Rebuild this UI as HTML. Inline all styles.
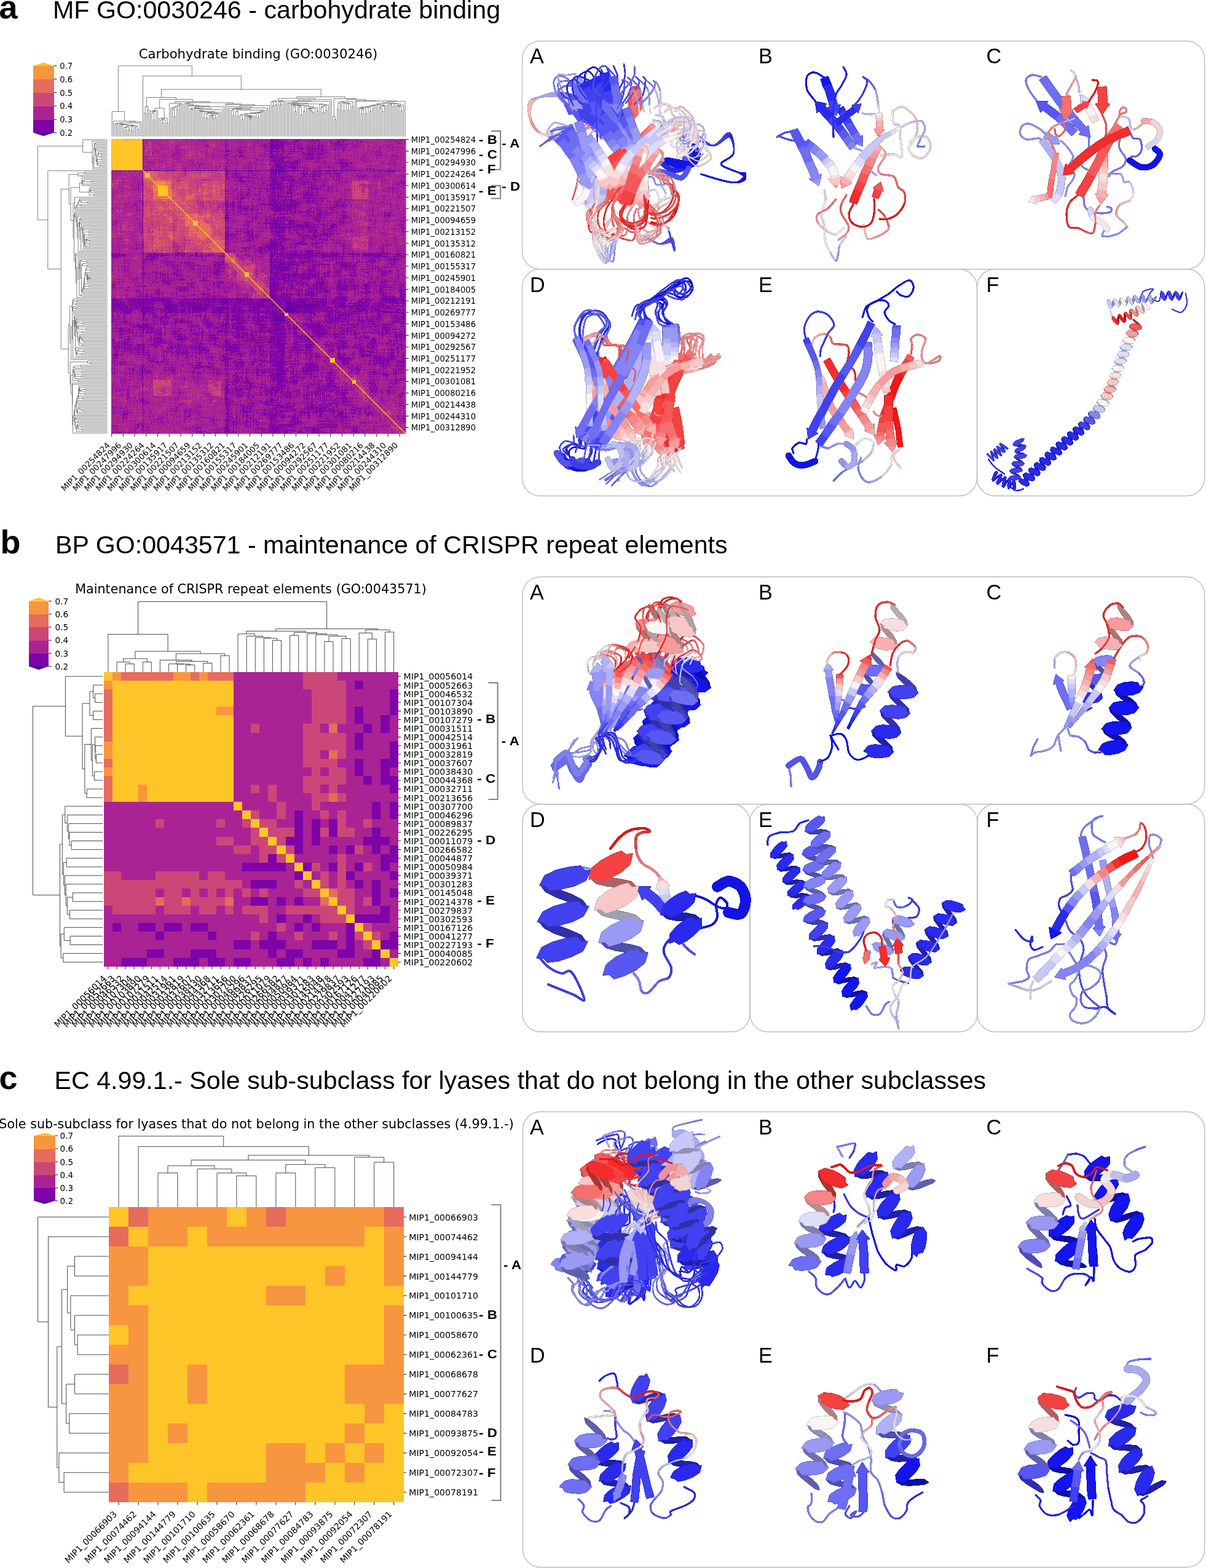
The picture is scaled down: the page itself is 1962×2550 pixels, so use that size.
<!DOCTYPE html>
<html><head><meta charset="utf-8"><title>figure</title>
<style>
html,body{margin:0;padding:0;background:#fff}
svg{display:block}
.dv{font-family:"DejaVu Sans","Liberation Sans",sans-serif;fill:#000}
.ls{font-family:"Liberation Sans","DejaVu Sans",sans-serif;fill:#000}
.tk{stroke:#262626;stroke-width:1.1;fill:none}
.dn{stroke:#2a2a2a;stroke-width:0.85;fill:none}
.da{stroke:#333;stroke-width:0.62;fill:none}
.br{stroke:#858585;stroke-width:2.1;fill:none}
.fr{stroke:#bdbdbd;stroke-width:1.4;fill:none}
.lp{fill:none;stroke-linecap:round;stroke-linejoin:round}
.sp{stroke-width:0.8;stroke-linejoin:round}
.hp{fill:none;stroke-linecap:round}
</style></head><body>
<svg width="1962" height="2550" viewBox="0 0 1962 2550">
<rect width="1962" height="2550" fill="#fff"/>
<text class="ls" x="-1.5" y="29.8" font-size="54" font-weight="bold">a</text>
<text class="ls" x="86" y="29.8" font-size="41.2">MF GO:0030246 - carbohydrate binding</text>
<text class="ls" x="0.5" y="900.4" font-size="54" font-weight="bold">b</text>
<text class="ls" x="90" y="900.4" font-size="41.2">BP GO:0043571 - maintenance of CRISPR repeat elements</text>
<text class="ls" x="-1.5" y="1771" font-size="54" font-weight="bold">c</text>
<text class="ls" x="88.5" y="1771" font-size="41.2">EC 4.99.1.- Sole sub-subclass for lyases that do not belong in the other subclasses</text>
<text class="dv" x="420" y="94.6" font-size="21.2" text-anchor="middle">Carbohydrate binding (GO:0030246)</text>
<g shape-rendering="crispEdges">
<rect x="54.1" y="194.2" width="33.6" height="22.1" fill="#7e03a8"/>
<rect x="54.1" y="172.4" width="33.6" height="22.1" fill="#aa2395"/>
<rect x="54.1" y="150.5" width="33.6" height="22.1" fill="#cc4778"/>
<rect x="54.1" y="128.7" width="33.6" height="22.1" fill="#e66c5c"/>
<rect x="54.1" y="106.9" width="33.6" height="22.1" fill="#f89540"/>
</g>
<path fill="#fdc527" d="M54.1 107.2L70.9 101.6L87.7 107.2z"/>
<path fill="#4c02a1" d="M54.1 215.7L70.9 221.3L87.7 215.7z"/>
<path class="tk" d="M87.7 216h4.6"/>
<text class="dv" x="97.2" y="221" font-size="13.2">0.2</text>
<path class="tk" d="M87.7 194.2h4.6"/>
<text class="dv" x="97.2" y="199.2" font-size="13.2">0.3</text>
<path class="tk" d="M87.7 172.4h4.6"/>
<text class="dv" x="97.2" y="177.4" font-size="13.2">0.4</text>
<path class="tk" d="M87.7 150.5h4.6"/>
<text class="dv" x="97.2" y="155.6" font-size="13.2">0.5</text>
<path class="tk" d="M87.7 128.7h4.6"/>
<text class="dv" x="97.2" y="133.7" font-size="13.2">0.6</text>
<path class="tk" d="M87.7 106.9h4.6"/>
<text class="dv" x="97.2" y="111.9" font-size="13.2">0.7</text>
<defs><filter id="hm" x="0" y="0" width="100%" height="100%" color-interpolation-filters="sRGB">
<feTurbulence type="fractalNoise" baseFrequency="0.6" numOctaves="1" seed="3"/><feColorMatrix type="matrix" values="1 0 0 0 0 1 0 0 0 0 1 0 0 0 0 0 0 0 0 1" result="g1"/>
<feTurbulence type="fractalNoise" baseFrequency="0.03 0.62" numOctaves="1" seed="5"/><feColorMatrix type="matrix" values="1 0 0 0 0 1 0 0 0 0 1 0 0 0 0 0 0 0 0 1" result="g2"/>
<feTurbulence type="fractalNoise" baseFrequency="0.62 0.03" numOctaves="1" seed="8"/><feColorMatrix type="matrix" values="1 0 0 0 0 1 0 0 0 0 1 0 0 0 0 0 0 0 0 1" result="g3"/>
<feTurbulence type="fractalNoise" baseFrequency="0.06" numOctaves="2" seed="11"/><feColorMatrix type="matrix" values="1 0 0 0 0 1 0 0 0 0 1 0 0 0 0 0 0 0 0 1" result="g4"/>
<feComposite in="g1" in2="g2" operator="arithmetic" k2="0.6" k3="0.38" k4="0.02" result="c1"/>
<feComposite in="g3" in2="g4" operator="arithmetic" k2="0.38" k3="0.4" k4="0.22" result="c2"/>
<feComposite in="c1" in2="c2" operator="arithmetic" k2="0.5" k3="0.5" result="c3"/>
<feComposite in="SourceGraphic" in2="c3" operator="arithmetic" k2="1" k3="1" k4="-0.56"/>
<feComponentTransfer><feFuncR type="discrete" tableValues="0.2980 0.4941 0.6667 0.8000 0.9020 0.9725 0.9922"/><feFuncG type="discrete" tableValues="0.0078 0.0118 0.1373 0.2784 0.4235 0.5843 0.7725"/><feFuncB type="discrete" tableValues="0.6314 0.6588 0.5843 0.4706 0.3608 0.2510 0.1529"/></feComponentTransfer>
</filter></defs>
<g transform="translate(181 226.2)"><g filter="url(#hm)"><g transform="scale(1.33855)" shape-rendering="crispEdges">
<rect width="358" height="358" fill="#494949"/>
<path fill="#404040" d="M0 193h38v18h-38zM193 0h18v38h-18z"/>
<path fill="#4b4b4b" d="M0 211h38v43h-38zM211 0h43v38h-43zM254 264h2v2h-2zM254 266h4v2h-4zM254 268h6v2h-6zM254 270h8v2h-8zM254 272h10v2h-10zM254 274h12v2h-12zM254 276h14v2h-14zM254 278h16v2h-16zM254 280h18v2h-18zM254 282h20v2h-20zM254 284h22v2h-22zM254 286h24v2h-24zM254 288h26v2h-26zM254 290h28v2h-28zM254 292h30v2h-30zM254 294h32v20h-32zM264 254h50v2h-50zM266 256h48v2h-48zM268 258h46v2h-46zM270 260h44v2h-44zM272 262h42v2h-42zM274 264h40v2h-40zM276 266h38v2h-38zM278 268h36v2h-36zM280 270h34v2h-34zM282 272h32v2h-32zM284 274h30v2h-30zM286 276h28v2h-28zM288 278h26v2h-26zM290 280h24v2h-24zM292 282h22v2h-22zM294 284h20v2h-20z"/>
<path fill="#4c4c4c" d="M0 138h38v5h-38zM138 0h5v38h-5zM143 286h50v72h-50zM286 143h72v50h-72z"/>
<path fill="#505050" d="M0 254h38v32h-38zM39 143h99v19h-99zM39 162h102v3h-102zM39 165h104v28h-104zM143 39h50v99h-50zM162 138h31v3h-31zM165 141h28v2h-28zM254 0h32v38h-32zM286 314h20v2h-20zM286 316h22v2h-22zM286 318h24v2h-24zM286 320h26v2h-26zM286 322h28v36h-28zM314 286h44v20h-44zM316 306h42v2h-42zM318 308h40v2h-40zM320 310h38v2h-38zM322 312h36v2h-36z"/>
<path fill="#575757" d="M0 143h38v50h-38zM0 286h38v72h-38zM143 0h50v38h-50zM254 254h10v2h-10zM254 256h12v2h-12zM254 258h14v2h-14zM254 260h16v2h-16zM254 262h18v2h-18zM256 264h18v2h-18zM258 266h18v2h-18zM260 268h18v2h-18zM262 270h18v2h-18zM264 272h18v2h-18zM266 274h18v2h-18zM268 276h18v2h-18zM270 278h18v2h-18zM272 280h18v2h-18zM274 282h18v2h-18zM276 284h18v2h-18zM278 286h8v2h-8zM280 288h6v2h-6zM282 290h4v2h-4zM284 292h2v2h-2zM286 296h2v2h-2zM286 298h4v2h-4zM286 300h6v2h-6zM286 302h8v2h-8zM286 304h10v2h-10zM286 306h12v2h-12zM286 308h14v2h-14zM286 310h16v2h-16zM286 312h18v2h-18zM286 0h72v38h-72zM296 286h18v2h-18zM298 288h16v2h-16zM300 290h14v2h-14zM302 292h12v2h-12zM304 294h10v2h-10zM306 296h8v2h-8zM308 298h6v2h-6zM310 300h4v2h-4zM312 302h2v2h-2z"/>
<path fill="#5f5f5f" d="M0 39h38v99h-38zM39 0h99v38h-99zM51 286h22v7h-22zM286 51h7v22h-7z"/>
<path fill="#ffffff" d="M0 0h38v38h-38z"/>
<path fill="#212121" d="M0 38h138v1h-138zM38 0h1v38h-1zM38 39h1v99h-1zM38 143h1v215h-1zM143 38h215v1h-215z"/>
<path fill="#161616" d="M38 138h1v5h-1zM138 38h5v1h-5z"/>
<path fill="#7c7c7c" d="M39 66h1v4h-1zM39 70h5v3h-5zM49 90h2v9h-2zM66 39h7v1h-7zM70 40h3v4h-3zM73 102h2v10h-2zM90 120h2v2h-2zM90 122h6v4h-6zM90 49h9v2h-9zM90 126h10v4h-10zM90 130h14v4h-14zM90 134h18v4h-18zM102 73h10v2h-10zM120 90h18v2h-18zM122 92h16v4h-16zM126 96h12v4h-12zM130 100h8v4h-8zM134 104h4v4h-4zM138 147h1v2h-1zM138 149h3v2h-3zM147 138h4v1h-4zM149 139h2v2h-2z"/>
<path fill="#878787" d="M39 52h1v2h-1zM39 54h3v2h-3zM39 56h5v2h-5zM39 58h7v2h-7zM39 60h9v2h-9zM39 62h11v2h-11zM39 64h12v2h-12zM40 66h11v4h-11zM44 70h7v3h-7zM49 73h11v1h-11zM49 74h13v1h-13zM51 90h13v4h-13zM51 94h17v4h-17zM51 98h21v1h-21zM52 39h14v1h-14zM54 40h16v2h-16zM54 99h18v3h-18zM54 102h19v2h-19zM56 42h14v2h-14zM58 44h15v2h-15zM59 104h14v5h-14zM60 46h13v2h-13zM62 48h11v1h-11zM62 49h13v1h-13zM64 109h9v3h-9zM64 50h11v1h-11zM73 51h2v9h-2zM73 90h2v12h-2zM74 60h1v2h-1zM75 75h13v1h-13zM75 76h15v12h-15zM76 88h14v2h-14zM90 118h2v2h-2zM90 51h9v3h-9zM90 73h12v2h-12zM90 54h14v5h-14zM90 59h19v5h-19zM92 120h16v2h-16zM94 64h18v4h-18zM96 122h14v2h-14zM96 124h16v2h-16zM98 68h14v4h-14zM100 126h14v2h-14zM100 128h16v2h-16zM102 72h10v1h-10zM104 130h14v2h-14zM104 132h16v2h-16zM108 134h14v2h-14zM108 136h16v2h-16zM118 90h2v2h-2zM120 92h2v4h-2zM120 96h6v4h-6zM120 100h10v4h-10zM120 104h14v4h-14zM122 108h16v2h-16zM124 110h14v2h-14zM126 112h12v2h-12zM128 114h10v2h-10zM130 116h8v2h-8zM132 118h6v2h-6zM134 120h4v2h-4zM136 122h2v2h-2zM153 153h10v2h-10zM153 155h12v2h-12zM153 157h14v2h-14zM153 159h16v2h-16zM153 161h18v2h-18zM155 163h18v2h-18zM157 165h16v2h-16zM159 167h14v2h-14zM161 169h12v2h-12zM163 171h10v2h-10z"/>
<path fill="#959595" d="M39 41h2v6h-2zM39 51h12v1h-12zM39 39h13v1h-13zM39 40h15v1h-15zM39 47h21v1h-21zM39 48h23v2h-23zM39 50h25v1h-25zM40 52h11v2h-11zM42 54h9v2h-9zM44 56h7v2h-7zM46 58h5v2h-5zM47 41h7v1h-7zM47 42h9v2h-9zM47 44h11v2h-11zM47 46h13v1h-13zM48 60h3v2h-3zM50 62h1v2h-1zM60 73h15v1h-15zM62 74h13v1h-13zM73 60h1v2h-1zM73 62h2v11h-2zM108 120h26v2h-26zM110 122h26v2h-26zM112 124h26v2h-26zM114 126h24v2h-24zM116 128h22v2h-22zM118 130h20v2h-20zM120 108h2v2h-2zM120 110h4v2h-4zM120 112h6v2h-6zM120 114h8v2h-8zM120 116h10v2h-10zM120 118h12v2h-12zM120 132h18v2h-18zM122 134h16v2h-16zM124 136h14v2h-14z"/>
<path fill="#717171" d="M39 89h5v1h-5zM89 39h1v5h-1z"/>
<path fill="#787878" d="M39 90h5v4h-5zM39 94h10v44h-10zM51 293h22v19h-22zM75 88h1v2h-1zM88 75h2v1h-2zM90 39h48v5h-48zM94 44h44v5h-44zM143 151h18v2h-18zM145 153h8v2h-8zM147 155h6v2h-6zM149 157h4v2h-4zM151 143h2v2h-2zM151 159h2v2h-2zM151 145h4v2h-4zM151 147h6v2h-6zM151 149h8v2h-8zM165 173h18v2h-18zM167 175h18v2h-18zM169 177h18v2h-18zM171 179h18v2h-18zM173 165h2v2h-2zM173 167h4v2h-4zM173 169h6v2h-6zM173 171h8v2h-8zM173 181h18v2h-18zM175 183h18v2h-18zM177 185h16v2h-16zM179 187h14v2h-14zM181 189h12v2h-12zM183 191h10v2h-10zM293 51h19v22h-19z"/>
<path fill="#818181" d="M39 73h5v1h-5zM39 74h9v1h-9zM44 90h5v4h-5zM73 39h2v5h-2zM74 44h1v4h-1zM90 44h4v5h-4z"/>
<path fill="#7a7a7a" d="M39 75h9v3h-9zM39 78h10v11h-10zM44 89h5v1h-5zM75 39h14v5h-14zM75 44h15v4h-15zM78 48h12v1h-12z"/>
<path fill="#4e4e4e" d="M39 264h12v22h-12zM39 254h99v10h-99zM73 264h65v22h-65zM221 224h3v6h-3zM222 230h2v2h-2zM224 221h6v1h-6zM224 222h8v2h-8zM238 247h9v1h-9zM240 248h7v2h-7zM242 250h5v2h-5zM244 252h3v2h-3zM247 238h1v2h-1zM247 240h3v2h-3zM247 242h5v2h-5zM247 244h7v3h-7zM254 51h10v22h-10zM254 39h32v12h-32zM254 73h32v65h-32z"/>
<path fill="#595959" d="M39 286h12v26h-12zM39 312h99v17h-99zM73 293h2v19h-2zM73 286h65v7h-65zM112 293h6v19h-6zM134 293h4v19h-4zM286 75h7v37h-7zM286 118h7v16h-7zM286 39h43v12h-43zM286 73h43v2h-43zM286 112h43v6h-43zM286 134h43v4h-43zM312 51h17v22h-17zM312 75h17v37h-17zM312 118h17v16h-17z"/>
<path fill="#3e3e3e" d="M39 193h99v18h-99zM138 254h5v32h-5zM193 39h18v99h-18zM193 254h18v32h-18zM254 138h32v5h-32zM254 193h32v18h-32z"/>
<path fill="#454545" d="M39 138h99v5h-99zM138 39h5v99h-5zM143 211h50v43h-50zM211 143h43v50h-43z"/>
<path fill="#494949" d="M39 211h99v43h-99zM143 254h50v32h-50zM211 39h43v99h-43zM211 286h43v72h-43zM224 224h10v2h-10zM224 226h12v2h-12zM224 228h14v2h-14zM224 230h16v2h-16zM224 232h18v2h-18zM226 234h18v2h-18zM228 236h18v2h-18zM230 238h17v2h-17zM232 240h15v2h-15zM234 242h13v2h-13zM236 244h11v2h-11zM238 246h9v1h-9zM254 143h32v50h-32zM286 211h72v43h-72z"/>
<path fill="#565656" d="M39 329h99v29h-99zM329 39h29v99h-29z"/>
<path fill="#e2e2e2" d="M41 41h6v6h-6z"/>
<path fill="#8c8c8c" d="M44 73h5v1h-5zM48 74h1v1h-1zM73 44h1v4h-1zM73 48h2v1h-2z"/>
<path fill="#858585" d="M48 75h1v3h-1zM75 48h3v1h-3z"/>
<path fill="#737373" d="M49 99h2v39h-2zM99 49h39v2h-39z"/>
<path fill="#757575" d="M49 82h2v8h-2zM49 78h3v4h-3zM75 102h1v4h-1zM75 106h5v4h-5zM75 110h9v4h-9zM75 114h13v4h-13zM75 118h15v6h-15zM78 51h4v1h-4zM78 49h12v2h-12zM79 124h11v5h-11zM84 129h6v5h-6zM89 134h1v4h-1zM102 75h22v1h-22zM106 76h18v3h-18zM106 79h23v1h-23zM110 80h19v4h-19zM114 84h20v4h-20zM118 88h16v1h-16zM118 89h20v1h-20zM153 163h2v2h-2zM153 165h4v2h-4zM153 167h6v2h-6zM153 169h8v2h-8zM153 171h10v2h-10zM163 153h10v2h-10zM165 155h8v2h-8zM167 157h6v2h-6zM169 159h4v2h-4zM171 161h2v2h-2z"/>
<path fill="#808080" d="M49 75h13v1h-13zM49 76h15v2h-15zM51 82h5v4h-5zM51 86h9v4h-9zM51 131h24v7h-24zM52 78h14v2h-14zM52 80h16v2h-16zM73 86h1v2h-1zM73 119h1v5h-1zM73 88h2v2h-2zM73 124h2v7h-2zM75 49h3v3h-3zM75 90h3v2h-3zM75 92h5v2h-5zM75 56h7v6h-7zM75 94h7v2h-7zM75 96h9v2h-9zM75 98h11v2h-11zM75 100h13v2h-13zM75 52h15v4h-15zM76 62h6v2h-6zM76 102h14v4h-14zM78 64h4v2h-4zM80 66h2v2h-2zM80 106h10v4h-10zM82 51h8v1h-8zM84 110h6v4h-6zM86 56h4v4h-4zM86 73h4v1h-4zM88 74h2v1h-2zM88 114h2v4h-2zM90 75h12v1h-12zM90 76h16v2h-16zM92 78h14v2h-14zM94 80h16v2h-16zM96 82h14v2h-14zM98 84h16v2h-16zM100 86h14v2h-14zM102 88h16v2h-16zM119 73h19v1h-19zM124 74h14v1h-14zM131 51h7v22h-7z"/>
<path fill="#a8a8a8" d="M51 64h1v2h-1zM51 66h3v2h-3zM51 68h5v2h-5zM51 70h7v2h-7zM51 72h9v1h-9zM64 51h9v1h-9zM66 52h7v2h-7zM68 54h5v2h-5zM70 56h3v2h-3zM72 58h1v2h-1z"/>
<path fill="#7e7e7e" d="M51 99h3v5h-3zM51 104h8v5h-8zM51 109h13v3h-13zM99 51h13v3h-13zM104 54h8v5h-8zM109 59h3v5h-3z"/>
<path fill="#8a8a8a" d="M51 112h13v2h-13zM51 114h18v5h-18zM51 119h22v12h-22zM56 82h14v2h-14zM56 84h16v2h-16zM60 86h13v4h-13zM82 56h4v4h-4zM82 60h8v10h-8zM84 70h6v2h-6zM86 72h4v1h-4zM112 51h19v13h-19zM114 64h17v5h-17zM119 69h12v4h-12z"/>
<path fill="#b6b6b6" d="M51 51h13v1h-13zM51 52h15v2h-15zM51 54h17v2h-17zM51 56h19v2h-19zM51 58h21v2h-21zM51 60h22v4h-22zM52 64h21v2h-21zM54 66h19v2h-19zM56 68h17v2h-17zM58 70h15v2h-15zM60 72h13v1h-13z"/>
<path fill="#545454" d="M51 264h22v22h-22zM212 212h10v2h-10zM212 214h12v2h-12zM212 221h12v1h-12zM212 216h14v2h-14zM212 218h16v2h-16zM212 220h18v1h-18zM214 222h10v2h-10zM216 224h5v2h-5zM218 226h3v2h-3zM220 228h1v2h-1zM246 254h8v2h-8zM247 247h9v1h-9zM247 248h11v2h-11zM247 250h13v2h-13zM247 252h15v2h-15zM248 256h6v2h-6zM250 258h4v2h-4zM252 260h2v2h-2zM254 246h2v1h-2zM264 51h22v22h-22zM314 324h2v2h-2zM314 326h4v2h-4zM314 328h6v2h-6zM314 330h8v2h-8zM314 332h10v2h-10zM314 334h12v2h-12zM314 336h14v2h-14zM314 338h16v2h-16zM314 340h18v2h-18zM314 342h20v2h-20zM314 344h22v2h-22zM314 346h24v2h-24zM314 348h26v2h-26zM314 350h28v2h-28zM314 352h30v2h-30zM314 354h32v2h-32zM314 356h34v2h-34zM324 314h34v2h-34zM326 316h32v2h-32zM328 318h30v2h-30zM330 320h28v2h-28zM332 322h26v2h-26zM334 324h24v2h-24zM336 326h22v2h-22zM338 328h20v2h-20zM340 330h18v2h-18zM342 332h16v2h-16zM344 334h14v2h-14zM346 336h12v2h-12zM348 338h10v2h-10zM350 340h8v2h-8zM352 342h6v2h-6zM354 344h4v2h-4zM356 346h2v2h-2z"/>
<path fill="#8e8e8e" d="M62 75h13v1h-13zM64 76h11v2h-11zM66 78h9v2h-9zM68 80h7v2h-7zM73 82h2v4h-2zM74 86h1v2h-1zM75 62h1v2h-1zM75 64h3v2h-3zM75 66h5v2h-5zM75 68h7v5h-7zM75 73h11v1h-11zM75 74h13v1h-13zM78 90h12v2h-12zM80 92h10v2h-10zM82 94h8v2h-8zM84 96h6v2h-6zM86 98h4v2h-4zM88 100h2v2h-2zM90 78h2v2h-2zM90 80h4v2h-4zM90 82h6v2h-6zM90 84h8v2h-8zM90 86h10v2h-10zM90 88h12v2h-12zM138 143h5v4h-5zM139 147h4v2h-4zM141 149h2v2h-2zM143 138h4v1h-4zM143 139h6v2h-6zM143 141h8v2h-8z"/>
<path fill="#929292" d="M64 90h9v4h-9zM68 94h5v4h-5zM72 98h1v4h-1zM90 104h2v2h-2zM90 64h4v4h-4zM90 106h4v2h-4zM90 108h6v2h-6zM90 68h8v4h-8zM90 110h8v2h-8zM90 112h10v2h-10zM90 72h12v1h-12zM90 114h12v2h-12zM90 116h14v2h-14zM92 118h14v2h-14zM104 90h14v2h-14zM106 92h14v2h-14zM108 94h12v2h-12zM110 96h10v2h-10zM112 98h8v2h-8zM114 100h6v2h-6zM116 102h4v2h-4zM118 104h2v2h-2z"/>
<path fill="#949494" d="M64 112h9v2h-9zM69 114h4v5h-4zM112 64h2v5h-2zM112 69h7v4h-7z"/>
<path fill="#999999" d="M70 82h3v2h-3zM72 84h1v2h-1zM82 70h2v2h-2zM82 72h4v1h-4zM143 143h8v8h-8z"/>
<path fill="#898989" d="M73 112h2v7h-2zM74 119h1v5h-1zM112 73h7v1h-7zM112 74h12v1h-12z"/>
<path fill="#6b6b6b" d="M75 124h4v5h-4zM75 129h9v5h-9zM75 134h14v4h-14zM124 75h14v4h-14zM129 79h9v5h-9zM134 84h4v5h-4z"/>
<path fill="#616161" d="M75 293h37v19h-37zM293 75h19v37h-19zM314 314h10v2h-10zM314 316h12v2h-12zM314 318h14v2h-14zM314 320h16v2h-16zM314 322h18v2h-18zM316 324h18v2h-18zM318 326h18v2h-18zM320 328h18v2h-18zM322 330h18v2h-18zM324 332h18v2h-18zM326 334h18v2h-18zM328 336h18v2h-18zM330 338h18v2h-18zM332 340h18v2h-18zM334 342h18v2h-18zM336 344h18v2h-18zM338 346h18v2h-18zM340 348h18v2h-18zM342 350h16v2h-16zM344 352h14v2h-14zM346 354h12v2h-12zM348 356h10v2h-10z"/>
<path fill="#a0a0a0" d="M90 90h14v2h-14zM90 92h16v2h-16zM90 94h18v2h-18zM90 96h20v2h-20zM90 98h22v2h-22zM90 100h24v2h-24zM90 102h26v2h-26zM92 104h26v2h-26zM94 106h26v2h-26zM96 108h24v2h-24zM98 110h22v2h-22zM100 112h20v2h-20zM102 114h18v2h-18zM104 116h16v2h-16zM106 118h14v2h-14z"/>
<path fill="#6f6f6f" d="M118 293h16v19h-16zM293 118h19v16h-19z"/>
<path fill="#313131" d="M138 193h5v18h-5zM193 138h18v5h-18z"/>
<path fill="#3a3a3a" d="M138 211h5v43h-5zM193 211h4v10h-4zM193 197h18v14h-18zM193 221h18v33h-18zM193 193h61v4h-61zM211 138h43v5h-43zM221 197h33v14h-33z"/>
<path fill="#424242" d="M138 286h5v72h-5zM193 286h18v72h-18zM211 212h1v8h-1zM212 211h8v1h-8zM221 230h1v2h-1zM221 232h3v15h-3zM221 247h17v1h-17zM221 248h19v2h-19zM221 250h21v2h-21zM221 252h23v2h-23zM230 221h24v1h-24zM232 222h22v2h-22zM247 224h7v14h-7zM248 238h6v2h-6zM250 240h4v2h-4zM252 242h2v2h-2zM286 138h72v5h-72zM286 193h72v18h-72z"/>
<path fill="#5b5b5b" d="M138 151h5v11h-5zM141 162h2v3h-2zM143 165h1v3h-1zM143 168h4v3h-4zM143 171h7v3h-7zM143 174h10v3h-10zM143 177h13v3h-13zM143 180h16v3h-16zM143 183h19v3h-19zM143 186h22v3h-22zM143 189h25v3h-25zM143 192h28v1h-28zM151 138h11v3h-11zM151 141h14v2h-14zM165 143h28v1h-28zM168 144h25v3h-25zM171 147h22v3h-22zM174 150h19v3h-19zM177 153h16v3h-16zM180 156h13v3h-13zM183 159h10v3h-10zM186 162h7v3h-7zM189 165h4v3h-4zM192 168h1v3h-1z"/>
<path fill="#838383" d="M138 138h5v5h-5z"/>
<path fill="#666666" d="M143 153h2v2h-2zM143 155h4v2h-4zM143 157h6v2h-6zM143 159h8v2h-8zM143 161h10v4h-10zM144 165h9v3h-9zM147 168h6v3h-6zM150 171h3v2h-3zM150 173h15v1h-15zM153 143h12v1h-12zM153 174h12v1h-12zM153 175h14v2h-14zM153 144h15v1h-15zM155 145h13v2h-13zM156 177h13v2h-13zM156 179h15v1h-15zM157 147h14v2h-14zM159 149h12v1h-12zM159 180h12v1h-12zM159 181h14v2h-14zM159 150h15v1h-15zM161 151h13v2h-13zM162 183h13v2h-13zM162 185h15v1h-15zM165 186h12v1h-12zM165 187h14v2h-14zM168 189h13v2h-13zM168 191h15v1h-15zM171 192h12v1h-12zM173 153h4v3h-4zM173 156h7v3h-7zM173 159h10v3h-10zM173 162h13v3h-13zM175 165h14v2h-14zM177 167h12v1h-12zM177 168h15v1h-15zM179 169h13v2h-13zM181 171h12v2h-12zM183 173h10v2h-10zM185 175h8v2h-8zM187 177h6v2h-6zM189 179h4v2h-4zM191 181h2v2h-2z"/>
<path fill="#3c3c3c" d="M143 193h50v18h-50zM193 143h18v50h-18zM224 234h2v2h-2zM224 236h4v2h-4zM224 238h6v2h-6zM224 240h8v2h-8zM224 242h10v2h-10zM224 244h12v2h-12zM224 246h14v1h-14zM234 224h13v2h-13zM236 226h11v2h-11zM238 228h9v2h-9zM240 230h7v2h-7zM242 232h5v2h-5zM244 234h3v2h-3zM246 236h1v2h-1z"/>
<path fill="#282828" d="M197 211h14v10h-14zM211 197h10v14h-10z"/>
<path fill="#2f2f2f" d="M211 211h1v1h-1z"/>
<path fill="#353535" d="M211 220h1v1h-1zM220 211h1v1h-1z"/>
<path fill="#474747" d="M211 221h1v1h-1zM211 222h3v2h-3zM211 224h5v2h-5zM211 226h7v2h-7zM211 228h9v2h-9zM211 230h10v24h-10zM211 254h35v2h-35zM211 256h37v2h-37zM211 258h39v2h-39zM211 260h41v2h-41zM211 262h43v24h-43zM221 211h65v1h-65zM222 212h64v2h-64zM224 214h62v2h-62zM226 216h60v2h-60zM228 218h58v2h-58zM230 220h56v1h-56zM254 221h32v25h-32zM254 314h32v44h-32zM256 246h30v2h-30zM258 248h28v2h-28zM260 250h26v2h-26zM262 252h24v2h-24zM314 254h44v32h-44z"/>
<path fill="#646464" d="M286 286h10v2h-10zM286 288h12v2h-12zM286 290h14v2h-14zM286 292h16v2h-16zM286 294h18v2h-18zM288 296h18v2h-18zM290 298h18v2h-18zM292 300h18v2h-18zM294 302h18v2h-18zM296 304h18v2h-18zM298 306h16v2h-16zM300 308h14v2h-14zM302 310h12v2h-12zM304 312h10v2h-10z"/>
<path fill="#5d5d5d" d="M306 314h8v2h-8zM308 316h6v2h-6zM310 318h4v2h-4zM312 320h2v2h-2zM314 306h2v2h-2zM314 308h4v2h-4zM314 310h6v2h-6zM314 312h8v2h-8z"/>
</g></g>
<g transform="scale(1.33855)" shape-rendering="crispEdges">
<rect x="0" y="0" width="38" height="38" fill="#fdc527"/>
<path fill="#f89540" d="M7 0h1v1h-1zM0 7h1v1h-1zM12 0h1v1h-1zM0 12h1v1h-1zM14 0h1v1h-1zM0 14h1v1h-1zM17 0h1v1h-1zM0 17h1v1h-1zM18 0h1v1h-1zM0 18h1v1h-1zM19 0h1v1h-1zM0 19h1v1h-1zM22 0h1v1h-1zM0 22h1v1h-1zM24 0h1v1h-1zM0 24h1v1h-1zM26 0h1v1h-1zM0 26h1v1h-1zM27 0h1v1h-1zM0 27h1v1h-1zM29 0h1v1h-1zM0 29h1v1h-1zM30 0h1v1h-1zM0 30h1v1h-1zM33 0h1v1h-1zM0 33h1v1h-1zM37 0h1v1h-1zM0 37h1v1h-1z"/>
<path d="M38 38L358 358" stroke="#fdc527" stroke-width="1.05" shape-rendering="auto"/>
<path fill="#fdc527" d="M41 41h6v6h-6zM57 57h12v12h-12zM99 99h6v6h-6zM162 162h5v5h-5zM211 211h4v4h-4zM266 266h6v6h-6zM293 293h4v4h-4z"/>
</g></g>
<path class="da" d="M187 222V202H189.4V222M188.2 202V200.6H191.8V222M203.8 222V211.5H206.2V222M201.4 222V207.4H205V211.5M208.6 222V211.5H210.9V222M203.2 207.4V206.7H209.8V211.5M213.3 222V212.7H215.7V222M214.5 212.7V204.8H218.1V222M206.5 206.7V204.7H216.3V204.8M222.9 222V210.2H225.3V222M220.5 222V205.8H224.1V210.2M211.4 204.7V204.6H222.3V205.8M199 222V202.9H216.9V204.6M196.6 222V202.4H207.9V202.9M194.2 222V202.2H202.2V202.4M190 200.6V200.3H198.2V202.2M194.1 200.3V199.9H227.7V222M210.9 199.9V198H230.1V222M184.6 222V197H220.5V198M182.2 222V181.4H202.6V197M234.9 222V184H237.3V222M239.7 222V179H242.1V222M236.1 184V173.5H240.9V179M249.3 222V195H251.7V222M246.9 222V183.7H250.5V195M248.7 183.7V181.5H254.1V222M244.5 222V180.4H251.4V181.5M247.9 180.4V180H256.5V222M263.7 222V199.8H266.1V222M261.3 222V195.2H264.9V199.8M263.1 195.2V194.6H268.5V222M258.9 222V192.7H265.8V194.6M270.9 222V200.1H273.2V222M262.3 192.7V192H272V200.1M252.2 180V176H267.2V192M282.8 222V189.4H285.2V222M280.4 222V178.4H284V189.4M278 222V176.2H282.2V178.4M287.6 222V178H290V222M280.1 176.2V174.9H288.8V178M284.5 174.9V172.8H292.4V222M288.4 172.8V171H294.8V222M291.6 171V169.1H297.2V222M275.6 222V168H294.4V169.1M311.6 222V178.5H314V222M309.2 222V177.1H312.8V178.5M330.8 222V191H333.1V222M335.5 222V192.2H337.9V222M345.1 222V192.5H347.5V222M342.7 222V189.8H346.3V192.5M349.9 222V192.1H352.3V222M344.5 189.8V187.9H351.1V192.1M340.3 222V187.3H347.8V187.9M344.1 187.3V185.2H354.7V222M349.4 185.2V184.7H357.1V222M336.7 192.2V184.1H353.2V184.7M331.9 191V183.8H345V184.1M338.5 183.8V182.4H359.5V222M328.4 222V181.5H349V182.4M326 222V181.2H338.7V181.5M323.6 222V181.1H332.3V181.2M321.2 222V179.2H327.9V181.1M324.6 179.2V178.4H361.9V222M318.8 222V176.3H343.2V178.4M316.4 222V176.1H331V176.3M311 177.1V175.8H323.7V176.1M317.3 175.8V173.6H364.3V222M306.8 222V172.3H340.8V173.6M304.4 222V171.3H323.8V172.3M302 222V169.3H314.1V171.3M299.6 222V168H308V169.3M378.7 222V187.8H381.1V222M376.3 222V179.1H379.9V187.8M385.9 222V188.5H388.3V222M383.5 222V181H387.1V188.5M393 222V194.2H395.4V222M390.6 222V187H394.2V194.2M405 222V193.2H407.4V222M406.2 193.2V192.9H409.8V222M402.6 222V191H408V192.9M405.3 191V190.6H412.2V222M400.2 222V189.4H408.8V190.6M404.5 189.4V188.8H414.6V222M397.8 222V188H409.6V188.8M392.4 187V186.4H403.7V188M398.1 186.4V184.6H417V222M419.4 222V191.3H421.8V222M407.5 184.6V183.5H420.6V191.3M414.1 183.5V183.4H424.2V222M419.1 183.4V182.5H426.6V222M422.9 182.5V180.9H429V222M425.9 180.9V179.7H431.4V222M385.3 181V179.2H428.7V179.7M378.1 179.1V177.4H407V179.2M373.9 222V176.3H392.5V177.4M433.8 222V178.6H436.2V222M383.2 176.3V175.6H435V178.6M371.5 222V173.6H409.1V175.6M390.3 173.6V171.5H438.6V222M369.1 222V170H414.4V171.5M366.7 222V169H391.8V170M303.8 168V167H379.2V169M285 168V165.5H341.5V167M259.7 176V161.5H313.3V165.5M238.5 173.5V158.5H286.5V161.5M443.4 222V171.5H445.8V222M441 222V165.5H444.6V171.5M448.2 222V170.4H450.6V222M442.8 165.5V164.8H449.4V170.4M455.3 222V169.6H457.7V222M452.9 222V165.6H456.5V169.6M454.7 165.6V164.5H460.1V222M457.4 164.5V164.2H462.5V222M446.1 164.8V164H460V164.2M479.3 222V181.6H481.7V222M476.9 222V173H480.5V181.6M488.9 222V186.6H491.3V222M486.5 222V174.1H490.1V186.6M484.1 222V172.1H488.3V174.1M493.7 222V181.1H496.1V222M508.1 222V183.1H510.4V222M505.7 222V180.9H509.3V183.1M503.3 222V179.6H507.5V180.9M500.9 222V177.7H505.4V179.6M503.1 177.7V176.5H512.8V222M498.5 222V176.1H508V176.5M515.2 222V180.3H517.6V222M503.2 176.1V175H516.4V180.3M494.9 181.1V173.1H509.8V175M486.2 172.1V171.6H502.4V173.1M478.7 173V171.1H494.3V171.6M474.5 222V170.6H486.5V171.1M472.1 222V169.7H480.5V170.6M524.8 222V182.9H527.2V222M522.4 222V174.2H526V182.9M529.6 222V179.4H532V222M524.2 174.2V172.3H530.8V179.4M527.5 172.3V170.9H534.4V222M520 222V169.9H531V170.9M476.3 169.7V169H525.5V169.9M469.7 222V167.9H500.9V169M467.3 222V167.2H485.3V167.9M476.3 167.2V165H536.8V222M464.9 222V164.1H506.6V165M485.7 164.1V162H539.2V222M453 164V160H512.5V162M544 222V194H546.4V222M541.6 222V189H545.2V194M548.8 222V177.8H551.2V222M550 177.8V167.5H553.6V222M558.4 222V180H560.8V222M565.6 222V179.4H568V222M563.2 222V169.2H566.8V179.4M565 169.2V168.2H570.3V222M559.6 180V167.4H567.7V168.2M556 222V167.3H563.6V167.4M551.8 167.5V165.7H559.8V167.3M572.7 222V173.5H575.1V222M555.8 165.7V165H573.9V173.5M587.1 222V185.2H589.5V222M588.3 185.2V178.5H591.9V222M584.7 222V176.4H590.1V178.5M594.3 222V184.5H596.7V222M587.4 176.4V176.1H595.5V184.5M582.3 222V175.2H591.5V176.1M586.9 175.2V174.2H599.1V222M601.5 222V180.6H603.9V222M593 174.2V174H602.7V180.6M597.8 174V172.8H606.3V222M602.1 172.8V171.4H608.7V222M605.4 171.4V171.2H611.1V222M620.7 222V181.2H623.1V222M618.3 222V176.9H621.9V181.2M615.9 222V174.9H620.1V176.9M618 174.9V172.8H625.5V222M621.7 172.8V171.8H627.9V222M613.5 222V170.3H624.8V171.8M608.2 171.2V170.1H619.1V170.3M613.7 170.1V168H630.2V222M635 222V170.2H637.4V222M632.6 222V168.7H636.2V170.2M639.8 222V173.3H642.2V222M651.8 222V179.9H654.2V222M649.4 222V173.5H653V179.9M647 222V172.4H651.2V173.5M644.6 222V172.1H649.1V172.4M646.9 172.1V170.9H656.6V222M641 173.3V168.9H651.7V170.9M634.4 168.7V168.3H646.4V168.9M622 168V167H640.4V168.3M631.2 167V164.8H659V222M579.9 222V164.2H645.1V164.8M577.5 222V164H612.5V164.2M564.9 165V161.5H595V164M543.4 189V160.5H579.9V161.5M482.7 160V157.5H561.7V160.5M262.5 158.5V145.3H522.2V157.5M232.5 222V123.6H392.4V145.3M192.4 181.4V107H312.4V123.6"/>
<path class="da" d="M174.7 232.2H155V234.6H174.7M155 233.4H153.6V237H174.7M174.7 249H164.3V251.4H174.7M174.7 246.6H160.4V250.2H164.3M174.7 253.8H164.3V256.1H174.7M160.4 248.4H159.7V255H164.3M174.7 258.5H165.6V260.9H174.7M165.6 259.7H157.8V263.3H174.7M159.7 251.7H157.7V261.5H157.8M174.7 268.1H163.1V270.5H174.7M174.7 265.7H158.7V269.3H163.1M157.7 256.6H157.6V267.5H158.7M174.7 244.2H155.9V262.1H157.6M174.7 241.8H155.4V253.1H155.9M174.7 239.4H155.2V247.4H155.4M153.6 235.2H153.3V243.4H155.2M153.3 239.3H152.9V272.9H174.7M152.9 256.1H151.1V275.3H174.7M174.7 229.8H150.1V265.7H151.1M174.7 227.4H134.7V247.8H150.1M174.7 280.1H137.3V282.5H174.7M174.7 284.9H132.3V287.3H174.7M137.3 281.3H126.9V286.1H132.3M174.7 294.5H148.1V296.9H174.7M174.7 292.1H136.9V295.7H148.1M136.9 293.9H134.8V299.3H174.7M174.7 289.7H133.7V296.6H134.8M133.7 293.1H133.3V301.7H174.7M174.7 308.9H152.8V311.3H174.7M174.7 306.5H148.3V310.1H152.8M148.3 308.3H147.7V313.7H174.7M174.7 304.1H145.9V311H147.7M174.7 316H153.1V318.4H174.7M145.9 307.5H145.1V317.2H153.1M133.3 297.4H129.4V312.4H145.1M174.7 328H142.6V330.4H174.7M174.7 325.6H131.7V329.2H142.6M174.7 323.2H129.6V327.4H131.7M174.7 332.8H131.4V335.2H174.7M129.6 325.3H128.3V334H131.4M128.3 329.7H126.2V337.6H174.7M126.2 333.6H124.4V340H174.7M124.4 336.8H122.5V342.4H174.7M174.7 320.8H121.5V339.6H122.5M174.7 356.8H131.9V359.2H174.7M174.7 354.4H130.5V358H131.9M174.7 375.9H144.2V378.3H174.7M174.7 380.7H145.4V383.1H174.7M174.7 390.3H145.6V392.7H174.7M174.7 387.9H143V391.5H145.6M174.7 395.1H145.3V397.5H174.7M143 389.7H141.1V396.3H145.3M174.7 385.5H140.5V393H141.1M140.5 389.3H138.5V399.9H174.7M138.5 394.6H137.9V402.3H174.7M145.4 381.9H137.3V398.4H137.9M144.2 377.1H137V390.2H137.3M137 383.7H135.7V404.7H174.7M174.7 373.6H134.8V394.2H135.7M174.7 371.2H134.5V383.9H134.8M174.7 368.8H134.4V377.5H134.5M174.7 366.4H132.5V373.1H134.4M132.5 369.8H131.7V407.1H174.7M174.7 364H129.7V388.4H131.7M174.7 361.6H129.4V376.2H129.7M130.5 356.2H129.2V368.9H129.4M129.2 362.5H127.1V409.5H174.7M174.7 352H125.8V386H127.1M174.7 349.6H124.8V369H125.8M174.7 347.2H122.8V359.3H124.8M174.7 344.8H121.5V353.2H122.8M174.7 423.9H141V426.3H174.7M174.7 421.5H132.4V425.1H141M174.7 431.1H141.7V433.5H174.7M174.7 428.7H134.3V432.3H141.7M174.7 438.2H147.3V440.6H174.7M174.7 435.9H140.2V439.4H147.3M174.7 450.2H146.3V452.6H174.7M146.3 451.4H146V455H174.7M174.7 447.8H144.2V453.2H146M144.2 450.5H143.7V457.4H174.7M174.7 445.4H142.5V454H143.7M142.5 449.7H142V459.8H174.7M174.7 443H141.2V454.8H142M140.2 437.6H139.6V448.9H141.2M139.6 443.3H137.8V462.2H174.7M174.7 464.6H144.5V467H174.7M137.8 452.7H136.8V465.8H144.5M136.8 459.3H136.6V469.4H174.7M136.6 464.3H135.7V471.8H174.7M135.7 468.1H134.2V474.2H174.7M134.2 471.1H133.1V476.6H174.7M134.3 430.5H132.5V473.9H133.1M132.4 423.3H130.7V452.2H132.5M174.7 419.1H129.7V437.7H130.7M174.7 479H131.9V481.4H174.7M129.7 428.4H129V480.2H131.9M174.7 416.7H127V454.3H129M127 435.5H124.9V483.8H174.7M174.7 414.3H123.5V459.6H124.9M174.7 411.9H122.5V437H123.5M121.5 349H120.5V424.4H122.5M121.5 330.2H119V386.7H120.5M129.4 304.9H115.1V358.5H119M126.9 283.7H112.2V331.7H115.1M174.7 488.6H125V491H174.7M174.7 486.2H119V489.8H125M174.7 493.4H123.8V495.8H174.7M119 488H118.3V494.6H123.8M174.7 500.5H123.1V502.9H174.7M174.7 498.1H119.2V501.7H123.1M119.2 499.9H118.1V505.3H174.7M118.1 502.6H117.8V507.7H174.7M118.3 491.3H117.6V505.2H117.8M174.7 524.5H134.9V526.9H174.7M174.7 522.1H126.4V525.7H134.9M174.7 534.1H139.8V536.5H174.7M174.7 531.7H127.5V535.3H139.8M174.7 529.3H125.6V533.5H127.5M174.7 538.9H134.4V541.3H174.7M174.7 553.3H136.4V555.6H174.7M174.7 550.9H134.2V554.5H136.4M174.7 548.5H132.9V552.7H134.2M174.7 546.1H131.1V550.6H132.9M131.1 548.3H129.8V558H174.7M174.7 543.7H129.5V553.2H129.8M174.7 560.4H133.6V562.8H174.7M129.5 548.4H128.4V561.6H133.6M134.4 540.1H126.6V555H128.4M125.6 531.4H125V547.6H126.6M126.4 523.9H124.6V539.5H125M174.7 519.7H124V531.7H124.6M174.7 517.3H123.2V525.7H124M174.7 570H136.2V572.4H174.7M174.7 567.6H127.6V571.2H136.2M174.7 574.8H132.7V577.2H174.7M127.6 569.4H125.7V576H132.7M125.7 572.7H124.4V579.6H174.7M174.7 565.2H123.4V576.2H124.4M123.2 521.5H122.5V570.7H123.4M174.7 514.9H121.4V546.1H122.5M174.7 512.5H120.7V530.5H121.4M120.7 521.5H118.6V582H174.7M174.7 510.1H117.6V551.8H118.6M117.6 530.9H115.6V584.4H174.7M117.6 498.2H113.6V557.7H115.6M174.7 589.2H147.1V591.6H174.7M174.7 586.8H142.2V590.4H147.1M174.7 594H131.2V596.4H174.7M131.2 595.2H121V598.8H174.7M174.7 603.6H133.3V606H174.7M174.7 610.8H132.8V613.2H174.7M174.7 608.4H122.6V612H132.8M122.6 610.2H121.7V615.5H174.7M133.3 604.8H120.9V612.9H121.7M174.7 601.2H120.8V608.8H120.9M121 597H119.2V605H120.8M174.7 617.9H126.9V620.3H174.7M119.2 601H118.6V619.1H126.9M174.7 632.3H138.5V634.7H174.7M138.5 633.5H131.9V637.1H174.7M174.7 629.9H129.7V635.3H131.9M174.7 639.5H137.7V641.9H174.7M129.7 632.6H129.5V640.7H137.7M174.7 627.5H128.6V636.7H129.5M128.6 632.1H127.6V644.3H174.7M174.7 646.7H133.9V649.1H174.7M127.6 638.2H127.5V647.9H133.9M127.5 643H126.2V651.5H174.7M126.2 647.3H124.9V653.9H174.7M124.9 650.6H124.7V656.3H174.7M174.7 665.9H134.5V668.3H174.7M174.7 663.5H130.2V667.1H134.5M174.7 661.1H128.3V665.3H130.2M128.3 663.2H126.2V670.7H174.7M126.2 666.9H125.3V673.1H174.7M174.7 658.7H123.8V670H125.3M124.7 653.4H123.6V664.3H123.8M123.6 658.9H121.5V675.5H174.7M174.7 680.2H123.7V682.6H174.7M174.7 677.8H122.2V681.4H123.7M174.7 685H126.7V687.4H174.7M174.7 697H133.2V699.4H174.7M174.7 694.6H126.9V698.2H133.2M174.7 692.2H125.9V696.4H126.9M174.7 689.8H125.5V694.3H125.9M125.5 692.1H124.4V701.8H174.7M126.7 686.2H122.4V696.9H124.4M122.2 679.6H121.8V691.6H122.4M121.5 667.2H120.5V685.6H121.8M120.5 676.4H118.4V704.2H174.7M174.7 625.1H117.8V690.3H118.4M174.7 622.7H117.6V657.7H117.8M118.6 610.1H115.1V640.2H117.6M142.2 588.6H114.1V625.1H115.1M113.6 527.9H111.2V606.9H114.1M112.2 307.7H99.2V567.4H111.2M174.7 277.7H77.8V437.6H99.2M134.7 237.6H61.4V357.6H77.8"/>
<text class="dv" x="668.8" y="231.9" font-size="13.2">MIP1_00254824</text>
<text class="dv" x="668.8" y="250.6" font-size="13.2">MIP1_00247996</text>
<text class="dv" x="668.8" y="269.4" font-size="13.2">MIP1_00294930</text>
<text class="dv" x="668.8" y="288.1" font-size="13.2">MIP1_00224264</text>
<text class="dv" x="668.8" y="306.8" font-size="13.2">MIP1_00300614</text>
<text class="dv" x="668.8" y="325.6" font-size="13.2">MIP1_00135917</text>
<text class="dv" x="668.8" y="344.3" font-size="13.2">MIP1_00221507</text>
<text class="dv" x="668.8" y="363.1" font-size="13.2">MIP1_00094659</text>
<text class="dv" x="668.8" y="381.8" font-size="13.2">MIP1_00213152</text>
<text class="dv" x="668.8" y="400.5" font-size="13.2">MIP1_00135312</text>
<text class="dv" x="668.8" y="419.3" font-size="13.2">MIP1_00160821</text>
<text class="dv" x="668.8" y="438" font-size="13.2">MIP1_00155317</text>
<text class="dv" x="668.8" y="456.8" font-size="13.2">MIP1_00245901</text>
<text class="dv" x="668.8" y="475.5" font-size="13.2">MIP1_00184005</text>
<text class="dv" x="668.8" y="494.2" font-size="13.2">MIP1_00212191</text>
<text class="dv" x="668.8" y="513" font-size="13.2">MIP1_00269777</text>
<text class="dv" x="668.8" y="531.7" font-size="13.2">MIP1_00153486</text>
<text class="dv" x="668.8" y="550.5" font-size="13.2">MIP1_00094272</text>
<text class="dv" x="668.8" y="569.2" font-size="13.2">MIP1_00292567</text>
<text class="dv" x="668.8" y="587.9" font-size="13.2">MIP1_00251177</text>
<text class="dv" x="668.8" y="606.7" font-size="13.2">MIP1_00221952</text>
<text class="dv" x="668.8" y="625.4" font-size="13.2">MIP1_00301081</text>
<text class="dv" x="668.8" y="644.2" font-size="13.2">MIP1_00080216</text>
<text class="dv" x="668.8" y="662.9" font-size="13.2">MIP1_00214438</text>
<text class="dv" x="668.8" y="681.6" font-size="13.2">MIP1_00244310</text>
<text class="dv" x="668.8" y="700.4" font-size="13.2">MIP1_00312890</text>
<path class="tk" d="M660.2 226.9h4.6M660.2 245.6h4.6M660.2 264.3h4.6M660.2 283.1h4.6M660.2 301.8h4.6M660.2 320.6h4.6M660.2 339.3h4.6M660.2 358h4.6M660.2 376.8h4.6M660.2 395.5h4.6M660.2 414.3h4.6M660.2 433h4.6M660.2 451.7h4.6M660.2 470.5h4.6M660.2 489.2h4.6M660.2 508h4.6M660.2 526.7h4.6M660.2 545.4h4.6M660.2 564.2h4.6M660.2 582.9h4.6M660.2 601.7h4.6M660.2 620.4h4.6M660.2 639.1h4.6M660.2 657.9h4.6M660.2 676.6h4.6M660.2 695.4h4.6"/>
<text class="dv" x="179.6" y="725" font-size="13.2" text-anchor="end" transform="rotate(-45 179.6 725)">MIP1_00254824</text>
<text class="dv" x="198.3" y="725" font-size="13.2" text-anchor="end" transform="rotate(-45 198.3 725)">MIP1_00247996</text>
<text class="dv" x="217" y="725" font-size="13.2" text-anchor="end" transform="rotate(-45 217 725)">MIP1_00294930</text>
<text class="dv" x="235.8" y="725" font-size="13.2" text-anchor="end" transform="rotate(-45 235.8 725)">MIP1_00224264</text>
<text class="dv" x="254.5" y="725" font-size="13.2" text-anchor="end" transform="rotate(-45 254.5 725)">MIP1_00300614</text>
<text class="dv" x="273.3" y="725" font-size="13.2" text-anchor="end" transform="rotate(-45 273.3 725)">MIP1_00135917</text>
<text class="dv" x="292" y="725" font-size="13.2" text-anchor="end" transform="rotate(-45 292 725)">MIP1_00221507</text>
<text class="dv" x="310.7" y="725" font-size="13.2" text-anchor="end" transform="rotate(-45 310.7 725)">MIP1_00094659</text>
<text class="dv" x="329.5" y="725" font-size="13.2" text-anchor="end" transform="rotate(-45 329.5 725)">MIP1_00213152</text>
<text class="dv" x="348.2" y="725" font-size="13.2" text-anchor="end" transform="rotate(-45 348.2 725)">MIP1_00135312</text>
<text class="dv" x="367" y="725" font-size="13.2" text-anchor="end" transform="rotate(-45 367 725)">MIP1_00160821</text>
<text class="dv" x="385.7" y="725" font-size="13.2" text-anchor="end" transform="rotate(-45 385.7 725)">MIP1_00155317</text>
<text class="dv" x="404.4" y="725" font-size="13.2" text-anchor="end" transform="rotate(-45 404.4 725)">MIP1_00245901</text>
<text class="dv" x="423.2" y="725" font-size="13.2" text-anchor="end" transform="rotate(-45 423.2 725)">MIP1_00184005</text>
<text class="dv" x="441.9" y="725" font-size="13.2" text-anchor="end" transform="rotate(-45 441.9 725)">MIP1_00212191</text>
<text class="dv" x="460.7" y="725" font-size="13.2" text-anchor="end" transform="rotate(-45 460.7 725)">MIP1_00269777</text>
<text class="dv" x="479.4" y="725" font-size="13.2" text-anchor="end" transform="rotate(-45 479.4 725)">MIP1_00153486</text>
<text class="dv" x="498.1" y="725" font-size="13.2" text-anchor="end" transform="rotate(-45 498.1 725)">MIP1_00094272</text>
<text class="dv" x="516.9" y="725" font-size="13.2" text-anchor="end" transform="rotate(-45 516.9 725)">MIP1_00292567</text>
<text class="dv" x="535.6" y="725" font-size="13.2" text-anchor="end" transform="rotate(-45 535.6 725)">MIP1_00251177</text>
<text class="dv" x="554.4" y="725" font-size="13.2" text-anchor="end" transform="rotate(-45 554.4 725)">MIP1_00221952</text>
<text class="dv" x="573.1" y="725" font-size="13.2" text-anchor="end" transform="rotate(-45 573.1 725)">MIP1_00301081</text>
<text class="dv" x="591.8" y="725" font-size="13.2" text-anchor="end" transform="rotate(-45 591.8 725)">MIP1_00080216</text>
<text class="dv" x="610.6" y="725" font-size="13.2" text-anchor="end" transform="rotate(-45 610.6 725)">MIP1_00214438</text>
<text class="dv" x="629.3" y="725" font-size="13.2" text-anchor="end" transform="rotate(-45 629.3 725)">MIP1_00244310</text>
<text class="dv" x="648.1" y="725" font-size="13.2" text-anchor="end" transform="rotate(-45 648.1 725)">MIP1_00312890</text>
<path class="tk" d="M181.7 705.4v4.6M200.4 705.4v4.6M219.1 705.4v4.6M237.9 705.4v4.6M256.6 705.4v4.6M275.4 705.4v4.6M294.1 705.4v4.6M312.8 705.4v4.6M331.6 705.4v4.6M350.3 705.4v4.6M369.1 705.4v4.6M387.8 705.4v4.6M406.5 705.4v4.6M425.3 705.4v4.6M444 705.4v4.6M462.8 705.4v4.6M481.5 705.4v4.6M500.2 705.4v4.6M519 705.4v4.6M537.7 705.4v4.6M556.5 705.4v4.6M575.2 705.4v4.6M593.9 705.4v4.6M612.7 705.4v4.6M631.4 705.4v4.6M650.2 705.4v4.6"/>
<path class="br" d="M799 213.1H814.2V275.7H799"/>
<path class="br" d="M799 301.9H814.2V322.8H799"/>
<text class="ls" font-size="19.8" font-weight="bold" transform="translate(779.1 234.3) scale(1.13 1)">- B</text>
<text class="ls" font-size="19.8" font-weight="bold" transform="translate(779.1 258.3) scale(1.13 1)">- C</text>
<text class="ls" font-size="19.8" font-weight="bold" transform="translate(779.1 282.2) scale(1.13 1)">- F</text>
<text class="ls" font-size="19.8" font-weight="bold" transform="translate(779.1 316.5) scale(1.13 1)">- E</text>
<text class="ls" font-size="19.8" font-weight="bold" transform="translate(816.3 240) scale(1.13 1)">- A</text>
<text class="ls" font-size="19.8" font-weight="bold" transform="translate(816.3 309.7) scale(1.13 1)">- D</text>
<text class="dv" x="408" y="965" font-size="20.7" text-anchor="middle">Maintenance of CRISPR repeat elements (GO:0043571)</text>
<g shape-rendering="crispEdges">
<rect x="46.7" y="1062.5" width="32.5" height="21.6" fill="#7e03a8"/>
<rect x="46.7" y="1041.3" width="32.5" height="21.6" fill="#aa2395"/>
<rect x="46.7" y="1020" width="32.5" height="21.6" fill="#cc4778"/>
<rect x="46.7" y="998.8" width="32.5" height="21.6" fill="#e66c5c"/>
<rect x="46.7" y="977.5" width="32.5" height="21.6" fill="#f89540"/>
</g>
<path fill="#fdc527" d="M46.7 977.8L63 972.1L79.2 977.8z"/>
<path fill="#4c02a1" d="M46.7 1083.5L63 1089.2L79.2 1083.5z"/>
<path class="tk" d="M79.2 1083.8h4.6"/>
<text class="dv" x="89.5" y="1089" font-size="13.6">0.2</text>
<path class="tk" d="M79.2 1062.5h4.6"/>
<text class="dv" x="89.5" y="1067.7" font-size="13.6">0.3</text>
<path class="tk" d="M79.2 1041.3h4.6"/>
<text class="dv" x="89.5" y="1046.4" font-size="13.6">0.4</text>
<path class="tk" d="M79.2 1020h4.6"/>
<text class="dv" x="89.5" y="1025.2" font-size="13.6">0.5</text>
<path class="tk" d="M79.2 998.8h4.6"/>
<text class="dv" x="89.5" y="1003.9" font-size="13.6">0.6</text>
<path class="tk" d="M79.2 977.5h4.6"/>
<text class="dv" x="89.5" y="982.7" font-size="13.6">0.7</text>
<g transform="translate(168.9 1093) scale(14.07941)" shape-rendering="crispEdges">
<rect width="34" height="34" fill="#aa2395"/>
<path fill="#7e03a8" d="M1 29h1v1h-1zM2 33h3v1h-3zM4 29h2v1h-2zM5 32h2v1h-2zM6 30h1v1h-1zM7 29h2v1h-2zM8 33h3v1h-3zM10 29h2v1h-2zM10 32h3v1h-3zM12 30h1v1h-1zM12 33h2v1h-2zM15 31h2v1h-2zM15 33h2v1h-2zM16 22h5v1h-5zM17 26h2v1h-2zM17 24h3v1h-3zM18 31h3v1h-3zM19 21h1v1h-1zM19 30h1v1h-1zM19 32h1v1h-1zM20 26h1v1h-1zM20 28h1v1h-1zM20 33h2v1h-2zM21 19h2v1h-2zM21 32h2v1h-2zM22 16h1v3h-1zM22 20h1v1h-1zM22 23h1v1h-1zM22 26h1v1h-1zM22 29h1v1h-1zM23 22h1v1h-1zM23 28h1v1h-1zM23 33h1v1h-1zM24 17h1v3h-1zM24 29h1v1h-1zM24 31h3v1h-3zM25 33h1v1h-1zM26 17h1v2h-1zM26 20h1v1h-1zM26 22h1v1h-1zM27 32h2v1h-2zM28 20h1v1h-1zM28 23h1v1h-1zM28 29h1v3h-1zM29 1h1v1h-1zM29 4h1v2h-1zM29 7h1v2h-1zM29 10h1v2h-1zM29 22h1v1h-1zM29 24h1v1h-1zM29 28h4v1h-4zM30 6h1v1h-1zM30 12h1v1h-1zM30 33h2v1h-2zM30 19h3v1h-3zM31 15h1v2h-1zM31 18h1v1h-1zM31 20h1v1h-1zM31 24h1v3h-1zM31 32h1v1h-1zM32 5h1v2h-1zM32 11h1v1h-1zM32 22h1v1h-1zM32 27h1v1h-1zM32 10h2v1h-2zM32 12h2v1h-2zM32 21h2v1h-2zM32 31h2v1h-2zM33 2h1v3h-1zM33 8h1v2h-1zM33 13h1v1h-1zM33 15h1v2h-1zM33 20h1v1h-1zM33 23h1v1h-1zM33 25h1v1h-1zM33 30h1v1h-1z"/>
<path fill="#cc4778" d="M0 23h2v1h-2zM0 25h6v2h-6zM0 24h16v1h-16zM1 27h5v1h-5zM6 17h1v1h-1zM6 23h5v1h-5zM7 25h2v2h-2zM7 27h3v1h-3zM10 25h1v1h-1zM10 26h4v1h-4zM11 27h2v1h-2zM12 25h1v1h-1zM12 23h2v1h-2zM13 17h1v1h-1zM13 19h2v1h-2zM14 25h1v1h-1zM14 27h1v1h-1zM15 20h2v1h-2zM16 17h1v1h-1zM16 25h1v1h-1zM16 27h3v1h-3zM17 6h1v1h-1zM17 13h1v1h-1zM17 16h1v1h-1zM17 18h1v1h-1zM17 30h1v1h-1zM17 19h2v1h-2zM18 21h1v1h-1zM18 25h1v1h-1zM18 28h1v1h-1zM18 17h2v1h-2zM18 20h2v1h-2zM19 13h1v2h-1zM19 18h3v1h-3zM20 15h1v2h-1zM20 19h1v1h-1zM20 21h1v1h-1zM20 29h1v1h-1zM21 20h1v1h-1zM21 27h6v1h-6zM22 24h1v1h-1zM22 30h1v1h-1zM23 6h2v1h-2zM23 9h2v1h-2zM23 13h2v1h-2zM23 25h2v1h-2zM23 0h4v1h-4zM23 10h4v1h-4zM23 1h5v1h-5zM23 7h5v2h-5zM23 12h5v1h-5zM24 11h1v1h-1zM24 15h1v1h-1zM24 22h1v1h-1zM24 14h2v1h-2zM24 2h4v4h-4zM25 16h1v1h-1zM25 18h1v1h-1zM25 23h1v2h-1zM25 28h3v1h-3zM26 13h1v1h-1zM26 30h1v1h-1zM26 11h2v1h-2zM27 9h1v1h-1zM27 14h1v1h-1zM27 16h1v2h-1zM27 21h1v4h-1zM27 18h2v1h-2zM27 25h2v2h-2zM28 27h1v1h-1zM29 20h1v1h-1zM29 30h1v1h-1zM30 17h1v1h-1zM30 22h1v1h-1zM30 26h1v1h-1zM30 29h1v1h-1zM30 31h1v1h-1zM31 30h1v1h-1z"/>
<path fill="#e66c5c" d="M0 2h1v6h-1zM0 10h1v1h-1zM0 12h1v3h-1zM2 0h6v1h-6zM6 26h1v1h-1zM9 26h1v1h-1zM10 0h1v1h-1zM12 0h3v1h-3zM14 26h1v1h-1zM25 26h1v1h-1zM26 6h1v1h-1zM26 9h1v1h-1zM26 14h1v1h-1zM26 25h1v1h-1z"/>
<path fill="#f89540" d="M0 1h1v1h-1zM0 8h1v2h-1zM0 11h1v1h-1zM1 0h1v1h-1zM4 13h1v2h-1zM8 0h2v1h-2zM11 0h1v1h-1zM13 4h2v1h-2z"/>
<path fill="#fdc527" d="M0 0h1v1h-1zM1 13h3v2h-3zM1 4h12v1h-12zM1 1h14v3h-14zM1 5h14v8h-14zM5 13h10v2h-10zM15 15h1v1h-1zM16 16h1v1h-1zM17 17h1v1h-1zM18 18h1v1h-1zM19 19h1v1h-1zM20 20h1v1h-1zM21 21h1v1h-1zM22 22h1v1h-1zM23 23h1v1h-1zM24 24h1v1h-1zM25 25h1v1h-1zM26 26h1v1h-1zM27 27h1v1h-1zM28 28h1v1h-1zM29 29h1v1h-1zM30 30h1v1h-1zM31 31h1v1h-1zM32 32h1v1h-1zM33 33h1v1h-1z"/>
</g>
<path class="dn" d="M204.1 1092.5V1079.7H218.2V1092.5M190 1092.5V1076.7H211.1V1079.7M232.3 1092.5V1076.7H246.3V1092.5M200.6 1076.7V1071.1H239.3V1076.7M302.7 1092.5V1081.5H316.7V1092.5M288.6 1092.5V1080H309.7V1081.5M274.5 1092.5V1079.7H299.1V1080M330.8 1092.5V1078.5H344.9V1092.5M286.8 1079.7V1075.5H337.9V1078.5M260.4 1092.5V1073.5H312.3V1075.5M359 1092.5V1066.3H373.1V1092.5M286.4 1073.5V1063H366V1066.3M219.9 1071.1V1059.2H326.2V1063M175.9 1092.5V1031.5H273.1V1059.2M443.4 1092.5V1041.3H457.5V1092.5M429.4 1092.5V1038H450.5V1041.3M415.3 1092.5V1036.8H439.9V1038M401.2 1092.5V1034.5H427.6V1036.8M387.1 1092.5V1030.9H414.4V1034.5M471.6 1092.5V1033.3H485.7V1092.5M527.9 1092.5V1043.4H542V1092.5M556.1 1092.5V1038.6H570.2V1092.5M535 1043.4V1034.5H563.1V1038.6M513.8 1092.5V1032.4H549V1034.5M499.8 1092.5V1030.6H531.4V1032.4M478.6 1033.3V1028.5H515.6V1030.6M400.8 1030.9V1026.4H497.1V1028.5M598.3 1092.5V1039.2H612.4V1092.5M584.2 1092.5V1029.4H605.4V1039.2M626.5 1092.5V1027.9H640.6V1092.5M594.8 1029.4V1024.3H633.5V1027.9M448.9 1026.4V1022.6H614.2V1024.3M224.5 1031.5V978.5H531.6V1022.6"/>
<path class="dn" d="M167.4 1128.2H154.6V1142.3H167.4M167.4 1114.1H151.6V1135.2H154.6M167.4 1156.4H151.6V1170.4H167.4M151.6 1124.7H146V1163.4H151.6M167.4 1226.8H156.4V1240.8H167.4M167.4 1212.7H154.9V1233.8H156.4M167.4 1198.6H154.6V1223.2H154.9M167.4 1254.9H153.4V1269H167.4M154.6 1210.9H150.4V1262H153.4M167.4 1184.5H148.4V1236.4H150.4M167.4 1283.1H141.2V1297.2H167.4M148.4 1210.5H137.9V1290.1H141.2M146 1144H134.1V1250.3H137.9M167.4 1100H106.4V1197.2H134.1M167.4 1367.5H116.2V1381.6H167.4M167.4 1353.5H112.9V1374.6H116.2M167.4 1339.4H111.7V1364H112.9M167.4 1325.3H109.4V1351.7H111.7M167.4 1311.2H105.8V1338.5H109.4M167.4 1395.7H108.2V1409.8H167.4M167.4 1452H118.3V1466.1H167.4M167.4 1480.2H113.5V1494.3H167.4M118.3 1459.1H109.4V1487.2H113.5M167.4 1437.9H107.3V1473.1H109.4M167.4 1423.9H105.5V1455.5H107.3M108.2 1402.7H103.4V1439.7H105.5M105.8 1324.9H101.3V1421.2H103.4M167.4 1522.4H114.1V1536.5H167.4M167.4 1508.3H104.3V1529.5H114.1M167.4 1550.6H102.8V1564.7H167.4M104.3 1518.9H99.2V1557.6H102.8M101.3 1373H97.5V1538.3H99.2M106.4 1148.6H53.4V1455.7H97.5"/>
<text class="dv" x="656.6" y="1105.4" font-size="14.1">MIP1_00056014</text>
<text class="dv" x="656.6" y="1119.5" font-size="14.1">MIP1_00052663</text>
<text class="dv" x="656.6" y="1133.6" font-size="14.1">MIP1_00046532</text>
<text class="dv" x="656.6" y="1147.6" font-size="14.1">MIP1_00107304</text>
<text class="dv" x="656.6" y="1161.7" font-size="14.1">MIP1_00103890</text>
<text class="dv" x="656.6" y="1175.8" font-size="14.1">MIP1_00107279</text>
<text class="dv" x="656.6" y="1189.9" font-size="14.1">MIP1_00031511</text>
<text class="dv" x="656.6" y="1204" font-size="14.1">MIP1_00042514</text>
<text class="dv" x="656.6" y="1218" font-size="14.1">MIP1_00031961</text>
<text class="dv" x="656.6" y="1232.1" font-size="14.1">MIP1_00032819</text>
<text class="dv" x="656.6" y="1246.2" font-size="14.1">MIP1_00037607</text>
<text class="dv" x="656.6" y="1260.3" font-size="14.1">MIP1_00038430</text>
<text class="dv" x="656.6" y="1274.4" font-size="14.1">MIP1_00044368</text>
<text class="dv" x="656.6" y="1288.4" font-size="14.1">MIP1_00032711</text>
<text class="dv" x="656.6" y="1302.5" font-size="14.1">MIP1_00213656</text>
<text class="dv" x="656.6" y="1316.6" font-size="14.1">MIP1_00307700</text>
<text class="dv" x="656.6" y="1330.7" font-size="14.1">MIP1_00046296</text>
<text class="dv" x="656.6" y="1344.7" font-size="14.1">MIP1_00089837</text>
<text class="dv" x="656.6" y="1358.8" font-size="14.1">MIP1_00226295</text>
<text class="dv" x="656.6" y="1372.9" font-size="14.1">MIP1_00011079</text>
<text class="dv" x="656.6" y="1387" font-size="14.1">MIP1_00266582</text>
<text class="dv" x="656.6" y="1401.1" font-size="14.1">MIP1_00044877</text>
<text class="dv" x="656.6" y="1415.1" font-size="14.1">MIP1_00050984</text>
<text class="dv" x="656.6" y="1429.2" font-size="14.1">MIP1_00039371</text>
<text class="dv" x="656.6" y="1443.3" font-size="14.1">MIP1_00301283</text>
<text class="dv" x="656.6" y="1457.4" font-size="14.1">MIP1_00145048</text>
<text class="dv" x="656.6" y="1471.5" font-size="14.1">MIP1_00214378</text>
<text class="dv" x="656.6" y="1485.5" font-size="14.1">MIP1_00279837</text>
<text class="dv" x="656.6" y="1499.6" font-size="14.1">MIP1_00302593</text>
<text class="dv" x="656.6" y="1513.7" font-size="14.1">MIP1_00167126</text>
<text class="dv" x="656.6" y="1527.8" font-size="14.1">MIP1_00041277</text>
<text class="dv" x="656.6" y="1541.9" font-size="14.1">MIP1_00227193</text>
<text class="dv" x="656.6" y="1555.9" font-size="14.1">MIP1_00040085</text>
<text class="dv" x="656.6" y="1570" font-size="14.1">MIP1_00220602</text>
<path class="tk" d="M647.6 1100h4.6M647.6 1114.1h4.6M647.6 1128.2h4.6M647.6 1142.3h4.6M647.6 1156.4h4.6M647.6 1170.4h4.6M647.6 1184.5h4.6M647.6 1198.6h4.6M647.6 1212.7h4.6M647.6 1226.8h4.6M647.6 1240.8h4.6M647.6 1254.9h4.6M647.6 1269h4.6M647.6 1283.1h4.6M647.6 1297.2h4.6M647.6 1311.2h4.6M647.6 1325.3h4.6M647.6 1339.4h4.6M647.6 1353.5h4.6M647.6 1367.5h4.6M647.6 1381.6h4.6M647.6 1395.7h4.6M647.6 1409.8h4.6M647.6 1423.9h4.6M647.6 1437.9h4.6M647.6 1452h4.6M647.6 1466.1h4.6M647.6 1480.2h4.6M647.6 1494.3h4.6M647.6 1508.3h4.6M647.6 1522.4h4.6M647.6 1536.5h4.6M647.6 1550.6h4.6M647.6 1564.7h4.6"/>
<text class="dv" x="173.8" y="1592.2" font-size="14.1" text-anchor="end" transform="rotate(-45 173.8 1592.2)">MIP1_00056014</text>
<text class="dv" x="187.9" y="1592.2" font-size="14.1" text-anchor="end" transform="rotate(-45 187.9 1592.2)">MIP1_00052663</text>
<text class="dv" x="202" y="1592.2" font-size="14.1" text-anchor="end" transform="rotate(-45 202 1592.2)">MIP1_00046532</text>
<text class="dv" x="216.1" y="1592.2" font-size="14.1" text-anchor="end" transform="rotate(-45 216.1 1592.2)">MIP1_00107304</text>
<text class="dv" x="230.2" y="1592.2" font-size="14.1" text-anchor="end" transform="rotate(-45 230.2 1592.2)">MIP1_00103890</text>
<text class="dv" x="244.2" y="1592.2" font-size="14.1" text-anchor="end" transform="rotate(-45 244.2 1592.2)">MIP1_00107279</text>
<text class="dv" x="258.3" y="1592.2" font-size="14.1" text-anchor="end" transform="rotate(-45 258.3 1592.2)">MIP1_00031511</text>
<text class="dv" x="272.4" y="1592.2" font-size="14.1" text-anchor="end" transform="rotate(-45 272.4 1592.2)">MIP1_00042514</text>
<text class="dv" x="286.5" y="1592.2" font-size="14.1" text-anchor="end" transform="rotate(-45 286.5 1592.2)">MIP1_00031961</text>
<text class="dv" x="300.6" y="1592.2" font-size="14.1" text-anchor="end" transform="rotate(-45 300.6 1592.2)">MIP1_00032819</text>
<text class="dv" x="314.6" y="1592.2" font-size="14.1" text-anchor="end" transform="rotate(-45 314.6 1592.2)">MIP1_00037607</text>
<text class="dv" x="328.7" y="1592.2" font-size="14.1" text-anchor="end" transform="rotate(-45 328.7 1592.2)">MIP1_00038430</text>
<text class="dv" x="342.8" y="1592.2" font-size="14.1" text-anchor="end" transform="rotate(-45 342.8 1592.2)">MIP1_00044368</text>
<text class="dv" x="356.9" y="1592.2" font-size="14.1" text-anchor="end" transform="rotate(-45 356.9 1592.2)">MIP1_00032711</text>
<text class="dv" x="371" y="1592.2" font-size="14.1" text-anchor="end" transform="rotate(-45 371 1592.2)">MIP1_00213656</text>
<text class="dv" x="385" y="1592.2" font-size="14.1" text-anchor="end" transform="rotate(-45 385 1592.2)">MIP1_00307700</text>
<text class="dv" x="399.1" y="1592.2" font-size="14.1" text-anchor="end" transform="rotate(-45 399.1 1592.2)">MIP1_00046296</text>
<text class="dv" x="413.2" y="1592.2" font-size="14.1" text-anchor="end" transform="rotate(-45 413.2 1592.2)">MIP1_00089837</text>
<text class="dv" x="427.3" y="1592.2" font-size="14.1" text-anchor="end" transform="rotate(-45 427.3 1592.2)">MIP1_00226295</text>
<text class="dv" x="441.3" y="1592.2" font-size="14.1" text-anchor="end" transform="rotate(-45 441.3 1592.2)">MIP1_00011079</text>
<text class="dv" x="455.4" y="1592.2" font-size="14.1" text-anchor="end" transform="rotate(-45 455.4 1592.2)">MIP1_00266582</text>
<text class="dv" x="469.5" y="1592.2" font-size="14.1" text-anchor="end" transform="rotate(-45 469.5 1592.2)">MIP1_00044877</text>
<text class="dv" x="483.6" y="1592.2" font-size="14.1" text-anchor="end" transform="rotate(-45 483.6 1592.2)">MIP1_00050984</text>
<text class="dv" x="497.7" y="1592.2" font-size="14.1" text-anchor="end" transform="rotate(-45 497.7 1592.2)">MIP1_00039371</text>
<text class="dv" x="511.7" y="1592.2" font-size="14.1" text-anchor="end" transform="rotate(-45 511.7 1592.2)">MIP1_00301283</text>
<text class="dv" x="525.8" y="1592.2" font-size="14.1" text-anchor="end" transform="rotate(-45 525.8 1592.2)">MIP1_00145048</text>
<text class="dv" x="539.9" y="1592.2" font-size="14.1" text-anchor="end" transform="rotate(-45 539.9 1592.2)">MIP1_00214378</text>
<text class="dv" x="554" y="1592.2" font-size="14.1" text-anchor="end" transform="rotate(-45 554 1592.2)">MIP1_00279837</text>
<text class="dv" x="568.1" y="1592.2" font-size="14.1" text-anchor="end" transform="rotate(-45 568.1 1592.2)">MIP1_00302593</text>
<text class="dv" x="582.1" y="1592.2" font-size="14.1" text-anchor="end" transform="rotate(-45 582.1 1592.2)">MIP1_00167126</text>
<text class="dv" x="596.2" y="1592.2" font-size="14.1" text-anchor="end" transform="rotate(-45 596.2 1592.2)">MIP1_00041277</text>
<text class="dv" x="610.3" y="1592.2" font-size="14.1" text-anchor="end" transform="rotate(-45 610.3 1592.2)">MIP1_00227193</text>
<text class="dv" x="624.4" y="1592.2" font-size="14.1" text-anchor="end" transform="rotate(-45 624.4 1592.2)">MIP1_00040085</text>
<text class="dv" x="638.5" y="1592.2" font-size="14.1" text-anchor="end" transform="rotate(-45 638.5 1592.2)">MIP1_00220602</text>
<path class="tk" d="M175.9 1571.7v4.6M190 1571.7v4.6M204.1 1571.7v4.6M218.2 1571.7v4.6M232.3 1571.7v4.6M246.3 1571.7v4.6M260.4 1571.7v4.6M274.5 1571.7v4.6M288.6 1571.7v4.6M302.7 1571.7v4.6M316.7 1571.7v4.6M330.8 1571.7v4.6M344.9 1571.7v4.6M359 1571.7v4.6M373.1 1571.7v4.6M387.1 1571.7v4.6M401.2 1571.7v4.6M415.3 1571.7v4.6M429.4 1571.7v4.6M443.4 1571.7v4.6M457.5 1571.7v4.6M471.6 1571.7v4.6M485.7 1571.7v4.6M499.8 1571.7v4.6M513.8 1571.7v4.6M527.9 1571.7v4.6M542 1571.7v4.6M556.1 1571.7v4.6M570.2 1571.7v4.6M584.2 1571.7v4.6M598.3 1571.7v4.6M612.4 1571.7v4.6M626.5 1571.7v4.6M640.6 1571.7v4.6"/>
<path class="br" d="M794.5 1110.4H809.6V1300H794.5"/>
<text class="ls" font-size="19.8" font-weight="bold" transform="translate(776.3 1175.9) scale(1.13 1)">- B</text>
<text class="ls" font-size="19.8" font-weight="bold" transform="translate(776.3 1273.2) scale(1.13 1)">- C</text>
<text class="ls" font-size="19.8" font-weight="bold" transform="translate(815.8 1211.6) scale(1.13 1)">- A</text>
<text class="ls" font-size="19.8" font-weight="bold" transform="translate(776.3 1373) scale(1.13 1)">- D</text>
<text class="ls" font-size="19.8" font-weight="bold" transform="translate(776.3 1470.9) scale(1.13 1)">- E</text>
<text class="ls" font-size="19.8" font-weight="bold" transform="translate(776.3 1541.3) scale(1.13 1)">- F</text>
<text class="dv" x="417" y="1835" font-size="20.7" text-anchor="middle">Sole sub-subclass for lyases that do not belong in the other subclasses (4.99.1.-)</text>
<g shape-rendering="crispEdges">
<rect x="55.3" y="1931.8" width="34.3" height="21.5" fill="#7e03a8"/>
<rect x="55.3" y="1910.6" width="34.3" height="21.5" fill="#aa2395"/>
<rect x="55.3" y="1889.4" width="34.3" height="21.5" fill="#cc4778"/>
<rect x="55.3" y="1868.2" width="34.3" height="21.5" fill="#e66c5c"/>
<rect x="55.3" y="1847" width="34.3" height="21.5" fill="#f89540"/>
</g>
<path fill="#fdc527" d="M55.3 1847.3L72.4 1842L89.6 1847.3z"/>
<path fill="#4c02a1" d="M55.3 1952.7L72.4 1958L89.6 1952.7z"/>
<path class="tk" d="M89.6 1953h4.6"/>
<text class="dv" x="97.5" y="1958.2" font-size="13.6">0.2</text>
<path class="tk" d="M89.6 1931.8h4.6"/>
<text class="dv" x="97.5" y="1937" font-size="13.6">0.3</text>
<path class="tk" d="M89.6 1910.6h4.6"/>
<text class="dv" x="97.5" y="1915.8" font-size="13.6">0.4</text>
<path class="tk" d="M89.6 1889.4h4.6"/>
<text class="dv" x="97.5" y="1894.6" font-size="13.6">0.5</text>
<path class="tk" d="M89.6 1868.2h4.6"/>
<text class="dv" x="97.5" y="1873.4" font-size="13.6">0.6</text>
<path class="tk" d="M89.6 1847h4.6"/>
<text class="dv" x="97.5" y="1852.2" font-size="13.6">0.7</text>
<g transform="translate(177.1 1963.2) scale(31.97333)" shape-rendering="crispEdges">
<rect width="15" height="15" fill="#fdc527"/>
<path fill="#e66c5c" d="M0 1h1v1h-1zM0 8h1v1h-1zM0 14h1v1h-1zM1 0h1v1h-1zM8 0h1v1h-1zM14 0h1v1h-1z"/>
<path fill="#f89540" d="M0 4h1v1h-1zM0 13h1v1h-1zM0 2h2v2h-2zM0 5h2v1h-2zM0 7h2v1h-2zM0 9h2v4h-2zM1 6h1v1h-1zM1 8h1v1h-1zM1 14h3v1h-3zM2 1h2v1h-2zM2 0h4v1h-4zM3 11h1v1h-1zM4 8h1v2h-1zM5 14h5v1h-5zM5 1h8v1h-8zM7 0h1v1h-1zM8 4h2v1h-2zM8 12h2v1h-2zM8 13h3v1h-3zM9 0h5v1h-5zM11 3h1v1h-1zM11 12h1v1h-1zM12 11h1v1h-1zM12 13h1v1h-1zM12 8h3v2h-3zM13 10h1v1h-1zM13 12h1v1h-1zM14 1h1v3h-1zM14 5h1v3h-1z"/>
</g>
<path class="dn" d="M257 1962.9V1907.6H289V1962.9M384.9 1962.9V1912.2H416.9V1962.9M353 1962.9V1907.6H400.9V1912.2M321 1962.9V1901H376.9V1907.6M273 1907.6V1895.8H349V1901M448.9 1962.9V1907.6H480.8V1962.9M512.8 1962.9V1898.9H544.8V1962.9M464.9 1907.6V1893.8H528.8V1898.9M311 1895.8V1886.6H496.8V1893.8M608.7 1962.9V1890.2H640.7V1962.9M576.8 1962.9V1882H624.7V1890.2M403.9 1886.6V1878.9H600.7V1882M225.1 1962.9V1864.6H502.3V1878.9M193.1 1962.9V1847.7H363.7V1864.6"/>
<path class="dn" d="M176.8 2043.1H121.5V2075.1H176.8M176.8 2171H126.1V2203H176.8M176.8 2139.1H121.5V2187H126.1M176.8 2107.1H114.9V2163H121.5M121.5 2059.1H109.7V2135.1H114.9M176.8 2235H121.5V2266.9H176.8M176.8 2298.9H112.8V2330.9H176.8M121.5 2251H107.7V2314.9H112.8M109.7 2097.1H100.5V2282.9H107.7M176.8 2394.8H104.1V2426.8H176.8M176.8 2362.9H95.9V2410.8H104.1M100.5 2190H92.8V2386.8H95.9M176.8 2011.2H78.5V2288.4H92.8M176.8 1979.2H61.6V2149.8H78.5"/>
<text class="dv" x="665.3" y="1984.5" font-size="14.1">MIP1_00066903</text>
<text class="dv" x="665.3" y="2016.5" font-size="14.1">MIP1_00074462</text>
<text class="dv" x="665.3" y="2048.5" font-size="14.1">MIP1_00094144</text>
<text class="dv" x="665.3" y="2080.5" font-size="14.1">MIP1_00144779</text>
<text class="dv" x="665.3" y="2112.4" font-size="14.1">MIP1_00101710</text>
<text class="dv" x="665.3" y="2144.4" font-size="14.1">MIP1_00100635</text>
<text class="dv" x="665.3" y="2176.4" font-size="14.1">MIP1_00058670</text>
<text class="dv" x="665.3" y="2208.4" font-size="14.1">MIP1_00062361</text>
<text class="dv" x="665.3" y="2240.3" font-size="14.1">MIP1_00068678</text>
<text class="dv" x="665.3" y="2272.3" font-size="14.1">MIP1_00077627</text>
<text class="dv" x="665.3" y="2304.3" font-size="14.1">MIP1_00084783</text>
<text class="dv" x="665.3" y="2336.3" font-size="14.1">MIP1_00093875</text>
<text class="dv" x="665.3" y="2368.2" font-size="14.1">MIP1_00092054</text>
<text class="dv" x="665.3" y="2400.2" font-size="14.1">MIP1_00072307</text>
<text class="dv" x="665.3" y="2432.2" font-size="14.1">MIP1_00078191</text>
<path class="tk" d="M656.7 1979.2h4.6M656.7 2011.2h4.6M656.7 2043.1h4.6M656.7 2075.1h4.6M656.7 2107.1h4.6M656.7 2139.1h4.6M656.7 2171h4.6M656.7 2203h4.6M656.7 2235h4.6M656.7 2266.9h4.6M656.7 2298.9h4.6M656.7 2330.9h4.6M656.7 2362.9h4.6M656.7 2394.8h4.6M656.7 2426.8h4.6"/>
<text class="dv" x="191" y="2463.3" font-size="14.1" text-anchor="end" transform="rotate(-45 191 2463.3)">MIP1_00066903</text>
<text class="dv" x="223" y="2463.3" font-size="14.1" text-anchor="end" transform="rotate(-45 223 2463.3)">MIP1_00074462</text>
<text class="dv" x="254.9" y="2463.3" font-size="14.1" text-anchor="end" transform="rotate(-45 254.9 2463.3)">MIP1_00094144</text>
<text class="dv" x="286.9" y="2463.3" font-size="14.1" text-anchor="end" transform="rotate(-45 286.9 2463.3)">MIP1_00144779</text>
<text class="dv" x="318.9" y="2463.3" font-size="14.1" text-anchor="end" transform="rotate(-45 318.9 2463.3)">MIP1_00101710</text>
<text class="dv" x="350.9" y="2463.3" font-size="14.1" text-anchor="end" transform="rotate(-45 350.9 2463.3)">MIP1_00100635</text>
<text class="dv" x="382.8" y="2463.3" font-size="14.1" text-anchor="end" transform="rotate(-45 382.8 2463.3)">MIP1_00058670</text>
<text class="dv" x="414.8" y="2463.3" font-size="14.1" text-anchor="end" transform="rotate(-45 414.8 2463.3)">MIP1_00062361</text>
<text class="dv" x="446.8" y="2463.3" font-size="14.1" text-anchor="end" transform="rotate(-45 446.8 2463.3)">MIP1_00068678</text>
<text class="dv" x="478.7" y="2463.3" font-size="14.1" text-anchor="end" transform="rotate(-45 478.7 2463.3)">MIP1_00077627</text>
<text class="dv" x="510.7" y="2463.3" font-size="14.1" text-anchor="end" transform="rotate(-45 510.7 2463.3)">MIP1_00084783</text>
<text class="dv" x="542.7" y="2463.3" font-size="14.1" text-anchor="end" transform="rotate(-45 542.7 2463.3)">MIP1_00093875</text>
<text class="dv" x="574.7" y="2463.3" font-size="14.1" text-anchor="end" transform="rotate(-45 574.7 2463.3)">MIP1_00092054</text>
<text class="dv" x="606.6" y="2463.3" font-size="14.1" text-anchor="end" transform="rotate(-45 606.6 2463.3)">MIP1_00072307</text>
<text class="dv" x="638.6" y="2463.3" font-size="14.1" text-anchor="end" transform="rotate(-45 638.6 2463.3)">MIP1_00078191</text>
<path class="tk" d="M193.1 2442.8v4.6M225.1 2442.8v4.6M257 2442.8v4.6M289 2442.8v4.6M321 2442.8v4.6M353 2442.8v4.6M384.9 2442.8v4.6M416.9 2442.8v4.6M448.9 2442.8v4.6M480.8 2442.8v4.6M512.8 2442.8v4.6M544.8 2442.8v4.6M576.8 2442.8v4.6M608.7 2442.8v4.6M640.7 2442.8v4.6"/>
<path class="br" d="M799.5 1959.2H814.5V2440H799.5"/>
<text class="ls" font-size="19.8" font-weight="bold" transform="translate(819.1 2064.3) scale(1.13 1)">- A</text>
<text class="ls" font-size="19.8" font-weight="bold" transform="translate(779.1 2144.8) scale(1.13 1)">- B</text>
<text class="ls" font-size="19.8" font-weight="bold" transform="translate(779.1 2208.7) scale(1.13 1)">- C</text>
<text class="ls" font-size="19.8" font-weight="bold" transform="translate(779.1 2336.7) scale(1.13 1)">- D</text>
<text class="ls" font-size="19.8" font-weight="bold" transform="translate(779.1 2367.4) scale(1.13 1)">- E</text>
<text class="ls" font-size="19.8" font-weight="bold" transform="translate(779.1 2402) scale(1.13 1)">- F</text>
<rect class="fr" x="849.5" y="66.7" width="1110.2" height="371" rx="29"/>
<rect class="fr" x="849.5" y="437.7" width="740" height="368.8" rx="29"/>
<rect class="fr" x="1589.5" y="437.7" width="370.2" height="368.8" rx="29"/>
<rect class="fr" x="850" y="938.3" width="1109.7" height="369.4" rx="29"/>
<rect class="fr" x="850" y="1307.7" width="370" height="370.3" rx="29"/>
<rect class="fr" x="1220" y="1307.7" width="370" height="370.3" rx="29"/>
<rect class="fr" x="1590" y="1307.7" width="369.7" height="370.3" rx="29"/>
<rect class="fr" x="850.5" y="1808" width="1109.2" height="740.8" rx="29"/>
<text class="ls" x="862.1" y="103.3" font-size="34.2">A</text>
<text class="ls" x="1234.1" y="103.3" font-size="34.2">B</text>
<text class="ls" x="1604.6" y="103.3" font-size="34.2">C</text>
<text class="ls" x="862.1" y="475" font-size="34.2">D</text>
<text class="ls" x="1234.1" y="475" font-size="34.2">E</text>
<text class="ls" x="1604.6" y="475" font-size="34.2">F</text>
<text class="ls" x="862.1" y="975" font-size="34.2">A</text>
<text class="ls" x="1234.1" y="975" font-size="34.2">B</text>
<text class="ls" x="1604.6" y="975" font-size="34.2">C</text>
<text class="ls" x="862.1" y="1345" font-size="34.2">D</text>
<text class="ls" x="1234.1" y="1345" font-size="34.2">E</text>
<text class="ls" x="1604.6" y="1345" font-size="34.2">F</text>
<text class="ls" x="862.1" y="1845" font-size="34.2">A</text>
<text class="ls" x="1234.1" y="1845" font-size="34.2">B</text>
<text class="ls" x="1604.6" y="1845" font-size="34.2">C</text>
<text class="ls" x="862.1" y="2216" font-size="34.2">D</text>
<text class="ls" x="1234.1" y="2216" font-size="34.2">E</text>
<text class="ls" x="1604.6" y="2216" font-size="34.2">F</text>
<style>.k0{stroke:#1313e4}
.f0{fill:#1414ee;stroke:#1414ee}
.d0{stroke:#0f0fb0}
.e0{fill:#0e0eab;stroke:#0e0eab}
.k1{stroke:#2929e6}
.f1{fill:#2a2aef;stroke:#2a2aef}
.d1{stroke:#1f1fb1}
.e1{fill:#1f1fac;stroke:#1f1fac}
.k2{stroke:#3e3ee7}
.f2{fill:#4141f0;stroke:#4141f0}
.d2{stroke:#3030b2}
.e2{fill:#2f2fad;stroke:#2f2fad}
.k3{stroke:#5454e8}
.f3{fill:#5757f2;stroke:#5757f2}
.d3{stroke:#4141b3}
.e3{fill:#3f3fae;stroke:#3f3fae}
.k4{stroke:#6969e9}
.f4{fill:#6e6ef3;stroke:#6e6ef3}
.d4{stroke:#5151b4}
.e4{fill:#4f4faf;stroke:#4f4faf}
.k5{stroke:#7f7fea}
.f5{fill:#8484f4;stroke:#8484f4}
.d5{stroke:#6262b5}
.e5{fill:#5f5fb0;stroke:#5f5fb0}
.k6{stroke:#9494eb}
.f6{fill:#9a9af5;stroke:#9a9af5}
.d6{stroke:#7272b5}
.e6{fill:#6f6fb1;stroke:#6f6fb1}
.k7{stroke:#aaaaed}
.f7{fill:#b1b1f6;stroke:#b1b1f6}
.d7{stroke:#8383b6}
.e7{fill:#7f7fb1;stroke:#7f7fb1}
.k8{stroke:#bfbfee}
.f8{fill:#c7c7f8;stroke:#c7c7f8}
.d8{stroke:#9393b7}
.e8{fill:#8f8fb2;stroke:#8f8fb2}
.k9{stroke:#d5d5ef}
.f9{fill:#dedef9;stroke:#dedef9}
.d9{stroke:#a4a4b8}
.e9{fill:#a0a0b3;stroke:#a0a0b3}
.k10{stroke:#f0eaea}
.f10{fill:#faf4f4;stroke:#faf4f4}
.d10{stroke:#b9b5b5}
.e10{fill:#b4b0b0;stroke:#b4b0b0}
.k11{stroke:#efd5d5}
.f11{fill:#f9dede;stroke:#f9dede}
.d11{stroke:#b8a4a4}
.e11{fill:#b3a0a0;stroke:#b3a0a0}
.k12{stroke:#eec0c0}
.f12{fill:#f8c8c8;stroke:#f8c8c8}
.d12{stroke:#b89494}
.e12{fill:#b39090;stroke:#b39090}
.k13{stroke:#eeaaaa}
.f13{fill:#f8b1b1;stroke:#f8b1b1}
.d13{stroke:#b78383}
.e13{fill:#b28080;stroke:#b28080}
.k14{stroke:#ed9595}
.f14{fill:#f79b9b;stroke:#f79b9b}
.d14{stroke:#b77373}
.e14{fill:#b27070;stroke:#b27070}
.k15{stroke:#ec8080}
.f15{fill:#f68585;stroke:#f68585}
.d15{stroke:#b66262}
.e15{fill:#b16060;stroke:#b16060}
.k16{stroke:#eb6a6a}
.f16{fill:#f56f6f;stroke:#f56f6f}
.d16{stroke:#b55252}
.e16{fill:#b15050;stroke:#b15050}
.k17{stroke:#eb5555}
.f17{fill:#f45959;stroke:#f45959}
.d17{stroke:#b54242}
.e17{fill:#b04040;stroke:#b04040}
.k18{stroke:#ea4040}
.f18{fill:#f44242;stroke:#f44242}
.d18{stroke:#b43131}
.e18{fill:#af3030;stroke:#af3030}
.k19{stroke:#e92a2a}
.f19{fill:#f32c2c;stroke:#f32c2c}
.d19{stroke:#b42121}
.e19{fill:#af2020;stroke:#af2020}
.k20{stroke:#e81515}
.f20{fill:#f21616;stroke:#f21616}
.d20{stroke:#b31010}
.e20{fill:#ae1010;stroke:#ae1010}
.l{fill:none;stroke-linecap:round;stroke-linejoin:round;stroke-width:2.4}
.s{stroke-width:.7;stroke-linejoin:round}
.h{fill:none;stroke-linecap:round;stroke-width:6.5}
.hb{fill:none;stroke-linecap:round;stroke-width:6}</style>
<defs><filter id="rim" x="-5%" y="-5%" width="110%" height="110%" color-interpolation-filters="sRGB"><feColorMatrix type="matrix" values=".6 0 0 0 0 0 .6 0 0 0 0 0 .63 0 0 0 0 0 1 0"/><feGaussianBlur stdDeviation=".6"/><feComponentTransfer><feFuncA type="linear" slope="4"/></feComponentTransfer><feComposite in="SourceGraphic" operator="over"/></filter></defs>
<g>
<g filter="url(#rim)">
<path class="l k9" d="M1341 309c0 2 3 10 2 17"/>
<path class="l k10" d="M1343 326c-1 6-6 14-7 21"/>
<path class="l k11" d="M1336 347c0 7 4 14 5 22"/>
<path class="l k10" d="M1341 369c1 7 0 18 2 25 2 7 6 12 8 17"/>
<path class="l k8" d="M1351 411c3 5 7 13 9 13"/>
<path class="l k6" d="M1360 424c2 0 3-8 4-13"/>
<path class="l k7" d="M1364 411c1-4 0-8 2-12"/>
<path class="l k9" d="M1366 399c3-5 9-13 11-15"/>
<path class="l k16" d="M1360 324c-2 2-8 10-13 15"/>
<path class="l k15" d="M1347 339c-5 4-15 6-17 10"/>
<path class="l k14" d="M1330 349c-3 5-1 11 2 15"/>
<path class="l k12" d="M1332 364c3 5 10 10 15 13"/>
<path class="l k11" d="M1347 377c5 3 9 5 13 4"/>
<path class="l k10" d="M1360 381c4-1 11-9 13-10"/>
<path class="l k16" d="M1377 317c-1 3-7 10-8 15"/>
<path class="l k17" d="M1369 332c-2 5-2 10 0 15"/>
<path class="l k16" d="M1369 347c1 5 8 12 10 17"/>
<path class="l k15" d="M1379 364c2 5 3 9 0 13"/>
<path class="l k14" d="M1379 377c-2 4-12 11-15 13"/>
<path class="l k18" d="M1429 341c1 1 7 6 10 10"/>
<path class="l k16" d="M1439 351c3 5 6 13 7 18"/>
<path class="l k14" d="M1446 369c0 4-1 5-5 8-3 3-12 7-17 9"/>
<path class="l k13" d="M1424 386c-5 1-9 5-13 2"/>
<path class="l k12" d="M1411 388c-3-3-5-18-6-22"/>
<path class="l k10" d="M1452 180c0 4 0 17 2 21"/>
<path class="l k9" d="M1454 201c2 4 7-2 9 3 2 4 1 15 2 23"/>
<path class="l k10" d="M1465 227c1 9 4 24 2 28-2 4-7-4-13-4"/>
<path class="l k11" d="M1454 251c-5-1-18 1-21 2"/>
<path class="l k11" d="M1454 180c2-1 7-6 11-6 4-1 7 1 11 4 4 3 10 7 13 13"/>
<path class="l k12" d="M1489 191c2 5 4 13 4 19-1 6-4 14-7 19"/>
<path class="l k10" d="M1486 229c-2 5-8 7-8 11 0 4 4 10 8 13"/>
<path class="l k11" d="M1486 253c4 3 11 6 15 4 5-2 12-11 13-17"/>
<path class="l k9" d="M1514 240c1-6-3-14-6-17-4-3-11-2-15 0"/>
<path class="l k10" d="M1493 223c-5 1-11 7-13 8"/>
<path class="l k9" d="M1465 208c3-2 11-7 17-9"/>
<path class="l k8" d="M1482 199c6-2 14-4 17-2"/>
<path class="l k7" d="M1499 197c4 2 6 8 6 13-1 5-6 12-8 17"/>
<path class="l k6" d="M1497 227c-2 5-5 9-4 11"/>
<path class="l k5" d="M1493 238c1 2 9 0 11 0"/>
<path class="l k4" d="M1411 129c3 2 10 10 13 17"/>
<path class="l k7" d="M1424 146c3 7 4 19 5 25"/>
<path class="l k10" d="M1429 171c0 7 0 11 1 13"/>
<path class="l k8" d="M1403 184c2 1 10 2 15 2"/>
<path class="l k9" d="M1418 186c4 0 10-1 12-2"/>
<path class="l k7" d="M1388 240c2 1 11 3 15 6"/>
<path class="l k8" d="M1403 246c4 4 6 10 8 15 3 6 4 14 7 18"/>
<path class="l k7" d="M1418 279c2 3 7 5 8 6"/>
<path class="s f3" d="M1286 215l3 7 5 9 5 11 12-6-5-11-5-9-4-7z"/>
<path class="s f4" d="M1299 242l6 11 5 13 12-5-5-13-6-12z"/>
<path class="s f5" d="M1310 266l7 15 3 9-4 1 6 4 13-5 1-7-4 2-3-9-7-15z"/>
<path class="s f6" d="M1322 295l10 7 3-12z"/>
<path class="s f3" d="M1307 237l4 3 8-10-4-4z"/>
<path class="s f4" d="M1311 240l7 6 8-11-7-5z"/>
<path class="s f5" d="M1318 246l8 6 8-10-8-7z"/>
<path class="s f6" d="M1326 252l6 5 5 6 10-8-6-7-7-6z"/>
<path class="s f8" d="M1337 263l5 6 11-8-6-6z"/>
<path class="s f9" d="M1342 269l5 6 11-7-5-7z"/>
<path class="s f10" d="M1347 275l3 6 2 6 12-2-2-9-4-8z"/>
<path class="s f11" d="M1352 287l0 4 13-1-1-5z"/>
<path class="s f12" d="M1348 291l3 4 5 7 7-1 4-8 2-4z"/>
<path class="s f14" d="M1356 302l4 4 3-5z"/>
<path class="l k3" d="M1264 223c2-1 8-5 12-7 5-1 13-3 15-4"/>
<path class="l k3" d="M1266 221c3 1 9 4 17 6 7 2 23 4 28 4"/>
<path class="s f5" d="M1393 236l-5-7-10 8 5 7z"/>
<path class="s f4" d="M1388 229l-7-10-10 8 7 10z"/>
<path class="s f3" d="M1381 219l-8-11-10 8 8 11z"/>
<path class="s f2" d="M1373 208l-8-11-9-10-10 9 9 10 8 10z"/>
<path class="s f1" d="M1356 187l-10-11-4-4 3-3-9-2-10-2 2 11 1 8 3-3 4 4 10 11z"/>
<path class="s f1" d="M1361 179l4 6 10-6-3-6z"/>
<path class="s f2" d="M1365 185l5 9 5 10 11-6-6-10-5-9z"/>
<path class="s f3" d="M1375 204l6 9 4 8 11-6-5-8-5-9z"/>
<path class="s f4" d="M1385 221l5 7-4 2 2 1 9 4 6-4 0-10 0-1-3 2-4-7z"/>
<path class="s f5" d="M1397 235l6 3 0-7z"/>
<path class="s f0" d="M1335 129l2 5 2 7 13-5-3-7-2-5z"/>
<path class="s f1" d="M1339 141l4 7 2 8 3 9 12-3-2-10-3-8-3-8z"/>
<path class="s f2" d="M1348 165l2 9-4 1 0 1 8 7 9-2 4-10 0-1-4 1-3-9z"/>
<path class="s f3" d="M1354 183l6 6 3-8z"/>
<path class="s f1" d="M1363 205l3-2 5-4 6-4 5-5 6-4 6-5 2 3 0-1-10-12 2 2-6 5-6 4-5 5-6 4-5 4-3 2z"/>
<path class="s f2" d="M1396 183l3-8 2-6-6 1-9 1z"/>
<path class="l k0" d="M1341 126c-3-1-11-8-15-8-5-1-11 2-13 6-2 5-2 15 0 22 2 6 11 15 13 18"/>
<path class="l k1" d="M1372 109c1 2 6 8 5 13 0 5-6 12-8 17-3 6-7 8-9 15-2 7-4 15-4 26-1 11 0 36 0 43"/>
<path class="l k2" d="M1404 125c1 2 8 3 7 8 0 5-5 15-8 21-4 7-11 15-13 17"/>
<path class="s f10" d="M1425 185l0 3 10-1 0-3z"/>
<path class="s f11" d="M1425 188l0 4 10-1 0-4z"/>
<path class="s f12" d="M1425 192l1 5 10-1-1-5z"/>
<path class="s f13" d="M1426 197l0 4 0 6 10 0 0-6 0-5z"/>
<path class="s f14" d="M1426 207l-1 3-3 0 2 3 3 6 5 0 5-5 2-3-4 0 1-4z"/>
<path class="s f15" d="M1427 219l3 4 2-4z"/>
<path class="s f19" d="M1394 332l3-8 5-12-12-5-5 12-3 9z"/>
<path class="s f18" d="M1402 312l6-14-12-5-6 14z"/>
<path class="s f17" d="M1408 298l5-13-12-5-5 13z"/>
<path class="s f16" d="M1413 285l6-12-12-6-6 13z"/>
<path class="s f15" d="M1419 273l6-14-12-5-6 13z"/>
<path class="s f14" d="M1425 259l6-12-12-6-6 13z"/>
<path class="s f13" d="M1431 247l3-9-11-5-4 8z"/>
<path class="s f10" d="M1464 207l-7 2 2 4 7-4z"/>
<path class="s f9" d="M1457 209l-9 5 2 5 9-6z"/>
<path class="s f8" d="M1448 214l-12 5-10 7-10 8-10 9-9 11 10 8 9-10 8-10 7-9 9-8 10-6z"/>
<path class="s f9" d="M1397 254l-8 10 10 8 8-10z"/>
<path class="s f10" d="M1389 264l-8 11 11 7 7-10z"/>
<path class="s f11" d="M1381 275l-7 11 11 7 7-11z"/>
<path class="s f12" d="M1374 286l-2 3 11 7 2-3z"/>
<path class="s f13" d="M1368 287l0 10 10 5 8-4z"/>
<path class="s f14" d="M1368 297l1 9 9-4z"/>
<path class="s f18" d="M1429 323l3-6 2-7-11-3-2 6-2 7z"/>
<path class="s f17" d="M1437 311l-2-7-2-8-7 5-6 5z"/>
<path class="l k13" d="M1431 238c1 2 11 7 10 13"/>
<path class="l k14" d="M1441 251c0 5-11 16-12 21-2 5 0 8 4 11"/>
<path class="l k15" d="M1433 283c4 2 17 1 21 4"/>
<path class="l k16" d="M1454 287c5 4 4 13 7 17"/>
<path class="l k17" d="M1461 304c3 5 9 4 10 9"/>
<path class="l k18" d="M1471 313c2 4 3 13 0 19"/>
<path class="l k20" d="M1471 332c-2 6-8 13-12 17-5 4-11 6-15 7-5 1-11 0-13 0"/>
<path class="l k20" d="M1388 332c-1 3-6 10-7 15 0 5 1 12 5 15 3 4 10 6 15 7 5 0 11-1 15-5 3-3 5-10 6-17 1-7 0-20 0-23"/>
</g>
<g filter="url(#rim)">
<path class="l k6" d="M1722 227c-2-1-10-1-15-4-5-3-9-9-15-13-6-4-14-8-19-9-5 0-9 2-11 5-2 3-3 9-2 13 1 3 6 7 11 8 5 1 14-3 19-2 5 1 9 7 11 9"/>
<path class="l k6" d="M1726 229c2 2 8 7 11 11 3 4 8 10 9 15 0 5-5 8-5 13 1 4 6 11 7 15 1 4-1 5-2 8-2 4-7 9-9 13-2 5-3 13-4 15"/>
<path class="l k5" d="M1771 223c0 3 2 12 0 17-1 5-6 8-8 13-2 4-6 11-4 15 1 4 8 7 10 8"/>
<path class="l k5" d="M1823 223c-1 3-4 11-2 17 1 6 9 12 10 17 1 5 0 9-4 13-3 4-13 6-17 9-4 2-5 7-6 8"/>
<path class="l k6" d="M1804 283c3 0 15-2 19 0"/>
<path class="l k7" d="M1823 283c4 2 4 11 6 13 3 2 6-3 9 0"/>
<path class="l k9" d="M1838 296c2 3 6 12 6 17"/>
<path class="l k10" d="M1844 313c0 5-2 9-6 13"/>
<path class="l k12" d="M1838 326c-4 3-14 4-17 8"/>
<path class="l k14" d="M1821 334c-4 4-6 11-5 15"/>
<path class="l k13" d="M1816 349c1 5 8 8 11 11"/>
<path class="l k12" d="M1827 360c3 3 5 7 7 9"/>
<path class="l k6" d="M1834 369c-3 1-9 8-13 10-5 3-11 4-15 5-5 0-12 2-13 0-1-3 5-11 6-13"/>
<path class="l k5" d="M1763 321c0 3 0 11 2 15 2 4 6 7 11 9 4 2 12 2 17 2 5 0 10-1 13-2 2-1 3-5 2-6-1-2-6-2-7-3"/>
<path class="l k9" style="stroke-width:9" d="M1774 341c0 2 1 9 4 13"/>
<path class="l k10" style="stroke-width:9" d="M1778 354c3 3 11 5 15 8 4 3 7 9 8 11"/>
<path class="l k9" d="M1823 189c2 0 10 1 13 4"/>
<path class="l k8" d="M1836 193c3 3 2 12 4 15"/>
<path class="l k9" d="M1840 208c2 3 3 3 6 2"/>
<path class="l k13" d="M1846 210c4-1 13-9 15-11"/>
<path class="l k4" d="M1838 214c1 2 3 9 6 11 3 2 9-1 11 2 2 3 3 13 2 17-1 5-3 7-6 9-3 2-9 2-11 2"/>
<path class="l k13" style="stroke-width:9" d="M1861 197c3 0 11 0 15 2"/>
<path class="l k11" style="stroke-width:9" d="M1876 199c5 3 10 8 11 13 1 5-3 13-6 17"/>
<path class="l k9" style="stroke-width:9" d="M1881 229c-4 5-11 7-13 9"/>
<path class="l k0" style="stroke-width:9.5" d="M1838 261c3 2 13 10 19 11 7 1 14-1 19-4 5-4 11-13 11-17 0-5-7-7-8-9"/>
<path class="s f7" d="M1690 231l4 4 5 7 5 7 5 7 4 7 9-5-4-8-5-8-6-7-5-7-3-4z"/>
<path class="s f8" d="M1713 263l3 7 3 7 2 7 1 6-1 7-1 6-1 6-2 5 10 5 3-7 1-6 1-8 1-8-1-8-2-8-4-9-4-7z"/>
<path class="s f9" d="M1717 314l-3 4-3 4-2 3 9 6 2-3 3-4 4-5z"/>
<path class="s f6" d="M1698 223l2 1 4 3 3 2 4 2-2 3 5 0 4 0 4 0 2 0-1-3-1-3-2-4-2-4-2 3-3-2-4-3-3-2-2-2z"/>
<path class="s f11" d="M1788 195l-2-4-3-6-11 5 3 6 2 4z"/>
<path class="s f10" d="M1783 185l-3-6-3-6-4-6-10 6 3 6 3 5 3 6z"/>
<path class="s f9" d="M1773 167l-2-4 3-2-4-1-7-4-5 4 0 8 0 4 3-2 2 3z"/>
<path class="s f8" d="M1763 156l-6-2 1 6z"/>
<path class="s f4" d="M1753 212l-5-5-7-8-8-8-9-7-8 10 8 7 7 7 7 8 5 5z"/>
<path class="s f3" d="M1724 184l-9-7-10-7-2-2 2-3-10 0-9 0 3 8 4 10 3-4 2 1 9 7 9 7z"/>
<path class="s f4" d="M1691 130l5 7 7 10 9 12 7 10 7 9 6 8 7 8 6 7 7 8 6 6-3 3 1 1 10 2 8 2-2-7-1-11-1-1-3 3-6-7-6-7-6-7-7-8-6-8-7-9-7-10-8-11-7-10-5-7z"/>
<path class="l k5" d="M1694 125c-2 0-10-4-15-3-4 1-10 4-10 9-1 4 3 11 6 17 3 5 9 12 11 15"/>
<path class="l k8" d="M1748 120c1 3 5 12 6 17 2 5 2 11 2 13"/>
<path class="l k11" d="M1742 114c2 1 8 6 8 10"/>
<path class="l k13" d="M1750 124c0 4-4 8-6 13"/>
<path class="l k14" d="M1744 137c-3 5-8 14-9 17"/>
<path class="l k13" d="M1748 193c-3 1-13 4-19 6"/>
<path class="l k14" d="M1729 199c-7 3-14 5-18 9"/>
<path class="l k15" d="M1711 208c-4 4-6 9-6 15 0 5 6 11 9 17 2 6 4 11 4 17 0 7-3 14-4 22-2 7-4 18-5 25"/>
<path class="l k16" d="M1709 304c-1 7-2 13-2 15"/>
<path class="l k16" d="M1729 197c0 2 5 9 4 13-1 4-6 9-9 11-2 1-5-1-6-2-2-2-2-8-2-9"/>
<path class="s f15" d="M1714 248l-1 5-1 8-1 9-1 8-2 7-1 7 8 1 1-7 2-7 1-8 1-8 1-8 1-6z"/>
<path class="s f16" d="M1707 292l-1 6-1 6 0 5-1 5-1 4 0 3 8 1 0-3 1-4 1-5 0-5 1-6 1-6z"/>
<path class="s f14" d="M1704 315l-4 1 2 8 4 0z"/>
<path class="s f13" d="M1700 316l-5 1-5 1 2 9 5-1 5-2z"/>
<path class="s f12" d="M1690 318l-5 1-3 1 3 8 2 0 5-1z"/>
<path class="s f11" d="M1681 317l-1 2-3 4 2 6 5 2 2 0z"/>
<path class="s f10" d="M1677 323l-2 3 1 2 3 1z"/>
<path class="s f9" d="M1675 326l-2 2 3 0z"/>
<path class="s f16" d="M1727 157l0 3 1 5 0 6 0 4 0 2-5-1 2 4 3 6 2 5 2 4 3-3 4-4 5-6 2-3-4 0 0-3 0-6 0-6-1-5 0-3z"/>
<path class="s f18" d="M1753 184l2-2 3-2 4-3 3-2 1 0 2 2 1-2 2-4 1-4 2-2-3 0-4 0-4 0-3-1 2 3-2 1-3 2-4 2-3 3-3 1z"/>
<path class="l k20" d="M1777 130c1 0 9 0 9 3 1 3-1 9-4 15-2 5-9 14-11 17"/>
<path class="s f18" d="M1786 142l0 4 0 5 1 6 0 6 0 6-5 0 5 7 3 6 3 4 3-4 4-6 5-6 0-1-4 0 0-6 0-6-1-7 0-5 0-4z"/>
<path class="l k17" d="M1793 186c1 3 5 10 6 15 1 6 1 13 0 18-1 4-5 8-6 10"/>
<path class="l k15" d="M1821 189c0-2 0-9 2-11 1-2 5-4 6-3 2 0 5 5 3 7-1 2-6 1-9 4-3 4-6 10-9 15-3 6-7 15-8 18"/>
<path class="s f15" d="M1788 249l1 5 13 0-1-6z"/>
<path class="s f14" d="M1789 254l0 9 13 0 0-9z"/>
<path class="s f13" d="M1789 263l0 9 13 1 0-10z"/>
<path class="s f12" d="M1789 272l-1 11 13 0 1-10z"/>
<path class="s f11" d="M1788 283l0 12 13 1 0-13z"/>
<path class="s f12" d="M1788 295l-2 14 13 1 2-14z"/>
<path class="s f13" d="M1786 309l0 6-4 0 3 7 13 1 5-6-4 0 0-7z"/>
<path class="s f14" d="M1785 322l6 10 7-9z"/>
<path class="s f16" d="M1815 200l-3 4-4 6-5 7 11 8 5-7 4-6 3-4z"/>
<path class="s f17" d="M1803 217l-6 9-5 10-5 10-5 12-6 11-7 12 12 7 7-13 6-11 6-11 5-11 5-9 4-8z"/>
<path class="s f18" d="M1769 281l-7 13-7 11-5 9 12 7 5-8 7-12 7-13z"/>
<path class="s f19" d="M1835 206l-6 3-9 3-10 5-9 4-9 5-8 5-8 6-9 6-11 9-12 11-7 6-3-3-2 7-3 12 12-2 7-1-3-3 7-6 13-11 10-8 9-7 8-5 7-5 8-4 9-5 9-4 9-3 6-3z"/>
<path class="l k19" d="M1754 317c-2 2-9 6-13 11-3 5-6 12-6 19 0 7 1 18 4 22 3 3 11 0 15 2"/>
<path class="l k18" d="M1754 371c5 1 9 5 13 6"/>
<path class="l k17" d="M1767 377c4 2 8 4 11 2 2-2 3-9 4-15"/>
<path class="l k16" d="M1782 364c1-5-1-12 0-17"/>
<path class="l k15" d="M1782 347c1-5 5-11 7-13"/>
</g>
<g filter="url(#rim)">
<path class="l k12" d="M1321 561c1-2 1-9 5-12"/>
<path class="l k13" d="M1326 549c3-3 10-6 15-6"/>
<path class="l k14" d="M1341 543c4 0 8 3 10 6"/>
<path class="l k16" d="M1351 549c3 2 0 8 5 10"/>
<path class="l k17" d="M1356 559c4 2 17 0 21 2"/>
<path class="l k18" d="M1377 561c4 3 4 6 4 11"/>
<path class="l k19" d="M1381 572c1 5-3 12-2 17 2 6 9 10 11 15 2 5 2 13 2 15"/>
<path class="l k15" d="M1396 639c2 0 6 2 9 4 2 1 5 3 6 4"/>
<path class="s f19" d="M1340 588l4 7 6 11 7 12 6 11 7 10 10-7-6-9-7-11-7-12-6-11-4-7z"/>
<path class="s f18" d="M1370 639l6 9 7 10 10-7-7-10-6-9z"/>
<path class="s f17" d="M1383 658l6 10 10-7-6-10z"/>
<path class="s f16" d="M1389 668l8 11 10-7-8-11z"/>
<path class="s f15" d="M1397 679l8 12 10-6-8-13z"/>
<path class="s f14" d="M1405 691l4 7-3 2 6 3 10-7 0-7-3 2-4-6z"/>
<path class="s f13" d="M1412 703l10 4 0-11z"/>
<path class="s f12" d="M1329 615l3 9 11-4-4-9z"/>
<path class="s f13" d="M1332 624l5 13 5 14 10-4-5-14-4-13z"/>
<path class="s f14" d="M1342 651l4 11 5 9 4 6 9-6-4-6-4-7-4-11z"/>
<path class="s f15" d="M1355 677l5 6 4 6 9-6-4-7-5-5z"/>
<path class="s f14" d="M1364 689l5 7 6 8 9-6-6-8-5-7z"/>
<path class="s f13" d="M1375 704l0 1 10-6-1-1z"/>
<path class="s f12" d="M1373 707l8 4 7 3 0-8-1-9z"/>
<path class="s f20" d="M1450 665l2 6 1 8 2 10 2 8 1 8 1 9 1 8 1 5 8-1-1-5-1-8-1-9-1-8-2-9-2-9-2-9-1-6z"/>
<path class="s f17" d="M1477 576l-4 7 10 6 4-7z"/>
<path class="s f18" d="M1473 583l-7 11 11 6 6-11z"/>
<path class="s f19" d="M1466 594l-7 12 11 6 7-12z"/>
<path class="s f20" d="M1459 606l-6 13-5 13-6 14 12 4 5-14 5-12 6-12z"/>
<path class="s f19" d="M1442 646l-4 14-5 13 12 4 4-14 5-13z"/>
<path class="s f18" d="M1433 673l-3 14 12 3 3-13z"/>
<path class="s f17" d="M1430 687l-3 15 12 2 3-14z"/>
<path class="s f16" d="M1427 702l-1 6 11 3 2-7z"/>
<path class="s f15" d="M1422 708l3 6 11 3 5-6z"/>
<path class="s f14" d="M1425 714l4 10 7-7z"/>
<path class="s f19" d="M1439 643l0 7 0 11 13 0 0-10 0-8z"/>
<path class="s f18" d="M1439 661l0 13 0 12 13-1 0-12 0-12z"/>
<path class="s f17" d="M1439 686l2 13 12-1-1-13z"/>
<path class="s f16" d="M1441 699l1 15 13-2-2-14z"/>
<path class="s f15" d="M1442 714l1 6-4 0 6 7 12-2 3-8-4 1-1-6z"/>
<path class="s f14" d="M1445 727l7 8 5-10z"/>
<path class="s f12" d="M1449 637l-2-8-11 2 2 9z"/>
<path class="s f11" d="M1447 629l-2-13-4-14-11 3 3 14 3 12z"/>
<path class="s f10" d="M1441 602l-2-14-3-15-12 2 3 15 3 15z"/>
<path class="s f9" d="M1436 573l-2-17-12 2 2 17z"/>
<path class="s f8" d="M1434 556l-2-11 4 0-3-4-14 2-2 5 3-1 2 11z"/>
<path class="s f7" d="M1433 541l-9-10-5 12z"/>
<path class="s f3" d="M1453 529l-1 5 12 1 1-5z"/>
<path class="s f4" d="M1452 534l0 7-1 8 12 1 1-8 0-7z"/>
<path class="s f5" d="M1451 549l-1 8 12 1 1-8z"/>
<path class="s f6" d="M1450 557l0 8 12 1 0-8z"/>
<path class="s f7" d="M1450 565l-1 8 12 1 1-8z"/>
<path class="s f8" d="M1449 573l0 8 12 1 0-8z"/>
<path class="s f9" d="M1449 581l-1 6 12 1 1-6z"/>
<path class="l k14" d="M1421 669c1 1 3 5 5 6 2 1 6 2 7 2"/>
<path class="s f11" d="M1498 585l-8 2 2 11 9-2z"/>
<path class="s f12" d="M1490 587l-13 3 3 11 12-3z"/>
<path class="s f13" d="M1477 590l-13 4 3 11 13-4z"/>
<path class="s f14" d="M1464 594l-12 5-10 7-8 8-8 8 9 7 7-7 7-7 8-6 10-4z"/>
<path class="s f13" d="M1426 622l-6 9-7 10 10 6 6-10 6-8z"/>
<path class="s f12" d="M1413 641l-5 11 10 5 5-10z"/>
<path class="s f11" d="M1408 652l-5 10 10 4 5-9z"/>
<path class="s f10" d="M1403 662l-3 6 10 5 3-7z"/>
<path class="l k16" d="M1482 576c0-2 2-10 2-15"/>
<path class="l k15" d="M1484 561c0-4-3-7-2-10 2-3 7-7 11-7 4 0 11 3 13 7"/>
<path class="l k14" d="M1506 551c1 3-4 10-5 15-1 4-2 8-2 13 1 4 3 11 7 12 3 1 9-4 13-6"/>
<path class="l k15" d="M1519 585c3-2 9-7 10-6 2 0 1 6-2 8-3 2-12 4-15 4"/>
<path class="s f2" d="M1307 553l3 8 9-3-4-9z"/>
<path class="s f3" d="M1310 561l6 13 6 14 8-3-6-15-5-12z"/>
<path class="s f4" d="M1322 588l4 13 8-2-4-14z"/>
<path class="s f5" d="M1326 601l2 13 9-1-3-14z"/>
<path class="s f6" d="M1328 614l1 13 9 0-1-14z"/>
<path class="s f7" d="M1329 627l0 14 9 0 0-14z"/>
<path class="s f8" d="M1329 641l1 13 1 12 1 13 9-1-1-12-1-13-1-12z"/>
<path class="s f6" d="M1332 679l1 10 1 8 9-1-1-8-1-10z"/>
<path class="s f4" d="M1405 557l0 8 13-1 0-7z"/>
<path class="s f5" d="M1405 565l1 10-1 12-2 11-5 11-7 13-8 13-9 15-12 18 11 7 12-18 9-15 9-14 7-13 5-13 3-14 1-13-1-11z"/>
<path class="s f4" d="M1362 668l-14 19 11 8 14-20z"/>
<path class="s f3" d="M1348 687l-12 19 10 7 13-18z"/>
<path class="s f2" d="M1336 706l-9 12 10 8 9-13z"/>
<path class="s f2" d="M1412 522l-4 10-7 13-8 15 11 6 8-16 6-13 5-9z"/>
<path class="s f3" d="M1393 560l-8 16-9 15-10 15 10 7 10-16 9-15 9-16z"/>
<path class="s f2" d="M1366 606l-10 17-10 17-10 19-11 20-9 18-3-1 2 18 15-9 1 0-4-2 9-18 11-20 10-19 9-17 10-16z"/>
<path class="l k0" d="M1456 527c-1-1-7-3-10-6-3-4-7-9-7-13 0-4 7-8 7-11 0-3-3-7-7-8-4-2-12 0-17 2-5 2-9 6-11 10-1 5 1 12 3 15 1 4 5 6 6 7"/>
<path class="l k0" d="M1403 516c1-2 3-12 6-17 4-4 9-5 15-8 6-4 15-9 22-13 6-5 13-12 19-15 6-4 11-8 15-7 4 1 7 9 6 13 0 5-5 11-8 13-4 2-10-1-13-2-3-1-5-5-6-6"/>
<path class="l k2" d="M1311 551c-1-4-4-13-2-20 1-6 6-15 10-19 5-4 10-6 15-5 5 0 12 4 15 7 4 4 8 11 8 15-1 5-6 7-10 13-3 6-8 18-11 24-2 6-1 10-2 13"/>
<path class="l k5" d="M1332 724c3 1 10 5 15 5"/>
<path class="l k6" d="M1347 729c5-1 10-6 15-7"/>
<path class="l k7" d="M1362 722c5-1 13 0 15 0"/>
<path class="l k10" d="M1390 726c2-2 10-11 15-12 5-2 11 1 13 2"/>
<path class="l k11" d="M1452 737c1 2 2 9 4 13 3 4 8 9 9 11"/>
<path class="l k11" d="M1463 731c-2 2-11 8-13 13"/>
<path class="l k10" d="M1450 744c-2 4 3 7 0 12"/>
<path class="l k9" d="M1450 756c-3 6-11 15-17 20"/>
<path class="l k7" d="M1433 776c-6 4-12 8-17 8"/>
<path class="l k6" d="M1416 784c-5 1-10-2-13-6"/>
<path class="l k5" d="M1403 778c-3-4-6-12-7-17"/>
<path class="l k6" d="M1396 761c0-6 4-15 5-17"/>
<path class="l k9" d="M1422 720c-1 2-1 10-4 15"/>
<path class="l k8" d="M1418 735c-3 5-10 11-15 15"/>
<path class="l k6" d="M1403 750c-6 4-12 5-17 9"/>
<path class="l k5" d="M1386 759c-6 3-12 6-17 10"/>
<path class="l k4" d="M1369 769c-5 4-11 11-13 13"/>
<path class="l k6" style="stroke-width:9" d="M1369 750c1 1 7 9 10 9"/>
<path class="l k7" style="stroke-width:9" d="M1379 759c4 0 10-4 11-9 1-5 0-15-2-19"/>
<path class="l k6" style="stroke-width:9" d="M1388 731c-2-5-9-7-11-9"/>
<path class="l k0" d="M1313 714c-1 1 0 7-2 8-2 1-7-3-11-2-4 1-9 6-11 9-1 2 2 7 2 8"/>
<path class="l k1" d="M1326 750c0-3 3-10 4-15 1-5 2-11 2-13"/>
<path class="l k0" style="stroke-width:10" d="M1283 741c2 3 6 11 11 13 4 3 9 3 15 2 5 0 14-5 17-6"/>
</g>
<g filter="url(#rim)">
<path class="l k2" style="stroke-width:1.4" d="M1856 485c0-1 1-8 4-11 3-2 14-5 16-4 1 1-8 8-7 11 1 3 12 10 16 9 3-1 3-13 4-16"/>
<path class="l k2" style="stroke-width:1.4" d="M1929 477c0 3 3 12 2 17-1 5-5 12-9 14-4 1-13-4-15-5"/>
<path class="l k1" style="stroke-width:1.6" d="M1608 747c2 2 6 9 11 13 4 4 13 9 15 11"/>
<path class="l k1" style="stroke-width:1.6" d="M1641 791c2 1 9 6 13 7 4 0 9-2 11-3"/>
<path class="l k10" style="stroke-width:1.6" d="M1803 497c1 2 5 13 6 17"/>
<path class="l k14" style="stroke-width:1.6" d="M1809 514c2 5 2 8 2 9"/>
<path class="s e8" d="M1809 500l1-1 2-3 0-4 1-4 0-1 0-1-2 2-1 3-1 4 0 3 0 2zM1843 495l1-2 1-3 0-4 1-3 0-2-1 0-1 1-1 4 0 4 0 3 0 1z"/>
<path class="s e9" d="M1820 499l2-2 1-3 0-4 1-3 0-1 0-1-2 1-1 4 0 4-1 3 0 1zM1832 497l1-1 1-4 0-4 1-3 0-1-1-1-1 2-1 3 0 4-1 3 1 2z"/>
<path class="s e6" d="M1854 493l1-2 1-3 1-4 1-3 0-2-2 1-1 3-1 4 0 4-1 1zM1863 492l2-1 2-3 1-3 2-3 0-2-2 1-1 3-2 3-2 3 0 2z"/>
<path class="s e7" d="M1873 494l2-1 2-3 2-3 2-3 0-1 0-1-2 1-2 3-2 3-1 3-1 1z"/>
<path class="s f8" d="M1802 489l-1 1 1 3 2 4 2 3 3 1 0-2 0-1-1-3-1-4-2-3-3-1zM1835 484l-1 2 2 3 2 3 2 3 3 0 0-1 0-2-1-3-2-3-3-3-3 0z"/>
<path class="s f9" d="M1813 487l-1 2 1 3 2 4 2 2 3 1 0-1 1-2-1-3-2-3-2-3-3-1z"/>
<path class="s f10" d="M1824 486l-1 2 2 3 2 3 2 3 3 1-1-2 1-1-1-3-2-4-2-3-3 0z"/>
<path class="s f7" d="M1846 482l-1 1 1 3 2 4 3 2 3 1-1-1 1-2-1-3-2-3-3-3-3-1zM1870 481l-1 1 0 3 1 4 1 4 2 2 0-2 1-1 0-3 0-4-1-4-3-2z"/>
<path class="s f6" d="M1858 480l-1 1 1 3 1 4 1 3 3 2 0-2 1-1-1-3-1-4-1-3-3-2z"/>
<path class="s e2" d="M1895 488l2-1 1-4 1-4 2-3 0-2-2 1-1 4-2 4-1 3 0 2zM1907 488l1-1 2-4 1-4 1-3 1-2-2 1-2 4-1 4-1 3 0 2zM1918 488l2-1 2-4 1-4 1-3 0-2-1 1-2 4-1 4-1 3-1 2z"/>
<path class="s f2" d="M1889 475l-1 1 1 4 1 4 2 3 3 2 0-2 1-1-1-4-1-4-2-3-3-2zM1901 475l-1 1 1 4 1 4 2 3 3 2 0-2 0-1 0-4-2-4-1-3-3-2zM1913 475l-1 1 0 4 2 4 2 3 2 2 0-2 1-1 0-4-2-4-2-3-2-2z"/>
<path class="s e19" d="M1819 527l1-2 0-3 0-5 0-3 0-2-1 2-1 3 0 5 0 3 1 2z"/>
<path class="s e20" d="M1830 524l1-2 0-4 0-4-1-4 0-1 0-1-1 2 0 4 0 4 0 4 1 1z"/>
<path class="s e16" d="M1841 519l0-2 0-4 0-4-1-4-1-1 0-1-1 2 0 4 1 4 1 4 0 1z"/>
<path class="s e13" d="M1851 514l1-3-1-3-1-4 0-4-1-1 0-1-1 2 0 4 1 4 1 4 0 1z"/>
<path class="s e11" d="M1861 508l0-2 0-4-1-4-1-3 0-2-1 0 0 2 0 4 1 4 1 3 0 2z"/>
<path class="s f19" d="M1810 516l-1 2 2 3 2 3 3 3 3 1 0-2 0-1-2-3-2-4-3-3-3 0z"/>
<path class="s f20" d="M1820 513l0 1 2 3 2 4 3 3 3 0-1-1 1-2-2-3-3-3-2-3-3-1z"/>
<path class="s f18" d="M1830 509l0 2 2 3 3 3 3 2 3 0-1-1 0-2-2-3-3-3-2-2-4 0z"/>
<path class="s f15" d="M1840 504l-1 2 3 3 3 3 3 2 3 0-1-1 0-2-2-3-3-3-3-2-3 0z"/>
<path class="s f12" d="M1849 499l0 2 2 3 3 2 4 3 3 0-1-2 0-1-2-3-3-3-3-2-3 0z"/>
<path class="s f10" d="M1859 494l0 1 2 3 3 3 3 2 3 0 0-1 0-2-2-2-4-3-3-3-3 0z"/>
<path class="s e2" d="M1626 722l1 2 2 3 2 4 3 3 1 1 0-2-2-3-3-4-3-3-1-1zM1621 726l1 2 2 4 2 4 2 3 1 1 1 1-1-2-2-4-2-4-2-3-1-1zM1617 730l0 3 1 3 3 4 1 4 1 1 0-2-1-3-2-4-2-4-1-1zM1612 734l0 2 1 4 2 4 1 4 1 1 0-2-1-3-2-5-1-3-1-2z"/>
<path class="s f2" d="M1640 730l-1-2-3-2-4-3-4-2-2 0 1 1 0 2 3 2 4 3 4 1 2 0zM1635 735l-1-2-3-2-4-3-3-2-3 0 1 1 0 1 3 3 4 3 4 2 2-1zM1629 740l0-1-3-3-3-3-4-3-2 0 0 1 1 2 2 2 4 3 3 3 3 0zM1623 745l0-2-3-3-3-3-3-3-3 0 1 1 0 1 3 3 3 4 3 2 3 1zM1617 749l0-2-3-3-3-3-3-3-3 0 1 0 0 2 3 3 3 3 3 3 2 1z"/>
<path class="s e1" d="M1615 783l2-1 4-3 3-3 4-3 0-2 1 0-2 1-4 2-4 4-3 3-1 2zM1623 788l2-1 3-3 3-4 3-3 1-2-2 1-3 3-4 4-2 3-1 2zM1632 793l2-1 2-4 3-5 2-3 1-2 0-1-2 2-3 4-2 4-2 4-1 2zM1641 796l2-2 2-4 2-5 2-4 0-1 0-1-1 2-2 4-2 5-2 4 0 1z"/>
<path class="s f1" d="M1621 767l-2 0-2 4-2 5-1 4 1 3 1-1 1 0 2-4 2-5 2-4-1-3zM1628 772l-1 0-2 4-2 5-2 4 1 3 1-1 2 0 2-4 2-5 1-5-1-3zM1635 776l-2 1-1 4-1 5-1 5 2 2 0-1 2-1 1-4 1-5 1-5-2-3zM1641 778l-1 2 0 4-1 5 1 5 1 2 1-1 1-1 1-5 0-5 0-4-2-3zM1649 780l-1 1 0 5 0 5 0 4 2 3 0-1 2-2 0-4 0-5-1-5-2-2z"/>
<path class="s e2" d="M1649 724l2 1 5 1 6 0 4 0 2-1 1 0-2-1-5-1-6 0-5 0-2 1zM1651 735l2 2 5 1 5 2 5 0 2 0 0 1-2-2-4-2-6-1-4-1-2 0zM1650 743l1 2 4 3 5 3 4 2 2 1-1-2-4-3-4-3-4-2-2-1zM1646 754l1 2 4 3 5 3 5 2 1 0 1 1-1-3-4-3-5-2-4-3-2 0zM1643 766l1 2 5 3 5 2 4 2 2 1 1 0-2-2-4-3-5-2-5-2-1-1z"/>
<path class="s f2" d="M1665 714l-2-1-5 2-5 2-4 3-1 4 2 0 2 1 4-2 5-3 4-3 1-4zM1668 725l-2 0-5 1-5 3-4 2-1 4 1 0 2 0 5-1 5-2 4-3 1-4zM1669 740l-1-1-5 0-6 0-5 1-2 3 1 0 2 2 5 0 5 0 5-1 3-3zM1665 754l-1-2-5-1-5 0-5 0-3 2 1 1 2 2 4 1 6 0 5 0 3-3zM1662 764l-2-1-4-1-6 0-5 1-3 3 2 0 2 2 4 0 6 0 5-1 3-2zM1659 776l-1-2-5 0-6 0-4 1-3 3 2 0 1 2 5 0 5 0 5-1 3-3z"/>
<path class="s e1" d="M1674 789l0-3-2-4-2-5-2-4-2-1-1-1 0 3 2 5 2 4 3 4 1 1zM1683 780l0-3-2-4-2-4-3-4-1-1-1-1 0 3 2 4 2 5 2 4 2 1zM1691 772l1-3-2-4-3-5-2-4-1-1-1-1 0 3 1 5 3 4 2 4 2 1zM1700 763l1-3-2-4-3-4-2-4-1-1-1-1-1 3 2 4 3 5 2 4 1 1zM1709 755l0-3-1-4-3-5-2-4-2-1 0-1-1 3 2 5 3 4 2 4 1 1zM1718 746l0-2-2-5-2-4-2-4-2-1 0-1-1 3 2 4 2 5 3 4 1 1zM1727 738l0-3-2-4-2-5-2-4-2-1 0-1-1 3 2 5 2 4 3 4 1 1zM1736 730l0-3-2-4-2-5-2-4-1-1-1-1-1 3 2 4 2 5 2 4 2 1zM1745 722l0-3-1-4-3-5-2-4-1-1-1-1 0 3 1 4 2 5 2 4 2 1zM1754 714l0-3-1-4-3-5-2-4-1-1-1-1 0 3 1 4 3 5 2 4 1 1zM1763 706l0-3-1-4-3-5-2-4-1-1-1-1 0 3 1 4 3 5 2 4 1 1z"/>
<path class="s e2" d="M1772 697l1-3-2-4-3-5-2-3-2-1 0-1-1 3 2 4 3 5 2 3 2 1z"/>
<path class="s e4" d="M1781 688l0-3-2-4-3-5-2-3-2-1-1-1 0 3 2 4 3 5 3 3 1 1z"/>
<path class="s e7" d="M1789 678l0-3-2-4-3-4-3-3-2-1 0-1 0 3 2 4 3 4 3 4 1 1z"/>
<path class="s e9" d="M1797 668l0-3-3-4-3-4-3-3-2-1-1 0 0 3 3 3 4 4 3 3 1 1zM1828 599l-1-2-3-4-4-3-4-2-2-1-1 0 1 3 4 3 4 3 4 3 1 0zM1833 588l-1-3-4-3-4-3-4-3-1 0-1 0 1 2 3 4 4 3 4 2 2 0zM1837 577l-1-3-3-3-4-4-4-2-2 0-1-1 1 3 3 3 5 3 3 3 2 0z"/>
<path class="s e11" d="M1804 657l-1-3-2-3-4-4-3-3-2-1-1-1 1 3 2 4 4 4 3 3 2 1zM1820 622l-1-3-3-3-5-3-3-2-2 0-1-1 1 3 3 3 5 3 3 2 2 1z"/>
<path class="s e13" d="M1810 646l0-3-4-4-4-3-3-3-2 0-1-1 1 3 3 4 4 3 4 3 1 0zM1816 634l-1-3-4-3-4-3-4-3-1 0-1-1 1 3 3 4 4 3 4 2 2 1z"/>
<path class="s e10" d="M1824 611l-1-3-3-3-5-3-3-3-2 0-1 0 1 2 3 3 5 4 3 2 2 0zM1842 565l-1-3-3-3-5-3-3-3-2 0-1 0 1 2 3 4 4 3 4 3 2 0z"/>
<path class="s e12" d="M1846 555l0-3-3-4-4-3-4-3-2 0-1-1 1 3 3 3 4 4 4 3 1 0z"/>
<path class="s e16" d="M1852 544l-1-3-3-4-4-3-4-3-1 0-1-1 0 3 4 3 4 4 3 3 2 0z"/>
<path class="s e18" d="M1857 533l-1-3-3-4-4-3-3-3-2 0-1-1 1 3 3 3 4 4 3 3 2 0z"/>
<path class="s f1" d="M1658 781l0 3 3 3 5 2 4 2 4-2-1-1 0-3-3-3-5-2-5-2-4 1zM1667 773l-1 2 4 3 4 3 5 1 4-1-2-2 1-3-4-2-4-3-5-2-4 2zM1675 764l0 3 3 3 5 2 5 2 4-2-2-1 1-3-4-3-4-2-5-2-4 1zM1684 756l0 2 3 3 5 3 4 1 5-1-2-2 0-3-3-2-5-3-4-2-4 2zM1693 747l0 3 3 3 5 2 4 2 4-2-1-1 0-3-3-3-5-2-4-2-5 1zM1702 739l0 2 3 3 4 3 5 1 4-1-1-2 0-2-3-3-5-3-5-2-4 2zM1711 730l-1 3 4 3 4 2 5 2 4-1-2-2 1-3-4-3-4-2-5-2-4 1zM1720 722l-1 2 4 3 4 3 5 2 4-2-2-1 1-3-4-3-4-3-5-1-4 1zM1729 713l0 3 3 3 4 3 5 2 4-2-2-1 1-3-3-3-5-3-4-2-5 2zM1738 705l0 3 3 3 4 3 5 2 4-2-1-1 0-3-3-3-5-3-4-2-4 1zM1747 697l0 3 3 3 5 3 4 2 4-2-1-2 0-2-3-3-4-3-5-2-4 2z"/>
<path class="s f2" d="M1756 689l0 3 3 3 5 2 5 2 4-1-2-2 0-3-3-3-4-2-5-2-4 2z"/>
<path class="s f3" d="M1765 681l0 3 3 2 5 3 4 1 5-2-2-1 0-3-3-3-5-2-5-1-4 1z"/>
<path class="s f5" d="M1773 672l0 3 3 2 5 3 5 1 4-2-2-2 0-3-4-2-5-2-4-1-4 2z"/>
<path class="s f8" d="M1780 663l0 3 4 2 5 2 5 0 4-2-2-1-1-3-3-2-5-2-5-1-4 3z"/>
<path class="s f10" d="M1787 654l0 2 4 2 5 2 5 0 4-2-3-2 0-2-4-2-5-2-5 0-4 2zM1811 599l1 3 4 1 5 0 5 0 3-3-2-1-1-3-4-1-6 0-4 0-4 3zM1829 553l0 3 5 1 5 1 5 0 3-3-2-1-1-3-4-1-5-1-5 0-3 3z"/>
<path class="s f12" d="M1793 643l0 3 4 2 5 1 5 0 4-3-2-1-1-3-4-1-5-2-5 0-3 3zM1802 622l1 3 4 1 6 0 4 0 4-4-3-1 0-2-5-1-5-1-5 1-3 3z"/>
<path class="s f13" d="M1798 633l1 3 4 1 5 1 5-1 3-3-2-1-1-2-4-1-5-1-5 0-3 3z"/>
<path class="s f11" d="M1806 611l1 2 4 1 6 1 5-1 3-3-3-1 0-2-5-1-5-1-5 1-3 3z"/>
<path class="s f9" d="M1815 588l1 2 4 1 5 1 5-1 3-3-2-1-1-2-4-1-5-1-5 1-3 3zM1819 576l1 3 4 1 6 0 4 0 4-3-3-1 0-3-5-1-5 0-5 0-3 3zM1824 565l1 2 4 1 5 1 5 0 3-3-2-1-1-3-4-1-5-1-5 1-3 3z"/>
<path class="s f14" d="M1834 542l1 3 4 1 5 1 5 0 3-3-2-1-1-3-4-1-5-1-5 0-3 3z"/>
<path class="s f17" d="M1839 531l1 2 4 2 5 1 5 0 4-3-3-1 0-3-4-1-6-1-4 0-4 3z"/>
</g>
<g filter="url(#rim)">
<path class="s e4" d="M1425 1121l0-6-5-7-6-8-6-6-3-2-2-1 1 6 5 8 6 7 5 6 3 2z"/>
<path class="s e5" d="M1440 1090l0-6-5-8-6-7-6-6-3-2-2-1 0 6 5 7 7 8 6 6 3 2z"/>
<path class="s f3" d="M1391 1124l3 4 7 2 10 0 10-2 6-6-5-2-2-5-8-1-10-1-9 2-6 6z"/>
<path class="s f4" d="M1407 1093l2 4 8 2 10 0 9-2 6-7-5-2-2-4-8-2-10 0-9 2-6 7z"/>
<path class="l k5" d="M1287 1279c0-3 0-13-1-19-1-6-3-13-3-15"/>
<path class="l k3" style="stroke-width:9" d="M1283 1245c3-2 14-11 19-11 5 1 8 10 11 15 3 5 5 15 8 15 4 0 9-10 11-15 2-4 2-9 2-10"/>
<path class="l k0" d="M1334 1239c2-2 10-3 13-7 3-4 6-13 7-19 0-6-2-14-3-17"/>
<path class="l k0" d="M1351 1196c1 2 5 9 7 13 2 3 5 8 6 10"/>
<path class="l k0" d="M1354 1196c2-1 11-4 15-2 3 1 6 5 8 10 2 5 2 15 4 20 3 5 5 8 9 10 4 2 8 2 13 0 4-1 12-7 15-8"/>
<path class="l k5" d="M1356 1131c2 1 9 5 13 7 3 1 8 2 10 2"/>
<path class="l k2" d="M1379 1151c3 0 11 2 15 2 5-1 11-4 13-4"/>
<path class="l k19" d="M1448 1082c1-3 2-13 4-19 3-6 7-12 11-15"/>
<path class="l k18" d="M1463 1048c4-4 8-6 13-6"/>
<path class="l k16" d="M1476 1042c4 1 11 7 13 10"/>
<path class="l k13" d="M1489 1052c1 3 0 7-3 9"/>
<path class="l k11" d="M1486 1061c-2 1-10-2-15 0"/>
<path class="l k9" d="M1471 1061c-4 1-9 5-10 10"/>
<path class="l k8" d="M1461 1071c-2 6-1 17 0 22"/>
<path class="l k6" d="M1461 1093c1 5 5 7 6 8"/>
<path class="s e12" d="M1458 1049l0-7-5-9-8-9-6-7-3-2-3-1 1 7 5 8 8 9 6 7 3 2z"/>
<path class="s e10" d="M1476 1017l-1-7-5-8-8-9-6-7-4-2-2-1 0 7 6 8 8 9 6 7 4 2z"/>
<path class="s f13" d="M1420 1047l1 5 9 3 12 2 10-1 8-7-5-2-2-6-9-3-11-1-11 0-7 7z"/>
<path class="s f11" d="M1437 1016l2 5 9 3 11 2 11-1 7-7-5-3-2-5-8-3-12-1-11 1-7 6z"/>
<path class="l k20" d="M1418 1063c1-4 4-15 6-22 2-6 7-10 7-17"/>
<path class="l k19" d="M1431 1024c0-6-6-14-7-21 0-7 1-16 5-19"/>
<path class="l k18" d="M1429 984c3-4 10-5 15-5"/>
<path class="l k17" d="M1444 979c4 0 10 4 12 5"/>
<path class="s f3" d="M1361 1174l0-7-4 0 2 7z"/>
<path class="s f4" d="M1361 1167l-1-11-1-13-1-12-9 1 3 12 2 13 3 10z"/>
<path class="s f5" d="M1358 1131l-1-14-3-16-10 2 3 15 2 14z"/>
<path class="s f6" d="M1354 1101l-1-11 3-1-2-2-13 2-1 2 3 0 1 12z"/>
<path class="s f7" d="M1354 1087l-8-9-5 11z"/>
<path class="s f3" d="M1361 1174l2-7-4-1 0 8z"/>
<path class="s f4" d="M1363 1167l2-12-6 0 0 11z"/>
<path class="s f6" d="M1365 1155l2-12-8-1 0 13z"/>
<path class="s f7" d="M1367 1143l2-11-10-1 0 11z"/>
<path class="s f9" d="M1369 1132l1-10-10-1-1 10z"/>
<path class="s f12" d="M1370 1122l1-10-10-1-1 10z"/>
<path class="s f14" d="M1371 1112l0-9-10 0 0 8z"/>
<path class="s f17" d="M1371 1103l0-6-10 0 0 6z"/>
<path class="l k12" d="M1345 1076c1-2 5-11 9-13"/>
<path class="l k15" d="M1354 1063c3-3 10-3 15-2"/>
<path class="l k18" d="M1369 1061c4 0 8 3 10 6"/>
<path class="l k19" d="M1379 1067c2 4 2 10 0 15-2 5-10 13-13 15"/>
<path class="s f0" d="M1381 1186l4-8-3-2-4 8z"/>
<path class="s f1" d="M1385 1178l7-11-5-3-5 12z"/>
<path class="s f2" d="M1392 1167l8-12-7-4-6 13z"/>
<path class="s f3" d="M1400 1155l7-10-8-6-6 12z"/>
<path class="s f4" d="M1407 1145l7-8-9-7-6 9z"/>
<path class="s f6" d="M1414 1137l7-8-10-8-6 9z"/>
<path class="s f7" d="M1421 1129l7-8-10-8-7 8z"/>
<path class="s f9" d="M1428 1121l6-7-11-8-5 7z"/>
<path class="s f11" d="M1434 1114l5-8-11-7-5 7z"/>
<path class="s f13" d="M1439 1106l5-7-11-7-5 7z"/>
<path class="s f15" d="M1444 1099l4-7-11-7-4 7z"/>
<path class="s f17" d="M1448 1092l3-4-11-7-3 4z"/>
<path class="s f1" d="M1354 1194l6-9-3-2-4 10z"/>
<path class="s f2" d="M1360 1185l8-13-6-3-5 14z"/>
<path class="s f3" d="M1368 1172l9-14-8-4-7 15z"/>
<path class="s f4" d="M1377 1158l7-13-10-5-5 14z"/>
<path class="s f6" d="M1384 1145l7-12-12-5-5 12z"/>
<path class="s f8" d="M1391 1133l4-11-11-5-5 11z"/>
<path class="s f10" d="M1395 1122l5-10-12-5-4 10z"/>
<path class="s f12" d="M1400 1112l4-10-11-5-5 10z"/>
<path class="s f14" d="M1404 1102l5-10-11-6-5 11z"/>
<path class="s f15" d="M1409 1092l5-10-11-5-5 9z"/>
<path class="s f17" d="M1418 1084l-1-11-8-4-10 6z"/>
<path class="s f19" d="M1417 1073l-1-8-7 4z"/>
<path class="s e1" d="M1452 1221l-1-7-8-8-9-8-9-6-4-1-2-1 1 7 8 8 10 8 8 6 4 1z"/>
<path class="s e2" d="M1465 1190l-2-7-7-9-9-8-8-7-4-1-2-1 1 7 7 8 9 9 8 6 4 2zM1479 1159l-1-7-8-8-9-9-8-6-4-2-3-1 2 8 7 8 9 8 8 6 4 2z"/>
<path class="s e3" d="M1492 1125l-2-7-7-8-10-8-9-6-4-1-2-1 2 7 7 8 10 8 8 6 5 1z"/>
<path class="s f1" d="M1411 1224l2 6 10 2 12 0 12-2 7-8-6-2-2-6-10-2-13-1-11 2-7 9zM1423 1191l2 7 10 2 12 1 12-2 7-8-6-3-2-6-10-2-12-1-11 2-8 8z"/>
<path class="s f2" d="M1437 1159l2 6 10 2 12 2 12-2 8-7-6-3-2-6-10-3-12-1-12 1-8 8zM1450 1128l3 6 10 2 12 0 12-2 7-8-6-3-3-6-9-2-13 0-11 2-8 9z"/>
</g>
<g filter="url(#rim)">
<path class="s e2" d="M1793 1134l-1-6-5-7-7-7-6-5-3-2-2-1 0 6 6 7 7 7 6 5 3 2z"/>
<path class="s e4" d="M1805 1103l-1-6-6-6-8-7-6-5-3-1-2-1 1 6 6 6 7 7 7 5 3 1z"/>
<path class="s f1" d="M1760 1137l2 5 8 1 9 0 9-2 6-7-5-2-2-4-8-1-9 0-9 1-6 7z"/>
<path class="s f3" d="M1772 1108l2 4 8 1 10 0 9-3 5-7-5-1-2-5-8-1-9 1-9 2-6 7z"/>
<path class="s f5" d="M1782 1078l3 5 8 0 9 0 9-3 5-7-5-2-2-4-8-1-10 1-9 3-5 7z"/>
<path class="l k6" d="M1733 1183c-2 2-10 10-13 15-3 5-3 11-6 15-4 4-10 7-15 8-5 2-12 1-15 3-4 1-6 4-7 5"/>
<path class="l k5" d="M1677 1229c1-2 3-10 4-14 2-4 6-11 7-13"/>
<path class="l k6" d="M1722 1198c0 2 2 9 2 13 1 4 2 9 2 10"/>
<path class="l k6" d="M1737 1185c1 2 2 9 4 11 3 2 9 0 13 2"/>
<path class="l k5" d="M1754 1198c4 2 8 5 11 8"/>
<path class="l k4" d="M1765 1206c3 4 4 10 6 13"/>
<path class="l k3" d="M1771 1219c3 3 6 4 11 5"/>
<path class="l k2" d="M1782 1224c5 0 16-2 19-3"/>
<path class="l k2" d="M1759 1155c1 0 7 1 10 0 3-1 6-4 7-4"/>
<path class="l k7" d="M1855 1067c-3 3-17 10-17 15"/>
<path class="l k6" d="M1838 1082c-1 5 11 9 15 13"/>
<path class="l k4" d="M1853 1095c4 4 8 9 8 13"/>
<path class="l k3" d="M1861 1108c1 3-1 7-4 8"/>
<path class="l k2" d="M1857 1116c-2 2-9 2-11 3"/>
<path class="l k19" d="M1812 1071c2-3 7-13 11-19 4-6 8-12 13-15"/>
<path class="l k18" d="M1836 1037c4-3 8-3 13-3"/>
<path class="l k17" d="M1849 1034c4 0 9 2 12 5"/>
<path class="l k15" d="M1861 1039c4 3 6 9 7 13"/>
<path class="l k13" d="M1868 1052c0 4-2 8-4 11"/>
<path class="l k11" d="M1864 1063c-3 2-8 2-9 4"/>
<path class="l k10" d="M1855 1067c-1 2 0 5 0 7"/>
<path class="s e14" d="M1825 1048l0-7-6-8-7-9-6-7-3-3-2-1 0 7 5 9 7 9 7 7 3 2z"/>
<path class="s e13" d="M1843 1018l0-7-5-9-7-9-7-7-3-3-2-1 0 7 5 9 7 9 7 7 3 2z"/>
<path class="s f13" d="M1786 1047l2 5 9 3 11 1 11 0 7-7-5-3-2-5-8-3-12-2-10 1-8 7z"/>
<path class="s f14" d="M1804 1015l2 6 9 3 11 1 11 0 7-7-5-3-1-5-9-3-11-2-11 1-8 6z"/>
<path class="l k19" d="M1782 1063c2-2 7-4 11-9 3-4 9-10 11-17 1-6-1-15-3-21-1-6-6-10-6-15 0-5 5-12 9-15 3-4 11-5 15-5 3 1 7 6 8 7"/>
<path class="s f4" d="M1746 1150l-2-5-3-7-4-8-3-7-3-8-3-7 3-1-1-1-7-5-5-4-2 6-2 9 0 1 4-1 2 7 3 8 4 8 4 8 3 7 2 5z"/>
<path class="s f4" d="M1746 1153l0-5-5 0 1 5z"/>
<path class="s f5" d="M1746 1148l1-6-7 0 1 6z"/>
<path class="s f6" d="M1747 1142l1-8-9 0 1 8z"/>
<path class="s f7" d="M1748 1134l1-7 0-7-11 0 1 7 0 7z"/>
<path class="s f8" d="M1749 1120l0-8-11 0 0 8z"/>
<path class="s f9" d="M1749 1112l0-8-11 0 0 8z"/>
<path class="s f10" d="M1749 1104l0-5-11 0 0 5z"/>
<path class="l k7" d="M1716 1086c0-2-2-10 0-15"/>
<path class="l k9" d="M1716 1071c1-4 5-7 8-9"/>
<path class="l k11" d="M1724 1062c4-2 9-3 13-1"/>
<path class="l k13" d="M1737 1061c4 1 9 5 11 8"/>
<path class="l k12" d="M1748 1069c2 4 3 9 3 13"/>
<path class="l k11" d="M1751 1082c0 4-2 10-3 13"/>
<path class="l k10" d="M1748 1095c-1 3-4 5-4 6"/>
<path class="s f5" d="M1741 1184l6-7-4-3-5 8z"/>
<path class="s f6" d="M1747 1177l9-10 11-11-7-6-9 13-8 11z"/>
<path class="s f7" d="M1767 1156l9-11-9-6-7 11z"/>
<path class="s f8" d="M1776 1145l7-9 8-9-11-7-6 9-7 10z"/>
<path class="s f10" d="M1791 1127l6-9-11-7-6 9z"/>
<path class="s f11" d="M1797 1118l6-9-12-6-5 8z"/>
<path class="s f12" d="M1803 1109l4-10-12-5-4 9z"/>
<path class="s f14" d="M1807 1099l3-10-12-3-3 8z"/>
<path class="s f15" d="M1810 1089l3-8-13-3-2 8z"/>
<path class="s f17" d="M1813 1081l1-6-12-3-2 6z"/>
<path class="s f6" d="M1735 1184l4-7 7-11-7-3-4 11-4 8z"/>
<path class="s f8" d="M1746 1166l7-11 6-10-10-5-4 11-6 12z"/>
<path class="s f10" d="M1759 1145l5-10-11-5-4 10z"/>
<path class="s f11" d="M1764 1135l5-9-12-5-4 9z"/>
<path class="s f12" d="M1769 1126l3-9-12-5-3 9z"/>
<path class="s f13" d="M1772 1117l3-9-12-4-3 8z"/>
<path class="s f14" d="M1775 1108l3-10-12-4-3 10z"/>
<path class="s f15" d="M1778 1098l3-9-13-3-2 8z"/>
<path class="s f16" d="M1785 1090l-1-1-4-11-8-1-7 7-1 1z"/>
<path class="s f17" d="M1780 1078l-2-7-6 6z"/>
<path class="s e0" d="M1833 1210l-3-6-9-7-11-5-9-5-4 0-3-1 3 7 9 6 11 6 9 5 5 0zM1840 1182l-2-7-8-7-10-8-8-6-4-1-3-1 2 7 8 8 10 8 8 5 4 1zM1851 1150l-3-7-8-7-11-6-9-5-4-1-2-1 2 7 9 7 10 7 9 5 4 0z"/>
<path class="s f0" d="M1793 1221l4 6 10 0 12-2 11-5 5-9-6-1-4-6-10 0-12 2-10 4-6 10zM1799 1187l2 6 10 2 12-1 11-2 7-9-6-2-2-6-10-1-13 0-11 3-7 9zM1810 1154l2 6 10 2 13 0 11-3 7-9-6-1-3-6-10-2-12 0-11 2-7 9zM1818 1124l3 6 10 1 12-1 11-4 6-9-6-1-3-6-10-1-12 1-11 4-6 9z"/>
</g>
<g filter="url(#rim)">
<path class="l k6" style="stroke-width:3" d="M927 1414c4-1 14-3 22-3 8 1 16 3 24 7 9 4 22 13 27 15"/>
<path class="l k2" style="stroke-width:3.2" d="M879 1559c2 2 9 11 15 15 6 4 14 8 20 9 5 1 9-6 13-4 4 2 8 9 11 15 3 6 7 14 9 20 2 5 5 12 3 13-2 1-7-4-16-9-10-4-35-14-42-17"/>
<path class="l k5" style="stroke-width:3.2" d="M1031 1583c1 2 6 6 8 11 3 5 2 14 5 18"/>
<path class="l k4" style="stroke-width:3.2" d="M1044 1612c2 3 6 5 11 2 5-3 12-14 17-18"/>
<path class="l k3" style="stroke-width:3.2" d="M1072 1596c6-4 13-3 16-6"/>
<path class="l k2" style="stroke-width:3.2" d="M1088 1590c3-4 5-9 4-16-1-6-9-16-11-22"/>
<path class="l k1" style="stroke-width:3.2" d="M1081 1552c-2-6-2-8 0-13 2-5 8-11 13-15 6-4 13-8 18-9 5-1 11 3 13 4"/>
<path class="l k3" style="stroke-width:3.2" d="M1103 1524c2 2 7 10 11 15 5 5 13 11 16 13"/>
<path class="l k0" style="stroke-width:3.2" d="M1125 1455c4 1 16 4 22 7 7 3 12 8 18 11 5 3 12 5 15 4 3 0 4-5 3-8-2-3-9-10-11-9-3 0-6 6-7 11-1 5 3 14 2 20-1 5-4 10-9 13-5 3-18 5-22 6"/>
<path class="l k0" style="stroke-width:17" d="M1167 1442c3-1 12-9 18-9 6 0 15 4 20 9 4 5 8 15 8 22 0 8-4 19-8 22-5 3-17-2-20-2"/>
<path class="s f5" d="M1095 1485l0-4-15 3 0 4z"/>
<path class="s f6" d="M1095 1481l-1-5-2-6-14 3 1 6 1 5z"/>
<path class="s f7" d="M1092 1470l-1-7-15 3 2 7z"/>
<path class="s f8" d="M1091 1463l-2-10-15 3 2 10z"/>
<path class="s f9" d="M1089 1453l-3-12-15 4 3 11z"/>
<path class="s f10" d="M1086 1441l-15 3 0 1z"/>
<path class="s f11" d="M1091 1440l-10-9-10 2-4 13z"/>
<path class="s f13" d="M1081 1431l-6-6-4 8z"/>
<path class="s f2" d="M1090 1479l-4-5-6-6-6-8-7-6-8-6-3-2 3-4-7 0-10 0-7 0 3 6 4 9 3 7 3-4 2 1 6 5 6 5 6 7 6 7 3 4z"/>
<path class="s e2" d="M880 1440l7 10 18 9 21 8 17 6 8 1 4 0-7-10-17-9-21-8-18-6-7-1zM877 1499l8 10 17 9 21 7 18 5 8 1 4 0-7-10-18-8-21-8-18-5-8 0z"/>
<path class="s f2" d="M952 1416l-7-8-18 2-22 5-19 9-8 16 9 1 7 7 18-2 22-5 19-9 8-16zM948 1473l-7-7-18 2-22 6-18 9-9 16 10 1 7 7 18-2 22-6 18-9 9-16zM946 1531l-7-7-18 2-22 6-18 9-8 17 10 0 7 7 18-2 21-7 19-9 8-16z"/>
<path class="s e15" d="M961 1429l9 8 18 4 20 2 18 2 6-2 4-1-8-8-18-4-21-3-17-1-7 2z"/>
<path class="s e9" d="M970 1479l8 9 18 5 20 4 17 2 7-1 4 0-8-9-17-5-21-4-17-3-7 2z"/>
<path class="s e4" d="M977 1533l8 8 17 5 21 3 17 2 7-1 4-1-8-8-18-5-20-3-17-2-7 1z"/>
<path class="s f18" d="M1019 1390l-8-6-16 6-18 10-15 12-4 18 10-2 9 6 15-6 19-10 14-12 4-18z"/>
<path class="s f12" d="M1029 1443l-8-7-16 5-18 9-15 12-5 18 10-2 8 7 17-5 18-9 15-12 4-18z"/>
<path class="s f6" d="M1037 1498l-8-6-16 4-19 9-15 11-5 17 10-1 7 7 17-5 19-8 15-11 5-18z"/>
<path class="s f3" d="M1044 1550l-8-6-16 4-19 9-15 12-5 17 10-1 8 7 16-5 19-9 15-12 5-17z"/>
<path class="l k20" style="stroke-width:3.6" d="M993 1380c3-3 10-14 16-19 5-5 11-9 17-11 7-3 17-3 22-3 5 1 10 4 9 5"/>
<path class="l k19" style="stroke-width:3.6" d="M1057 1352c-1 1-10 1-13 2"/>
<path class="l k18" style="stroke-width:3.6" d="M1044 1354c-4 2-8 2-9 7-1 4-1 15 0 22"/>
<path class="l k16" style="stroke-width:3.6" d="M1035 1383c1 7 4 14 9 20"/>
<path class="l k15" style="stroke-width:3.6" d="M1044 1403c4 5 13 7 17 11 5 3 10 9 11 11"/>
<path class="s e1" d="M1078 1488l7 6 15 3 16 0 14 0 5-2 4-1-8-6-14-3-17 0-13 0-5 2z"/>
<path class="s f1" d="M1123 1455l-7-6-13 5-14 9-11 10-3 15 9-2 7 6 13-5 14-9 11-10 3-15zM1133 1496l-8-5-12 6-13 10-10 12-1 15 8-3 8 5 12-6 13-10 11-12 0-15z"/>
</g>
<g filter="url(#rim)">
<path class="s e1" d="M1255 1394l5 2 8-1 9-1 8-2 3-2 1 0-4-3-9 1-9 2-8 2-2 1zM1266 1414l4 3 8-1 10-1 7-1 3-2 2-1-5-2-8 0-9 2-8 1-3 2zM1275 1435l4 3 8 0 10-1 8-1 2-1 2-1-4-2-9-1-9 1-8 1-3 1zM1283 1456l4 3 8 1 10-1 8-1 2-1 2-1-4-2-8-1-10 1-8 1-3 1z"/>
<path class="s f1" d="M1276 1370l-4-1-7 4-6 7-5 7 0 8 4-2 4 1 6-5 7-6 5-7-1-8zM1287 1391l-5-1-6 4-7 6-5 7 1 8 3-2 4 2 7-5 7-6 5-7-1-8zM1297 1413l-4-2-6 4-8 6-5 7 0 7 4-1 4 1 6-4 7-6 6-6 0-8zM1306 1435l-4-2-6 4-8 6-6 6 0 8 4-2 4 2 6-3 8-6 6-6 0-8zM1314 1457l-4-1-6 3-8 6-6 6 0 8 4-2 4 2 6-3 8-6 6-6 0-8z"/>
<path class="l k1" d="M1249 1374c0-2-1-10 2-13 3-4 11-5 17-7 7-1 17 0 22-2 6-3 7-10 11-13 5-3 12-4 14-5"/>
<path class="s e4" d="M1307 1390l3 4 8 4 10 2 8 2 4 0 2 0-4-5-8-3-10-3-8-1-3 0zM1308 1416l3 5 8 3 10 3 8 2 4-1 2 0-4-4-8-3-10-3-8-2-3 0zM1307 1467l3 5 8 4 10 3 8 2 3 0 2 0-3-5-8-3-10-4-8-2-3 0z"/>
<path class="s e5" d="M1308 1443l4 4 8 4 9 3 8 2 4 0 2 0-4-4-8-4-9-3-8-3-4 0z"/>
<path class="s e3" d="M1308 1498l5 3 8 2 10 0 9 0 3-1 2-1-5-3-8-2-11 0-8 0-3 1z"/>
<path class="s e2" d="M1319 1527l5 3 9-1 10-2 8-1 3-2 2-1-6-3-8 1-10 2-9 2-3 1z"/>
<path class="s e1" d="M1332 1551l5 3 9-1 10-2 8-2 3-2 1-1-5-3-9 1-10 2-8 2-3 2zM1345 1575l5 2 9-1 10-3 8-2 3-2 1-1-5-2-9 1-9 2-9 3-2 2z"/>
<path class="s e0" d="M1358 1597l6 3 8-2 10-2 8-2 3-2 2-1-5-2-9 1-10 2-8 3-3 1zM1372 1620l5 2 9-1 10-2 8-3 3-2 2-1-6-2-8 1-10 3-8 2-3 2z"/>
<path class="s f3" d="M1338 1376l-4-4-8 2-10 3-8 5-3 8 5 0 4 3 8-1 9-4 8-5 3-8zM1338 1481l-4-3-8 2-9 4-8 6-2 8 4-1 4 3 8-2 9-4 8-5 3-8z"/>
<path class="s f4" d="M1339 1402l-4-3-8 1-10 4-8 4-3 8 5 0 3 4 9-2 9-3 8-5 3-8zM1339 1456l-3-3-8 0-10 3-8 3-4 8 4 0 4 4 8-1 10-2 8-4 4-7z"/>
<path class="s f5" d="M1339 1428l-3-3-8 2-10 3-8 5-3 8 5-1 3 4 8-2 10-3 8-5 3-8z"/>
<path class="s f2" d="M1342 1502l-5-1-7 4-7 7-6 7 0 9 5-2 4 2 7-5 8-7 5-7 0-9z"/>
<path class="s f1" d="M1353 1525l-5-2-6 5-7 8-5 7 0 9 5-2 4 1 7-5 7-7 5-8-1-9zM1365 1547l-4-1-7 5-7 8-4 8 1 8 4-2 4 1 7-5 7-7 5-8-1-9z"/>
<path class="s f0" d="M1379 1570l-5-1-6 5-7 8-5 8 1 8 4-2 5 1 6-5 7-8 5-8-1-8zM1392 1593l-5-2-6 6-7 7-4 8 1 9 4-3 5 2 6-6 7-7 4-8-1-9zM1406 1615l-5-1-6 5-7 8-5 8 2 8 4-2 4 1 7-5 6-8 5-8-1-8z"/>
<path class="s e3" d="M1312 1353l5 3 8 0 11 0 8-1 3-1 2-1-5-3-9-1-10 1-8 1-3 1z"/>
<path class="s e4" d="M1321 1377l5 3 8 1 11-1 8 0 3-2 2 0-5-3-9-1-10 0-8 1-3 2z"/>
<path class="s e5" d="M1330 1402l4 3 9 1 10-1 9 0 3-2 2 0-5-4-9 0-10 0-8 1-4 1z"/>
<path class="s e6" d="M1338 1427l5 3 9 0 10-1 8 0 4-2 1-1-4-3-9 0-10 1-9 1-3 1zM1349 1452l5 3 9 0 10-2 8-2 3-1 2-1-5-3-9 1-10 1-8 2-3 2zM1362 1477l5 2 9-1 10-2 8-2 3-2 1-1-5-3-9 2-10 2-8 2-3 2zM1375 1500l6 2 9-1 9-3 8-3 3-2 2-1-6-2-8 2-10 2-8 3-3 2z"/>
<path class="s f3" d="M1337 1329l-5-2-7 4-8 6-6 7-1 9 5-2 4 2 7-3 9-7 6-7 0-8z"/>
<path class="s f4" d="M1346 1354l-5-2-7 4-8 6-6 7 0 9 4-2 4 2 8-4 8-6 6-7 0-9zM1355 1379l-5-2-7 4-8 6-6 7-1 8 5-1 4 2 7-4 8-6 7-7 0-9z"/>
<path class="s f5" d="M1364 1404l-5-2-7 3-8 7-6 6-1 9 5-2 4 3 7-4 8-6 6-7 1-9z"/>
<path class="s f6" d="M1372 1428l-4-2-7 4-8 7-6 7 1 9 4-2 4 2 7-4 8-7 6-8 0-8zM1383 1450l-5-1-6 5-7 7-5 8 1 9 4-3 4 2 7-5 7-7 5-8-1-9zM1395 1472l-4-1-7 5-6 8-5 8 1 9 4-3 5 1 6-5 7-8 5-8-2-8zM1409 1494l-5-1-6 6-6 8-4 8 2 8 3-2 5 1 6-6 6-8 5-8-2-9z"/>
<path class="l k2" d="M1405 1515c-1 3-5 12-9 17-4 6-10 13-15 16-6 2-12 1-18 0-6-2-13-7-20-9-6-1-16 0-19 0"/>
<path class="s e6" d="M1453 1548l0-5-3-8-5-9-4-6-3-3-1-1-1 6 4 7 5 9 4 7 2 2zM1471 1525l0-5-4-8-6-8-5-6-3-2-1-1 0 6 4 7 6 8 5 6 3 2z"/>
<path class="s f6" d="M1421 1539l1 5 7 4 9 3 9 2 7-4-3-3-1-4-7-4-9-4-9-1-7 3zM1439 1518l1 5 7 3 9 3 9 1 7-4-3-3-1-4-7-4-10-2-8-2-7 5zM1455 1497l1 4 7 3 9 3 9 0 7-4-4-3-1-4-7-3-10-3-8 0-7 4z"/>
<path class="l k4" d="M1453 1464c2 2 3 10 7 11 4 2 11 0 15-2"/>
<path class="l k2" d="M1475 1473c5-2 9-7 9-9 1-2-5-4-6-4"/>
<path class="l k2" d="M1484 1464c2 2 10 9 11 13 1 5-1 11-4 14-3 2-11 1-13 2"/>
<path class="l k7" d="M1418 1568c2-1 8-4 9-3 1 2-7 8-4 9 2 1 12-2 17-2 5 0 9 2 11 4"/>
<path class="l k6" d="M1451 1576c2 3 0 10 2 14"/>
<path class="l k4" d="M1453 1590c3 3 10 5 14 6"/>
<path class="l k3" d="M1467 1596c4 2 9 2 11 3"/>
<path class="l k5" d="M1409 1636c2 2 6 11 9 13 4 2 10 3 13 0 4-2 7-12 9-15 3-4 6-4 7-5"/>
<path class="s e1" d="M1501 1585l0-5-6-7-6-8-6-6-3-1-2-1 1 5 5 7 7 8 6 6 3 1zM1514 1564l0-6-5-7-7-8-6-6-3-1-2-1 1 5 5 7 7 8 6 6 3 2zM1528 1542l-1-5-5-8-6-7-6-7-3-1-2-1 1 5 5 8 6 7 6 7 3 1zM1542 1521l-1-6-5-7-6-8-6-6-3-2-2-1 1 6 5 7 6 8 6 6 3 2zM1556 1499l-1-5-5-7-6-8-6-6-3-2-2-1 1 6 5 7 6 8 6 6 3 1z"/>
<path class="s f1" d="M1468 1580l1 5 7 3 10 3 10 0 7-5-5-2-1-5-7-3-10-3-9 0-7 5zM1481 1558l1 5 7 3 10 3 10 0 7-5-4-2-2-5-7-3-10-3-9 0-7 5zM1494 1536l1 5 8 3 9 3 10 1 7-5-4-2-1-5-8-4-9-2-10-1-7 5zM1508 1515l1 4 8 4 9 3 9 0 8-4-4-3-1-5-8-3-9-3-9-1-8 5zM1522 1493l1 5 8 3 9 3 10 1 7-5-4-2-1-5-8-4-9-2-9-1-8 5zM1536 1472l1 5 7 3 10 3 9 0 8-4-4-3-1-5-8-3-10-3-9 0-7 4z"/>
<path class="l k6" d="M1550 1486c-3 7-14 28-22 40"/>
<path class="l k7" d="M1528 1526c-7 12-14 23-22 31"/>
<path class="l k8" d="M1506 1557c-7 7-17 9-22 15"/>
<path class="l k9" d="M1484 1572c-4 6-1 17-4 22"/>
<path class="l k10" d="M1480 1594c-3 5-10 5-13 9-3 4-2 10-5 15"/>
<path class="l k9" d="M1462 1618c-3 6-11 13-13 18-2 5 0 9 2 13"/>
<path class="l k8" d="M1451 1649c2 5 9 11 11 13"/>
<path class="l k17" d="M1462 1550c0 3-1 13 0 18"/>
<path class="l k14" d="M1462 1568c1 5 7 8 7 13"/>
<path class="l k12" d="M1469 1581c0 4-4 9-7 13"/>
<path class="l k11" d="M1462 1594c-2 4-7 5-9 9"/>
<path class="l k10" d="M1453 1603c-1 4 1 11 3 15"/>
<path class="l k9" d="M1456 1618c1 5 6 5 6 11"/>
<path class="l k8" d="M1462 1629c1 6-4 17-4 25"/>
<path class="l k7" d="M1458 1654c0 7 4 16 4 19"/>
<path class="l k15" d="M1460 1528c-1-3-6-14-7-20"/>
<path class="l k14" d="M1453 1508c0-6 6-12 5-17"/>
<path class="l k12" d="M1458 1491c-1-6-6-11-9-14"/>
<path class="l k11" d="M1449 1477c-3-3-8-2-9-4"/>
<path class="l k10" d="M1440 1473c0-2 2-7 5-9"/>
<path class="l k9" d="M1445 1464c2-1 7 0 8 0"/>
<path class="s f16" d="M1407 1545l0 2-1 3 0 3-1 3-1 3 1 3 1 3 1 3 2-2 2-2 3-3 0-3 0-3 1-4 1-2 0-2z"/>
<path class="s f19" d="M1429 1540l1 3 1 4 1 4 1 4 0 4-3 1 4 5 4 4 2 3 2-3 3-5 2-6 1-1-4 1-1-4 0-5-1-5-1-3-1-3z"/>
<path class="s f19" d="M1468 1549l0-1-1-3 0-3 0-3 0-2 3 0-2-2-3-4-3-3-2-2-2 2-2 4-2 4-2 3 4-1 0 2 0 3 0 3 1 3 0 2z"/>
<path class="l k20" d="M1409 1546c0-3-4-11-4-16 0-4 3-9 7-11 3-2 9-3 13-2 3 1 7 5 9 9 1 4 1 11 1 13"/>
</g>
<g filter="url(#rim)">
<path class="l k3" d="M1734 1498c1 3 3 11 7 16 4 5 14 10 17 15 4 5 5 9 5 16-1 7-6 17-7 26-1 9 0 19 2 27 2 8 5 14 9 20 4 5 10 10 13 13 4 3 8 6 9 7"/>
<path class="l k4" d="M1794 1538c1 3 6 9 6 16 0 6-6 14-6 22"/>
<path class="l k3" d="M1794 1576c-1 7 1 14 2 22 1 7 3 15 4 22"/>
<path class="l k2" d="M1800 1620c1 7 0 15 3 20 2 5 9 7 11 9"/>
<path class="l k4" d="M1803 1531c1 1 8 5 11 5 2-1 3-6 4-7"/>
<path class="s f6" d="M1789 1400l1 7 3 12 9-2-2-11-1-8z"/>
<path class="s f7" d="M1793 1419l2 13 3 12 3 11 9-2-3-11-2-12-3-13z"/>
<path class="s f6" d="M1801 1455l3 11 3 11 9-2-3-11-3-11z"/>
<path class="s f5" d="M1807 1477l2 11 1 12 0 12 10 0 0-13-1-13-3-11z"/>
<path class="s f4" d="M1810 1512l1 7-4 0 3 5 6 7 5-8 3-4-3 0-1-7z"/>
<path class="s f4" d="M1755 1362l2 9 3 12 3 14 3 14 3 13 3 14 2 14 12-2-3-14-3-14-3-14-3-13-3-15-3-12-2-8z"/>
<path class="s f3" d="M1774 1452l3 14 2 15 12-1-2-16-3-14z"/>
<path class="s f4" d="M1779 1481l2 17 1 10-4 1 3 4 14-2 3-4-4 0-1-10-2-17z"/>
<path class="s f5" d="M1781 1513l8 10 6-12z"/>
<path class="l k5" d="M1794 1327c-2 1-11 2-14 5-3 3-4 7-4 11 0 4 0 10 2 14 2 3 8 6 11 8 4 3 8 4 9 5"/>
<path class="l k5" d="M1789 1328c-3 2-13 7-17 11-5 3-9 7-11 11-3 4-2 9-3 11"/>
<path class="l k3" d="M1743 1421c0 2-1 9 0 13 0 4 3 10 2 13"/>
<path class="l k2" d="M1745 1447c-1 4-6 7-9 9-3 2-9 2-11 5-2 3-3 9-2 13"/>
<path class="l k1" d="M1723 1474c0 4 4 7 4 9"/>
<path class="l k1" d="M1652 1512c2 2 9 12 13 15 5 3 11 5 14 4 2 0 0-9 0-8-1 0-3 9-3 13 1 4 4 8 7 9 3 0 11-4 13-5"/>
<path class="l k5" d="M1732 1536c-2 0-10-2-14 0-4 2-6 8-11 11-4 3-12 4-17 7-6 2-13 3-16 6-3 4-4 11-4 16 0 5 5 10 4 13-1 3-5 5-11 7-5 1-18 3-22 4"/>
<path class="l k7" d="M1641 1600c3 1 14 5 20 7"/>
<path class="l k8" d="M1661 1607c6 2 10 4 15 4 6 0 10-2 16-4"/>
<path class="l k9" d="M1692 1607c5-3 15-10 18-11"/>
<path class="l k9" d="M1681 1596c-1 2-4 8-5 13 0 5 1 13 1 15"/>
<path class="l k5" d="M1732 1538c2 3 7 10 11 16 3 5 6 12 11 15"/>
<path class="l k6" d="M1754 1569c5 3 14 0 20 2 6 2 13 5 15 9 3 4 1 11-2 16"/>
<path class="l k5" d="M1787 1596c-3 4-9 8-13 11-5 3-11 3-13 6"/>
<path class="l k4" d="M1761 1613c-3 4-3 10-3 14 1 4 3 9 7 11"/>
<path class="l k3" d="M1765 1638c4 2 14 2 20 2"/>
<path class="l k2" d="M1785 1640c5 0 8-4 13-2"/>
<path class="l k1" d="M1798 1638c5 1 13 9 16 11"/>
<path class="l k6" d="M1756 1576c-1 3-4 13-7 17-2 5-8 5-8 9-1 4 2 12 4 16 2 3 6 3 7 6 0 4-1 10-3 14-1 4-8 7-8 11-1 3 0 8 4 11 4 2 12 5 18 4 6 0 13-5 17-9 5-4 8-12 9-15"/>
<path class="l k6" d="M1887 1374c0-1 3-6 2-9-1-2-6-6-9-7-3-1-7-2-9 1-2 2-2 9-2 13 0 4 3 9 4 13 2 4 2 10 3 11"/>
<path class="l k14" d="M1831 1363c3-1 12-4 16-6"/>
<path class="l k15" d="M1847 1357c4-3 5-6 7-9"/>
<path class="l k16" d="M1854 1348c1-3 0-9 2-9"/>
<path class="l k18" d="M1856 1339c1-1 5 2 6 6"/>
<path class="l k19" d="M1862 1345c2 4 3 13 3 18-1 6-4 12-7 16"/>
<path class="l k20" d="M1858 1379c-3 3-7 5-9 6"/>
<path class="s f4" d="M1746 1425l7-4-7-10-7 5z"/>
<path class="s f5" d="M1753 1421l9-8-7-9-9 7z"/>
<path class="s f6" d="M1762 1413l10-7-7-10-10 8z"/>
<path class="s f7" d="M1772 1406l10-7 8-5-6-11-9 6-10 7z"/>
<path class="s f8" d="M1790 1394l9-6-6-10-9 5z"/>
<path class="s f9" d="M1799 1388l8-4-6-11-8 5z"/>
<path class="s f10" d="M1807 1384l7-5 7-3-6-11-7 4-7 4z"/>
<path class="s f11" d="M1821 1376l2 3 3-6-5-11-8 0 2 3z"/>
<path class="s f12" d="M1826 1373l3-6-2-4-6-1z"/>
<path class="s f13" d="M1829 1367l2-4-4 0z"/>
<path class="s f20" d="M1846 1382l-6 3-10 4-11 6 6 12 11-6 9-4 7-4z"/>
<path class="s f19" d="M1819 1395l-11 7 7 11 10-6z"/>
<path class="s f17" d="M1808 1402l-11 8 7 10 11-7z"/>
<path class="s f15" d="M1797 1410l-12 9 8 10 11-9z"/>
<path class="s f13" d="M1785 1419l-12 9 9 10 11-9z"/>
<path class="s f11" d="M1773 1428l-10 10 9 10 10-10z"/>
<path class="s f8" d="M1763 1438l-10 10 10 9 9-9z"/>
<path class="s f6" d="M1753 1448l-9 10 10 8 9-9z"/>
<path class="s f5" d="M1744 1458l-8 10 11 8 7-10z"/>
<path class="s f3" d="M1736 1468l-7 11 10 7 8-10z"/>
<path class="s f1" d="M1729 1479l-8 12-7 13-3 6 12 6 2-6 7-12 7-12z"/>
<path class="s f0" d="M1707 1508l1 8 2 11 9-5 8-5z"/>
<path class="s f10" d="M1874 1396l-5 9 4 1 4-9z"/>
<path class="s f11" d="M1869 1405l-6 12 5 3 5-14z"/>
<path class="s f12" d="M1863 1417l-8 15 6 3 7-15z"/>
<path class="s f13" d="M1855 1432l-7 14-7 12 7 4 7-13 6-14z"/>
<path class="s f12" d="M1841 1458l-8 13-7 12 8 6 7-14 7-13z"/>
<path class="s f11" d="M1826 1483l-8 12 9 6 7-12z"/>
<path class="s f10" d="M1818 1495l-8 12 9 6 8-12z"/>
<path class="s f9" d="M1810 1507l-9 11 10 7 8-12z"/>
<path class="s f8" d="M1801 1518l-8 11 9 7 9-11z"/>
<path class="s f7" d="M1793 1529l-8 9 9 9 8-11z"/>
<path class="s f6" d="M1785 1538l-8 9 8 8 9-8z"/>
<path class="s f5" d="M1777 1547l-8 7-8 6-8 6-10 6-11 4-4 2-1-4-5 7-6 8 9 2 9 2-2-4 4-2 12-5 11-6 9-6 9-7 8-8z"/>
<path class="s f14" d="M1886 1375l-8 7 2 3 8-7z"/>
<path class="s f15" d="M1878 1382l-11 10 3 3 10-10z"/>
<path class="s f17" d="M1867 1392l-13 11 4 4 12-12z"/>
<path class="s f16" d="M1854 1403l-12 11 5 5 11-12z"/>
<path class="s f15" d="M1842 1414l-11 11 5 5 11-11z"/>
<path class="s f14" d="M1831 1425l-12 12 7 6 10-13z"/>
<path class="s f11" d="M1819 1437l-11 12 7 6 11-12z"/>
<path class="s f9" d="M1808 1449l-12 13 8 6 11-13z"/>
<path class="s f7" d="M1796 1462l-12 13 10 8 10-15z"/>
<path class="s f6" d="M1784 1475l-12 15 11 8 11-15z"/>
<path class="s f5" d="M1772 1490l-11 14 10 8 12-14z"/>
<path class="s f6" d="M1761 1504l-10 12 10 9 10-13z"/>
<path class="s f7" d="M1751 1516l-9 10 10 9 9-10z"/>
<path class="s f8" d="M1742 1526l-7 7 9 10 8-8z"/>
<path class="s f9" d="M1735 1533l-8 8 9 9 8-7z"/>
<path class="s f10" d="M1727 1541l-9 8 9 9 9-8z"/>
<path class="s f9" d="M1718 1549l-10 11 10 8 9-10z"/>
<path class="s f8" d="M1708 1560l-11 11-10 11-7 7 10 9 7-7 10-11 11-12z"/>
</g>
<g filter="url(#rim)">
<path class="s e1" d="M1334 2001l5 6 11 3 13 2 11 2 4-1 3 0-5-6-11-3-13-3-11-1-4 1zM1339 2037l5 6 11 3 13 2 11 2 4-1 3 0-5-6-11-3-13-3-11-1-4 1z"/>
<path class="s f1" d="M1371 1977l-5-4-10 4-12 6-9 7-3 11 6-1 6 4 10-3 11-6 10-8 2-11zM1376 2013l-5-4-10 4-12 6-9 7-3 11 7-1 5 4 10-3 12-6 9-8 3-11zM1382 2049l-6-3-10 3-11 6-10 7-2 11 6 0 5 3 10-3 12-6 9-7 3-11z"/>
<path class="l k1" d="M1356 1947c0 2 2 11 2 15 0 4-2 7-2 9"/>
<path class="l k2" d="M1373 1942c2 4 7 15 11 20 4 5 9 8 13 11 5 3 13 6 16 7"/>
<path class="l k0" d="M1413 1980c1 4 4 17 6 26 3 9 6 21 9 29 4 8 9 15 13 20 5 5 13 10 16 11 3 0-1-8 2-9 3-1 9 4 13 2 4-2 9-8 11-13 2-5 0-12 2-16 3-4 13-7 16-8"/>
<path class="l k3" d="M1316 2068c2 2 9 6 11 11 2 4-1 11 2 15 3 5 10 11 16 11 5 1 10-4 15-9 5-4 11-12 13-15"/>
<path class="l k2" d="M1375 2079c1 2 4 15 7 15 3 1 6-11 9-11 3 0 6 11 9 11 2 0 5-7 6-11 1-3 0-9 0-11"/>
<path class="l k6" d="M1362 1865c1 2 3 6 5 9 1 3 3 6 4 7"/>
<path class="l k5" d="M1362 1865c3 0 13-3 18-4 5-1 9-3 11-1"/>
<path class="l k3" d="M1391 1860c1 2-1 8-2 12"/>
<path class="l k2" d="M1389 1872c-2 4-6 9-7 11"/>
<path class="s e7" d="M1455 1900l7 3 11-1 12-3 10-3 4-2 2-1-6-3-12 1-12 3-10 3-4 2z"/>
<path class="s e5" d="M1477 1933l7 2 11-2 12-5 10-4 3-2 2-2-7-2-11 2-12 5-10 4-3 2z"/>
<path class="s f7" d="M1481 1866l-6-2-8 7-9 9-6 10 2 11 5-3 6 2 8-7 9-9 6-10-2-11z"/>
<path class="s f6" d="M1498 1895l-6-1-7 8-8 11-4 10 3 11 4-4 6 1 8-7 7-11 4-11-2-10z"/>
<path class="s e1" d="M1393 1913l7 3 12 0 13-3 11-2 4-2 2-2-7-3-12 0-13 3-11 2-3 2zM1412 1946l6 4 12-1 13-3 11-2 4-3 2-1-7-4-11 1-13 3-11 2-4 3zM1431 1980l7 3 12-2 13-3 11-3 3-3 3-1-8-3-11 1-13 3-11 4-4 2zM1453 2012l8 3 11-4 12-5 10-4 3-4 2-2-7-1-12 3-12 5-10 5-3 3z"/>
<path class="s f1" d="M1420 1876l-7-2-8 7-9 10-6 11 1 12 6-4 7 2 8-6 9-10 6-11-1-12zM1438 1910l-6-2-9 6-9 10-6 11 2 12 6-3 6 2 9-7 8-10 7-11-2-12zM1456 1942l-6-1-8 7-9 10-6 11 2 12 6-4 7 2 8-7 8-10 6-11-2-12zM1476 1973l-7-1-8 8-7 11-5 11 3 12 5-4 7 1 7-8 8-10 5-12-3-11zM1496 2000l-6 2-4 9-3 13 0 11 8 9 3-6 7-1 4-9 2-12 0-12-6-9z"/>
<path class="l k14" style="stroke-width:12" d="M1441 1925c2-2 7-10 11-11"/>
<path class="l k13" style="stroke-width:12" d="M1452 1914c4-1 10 2 14 4"/>
<path class="l k12" style="stroke-width:12" d="M1466 1918c3 3 7 8 6 11"/>
<path class="l k11" style="stroke-width:12" d="M1472 1929c-1 3-11 6-13 7"/>
<path class="l k14" d="M1441 1931c-2 1-9 1-13 5"/>
<path class="l k13" d="M1428 1936c-3 3-5 11-6 17"/>
<path class="l k12" d="M1422 1953c-1 6 0 13 0 18"/>
<path class="l k10" d="M1422 1971c-1 5-2 10-5 13"/>
<path class="l k9" d="M1417 1984c-3 3-11 4-13 5"/>
<path class="l k17" d="M1435 1896c-2 1-11 3-13 7"/>
<path class="l k14" d="M1422 1903c-3 3-1 10-3 15"/>
<path class="l k12" d="M1419 1918c-1 5-6 9-8 13"/>
<path class="l k11" d="M1411 1931c-3 5-5 8-5 14"/>
<path class="l k10" d="M1406 1945c1 5 5 12 7 17"/>
<path class="l k9" d="M1413 1962c1 5 3 10 2 13"/>
<path class="l k8" d="M1415 1975c-1 4-6 6-9 9"/>
<path class="l k7" d="M1406 1984c-3 3-9 9-11 11"/>
<path class="s f5" d="M1383 2071l2-5 1-8 2-9 2-8-12-3-2 9-2 9-1 7-1 6z"/>
<path class="s f6" d="M1390 2041l2-10 3-11 0-2 2 0-2-8-2-8-5 6-6 7 2 0-1 2-2 11-3 10z"/>
<path class="s f2" d="M1413 2070l0-5-1-8 0-9 0-9-1-10-1-12 0-2 5 0-7-8-5-7-5 7-5 9 4 0 0 2 1 11 1 11 0 9 0 8 1 8 0 5z"/>
<path class="s e18" d="M1332 1906l0 8 5 10 8 11 7 8 4 3 3 1 0-7-6-11-8-10-7-9-4-2z"/>
<path class="s e12" d="M1310 1948l2 8 9 7 11 8 10 6 4 1 3 1-2-8-9-8-11-7-10-6-4-1z"/>
<path class="s e7" d="M1301 1987l3 7 9 7 12 6 10 5 4 1 3 0-3-7-9-7-12-6-10-5-5-1z"/>
<path class="s e6" d="M1294 2022l2 7 9 8 12 7 9 5 5 1 3 1-3-8-9-7-12-7-9-5-5-1z"/>
<path class="s f19" d="M1375 1922l0-7-9-6-12-6-12-3-11 5 5 5 0 6 8 7 13 6 12 3 11-5z"/>
<path class="s f15" d="M1354 1945l-2-6-11-2-13 0-12 2-8 9 7 2 2 6 10 2 13 1 13-2 7-9z"/>
<path class="s f9" d="M1344 1977l-3-5-11-1-13 1-12 4-6 10 6 2 4 5 10 1 14-1 11-4 7-10z"/>
<path class="s f6" d="M1337 2012l-3-5-11-1-13 2-12 4-6 10 6 1 4 6 11 0 13-1 12-4 6-10z"/>
<path class="s f4" d="M1329 2050l-3-6-11-1-13 1-12 4-7 10 7 1 3 6 11 1 13-1 12-4 7-10z"/>
<path class="l k20" style="stroke-width:3" d="M1353 1898c3 0 10-4 14-4 3 0 5 4 8 6 3 3 5 6 9 7 4 1 8 0 13-2 6-2 12-7 18-9 6-2 15-1 18-1"/>
</g>
<g filter="url(#rim)">
<path class="s e0" d="M1708 2010l6 6 12 2 13 2 11 1 4-1 3-1-6-5-11-3-13-1-11-1-5 1zM1719 2051l6 5 11 3 14 2 11 0 4 0 3-1-6-5-11-3-14-2-11-1-4 1z"/>
<path class="s f0" d="M1741 1979l-6-2-9 5-11 8-8 9 0 12 6-2 6 3 9-5 11-8 8-10 0-11zM1753 2020l-6-2-10 5-10 8-9 9-1 11 7-1 5 2 10-5 11-8 8-9 1-11z"/>
<path class="l k1" d="M1735 1945c1 2 7 12 7 15-1 3-7 2-9 4-2 3-4 10-4 11"/>
<path class="l k2" d="M1753 1960c0 3 1 12 2 15 1 4 3 7 7 7 3 0 8-4 13-7 4-2 11-7 13-8"/>
<path class="l k0" d="M1781 1982c1 3 0 10 3 15 2 6 7 11 11 16 3 5 8 9 11 15 3 6 3 16 6 22 3 6 7 11 11 13 5 3 12 6 16 5 4-1 7-5 8-9 2-4-2-13 0-18 3-4 11-5 16-8 4-4 9-8 11-11 1-4 1-8-2-9-4-1-15 1-20 2-5 1-7 4-9 4"/>
<path class="l k3" d="M1671 2063c3 2 12 7 16 9 4 3 7 4 9 7"/>
<path class="l k2" d="M1696 2079c1 2-3 5 0 9 2 3 8 9 13 11 4 1 9 1 13-3 4-3 7-13 11-17"/>
<path class="l k1" d="M1733 2079c4-4 8-6 13-7 5-1 13-1 18 0 4 1 8 4 9 7"/>
<path class="l k0" d="M1773 2079c0 3-7 11-7 11 0 0 7-12 9-13 2-1 3 9 4 6 1-2 1-18 1-22"/>
<path class="l k4" d="M1863 1865c-3 1-13 4-18 7"/>
<path class="l k5" d="M1845 1872c-5 2-10 5-13 9"/>
<path class="l k6" d="M1832 1881c-3 4-4 11-2 15"/>
<path class="l k7" d="M1830 1896c1 4 9 7 11 9"/>
<path class="l k1" d="M1737 1878c3 0 9-2 14-2 4 1 9 2 13 5 3 2 7 9 9 11"/>
<path class="l k4" d="M1711 1911c2-1 9-5 13-11 5-5 11-18 13-22"/>
<path class="s e0" d="M1766 1915l7 5 12 0 13 0 11-1 4-2 3-1-7-4-11-1-14 0-11 1-4 2zM1785 1954l7 3 12-2 13-4 10-4 4-3 2-2-7-2-12 2-13 4-10 4-4 3zM1809 1985l7 3 12-3 12-4 11-3 3-3 3-2-8-3-11 3-13 4-11 4-3 2z"/>
<path class="s f0" d="M1798 1883l-6-3-9 6-11 8-7 10 0 12 6-3 6 3 9-5 11-9 8-9 0-12zM1812 1918l-7-2-8 7-9 10-7 11 3 11 5-3 7 2 8-7 9-9 6-11-1-12zM1829 1945l-6-1-8 8-7 11-4 12 3 11 5-4 7 1 7-8 8-11 4-12-3-11zM1853 1976l-7-1-7 8-8 11-4 11 3 12 5-4 7 1 7-8 8-11 4-12-3-11z"/>
<path class="l k11" style="stroke-width:13" d="M1755 1947c3 2 13 10 20 11 7 1 16-1 22-5"/>
<path class="l k12" style="stroke-width:13" d="M1797 1953c5-3 11-11 11-17"/>
<path class="l k11" style="stroke-width:13" d="M1808 1936c0-6-12-14-11-18"/>
<path class="l k10" style="stroke-width:13" d="M1797 1918c1-4 9-6 15-7"/>
<path class="l k8" style="stroke-width:13" d="M1812 1911c6 0 14 5 20 5"/>
<path class="l k7" style="stroke-width:13" d="M1832 1916c6 0 13-4 15-5"/>
<path class="l k17" d="M1784 1903c-1 2-3 10-5 15"/>
<path class="l k16" d="M1779 1918c-1 5-5 10-4 16"/>
<path class="l k15" d="M1775 1934c0 5 3 11 6 15"/>
<path class="l k14" d="M1781 1949c3 4 10 7 11 11 2 4 2 8 0 11-1 3-7 4-11 7"/>
<path class="l k13" d="M1781 1978c-3 2-7 5-8 6"/>
<path class="s f4" d="M1756 2064l1-7 2-10-11-2-2 10-1 8z"/>
<path class="s f5" d="M1759 2047l2-12 2-10 2-10-11-3-2 11-2 11-2 11z"/>
<path class="s f6" d="M1765 2015l2-11-10-3-3 11z"/>
<path class="s f7" d="M1767 2004l1-3 2 0-2-7-7-2-5 6 1 0 0 3z"/>
<path class="s f8" d="M1768 1994l-2-8-5 6z"/>
<path class="s f0" d="M1786 2059l-1-7 0-9-1-10-1-10 0-10-1-12 0-1 4 0-6-9-5-7-5 8-5 9 4 0 0 1 1 12 1 10 0 10 1 10 0 9 1 6z"/>
<path class="s e15" d="M1702 1910l0 8 7 10 9 9 8 8 4 3 2 1-1-8-6-10-9-10-8-7-3-2z"/>
<path class="s e7" d="M1683 1955l3 8 8 8 11 8 9 7 4 1 3 1-2-8-8-8-11-8-9-7-5-1z"/>
<path class="s e6" d="M1671 1990l2 7 8 9 10 9 9 7 4 1 3 1-2-8-8-8-10-9-9-7-4-1z"/>
<path class="s e4" d="M1658 2029l2 8 8 8 11 8 9 6 5 2 2 0-2-7-8-8-11-9-9-6-5-1z"/>
<path class="s f18" d="M1747 1921l-1-7-10-5-12-5-13-1-10 6 5 4 1 7 10 5 12 5 13 1 10-6z"/>
<path class="s f11" d="M1728 1947l-4-6-10-1-14 1-12 4-6 10 6 1 3 6 11 1 13-1 12-3 7-10z"/>
<path class="s f6" d="M1716 1986l-2-6-11-2-13 0-13 2-8 9 7 2 2 6 11 3 14 0 12-2 8-9z"/>
<path class="s f5" d="M1702 2023l-3-6-11-2-13 1-12 3-7 9 6 2 3 6 11 2 13-1 12-3 8-9z"/>
<path class="l k20" style="stroke-width:3" d="M1722 1896c2-1 7-4 11-4 4 0 8 1 11 4 3 3 3 10 7 13 3 3 8 5 13 5 4-1 10-4 13-7 3-2 3-8 7-9 4 0 14 4 17 5"/>
</g>
<g filter="url(#rim)">
<path class="s e1" d="M968 2378l6 4 12 2 13 0 10-1 4-1 3-1-6-5-11-1-13 0-11 0-4 2zM977 2408l5 6 12 2 13 2 10 0 5-1 2 0-5-5-11-3-13-2-11 0-4 1z"/>
<path class="s f1" d="M1000 2348l-6-3-9 5-10 8-8 9-1 12 6-3 6 3 9-4 11-8 8-9 0-12zM1012 2382l-6-4-9 4-11 7-9 9-2 11 6-2 6 4 10-4 11-7 8-8 2-12zM1020 2418l-5-4-10 3-12 6-9 8-2 11 6-1 5 4 10-3 12-7 9-7 2-12z"/>
<path class="l k2" d="M1001 2304c0 2 0 9 0 15 0 5 3 14 2 18-1 3-6 4-9 4-2 0-5-2-6-2"/>
<path class="l k6" d="M1001 2308c2 3 9 13 13 18 5 4 10 6 13 11 4 4 8 14 9 17"/>
<path class="l k4" d="M941 2438c2 2 8 7 9 11 1 4-4 7-2 11 2 4 9 11 13 13 5 2 9 3 14 0 4-3 7-13 11-18 3-4 7-5 8-6"/>
<path class="l k1" d="M1010 2444c2 2 11 4 13 7 2 3 1 8 0 11-1 3-7 7-7 7 1-1 9-7 11-11 3-4 4-11 5-14"/>
<path class="l k1" d="M975 2246c1-1 6-7 11-9 4-2 10-4 13-3 3 1 3 6 4 10 1 4 2 11 2 13"/>
<path class="s e2" d="M1031 2281l8 2 12-3 12-4 11-4 3-3 2-2-7-3-12 3-12 5-11 4-4 3zM1055 2311l7 3 12-2 13-3 11-3 4-2 2-2-7-3-12 1-13 3-11 3-4 3z"/>
<path class="s e1" d="M1074 2343l7 4 12 0 13-1 11-1 4-2 3-1-7-5-12 0-13 1-11 2-4 1zM1089 2378l7 5 11 2 14 1 11 0 5-1 2-1-6-5-11-2-14-1-11 0-5 1z"/>
<path class="s f2" d="M1047 2238l-7 0-6 9-6 12-3 12 5 11 5-4 7 0 6-9 6-12 3-12-5-11zM1076 2270l-7-1-7 8-8 11-4 12 3 12 6-4 6 0 8-8 7-11 4-12-3-11zM1100 2305l-7-2-8 7-9 11-6 11 2 12 6-3 7 1 8-7 9-11 6-11-2-12z"/>
<path class="s f1" d="M1120 2344l-7-3-9 6-10 9-7 11 1 12 6-3 6 2 9-6 10-9 7-10 0-12zM1135 2385l-5-5-10 2-13 4-11 7-5 10 7 2 5 4 11-2 13-5 11-7 3-12z"/>
<path class="l k17" d="M1054 2310c1-1 4-8 9-9 4-1 12 2 17 3"/>
<path class="l k16" d="M1080 2304c5 0 9 1 13 0 5-2 12-5 14-7 1-2-2-3-5-3-2 0-8 1-11 3-2 2-5 5-4 9"/>
<path class="l k15" d="M1087 2306c0 3 3 9 6 13"/>
<path class="l k14" d="M1093 2319c4 4 9 9 14 11"/>
<path class="l k13" d="M1107 2330c5 2 13 0 17 2"/>
<path class="l k12" d="M1124 2332c5 2 8 7 9 11"/>
<path class="l k11" d="M1133 2343c1 5-2 11-4 16"/>
<path class="l k10" d="M1129 2359c-3 4-6 8-11 11"/>
<path class="l k9" d="M1118 2370c-5 3-14 4-20 6"/>
<path class="l k8" d="M1098 2376c-7 3-16 6-20 9"/>
<path class="l k7" d="M1078 2385c-4 3-7 7-7 11"/>
<path class="l k6" d="M1071 2396c0 4 6 8 7 13 1 5 0 11-2 16"/>
<path class="l k5" d="M1076 2425c-2 4-8 9-11 13"/>
<path class="l k4" d="M1065 2438c-3 4-6 7-7 11 0 4 1 10 5 13"/>
<path class="l k3" d="M1063 2462c3 3 12 6 17 7 5 0 9-3 11-5"/>
<path class="l k2" d="M1091 2464c2-2-3-4 0-6"/>
<path class="l k1" d="M1091 2458c4-3 16-6 22-9 7-3 13-7 16-11 2-4 2-8 0-11-3-3-13-7-16-9"/>
<path class="s f5" d="M1009 2397l-1 4-2 5-2 7-2 5-2 6-1 3-2 0 1 4 0 6 1 5 3-3 6-4 3-3-2 0 1-4 3-6 2-6 2-7 1-5 1-4z"/>
<path class="s f2" d="M1038 2443l1-8 1-12 1-12 1-12 2-11 2-11 1-10 2-7-12-2-1 7-2 10-2 11-2 11-1 12-1 13-1 12-1 8z"/>
<path class="s f2" d="M1064 2434l-2-7-3-10-3-12-3-13-3-13-4-16-3-9 4-1-4-4-9-8-4 11-2 6 4-1 2 9 4 16 3 13 4 13 3 12 2 10 2 7z"/>
<path class="l k10" d="M957 2306c2-1 8-2 13-2"/>
<path class="l k11" d="M970 2304c5-1 13-1 18-2 5 0 12 2 13 0"/>
<path class="l k9" d="M1001 2302c1-1-6-6-9-7"/>
<path class="l k6" d="M992 2295c-3-2-7 0-9 0"/>
<path class="s e4" d="M961 2417l-1-8-8-9-11-8-8-7-5-2-2-1 1 8 8 9 11 8 8 7 5 2z"/>
<path class="s e5" d="M975 2376l-3-7-8-8-11-8-10-6-4-1-3-1 2 7 9 8 11 8 10 6 4 2zM986 2341l-2-7-7-9-10-9-9-7-4-2-3-1 2 8 7 8 10 10 9 7 4 1z"/>
<path class="s f4" d="M916 2420l3 6 10 2 14 1 12-3 8-8-6-3-3-6-11-2-13-1-12 3-8 9zM930 2384l4 6 10 1 14-1 12-3 7-10-7-2-3-6-11-1-13 1-12 3-7 10z"/>
<path class="s f5" d="M941 2346l3 6 10 2 14 0 12-3 8-9-7-2-3-6-11-2-13 0-12 3-8 9z"/>
<path class="l k14" d="M1005 2257c-2 0-8 0-13 0-4 1-11 2-13 5"/>
<path class="l k13" d="M979 2262c-3 2-4 7-2 11 1 3 7 7 11 11 3 3 9 7 11 11"/>
<path class="l k14" d="M999 2295c2 3 2 7 2 9"/>
<path class="l k18" style="stroke-width:2.8" d="M1005 2257c3 2 9 9 14 11"/>
<path class="l k19" style="stroke-width:2.8" d="M1019 2268c4 3 8 5 13 5"/>
<path class="l k20" style="stroke-width:2.8" d="M1032 2273c4-1 9-5 13-7 4-2 9-3 13-3"/>
<path class="l k19" style="stroke-width:2.8" d="M1058 2263c5 0 12 1 13 3"/>
<path class="l k17" style="stroke-width:2.8" d="M1071 2266c2 2-1 5-4 7"/>
<path class="l k16" style="stroke-width:2.8" d="M1067 2273c-3 1-11 0-13 2"/>
<path class="l k14" style="stroke-width:2.8" d="M1054 2275c-3 2-2 5-2 9"/>
<path class="l k12" style="stroke-width:2.8" d="M1052 2284c0 3 3 7 2 11"/>
<path class="l k11" style="stroke-width:2.8" d="M1054 2295c-1 3-7 5-9 9"/>
<path class="l k10" style="stroke-width:2.8" d="M1045 2304c-2 3-4 6-4 11"/>
<path class="l k12" style="stroke-width:2.8" d="M1041 2315c-1 4 1 11 2 15"/>
<path class="l k14" style="stroke-width:2.8" d="M1043 2330c1 4 4 7 4 11"/>
<path class="l k12" style="stroke-width:2.8" d="M1047 2341c0 4-2 8-4 11"/>
<path class="l k11" style="stroke-width:2.8" d="M1043 2352c-3 3-7 4-11 7"/>
<path class="l k9" style="stroke-width:2.8" d="M1032 2359c-4 2-10 3-13 6"/>
<path class="l k8" style="stroke-width:2.8" d="M1019 2365c-3 3-4 7-5 11"/>
<path class="l k7" style="stroke-width:2.8" d="M1014 2376c-1 5-2 10-2 16"/>
<path class="l k6" style="stroke-width:2.8" d="M1012 2392c0 5 4 14 4 17"/>
</g>
<g filter="url(#rim)">
<path class="s e4" d="M1342 2372l5 6 11 3 12 3 11 2 4-1 3 0-5-6-11-3-12-3-11-2-5 1zM1345 2407l5 6 11 3 13 3 10 2 5 0 3-1-5-5-11-4-13-3-11-2-4 1z"/>
<path class="s f4" d="M1380 2350l-5-4-10 3-12 5-10 7-3 11 6-1 5 5 10-3 12-6 10-7 3-11zM1384 2385l-5-4-11 3-11 5-10 7-3 11 6 0 5 4 10-3 12-5 10-7 3-11zM1387 2421l-5-4-10 2-12 5-10 7-3 11 6 0 5 4 10-3 12-5 10-7 3-11z"/>
<path class="l k4" d="M1375 2299c0 4-1 16-2 22-1 6-3 11-2 16 1 4 5 9 7 11"/>
<path class="l k6" d="M1373 2297c3 1 11 5 16 9 4 3 8 6 11 11 2 5 2 13 4 20 2 6 7 11 9 17 2 6 3 11 4 18 1 6-2 16 0 22"/>
<path class="l k5" d="M1417 2394c2 6 8 8 11 13 3 6 5 13 7 20"/>
<path class="l k4" d="M1435 2427c2 6 2 13 4 20"/>
<path class="l k3" d="M1439 2447c3 6 7 16 11 19 4 4 9 4 13 3"/>
<path class="l k2" d="M1463 2469c4-2 9-7 11-11 3-4 0-9 3-14"/>
<path class="l k1" d="M1477 2444c2-4 9-8 13-11 4-2 9-5 11-6"/>
<path class="l k5" d="M1320 2429c0 3 1 11 0 15-1 5-7 5-6 9 0 5 4 14 9 18 4 4 11 6 15 4 4-1 7-9 11-13 4-4 11-7 13-9"/>
<path class="l k3" d="M1382 2449c-1 2-7 10-7 13 1 3 6 7 9 7 3-1 9-11 9-11 0-1-10 5-9 6 1 2 10 4 13 2 4-1 8-7 9-8"/>
<path class="l k7" d="M1336 2273c2 0 9 4 13 4 4 0 11-2 13-2"/>
<path class="l k12" d="M1371 2277c3-2 12-9 18-13"/>
<path class="l k11" d="M1389 2264c5-4 12-9 17-11"/>
<path class="l k9" d="M1406 2253c6-2 11-3 16-1"/>
<path class="l k7" d="M1422 2252c4 1 8 8 11 10"/>
<path class="l k6" d="M1433 2262c3 2 5 2 6 2"/>
<path class="s e8" d="M1420 2279l3 7 11 5 12 5 11 3 5 1 3-1-5-6-11-6-12-4-10-4-5 1z"/>
<path class="s e4" d="M1428 2332l7 5 11 1 14 0 11-1 5-1 2-1-6-5-12-1-14 0-11 0-4 2z"/>
<path class="s e1" d="M1443 2371l7 4 12 2 13-1 11 0 5-2 2-1-6-5-12-1-14 0-11 1-4 2z"/>
<path class="s e0" d="M1460 2411l7 4 12 1 14-1 11-1 4-2 3-1-7-5-12 0-14 1-11 1-4 1z"/>
<path class="s f6" d="M1464 2265l-5-5-11 0-13 3-12 5-5 11 6 1 5 5 11-1 13-2 12-6 5-10z"/>
<path class="s f7" d="M1460 2300l-6-2-10 5-10 8-8 10 0 12 7-3 5 3 10-5 10-8 8-10 1-11z"/>
<path class="s f2" d="M1474 2336l-6-2-10 6-10 9-7 10 0 12 7-2 6 2 9-6 10-9 8-10-1-12z"/>
<path class="s f0" d="M1489 2375l-6-2-9 6-10 10-7 10 2 12 6-2 6 2 9-7 9-9 7-11-1-12z"/>
<path class="l k4" style="stroke-width:6" d="M1468 2332c2-1 10-6 15-6 6 0 15 2 18 6 3 5 4 14 2 20-2 6-8 13-13 15-5 3-13 1-18-2-4-3-8-10-9-15 0-6 4-15 5-18"/>
<path class="l k12" d="M1457 2288c0 2 2 7 2 11"/>
<path class="l k11" d="M1459 2299c0 5-4 10-4 16"/>
<path class="l k10" d="M1455 2315c0 5 1 13 4 17"/>
<path class="l k9" d="M1459 2332c3 5 7 7 11 9"/>
<path class="l k8" d="M1470 2341c4 1 11 0 13 0"/>
<path class="l k15" d="M1419 2308c0 2 0 8-2 11"/>
<path class="l k13" d="M1417 2319c-2 3-8 5-11 9"/>
<path class="l k12" d="M1406 2328c-2 3-5 7-4 11"/>
<path class="l k11" d="M1402 2339c1 3 6 7 9 11"/>
<path class="l k10" d="M1411 2350c2 3 6 5 6 9"/>
<path class="l k9" d="M1417 2359c1 3-1 8-4 11"/>
<path class="l k8" d="M1413 2370c-4 3-11 4-16 6"/>
<path class="l k7" d="M1397 2376c-4 2-9 6-11 7"/>
<path class="s f4" d="M1375 2455l2-6 2-8 3-10 2-9 2-11 2-10 0-1 4 1-4-11-4-7-5 6-8 8 4 1-2 11-2 10-2 9-3 9-2 9-2 6z"/>
<path class="s f3" d="M1410 2458l1-7 0-9 0-11-1-11 0-11 0-12 0-3 4 0-6-8-5-8-5 8-5 9 4 0 0 2 0 12 0 11 1 11 0 11 0 9-1 7z"/>
<path class="s e13" d="M1332 2272l0 8 7 10 9 10 7 7 5 3 2 1-1-8-7-10-8-9-8-8-4-2z"/>
<path class="s e8" d="M1314 2318l3 7 9 7 12 7 10 5 4 1 3 1-3-8-9-7-12-7-10-5-4-1z"/>
<path class="s e6" d="M1306 2355l3 8 9 7 11 8 10 6 4 1 3 0-3-7-9-8-11-7-9-6-5-1z"/>
<path class="s e5" d="M1296 2390l2 8 9 8 10 8 9 7 4 1 3 1-2-7-8-9-11-8-9-7-4-1z"/>
<path class="s f18" d="M1377 2281l-2-6-9-5-13-4-13-1-10 6 6 4 1 7 9 5 13 4 13 1 10-7z"/>
<path class="s f10" d="M1358 2309l-4-5-10-1-14 1-11 3-7 10 7 2 3 6 10 0 13-1 12-3 7-10z"/>
<path class="s f6" d="M1350 2345l-4-6-10 0-14 2-11 4-7 10 7 1 4 6 10 0 14-2 11-4 7-10z"/>
<path class="s f5" d="M1341 2384l-3-6-11-1-13 0-12 3-8 9 7 3 3 6 11 1 13-1 12-3 8-9z"/>
<path class="l k20" style="stroke-width:3" d="M1371 2277c2 0 8 3 13 2 5 0 12-1 16-4 3-3 4-10 6-13 3-3 7-5 9-5"/>
<path class="l k19" style="stroke-width:3" d="M1415 2257c2 1 5 5 4 9 0 4-5 11-6 15"/>
<path class="l k18" style="stroke-width:3" d="M1413 2281c-2 5-4 10-2 14 1 4 5 9 8 11"/>
<path class="l k17" style="stroke-width:3" d="M1419 2306c4 1 7 0 11-2"/>
<path class="l k16" style="stroke-width:3" d="M1430 2304c5-3 11-9 16-11"/>
<path class="l k15" style="stroke-width:3" d="M1446 2293c4-3 9-4 11-5"/>
</g>
<g filter="url(#rim)">
<path class="s e0" d="M1707 2387l5 5 12 3 13 1 11 1 5-1 2 0-5-6-12-2-13-2-11-1-5 1zM1715 2424l5 6 11 3 14 2 10 1 5-1 3-1-6-5-11-3-13-2-11-1-4 1z"/>
<path class="s f0" d="M1739 2356l-6-3-9 5-11 9-8 9 0 11 6-1 6 2 9-5 11-8 8-10 0-11zM1751 2397l-6-3-10 4-11 7-9 8-2 12 6-1 6 2 10-4 11-7 9-8 2-12zM1758 2436l-6 0-7 8-6 10-3 11 5 10 4-5 6 1 6-6 6-10 4-11-3-10z"/>
<path class="l k0" d="M1733 2301c2 1 9 1 13 3 4 1 8 4 9 8 1 4 0 10 0 16 0 5 1 14 0 17-1 4-6 5-9 5-3-1-7-6-9-7"/>
<path class="l k4" d="M1742 2310c3 2 13 9 17 13 5 5 7 8 9 14 2 5 4 14 5 17"/>
<path class="l k2" d="M1775 2363c2 1 9 4 13 7 4 2 9 1 11 6 2 5 1 15 2 22 1 8 1 15 2 22"/>
<path class="l k1" d="M1803 2420c2 8 3 16 5 22 1 6 1 10 4 13 3 4 9 6 13 9 4 4 7 9 11 11 5 2 10 3 14 0 4-2 9-8 11-13 2-5 0-12 0-15-1-4-6-5-5-7 1-2 9-5 11-7"/>
<path class="l k1" d="M1685 2431c1 2 7 6 8 9 1 3-3 5-2 9 2 4 7 11 11 13 5 3 10 3 16 2 5 0 10-4 15-6 5-3 11-8 13-9"/>
<path class="l k0" d="M1759 2458c0 2-5 10-4 11 1 0 6-5 9-7 3-2 6-7 9-7 2 1 3 12 4 9 1-2 1-20 1-24"/>
<path class="l k3" d="M1751 2257c-1 2-3 7-3 9 1 3 4 7 7 7"/>
<path class="l k2" d="M1755 2273c3 0 9-6 13-7 4-1 9-1 11 0 2 2 1 7 2 9 2 2 6 3 9 2 4-1 7-5 11-7"/>
<path class="l k1" d="M1801 2270c4-1 10-1 13 0 4 2 8 6 9 7"/>
<path class="l k4" d="M1872 2210c-4 0-14 0-20 1"/>
<path class="l k5" d="M1852 2211c-6 1-12 2-16 4"/>
<path class="l k6" d="M1836 2215c-3 3-3 8-4 9"/>
<path class="s e1" d="M1800 2306l4 6 11 5 13 3 11 3 4 0 3-1-5-6-11-4-12-4-11-3-4 1zM1806 2352l6 5 11 1 14 1 11 0 5-2 2-1-6-5-12-1-13-1-11 0-5 2zM1823 2394l7 3 12-1 13-3 11-3 4-3 2-1-7-3-12 1-13 3-11 3-4 2zM1852 2431l8 1 11-4 12-7 10-6 3-3 1-3-7-1-11 5-12 7-10 6-3 3z"/>
<path class="s f1" d="M1841 2286l-5-4-10 2-13 4-11 6-4 11 6 1 5 4 11-1 13-5 11-6 4-11zM1841 2323l-5-3-10 4-12 7-9 9-1 12 6-2 6 4 10-4 11-7 9-9 2-12zM1851 2358l-6-2-9 7-10 9-6 11 1 12 6-4 7 3 8-7 9-9 7-11-1-11zM1868 2388l-6 1-7 9-6 12-3 12 5 11 4-5 7 0 7-9 6-12 3-12-4-11z"/>
<path class="l k7" style="stroke-width:12" d="M1834 2226c3 1 13 0 18 3 5 2 12 8 13 13 1 5-3 10-7 15-3 5-11 10-15 13-4 4-7 8-9 9"/>
<path class="l k10" d="M1825 2273c3-1 11-3 16-3 5 1 11 4 15 7 4 3 5 8 9 11"/>
<path class="l k8" d="M1865 2288c4 3 11 5 13 7"/>
<path class="l k7" d="M1878 2295c3 2 3 5 0 6"/>
<path class="l k6" d="M1878 2301c-2 1-9 1-13 0"/>
<path class="l k5" d="M1865 2301c-4 0-7-3-9-4"/>
<path class="l k11" d="M1825 2273c0 3-1 13-4 20"/>
<path class="l k14" d="M1821 2293c-3 6-9 12-13 17-5 5-10 7-13 11"/>
<path class="l k15" d="M1795 2321c-4 4-7 8-9 11-2 3-4 7-5 9"/>
<path class="l k14" d="M1792 2273c1 2 3 11 3 15"/>
<path class="l k12" d="M1795 2288c-1 5-5 7-7 11"/>
<path class="l k11" d="M1788 2299c-2 4-6 7-7 11"/>
<path class="l k13" d="M1781 2310c0 4 3 9 5 13"/>
<path class="l k12" d="M1786 2323c1 5 4 9 4 14"/>
<path class="l k9" d="M1790 2337c0 4-2 9-4 13"/>
<path class="l k10" d="M1786 2350c-3 3-7 6-11 9"/>
<path class="l k8" d="M1775 2359c-4 2-10 1-13 4"/>
<path class="l k6" d="M1762 2363c-4 3-6 9-7 11"/>
<path class="s f2" d="M1752 2443l1-6 1-8 1-10-12-2-1 10-1 9-1 5z"/>
<path class="s f3" d="M1755 2419l2-9 1-9 1-9 4 0-19-3-1 1 4 0-1 9-1 9-2 9z"/>
<path class="s f4" d="M1763 2392l-5-9-3-7-5 6-6 7z"/>
<path class="s f0" d="M1783 2437l0-6-1-9 0-10-1-10 0-9 0-10 4 0-1 0-6-9-4-7-4 7-6 9-1 1 5 0 0 9 0 10 1 10 0 10 1 9 1 6z"/>
<path class="s e15" d="M1689 2274l1 8 7 9 10 10 8 7 5 2 2 1-1-8-8-9-9-9-8-8-4-1z"/>
<path class="s e7" d="M1675 2323l3 7 10 7 12 6 10 5 4 1 3 1-3-8-10-6-11-7-10-5-5-1z"/>
<path class="s e5" d="M1668 2358l2 7 9 8 11 8 9 6 5 1 3 1-3-8-9-8-11-7-9-6-5-1z"/>
<path class="s e2" d="M1658 2398l2 7 10 8 11 7 10 6 4 1 3 0-3-7-9-8-11-7-10-5-5-1z"/>
<path class="s f18" d="M1735 2281l-2-7-10-4-13-3-13-1-9 7 5 4 2 6 10 5 13 3 12 1 10-7z"/>
<path class="s f11" d="M1718 2310l-4-5-11 0-13 2-11 5-6 10 7 1 4 6 10 0 13-3 11-4 6-10z"/>
<path class="s f6" d="M1712 2349l-3-6-11-1-14 2-12 4-6 9 6 2 4 6 11 0 13-1 12-4 7-10z"/>
<path class="s f3" d="M1702 2388l-4-6-11 0-13 1-12 4-6 11 6 1 4 6 11 0 13-2 12-4 6-10z"/>
<path class="l k20" style="stroke-width:3" d="M1720 2255c2 1 9 3 13 4 4 2 10 2 13 5 3 3 2 9 5 13 2 4 5 9 8 11"/>
<path class="l k19" style="stroke-width:3" d="M1759 2288c4 2 9 2 14 0 4-1 8-5 13-9"/>
<path class="l k18" style="stroke-width:3" d="M1786 2279c5-3 12-8 15-11"/>
<path class="l k17" style="stroke-width:3" d="M1801 2268c4-2 7-4 7-4"/>
<path class="l k16" style="stroke-width:3" d="M1808 2264c-1 0-6 1-9 2"/>
<path class="l k15" style="stroke-width:3" d="M1799 2266c-3 2-5 6-7 7"/>
</g>
<g filter="url(#rim)">
<path class="l k3" style="stroke-width:1.9" d="M950 160c-7-2-30-11-43-10"/>
<path class="l k7" style="stroke-width:1.9" d="M907 150c-14 1-30 7-37 13"/>
<path class="l k12" style="stroke-width:1.9" d="M870 163c-7 7-8 18-7 27"/>
<path class="l k14" style="stroke-width:1.9" d="M863 190c2 9 8 21 17 27"/>
<path class="l k11" style="stroke-width:1.9" d="M880 217c9 5 27 8 37 6"/>
<path class="l k8" style="stroke-width:1.9" d="M917 223c10-1 19-14 23-16"/>
<path class="l k4" style="stroke-width:1.9" d="M1093 223c6-1 23-9 34-6"/>
<path class="l k2" style="stroke-width:1.9" d="M1127 217c11 2 23 19 33 20 10 1 21-16 27-14"/>
<path class="l k1" style="stroke-width:1.9" d="M1187 223c5 3 9 20 6 27"/>
<path class="l k0" style="stroke-width:1.9" d="M1193 250c-2 7-21 12-20 17 1 5 20 9 27 13 7 4 14 7 13 10-1 3-7 8-20 7-12-1-44-11-53-14"/>
<path class="l k12" style="stroke-width:1.9" d="M1000 350c-3 3-14 11-17 20"/>
<path class="l k10" style="stroke-width:1.9" d="M983 370c-2 9 3 24 4 33"/>
<path class="l k7" style="stroke-width:1.9" d="M987 403c1 9 0 24 3 20"/>
<path class="l k8" style="stroke-width:1.9" d="M990 423c3-3 13-30 17-40"/>
<path class="l k10" style="stroke-width:1.9" d="M1007 383c4-10 5-16 6-20"/>
<path class="l k4" style="stroke-width:1.9" d="M1047 383c4 3 19 13 26 14"/>
<path class="l k3" style="stroke-width:1.9" d="M1073 397c8 0 16-12 20-10 4 1 5 22 4 20"/>
<path class="l k2" style="stroke-width:1.9" d="M1097 407c-1-3-9-31-10-37"/>
<path class="l k3" style="stroke-width:1.9" d="M948 162c-7-1-28-10-41-10"/>
<path class="l k7" style="stroke-width:1.9" d="M907 152c-14 0-32 5-39 11"/>
<path class="l k12" style="stroke-width:1.9" d="M868 163c-8 7-7 20-5 29"/>
<path class="l k14" style="stroke-width:1.9" d="M863 192c2 9 8 20 17 25"/>
<path class="l k11" style="stroke-width:1.9" d="M880 217c9 4 27 6 37 4"/>
<path class="l k8" style="stroke-width:1.9" d="M917 221c10-2 19-12 23-14"/>
<path class="l k4" style="stroke-width:1.9" d="M1093 223c6 0 23-6 34-4"/>
<path class="l k2" style="stroke-width:1.9" d="M1127 219c11 2 23 17 33 18 10 0 21-18 27-16"/>
<path class="l k1" style="stroke-width:1.9" d="M1187 221c5 2 9 21 6 29"/>
<path class="l k0" style="stroke-width:1.9" d="M1193 250c-2 8-21 12-20 17 1 5 20 9 27 13 7 4 14 5 13 8-1 2-7 9-20 9-12-1-44-11-53-14"/>
<path class="l k12" style="stroke-width:1.9" d="M1000 350c-3 4-14 13-17 22"/>
<path class="l k10" style="stroke-width:1.9" d="M983 372c-2 9 3 23 4 31"/>
<path class="l k7" style="stroke-width:1.9" d="M987 403c1 8 0 21 3 18"/>
<path class="l k8" style="stroke-width:1.9" d="M990 421c3-3 13-28 17-38"/>
<path class="l k10" style="stroke-width:1.9" d="M1007 383c4-9 5-16 6-20"/>
<path class="l k4" style="stroke-width:1.9" d="M1047 383c4 3 19 13 26 14"/>
<path class="l k3" style="stroke-width:1.9" d="M1073 397c8 1 16-10 20-8 4 2 5 21 4 18"/>
<path class="l k2" style="stroke-width:1.9" d="M1097 407c-1-3-9-31-10-37"/>
<path class="l k3" style="stroke-width:1.9" d="M945 165c-6-2-25-10-38-10"/>
<path class="l k7" style="stroke-width:1.9" d="M907 155c-14-1-34 2-42 8"/>
<path class="l k12" style="stroke-width:1.9" d="M865 163c-7 7-4 23-2 32"/>
<path class="l k14" style="stroke-width:1.9" d="M863 195c3 9 8 18 17 22"/>
<path class="l k11" style="stroke-width:1.9" d="M880 217c9 4 27 3 37 2"/>
<path class="l k8" style="stroke-width:1.9" d="M917 219c10-2 19-10 23-12"/>
<path class="l k4" style="stroke-width:1.9" d="M1093 223c6 0 23-4 34-2"/>
<path class="l k2" style="stroke-width:1.9" d="M1127 221c11 3 23 16 33 16 10-1 21-21 27-18"/>
<path class="l k1" style="stroke-width:1.9" d="M1187 219c5 2 9 23 6 31"/>
<path class="l k0" style="stroke-width:1.9" d="M1193 250c-2 8-21 12-20 17 1 5 20 10 27 13 7 3 14 3 13 5-1 3-7 12-20 12-12-1-44-11-53-14"/>
<path class="l k12" style="stroke-width:1.9" d="M1000 350c-3 4-14 16-17 25"/>
<path class="l k10" style="stroke-width:1.9" d="M983 375c-2 9 3 21 4 28"/>
<path class="l k7" style="stroke-width:1.9" d="M987 403c1 8 0 19 3 16"/>
<path class="l k8" style="stroke-width:1.9" d="M990 419c3-4 13-26 17-36"/>
<path class="l k10" style="stroke-width:1.9" d="M1007 383c4-9 5-16 6-20"/>
<path class="l k4" style="stroke-width:1.9" d="M1047 383c4 3 19 12 26 14"/>
<path class="l k3" style="stroke-width:1.9" d="M1073 397c8 1 16-7 20-6 4 2 5 19 4 16"/>
<path class="l k2" style="stroke-width:1.9" d="M1097 407c-1-4-9-31-10-37"/>
<path class="l k3" style="stroke-width:1.9" d="M943 167c-6-2-23-9-36-10"/>
<path class="l k7" style="stroke-width:1.9" d="M907 157c-14-1-37 0-44 6"/>
<path class="l k12" style="stroke-width:1.9" d="M863 163c-7 7-3 25 0 34"/>
<path class="l k14" style="stroke-width:1.9" d="M863 197c3 9 8 16 17 20"/>
<path class="l k11" style="stroke-width:1.9" d="M880 217c9 3 27 1 37-1"/>
<path class="l k8" style="stroke-width:1.9" d="M917 216c10-1 19-8 23-9"/>
<path class="l k4" style="stroke-width:1.9" d="M1093 223c6 0 23-2 34 1"/>
<path class="l k2" style="stroke-width:1.9" d="M1127 224c11 2 23 14 33 13 10-2 21-23 27-21"/>
<path class="l k1" style="stroke-width:1.9" d="M1187 216c5 3 9 26 6 34"/>
<path class="l k0" style="stroke-width:1.9" d="M1193 250c-2 8-21 12-20 17 1 5 20 10 27 13 7 3 14 0 13 3-1 3-7 14-20 14-12 0-44-11-53-14"/>
<path class="l k12" style="stroke-width:1.9" d="M1000 350c-3 4-14 18-17 27"/>
<path class="l k10" style="stroke-width:1.9" d="M983 377c-2 9 3 20 4 26"/>
<path class="l k7" style="stroke-width:1.9" d="M987 403c1 7 0 17 3 13"/>
<path class="l k8" style="stroke-width:1.9" d="M990 416c3-3 13-24 17-33"/>
<path class="l k10" style="stroke-width:1.9" d="M1007 383c4-9 5-16 6-20"/>
<path class="l k4" style="stroke-width:1.9" d="M1047 383c4 3 19 12 26 14"/>
<path class="l k3" style="stroke-width:1.9" d="M1073 397c8 1 16-5 20-3 4 1 5 17 4 13"/>
<path class="l k2" style="stroke-width:1.9" d="M1097 407c-1-4-9-31-10-37"/>
<path class="l k6" style="stroke-width:2" d="M960 235c-2-1-11-1-16-5-5-3-9-11-14-14-5-4-11-8-16-8-5-1-12 2-14 5-2 3-2 8 0 12 1 3 5 6 10 7 4 1 13-3 17-2 5 1 8 6 10 7"/>
<path class="l k6" style="stroke-width:2" d="M1039 288c4 0 17-2 22 0 4 2 4 9 6 12"/>
<path class="l k7" style="stroke-width:2" d="M1067 300c3 2 6-1 9 2"/>
<path class="l k8" style="stroke-width:2" d="M1076 302c2 3 8 11 7 15"/>
<path class="l k10" style="stroke-width:2" d="M1083 317c0 5-4 8-8 11"/>
<path class="l k11" style="stroke-width:2" d="M1075 328c-4 4-13 4-17 9"/>
<path class="l k13" style="stroke-width:2" d="M1058 337c-4 5-6 15-6 20"/>
<path class="l k12" style="stroke-width:2" d="M1052 357c1 5 6 7 10 10"/>
<path class="l k11" style="stroke-width:2" d="M1062 367c3 3 8 6 10 7"/>
<path class="l k8" style="stroke-width:2" d="M1062 195c2 1 11 1 13 3 3 3 1 12 2 15"/>
<path class="l k9" style="stroke-width:2" d="M1077 213c1 3 2 4 6 3"/>
<path class="l k12" style="stroke-width:2" d="M1083 216c3-1 13-8 15-9"/>
<path class="l k12" style="stroke-width:7" d="M1096 201c3 0 12-1 17 1"/>
<path class="l k10" style="stroke-width:7" d="M1113 202c5 2 14 7 15 12 1 6-6 16-10 20"/>
<path class="l k9" style="stroke-width:7" d="M1118 234c-3 5-8 6-10 7"/>
<path class="l k1" style="stroke-width:8" d="M1078 266c2 2 11 10 17 11 6 1 15-2 20-5 5-3 9-10 10-15 1-4-5-11-6-13"/>
<path class="s f6" d="M930 238l3 4 9-6-3-4z"/>
<path class="s f7" d="M933 242l4 6 5 7 4 7 4 7 3 8 3 9 2 7 11-3-2-8-4-9-3-8-4-8-5-8-5-7-4-6z"/>
<path class="s f8" d="M958 293l1 6 0 6 0 5-2 5-2 4-3 4-3 4 9 7 3-4 4-6 3-6 1-6 1-7 0-7-1-8z"/>
<path class="s f9" d="M949 327l-2 3 9 7 2-3z"/>
<path class="s f4" d="M991 217l-4-5-6-8-7-9-9-9-11-7-6 12 9 6 7 6 7 8 5 8 4 6z"/>
<path class="s f3" d="M954 179l-13-6-6-2 2-4-9 2-10 2 6 9 5 7 1-4 5 2 13 6z"/>
<path class="s f4" d="M929 137l5 7 7 10 8 11 8 10 7 9 10-8-7-9-7-10-8-11-8-10-5-7z"/>
<path class="s f5" d="M964 184l6 9 7 8 10-8-6-8-7-9z"/>
<path class="s f4" d="M977 201l7 8 6 7 5 5-3 3 3 1 9 2 7 1-1-6-2-10-1-3-3 3-4-5-7-7-6-7z"/>
<path class="l k5" style="stroke-width:2" d="M935 132c-3 0-15-1-19 0-5 0-7 0-8 4-1 4 1 13 3 18 3 6 9 11 11 13"/>
<path class="l k13" style="stroke-width:2" d="M984 198c-3 1-10 4-16 7-6 2-17 6-21 10"/>
<path class="l k14" style="stroke-width:2" d="M947 215c-4 4-5 10-4 15 1 5 8 10 10 16 3 5 3 10 3 17-1 7-5 15-6 23-1 8 0 18-1 25"/>
<path class="l k15" style="stroke-width:2" d="M949 311c0 6-3 11-4 14"/>
<path class="s f15" d="M964 162l0 3 1 5 0 6 0 4-4 0 2 4 3 6 2 5 1 3 3-2 4-4 5-5 3-4-5-1 0-1 0-6 0-6-1-5 0-4z"/>
<path class="s f17" d="M1024 147l0 3 0 4-1 5 0 6 0 7 0 5-4 0 3 4 5 8 4 5 3-5 5-8 3-5-5 0 0-4 0-7 0-5 1-5 0-4 0-3z"/>
<path class="s f14" d="M1025 254l0 6 13 0 0-6z"/>
<path class="s f13" d="M1025 260l1 9 13 0-1-9z"/>
<path class="s f12" d="M1026 269l0 10 13 0 0-10z"/>
<path class="s f11" d="M1026 279l0 11-1 12 13 1 1-13 0-11z"/>
<path class="s f12" d="M1025 302l-2 14 0 7 12 1 1-6 2-15z"/>
<path class="s f13" d="M1018 322l4 8 5 10 7-9 6-6z"/>
<path class="s f15" d="M1053 207l-3 4-4 5-5 7-5 8 12 8 4-8 5-7 4-5 3-4z"/>
<path class="s f16" d="M1036 231l-6 9-6 11-6 11-6 12-7 12-7 14-6 12 13 7 6-13 6-13 7-13 6-11 6-11 6-10 6-9z"/>
<path class="s f17" d="M992 312l-4 9 12 6 5-8z"/>
<path class="s f18" d="M1073 211l-6 3-9 5-10 5-9 5-8 4-8 4-8 5-10 7-11 9-13 11 9 10 12-11 11-9 9-6 7-4 8-4 8-5 9-4 10-6 9-4 6-3z"/>
<path class="s f17" d="M981 269l-8 8-2-4-2 7-3 12 13-2 6-1-3-3 8-7z"/>
<path class="l k18" style="stroke-width:2" d="M993 322c-2 2-9 5-13 11-4 6-8 15-8 22 0 7 3 15 7 18"/>
<path class="l k17" style="stroke-width:2" d="M979 373c3 4 9 3 13 4 5 2 8 5 12 6"/>
<path class="l k16" style="stroke-width:2" d="M1004 383c4 1 10 1 13-1"/>
<path class="l k15" style="stroke-width:2" d="M1017 382c3-2 3-5 4-11 0-5-1-15 0-20"/>
<path class="l k14" style="stroke-width:2" d="M1021 351c1-5 5-10 6-12"/>
<path class="l k6" style="stroke-width:2" d="M963 234c-3-1-11-4-17-6-6-3-11-7-18-10-6-3-16-8-21-9-5 0-8 1-9 4-1 3 0 11 2 14 2 3 8 4 11 5 4 1 8 1 13 2 5 1 14 5 17 6"/>
<path class="l k6" style="stroke-width:2" d="M1050 283c3 0 14-2 19 1"/>
<path class="l k7" style="stroke-width:2" d="M1069 284c5 3 5 14 8 16 3 3 7-4 10-1"/>
<path class="l k9" style="stroke-width:2" d="M1087 299c2 2 6 11 6 16"/>
<path class="l k10" style="stroke-width:2" d="M1093 315c0 5-1 10-5 14"/>
<path class="l k12" style="stroke-width:2" d="M1088 329c-3 4-12 5-15 9"/>
<path class="l k14" style="stroke-width:2" d="M1073 338c-3 4-4 11-3 16"/>
<path class="l k13" style="stroke-width:2" d="M1070 354c2 4 8 7 11 11"/>
<path class="l k12" style="stroke-width:2" d="M1081 365c3 3 7 8 8 10"/>
<path class="l k9" style="stroke-width:2" d="M1066 188c2 0 9-3 12 1"/>
<path class="l k8" style="stroke-width:2" d="M1078 189c2 3 0 16 2 19"/>
<path class="l k9" style="stroke-width:2" d="M1080 208c2 3 5 0 10-1"/>
<path class="l k13" style="stroke-width:2" d="M1090 207c4-2 13-6 16-8"/>
<path class="l k13" style="stroke-width:7" d="M1103 194c3 0 13 0 18 2"/>
<path class="l k11" style="stroke-width:7" d="M1121 196c5 2 8 6 9 11 2 6 2 18-1 22"/>
<path class="l k9" style="stroke-width:7" d="M1129 229c-2 5-9 5-11 5"/>
<path class="l k0" style="stroke-width:8" d="M1085 262c3 1 11 7 18 8 7 1 18 1 24-3 5-3 9-12 9-16-1-5-10-9-11-10"/>
<path class="s f7" d="M928 238l5 4 6 7 6 7 5 8 5 7 9-6-5-8-5-8-7-7-6-7-5-5z"/>
<path class="s f8" d="M955 271l3 7 4 8 2 7 2 7 1 7 0 6-1 5-1 5 10 5 2-7 1-8 0-7-1-8-2-8-3-8-4-9-4-8z"/>
<path class="s f9" d="M965 323l-4 5-3 5-3 4 9 6 3-3 4-5 4-7z"/>
<path class="s f4" d="M992 217l-6-5-8-7-9-8-9-8-8 11 8 7 9 8 8 6 6 5z"/>
<path class="s f3" d="M960 189l-10-7-11-7-3-3 2-3-10 0-10 0 4 9 4 9 2-4 3 2 11 8 10 7z"/>
<path class="s f4" d="M925 134l6 7 8 11 10 11 8 10 7 8 7 8 6 7 7 7 8 7 7 8 1 1-3 3 11 2 8 2-1-8-3-11-3 3 0-1-8-8-8-7-6-7-7-7-6-7-7-8-8-10-10-11-8-11-6-7z"/>
<path class="l k5" style="stroke-width:2" d="M925 129c-2-1-10-6-14-6-4 1-9 4-10 9-1 5 2 15 5 21 3 6 9 12 11 14"/>
<path class="l k13" style="stroke-width:2" d="M984 197c-3 1-12 4-19 6"/>
<path class="l k14" style="stroke-width:2" d="M965 203c-6 3-15 5-18 9"/>
<path class="l k15" style="stroke-width:2" d="M947 212c-4 5-3 12-2 18 1 6 2 13 5 18 2 6 9 10 10 16 2 6-1 12-2 21-1 9-5 23-6 31"/>
<path class="l k16" style="stroke-width:2" d="M952 316c-1 8 1 14 1 16"/>
<path class="s f16" d="M961 157l1 3 2 6 1 5 1 5 0 2-5 0 2 2 3 6 2 6 2 4 3-3 5-5 5-6 1-2-4 0 0-5-1-6-2-7-1-5-1-4z"/>
<path class="s f18" d="M1026 141l0 4 1 5 0 6 0 6 0 6-4 0 4 7 4 6 3 5 3-5 4-6 5-6-5-1 0-7 0-6 0-6-1-5 0-4z"/>
<path class="s f15" d="M1033 252l1 6 13-1-1-6z"/>
<path class="s f14" d="M1034 258l0 8 13-1 0-8z"/>
<path class="s f13" d="M1034 266l1 10 13-1-1-10z"/>
<path class="s f12" d="M1035 276l0 11 13-1 0-11z"/>
<path class="s f11" d="M1035 287l1 13 13-1-1-13z"/>
<path class="s f12" d="M1036 300l0 15 13 0 0-16z"/>
<path class="s f13" d="M1036 315l0 8-4 0 4 7 13-1 4-6-4 0 0-8z"/>
<path class="s f14" d="M1036 330l7 10 6-11z"/>
<path class="s f16" d="M1061 200l-3 3-6 5-7 7 11 9 6-6 5-4 4-4z"/>
<path class="s f17" d="M1045 215l-6 9-4 11-4 13-4 13-4 12-7 13 13 6 7-13 5-14 3-13 4-12 4-9 4-7z"/>
<path class="s f18" d="M1016 286l-7 14-7 12-6 9 13 7 5-9 7-12 8-15z"/>
<path class="s f19" d="M1079 203l-6 3-10 5-10 5-9 6-9 4-7 5-9 5-9 7-11 11-12 14-8 9-3-3-1 6-2 14 13-4 6-2-3-2 7-9 12-14 11-10 8-6 7-5 8-4 8-5 9-5 11-6 9-4 6-4z"/>
<path class="l k19" style="stroke-width:2" d="M997 324c-2 2-7 8-10 14-2 6-5 16-5 22 0 7 2 15 5 18 4 4 10 3 15 5"/>
<path class="l k18" style="stroke-width:2" d="M1002 383c5 2 9 5 14 6"/>
<path class="l k17" style="stroke-width:2" d="M1016 389c5 1 11 4 14 1 3-2 4-11 4-17"/>
<path class="l k16" style="stroke-width:2" d="M1034 373c0-6-3-13-3-19"/>
<path class="l k15" style="stroke-width:2" d="M1031 354c0-6 4-13 5-15"/>
<path class="l k8" style="stroke-width:2" d="M955 227c-3 0-12 0-17-3-4-3-5-12-10-15-4-4-12-7-17-8-4-1-8-3-12 0-3 3-9 11-9 15 1 5 9 9 15 10 5 2 15 0 20 1 4 2 7 7 8 9"/>
<path class="l k8" style="stroke-width:2" d="M1032 288c3 2 17 7 21 10 3 4 0 11 2 13"/>
<path class="l k9" style="stroke-width:2" d="M1055 311c2 2 8-5 11-2"/>
<path class="l k10" style="stroke-width:2" d="M1066 309c3 2 7 14 7 19"/>
<path class="l k11" style="stroke-width:2" d="M1073 328c-1 5-6 9-10 12"/>
<path class="l k12" style="stroke-width:2" d="M1063 340c-4 4-11 5-15 9"/>
<path class="l k14" style="stroke-width:2" d="M1048 349c-4 4-10 11-9 16"/>
<path class="l k13" style="stroke-width:2" d="M1039 365c2 5 14 11 16 14"/>
<path class="l k12" style="stroke-width:2" d="M1055 379c3 3-1 4-1 4"/>
<path class="l k10" style="stroke-width:2" d="M1058 200c3 0 15-1 18 2 3 4-3 16-2 19"/>
<path class="l k11" style="stroke-width:2" d="M1074 221c2 3 7 2 11 0"/>
<path class="l k13" style="stroke-width:2" d="M1085 221c5-2 12-11 15-13"/>
<path class="l k13" style="stroke-width:7" d="M1099 212c3 1 13 4 17 6"/>
<path class="l k12" style="stroke-width:7" d="M1116 218c4 2 6 2 7 6"/>
<path class="l k11" style="stroke-width:7" d="M1123 224c0 4-2 15-5 20"/>
<path class="l k10" style="stroke-width:7" d="M1118 244c-3 6-12 9-14 11"/>
<path class="l k3" style="stroke-width:8" d="M1072 278c3 1 14 4 20 6 6 1 12 7 17 5 5-2 11-14 12-19 1-5-6-10-7-12"/>
<path class="s f8" d="M926 232l3 5 4 7 9-5-3-7-3-5z"/>
<path class="s f9" d="M933 244l3 8 3 7 3 7 2 6 2 7 1 7 1 7 1 8 0 6 11 2 0-9-1-8-1-8-1-8-2-7-3-7-2-7-4-8-4-8z"/>
<path class="s f10" d="M949 307l-1 6-3 4-4 4-5 4-3 3 7 8 3-3 5-4 6-5 4-7 2-8z"/>
<path class="s f6" d="M989 220l-4-6-6-9-7-11-8-9-9-8-11-8-3-2 2-4-10 0-6 9 4 9 2-4 3 2 10 8 9 7 7 8 7 10 5 9 4 6z"/>
<path class="s f5" d="M933 163l-9 0 3 9z"/>
<path class="s f6" d="M933 132l6 7 7 12 9 12 7 10 6 9 10-7-5-9-8-11-8-12-8-11-5-8z"/>
<path class="s f7" d="M968 182l5 8 4 7 11-7-5-7-5-8z"/>
<path class="s f6" d="M977 197l6 8 6 8 6 8-3 2 1 1 10 3 8 2-1-8-1-11-4 2-6-7-6-8-5-7z"/>
<path class="l k7" style="stroke-width:2" d="M937 120c-2 0-11 2-16 2-5 1-12-3-13 1-1 5 4 19 7 25 3 6 11 10 13 12"/>
<path class="l k14" style="stroke-width:2" d="M984 197c-3 1-15 3-21 5-6 1-12 0-17 4"/>
<path class="l k15" style="stroke-width:2" d="M946 206c-4 3-8 11-8 17-1 6 4 10 6 16 3 7 7 18 7 25 0 7-6 9-9 16-2 7-3 19-5 26"/>
<path class="l k16" style="stroke-width:2" d="M937 306c-2 8-5 16-6 19"/>
<path class="s f16" d="M965 157l0 4 0 5 1 5-1 5 0 5-5-1 0 1 4 7 2 6 2 5 4-4 5-5 6-6-5-1 1-6 1-6-1-6 0-5 0-3z"/>
<path class="s f17" d="M1032 148l-1 3-1 5-1 5-1 6-1 6 0 1-5-1 4 7 3 7 2 5 4-4 5-6 5-6-4 0 0-1 1-6 1-5 1-5 1-4 1-3z"/>
<path class="s f15" d="M1022 260l-1 5 13 0 1-5z"/>
<path class="s f14" d="M1021 265l0 7 13 1 0-8z"/>
<path class="s f13" d="M1021 272l-1 9 13 2 1-10z"/>
<path class="s f12" d="M1020 281l-1 10-2 12 13 3 2-13 1-10z"/>
<path class="s f13" d="M1017 303l-3 15-2 7 13 3 1-7 4-15z"/>
<path class="s f14" d="M1008 324l3 7 4 11 8-8 6-5z"/>
<path class="s f16" d="M1053 208l-4 5-5 7-6 8-6 9-7 8 12 9 6-9 6-9 6-8 6-7 3-5z"/>
<path class="s f17" d="M1025 245l-7 10-7 10-7 11-8 12-9 14-7 13-6 9 12 7 6-9 7-13 9-13 7-13 7-10 8-10 7-9z"/>
<path class="s f18" d="M1074 219l-6 2-10 3-10 4-10 3-9 3 4 12 9-3 10-3 10-3 10-3 6-2z"/>
<path class="s f19" d="M1029 234l-8 3-9 4 5 12 8-4 8-3z"/>
<path class="s f18" d="M1012 241l-11 6-12 9-14 11-9 8-2-4-2 6-4 13 14-2 5 0-2-3 8-8 14-11 12-8 8-5z"/>
<path class="l k18" style="stroke-width:2" d="M978 326c-2 0-6 0-10 4-3 5-9 14-11 22-1 7 0 19 3 24 2 4 8 0 13 2"/>
<path class="l k17" style="stroke-width:2" d="M973 378c5 2 12 8 16 9 4 2 7 4 10 1"/>
<path class="l k16" style="stroke-width:2" d="M999 388c3-2 6-13 7-18 2-6 2-10 2-14"/>
<path class="l k15" style="stroke-width:2" d="M1008 356c1-4 3-11 3-13"/>
<path class="l k5" style="stroke-width:2" d="M967 232c-2 0-7 2-12 0-4-2-7-8-13-11-7-3-19-7-24-7-4 1-2 5-4 8-1 3-6 7-5 10 1 3 5 8 10 9 5 1 16-2 21-1 6 0 11 4 13 5"/>
<path class="l k6" style="stroke-width:2" d="M1054 280c2 0 10-4 15-2 5 1 9 11 13 13"/>
<path class="l k7" style="stroke-width:2" d="M1082 291c4 1 5-6 8-3"/>
<path class="l k8" style="stroke-width:2" d="M1090 288c3 3 9 14 9 19"/>
<path class="l k9" style="stroke-width:2" d="M1099 307c1 5-2 10-6 13"/>
<path class="l k11" style="stroke-width:2" d="M1093 320c-5 4-17 4-21 8"/>
<path class="l k12" style="stroke-width:2" d="M1072 328c-3 5-2 16 0 20 3 4 10 3 13 5"/>
<path class="l k11" style="stroke-width:2" d="M1085 353c4 2 8 5 9 6"/>
<path class="l k8" style="stroke-width:2" d="M1067 187c2 1 7 0 10 3"/>
<path class="l k7" style="stroke-width:2" d="M1077 190c3 2 5 9 7 11"/>
<path class="l k9" style="stroke-width:2" d="M1084 201c2 3 3 6 6 4"/>
<path class="l k11" style="stroke-width:2" d="M1090 205c3-1 10-10 12-12"/>
<path class="l k11" style="stroke-width:7" d="M1103 193c2 1 11-1 15 1"/>
<path class="l k10" style="stroke-width:7" d="M1118 194c5 3 11 9 12 13 1 4-3 8-7 13"/>
<path class="l k8" style="stroke-width:7" d="M1123 220c-3 4-11 11-13 13"/>
<path class="l k0" style="stroke-width:8" d="M1085 260c4 0 14 3 21 4 6 1 15 4 20 0 4-4 7-19 6-24-1-4-9-3-10-3"/>
<path class="s f6" d="M939 242l5 4 6 6 7 7 5 6 9-7-6-7-7-7-7-6-4-4z"/>
<path class="s f7" d="M962 265l5 6 3 6 3 7 3 6 0 6 0 7 0 7-1 6 11 2 1-7 0-8 0-8-1-8-2-8-4-7-4-7-5-7z"/>
<path class="s f8" d="M975 316l-2 5-1 5-2 4-2 3 10 5 1-3 3-5 2-6 2-6z"/>
<path class="s f4" d="M998 219l-5-4-9 9 5 5z"/>
<path class="s f3" d="M993 215l-7-7-8-7-9-7-9-6-11-5-1 0 2-4-11 2-8 1 4 7 6 9 2-3 1 0 10 5 8 5 8 6 7 6 7 7z"/>
<path class="s f4" d="M931 146l5 6 8 10 8 10 8 9 8 8 8 7 7 6 7 7 7 6 5 6-3 3 2 0 10 2 7 2-1-7-2-10 0-2-3 3-6-6-7-7-7-6-8-7-7-7-8-7-7-9-8-10-8-9-5-6z"/>
<path class="l k4" style="stroke-width:2" d="M939 142c-4-1-15-3-20-2-5 1-10 5-11 9 0 4 4 9 8 14 4 5 11 13 14 15"/>
<path class="l k12" style="stroke-width:2" d="M992 199c-3 1-12 4-17 7"/>
<path class="l k13" style="stroke-width:2" d="M975 206c-6 4-11 7-15 12-3 5-7 13-6 17"/>
<path class="l k14" style="stroke-width:2" d="M954 235c1 5 8 7 11 12 3 5 4 13 4 19 0 6-3 8-3 16-1 7 0 22 0 30 0 7 0 12 1 15"/>
<path class="s f15" d="M969 169l1 4 2 5 1 5 1 4-5 0 3 3 3 5 2 5 1 3 3-2 4-4 4-5 3-7-4 1-1-6-2-7-2-5-1-3z"/>
<path class="s f16" d="M1026 147l0 3 1 4 1 4 0 5 0 6 0 3-4 0 3 5 5 7 3 6 4-6 5-7 3-5-5 0 0-3 0-7-1-5 0-6-1-4 0-2z"/>
<path class="s f14" d="M1036 253l1 5 13-2-1-5z"/>
<path class="s f13" d="M1037 258l2 7 12-2-1-7z"/>
<path class="s f12" d="M1039 265l1 8 13-1-2-9z"/>
<path class="s f10" d="M1040 273l1 10 0 12 13 0 0-13-1-10z"/>
<path class="s f11" d="M1041 295l0 15 13 0 0-15z"/>
<path class="s f12" d="M1041 310l0 8-5 0 4 6 13 1 5-7-4 0 0-8z"/>
<path class="s f13" d="M1040 324l7 10 6-9z"/>
<path class="s f14" d="M1059 201l-3 5 12 7 3-4z"/>
<path class="s f15" d="M1056 206l-4 6-6 9-4 9-4 9-3 11-3 10 13 5 3-11 3-10 3-9 5-7 4-8 5-7z"/>
<path class="s f16" d="M1032 260l-4 10-5 12-6 12-6 11-4 8 12 6 4-7 6-12 6-12 6-12 4-11z"/>
<path class="s f17" d="M1079 202l-6 3-8 5-9 6-9 6-8 6 8 10 8-6 8-5 9-6 8-4 6-4z"/>
<path class="s f18" d="M1039 228l-8 6 9 10 7-6z"/>
<path class="s f17" d="M1031 234l-8 6-8 8-10 9-10 11-5 5-3-3-2 8-2 11 11-2 8-2-3-3 5-5 10-11 10-9 8-7 8-6z"/>
<path class="l k17" style="stroke-width:2" d="M1011 321c-2 1-9 3-12 8-2 4-4 13-4 20 0 7 2 18 6 22 3 4 11-1 15 0"/>
<path class="l k16" style="stroke-width:2" d="M1016 371c5 1 6 5 10 6 4 1 11 1 14-1"/>
<path class="l k15" style="stroke-width:2" d="M1040 376c2-1 3-4 3-10"/>
<path class="l k14" style="stroke-width:2" d="M1043 366c0-5-5-18-5-23 1-6 8-10 9-12"/>
<path class="l k9" style="stroke-width:2" d="M969 309c0 3 2 11 1 17"/>
<path class="l k10" style="stroke-width:2" d="M970 326c0 7-4 15-4 22"/>
<path class="l k11" style="stroke-width:2" d="M966 348c0 7 4 12 5 19"/>
<path class="l k10" style="stroke-width:2" d="M971 367c1 8-1 19 0 26 1 7 4 13 7 18"/>
<path class="l k8" style="stroke-width:2" d="M978 411c3 5 8 13 10 14"/>
<path class="l k6" style="stroke-width:2" d="M988 425c3 1 4-5 5-10"/>
<path class="l k7" style="stroke-width:2" d="M993 415c1-5 1-14 3-19"/>
<path class="l k9" style="stroke-width:2" d="M996 396c2-5 8-11 9-13"/>
<path class="l k15" style="stroke-width:2" d="M987 326c-2 1-7 6-12 9"/>
<path class="l k14" style="stroke-width:2" d="M975 335c-5 4-14 9-17 14"/>
<path class="l k13" style="stroke-width:2" d="M958 349c-2 4-2 9 0 14"/>
<path class="l k12" style="stroke-width:2" d="M958 363c3 5 11 11 16 14"/>
<path class="l k11" style="stroke-width:2" d="M974 377c5 3 8 6 13 5"/>
<path class="l k10" style="stroke-width:2" d="M987 382c5-2 14-11 17-13"/>
<path class="l k15" style="stroke-width:2" d="M1004 317c-1 2-5 9-6 14"/>
<path class="l k16" style="stroke-width:2" d="M998 331c-1 5 0 9 1 14"/>
<path class="l k15" style="stroke-width:2" d="M999 345c1 6 5 14 7 19"/>
<path class="l k14" style="stroke-width:2" d="M1006 364c1 5 2 8 0 12"/>
<path class="l k13" style="stroke-width:2" d="M1006 376c-2 5-11 13-13 15"/>
<path class="l k17" style="stroke-width:2" d="M1057 340c2 2 10 7 12 12"/>
<path class="l k15" style="stroke-width:2" d="M1069 352c3 5 5 14 4 18"/>
<path class="l k14" style="stroke-width:2" d="M1073 370c0 5-2 5-5 7"/>
<path class="l k13" style="stroke-width:2" d="M1068 377c-3 3-10 7-15 9"/>
<path class="l k12" style="stroke-width:2" d="M1053 386c-5 2-11 6-15 2-3-3-5-19-6-23"/>
<path class="l k11" style="stroke-width:2" d="M1081 182c2-1 7-6 11-7 4 0 8 0 12 2 5 3 11 9 14 14"/>
<path class="l k12" style="stroke-width:2" d="M1118 191c2 5 4 10 3 17"/>
<path class="l k11" style="stroke-width:2" d="M1121 208c0 6-4 17-6 23"/>
<path class="l k10" style="stroke-width:2" d="M1115 231c-3 5-9 7-8 11 0 3 5 9 10 12"/>
<path class="l k11" style="stroke-width:2" d="M1117 254c4 2 11 4 16 1"/>
<path class="l k10" style="stroke-width:2" d="M1133 255c4-3 8-14 9-19 1-5-2-11-5-13"/>
<path class="l k9" style="stroke-width:2" d="M1137 223c-3-2-8-2-13-1"/>
<path class="l k10" style="stroke-width:2" d="M1124 222c-6 2-16 10-19 11"/>
<path class="l k9" style="stroke-width:2" d="M1091 206c3-1 13-4 19-6"/>
<path class="l k8" style="stroke-width:2" d="M1110 200c6-1 13-5 16-3 4 3 4 11 4 16"/>
<path class="l k7" style="stroke-width:2" d="M1130 213c-1 5-4 10-5 14"/>
<path class="l k6" style="stroke-width:2" d="M1125 227c-1 5-4 10-3 11 1 2 8-1 10-2"/>
<path class="l k5" style="stroke-width:2" d="M1039 129c3 3 12 9 15 17"/>
<path class="l k7" style="stroke-width:2" d="M1054 146c3 7 2 19 3 26"/>
<path class="l k10" style="stroke-width:2" d="M1057 172c0 6 1 11 2 13"/>
<path class="s f3" d="M913 215l4 6 12-6-4-7z"/>
<path class="s f4" d="M917 221l6 10 6 11 6 12 11-5-5-13-7-11-5-10z"/>
<path class="s f5" d="M935 254l5 14 6 16 12-4-6-17-6-14z"/>
<path class="s f6" d="M946 284l3 10-4 2 5 3 10 9 4-13 1-6-4 1-3-10z"/>
<path class="s f4" d="M936 238l5 3 7-10-4-4z"/>
<path class="s f5" d="M941 241l6 5 7 5 8-11-7-5-7-4z"/>
<path class="s f6" d="M954 251l6 5 9-9-7-7z"/>
<path class="s f7" d="M960 256l6 6 9-9-6-6z"/>
<path class="s f8" d="M966 262l5 6 11-8-7-7z"/>
<path class="s f9" d="M971 268l5 7 11-7-5-8z"/>
<path class="s f10" d="M976 275l3 6 2 6 13-2-2-9-5-8z"/>
<path class="s f11" d="M981 287l0 5 13 0 0-7z"/>
<path class="s f12" d="M977 292l2 3 5 8 8 0 5-8 2-4z"/>
<path class="s f13" d="M984 303l4 5 4-5z"/>
<path class="l k4" style="stroke-width:2" d="M893 223c2 0 7-1 11-3 5-2 14-8 16-10"/>
<path class="s f6" d="M1022 236l-5-6-10 7 5 7z"/>
<path class="s f5" d="M1017 230l-7-10-11 7 8 10z"/>
<path class="s f4" d="M1010 220l-9-11-10 8 8 10z"/>
<path class="s f3" d="M1001 209l-8-11-9-10-10 9 9 10 8 10z"/>
<path class="s f2" d="M984 188l-10-10-4-3 3-3-9-2-10-2 2 10 2 9 3-3 4 4 9 9z"/>
<path class="s f2" d="M990 179l4 6 10-6-4-6z"/>
<path class="s f3" d="M994 185l5 9 6 10 5 8 11-6-6-9-6-9-5-9z"/>
<path class="s f4" d="M1010 212l5 8 5 8 10-6-4-8-5-8z"/>
<path class="s f5" d="M1016 230l1 0 9 5 6 3 1-7 0-10 0-1z"/>
<path class="s f1" d="M965 127l1 5 3 6 12-4-3-7-1-4z"/>
<path class="s f2" d="M969 138l2 8 3 7 2 9 13-2-3-10-2-8-3-8z"/>
<path class="s f3" d="M976 162l2 11 0 1-4 0 8 9 5 6 4-8 4-10-4 0-2-11z"/>
<path class="l k1" style="stroke-width:2" d="M969 130c-2-3-7-14-12-14-5-1-15 6-17 10-3 5-1 12 2 18 2 5 10 15 12 18"/>
<path class="l k2" style="stroke-width:2" d="M998 107c1 3 7 13 7 19 0 5-6 8-8 13-2 5-3 8-5 15-2 6-7 14-9 26-1 11 1 35 1 42"/>
<path class="l k3" style="stroke-width:2" d="M1034 125c1 1 7 4 6 8 0 5-7 14-11 20-3 5-9 12-11 15"/>
<path class="s f18" d="M1022 333l3-9 5-12-12-5-5 12-3 9z"/>
<path class="s f17" d="M1030 312l6-14 5-13-12-5-5 13-6 14z"/>
<path class="s f16" d="M1041 285l6-13-12-5-6 13z"/>
<path class="s f15" d="M1047 272l6-13-11-6-7 14z"/>
<path class="s f13" d="M1053 259l6-13-12-5-5 12z"/>
<path class="s f12" d="M1059 246l4-8-12-6-4 9z"/>
<path class="s f10" d="M1093 204l-6 3 2 4 6-4z"/>
<path class="s f9" d="M1087 207l-10 5-11 5 4 7 10-7 9-6z"/>
<path class="s f8" d="M1066 217l-11 7-10 9-10 9 10 9 8-11 8-9 9-7z"/>
<path class="s f9" d="M1035 242l-9 11-8 10 10 8 8-10 9-10z"/>
<path class="s f10" d="M1018 263l-8 11 10 7 8-10z"/>
<path class="s f11" d="M1010 274l-8 11 11 7 7-11z"/>
<path class="s f12" d="M1002 285l-2 3-4-2 0 9 9 6 9-3-4-3 3-3z"/>
<path class="s f13" d="M996 295l0 10 9-4z"/>
<path class="l k13" style="stroke-width:2" d="M1061 236c1 3 7 9 6 15 0 6-9 16-10 21"/>
<path class="l k14" style="stroke-width:2" d="M1057 272c-1 5-2 8 2 10 5 2 20 0 25 3"/>
<path class="l k15" style="stroke-width:2" d="M1084 285c5 4 3 16 6 20"/>
<path class="l k17" style="stroke-width:2" d="M1090 305c2 5 7 1 10 6"/>
<path class="l k18" style="stroke-width:2" d="M1100 311c2 4 5 15 2 21"/>
<path class="l k19" style="stroke-width:2" d="M1102 332c-2 7-10 13-15 17-6 3-12 5-17 6-5 1-9 0-11-1"/>
<path class="l k19" style="stroke-width:2" d="M1016 334c-1 2-6 8-6 13 0 5 2 13 5 17 4 3 11 3 15 3 4 1 7 2 11-1 3-4 8-12 9-19 2-8 1-20 1-24"/>
<path class="l k9" style="stroke-width:2" d="M970 311c0 3 0 10-1 16"/>
<path class="l k11" style="stroke-width:2" d="M969 327c0 7-2 17-3 24 0 7 2 12 2 20 0 7-2 18-1 25"/>
<path class="l k10" style="stroke-width:2" d="M967 396c1 8 3 12 6 17"/>
<path class="l k9" style="stroke-width:2" d="M973 413c3 6 9 14 12 15"/>
<path class="l k7" style="stroke-width:2" d="M985 428c2 1 3-6 4-11 1-4-2-10 1-15"/>
<path class="l k9" style="stroke-width:2" d="M990 402c2-5 11-12 14-15"/>
<path class="l k16" style="stroke-width:2" d="M990 328c-3 2-11 10-16 14-5 3-11 4-14 7"/>
<path class="l k14" style="stroke-width:2" d="M960 349c-2 4-4 8-2 14"/>
<path class="l k13" style="stroke-width:2" d="M958 363c2 5 10 16 14 20"/>
<path class="l k12" style="stroke-width:2" d="M972 383c5 3 7 3 11 2"/>
<path class="l k11" style="stroke-width:2" d="M983 385c5-1 14-7 16-8"/>
<path class="l k16" style="stroke-width:2" d="M1009 316c-2 3-10 13-12 18"/>
<path class="l k17" style="stroke-width:2" d="M997 334c-1 5-1 8 1 14"/>
<path class="l k16" style="stroke-width:2" d="M998 348c1 5 7 13 9 19"/>
<path class="l k15" style="stroke-width:2" d="M1007 367c2 5 4 10 1 14"/>
<path class="l k14" style="stroke-width:2" d="M1008 381c-3 4-14 9-17 11"/>
<path class="l k18" style="stroke-width:2" d="M1061 345c1 2 5 7 8 12"/>
<path class="l k16" style="stroke-width:2" d="M1069 357c2 5 6 13 6 18"/>
<path class="l k15" style="stroke-width:2" d="M1075 375c0 5-4 8-8 11"/>
<path class="l k14" style="stroke-width:2" d="M1067 386c-3 4-8 7-13 8"/>
<path class="l k13" style="stroke-width:2" d="M1054 394c-5 2-12 5-15 1-4-4-4-20-5-24"/>
<path class="l k12" style="stroke-width:2" d="M1098 181c1-1 6-8 9-8 3 0 7 4 11 8 3 3 8 7 10 13 1 5 1 13 1 19 0 6-2 11-4 17"/>
<path class="l k11" style="stroke-width:2" d="M1125 230c-1 5-7 12-7 17-1 4 1 7 5 9 3 2 9 6 14 6 4-1 13-6 15-11"/>
<path class="l k10" style="stroke-width:2" d="M1152 251c1-5-4-17-6-21-3-4-7-5-12-4-4 2-13 10-16 11"/>
<path class="l k9" style="stroke-width:2" d="M1103 213c4-1 17-8 23-10"/>
<path class="l k8" style="stroke-width:2" d="M1126 203c6-1 9-2 13 0 3 2 7 6 7 11"/>
<path class="l k7" style="stroke-width:2" d="M1146 214c-1 5-8 14-10 19"/>
<path class="l k6" style="stroke-width:2" d="M1136 233c-2 5-5 11-4 13 1 1 8-4 9-4"/>
<path class="l k5" style="stroke-width:2" d="M1051 130c2 3 10 7 14 14"/>
<path class="l k8" style="stroke-width:2" d="M1065 144c4 8 7 23 8 30"/>
<path class="l k11" style="stroke-width:2" d="M1073 174c2 7 0 9 0 11"/>
<path class="s f3" d="M918 208l4 8 12-6-4-8z"/>
<path class="s f4" d="M922 216l5 10 6 12 5 12 12-5-5-13-6-12-5-10z"/>
<path class="s f5" d="M938 250l6 14 5 17 12-4-5-17-6-15z"/>
<path class="s f6" d="M949 281l3 11-4 1 5 4 10 8 4-13 2-6-4 2-4-11z"/>
<path class="s f4" d="M942 230l4 4 10-9-5-4z"/>
<path class="s f5" d="M946 234l7 7 6 7 10-8-7-8-6-7z"/>
<path class="s f6" d="M959 248l6 7 11-7-7-8z"/>
<path class="s f7" d="M965 255l5 7 11-6-5-8z"/>
<path class="s f8" d="M970 262l4 8 11-6-4-8z"/>
<path class="s f9" d="M974 270l4 7 11-5-4-8z"/>
<path class="s f10" d="M978 277l3 7 12-4-4-8z"/>
<path class="s f11" d="M981 284l2 8 12-4-2-8z"/>
<path class="s f12" d="M983 292l0 3-4 1 4 3 15-3 2-4-4 0-1-4z"/>
<path class="s f13" d="M983 299l6 6 6-1 3-8z"/>
<path class="s f14" d="M989 305l4 5 2-6z"/>
<path class="l k4" style="stroke-width:2" d="M895 214c3-1 11-3 16-4 5-2 11-3 13-4"/>
<path class="s f6" d="M1029 237l-5-8-11 8 5 7z"/>
<path class="s f5" d="M1024 229l-7-10-11 7 7 11z"/>
<path class="s f4" d="M1017 219l-8-12-11 7 8 12z"/>
<path class="s f3" d="M1009 207l-7-11-11 8 7 10z"/>
<path class="s f2" d="M1002 196l-8-11-8-11-3-3-10 8 2 3 8 11 8 11z"/>
<path class="s f1" d="M987 168l-9-3-9-3 0 10 1 9z"/>
<path class="s f2" d="M999 180l3 5 5 8 10-6-5-8-3-6z"/>
<path class="s f3" d="M1007 193l5 8 4 8 11-6-5-8-5-8z"/>
<path class="s f4" d="M1016 209l5 8 3 7-3 2 1 1 16-9 0-1-3 2-4-7-4-9z"/>
<path class="s f5" d="M1022 227l8 5 6 3 1-7 1-10z"/>
<path class="s f1" d="M976 120l1 5 1 8 2 9 1 8 13-2-1-9-2-8-1-8-1-5z"/>
<path class="s f2" d="M981 150l3 10 2 10-4 1 1 0 20-6-4 1-3-9-2-9z"/>
<path class="s f3" d="M983 171l8 7 6 5 2-7 4-11z"/>
<path class="l k0" style="stroke-width:2" d="M980 121c-2-2-9-11-13-12-4 0-11 4-14 9-2 4-2 13-1 20 1 7 8 19 9 22"/>
<path class="l k2" style="stroke-width:2" d="M1015 104c0 2 2 10 2 16 0 5-2 11-5 16-2 5-5 8-8 15-3 7-8 15-10 27-2 11-1 33-1 40"/>
<path class="l k2" style="stroke-width:2" d="M1046 125c1 1 5 2 4 7 0 5-2 18-5 24-4 6-11 11-13 14"/>
<path class="s f20" d="M1028 333l3-8-12-4-3 8z"/>
<path class="s f19" d="M1031 325l3-10-12-5-3 11z"/>
<path class="s f18" d="M1034 315l5-13 5-12-12-5-5 13-5 12z"/>
<path class="s f17" d="M1044 290l7-13-12-6-7 14z"/>
<path class="s f16" d="M1051 277l8-15-11-6-9 15z"/>
<path class="s f14" d="M1059 262l8-13-12-7-7 14z"/>
<path class="s f13" d="M1067 249l5-10-11-6-6 9z"/>
<path class="s f10" d="M1106 211l-8 3-10 3 2 5 10-5 7-3z"/>
<path class="s f9" d="M1088 217l-12 4 3 7 11-6z"/>
<path class="s f8" d="M1076 221l-11 6-12 7 7 8 9-8 10-6z"/>
<path class="s f9" d="M1053 234l-12 8-10 10-10 10 10 8 9-9 10-9 10-10z"/>
<path class="s f10" d="M1021 262l-9 11 11 8 8-11z"/>
<path class="s f12" d="M1012 273l-7 12 11 7 7-11z"/>
<path class="s f13" d="M1005 285l-3 5-4-2 1 9 10 6 8-4-4-3 3-4z"/>
<path class="s f14" d="M999 297l0 10 10-4z"/>
<path class="l k14" style="stroke-width:2" d="M1066 239c3 2 14 6 13 13 0 7-15 21-17 27"/>
<path class="l k15" style="stroke-width:2" d="M1062 279c-2 6-1 5 4 6 5 2 20 0 25 4"/>
<path class="l k16" style="stroke-width:2" d="M1091 289c5 4 4 14 7 19"/>
<path class="l k18" style="stroke-width:2" d="M1098 308c2 5 5 4 6 9"/>
<path class="l k19" style="stroke-width:2" d="M1104 317c1 5 0 15-2 21"/>
<path class="l k20" style="stroke-width:2" d="M1102 338c-2 7-6 14-10 18-5 4-10 7-15 8-6 0-15-2-18-3"/>
<path class="l k20" style="stroke-width:2" d="M1017 334c-1 3-6 12-6 17 0 4 1 7 4 11 3 3 9 9 14 10 6 1 16 0 19-3 4-3 3-10 5-17 1-7 2-22 2-26"/>
<path class="l k8" style="stroke-width:2" d="M968 309c0 3 3 10 3 16"/>
<path class="l k9" style="stroke-width:2" d="M971 325c-1 7-6 15-6 22"/>
<path class="l k10" style="stroke-width:2" d="M965 347c0 8 2 16 4 23"/>
<path class="l k9" style="stroke-width:2" d="M969 370c2 7 3 13 5 20 3 7 6 16 9 21"/>
<path class="l k8" style="stroke-width:2" d="M983 411c3 5 8 10 9 10"/>
<path class="l k6" style="stroke-width:2" d="M992 421c2 0 0-6 1-10 1-5 2-13 5-18"/>
<path class="l k8" style="stroke-width:2" d="M998 393c2-5 7-8 9-10"/>
<path class="l k14" style="stroke-width:2" d="M988 321c-2 3-9 13-13 18"/>
<path class="l k13" style="stroke-width:2" d="M975 339c-4 4-10 7-12 11"/>
<path class="l k12" style="stroke-width:2" d="M963 350c-2 4-2 10 1 14"/>
<path class="l k11" style="stroke-width:2" d="M964 364c2 4 10 8 14 10"/>
<path class="l k10" style="stroke-width:2" d="M978 374c4 3 7 4 11 3"/>
<path class="l k9" style="stroke-width:2" d="M989 377c4 0 10-6 13-7"/>
<path class="l k13" style="stroke-width:2" d="M1004 317c-1 3-5 9-6 14"/>
<path class="l k14" style="stroke-width:2" d="M998 331c-2 5-4 12-2 18 3 5 11 10 14 15"/>
<path class="l k13" style="stroke-width:2" d="M1010 364c3 4 5 8 3 13"/>
<path class="l k12" style="stroke-width:2" d="M1013 377c-2 4-15 9-17 11"/>
<path class="l k15" style="stroke-width:2" d="M1056 340c2 0 6-1 9 3"/>
<path class="l k14" style="stroke-width:2" d="M1065 343c3 4 7 15 8 20"/>
<path class="l k13" style="stroke-width:2" d="M1073 363c1 4-1 7-4 10"/>
<path class="l k12" style="stroke-width:2" d="M1069 373c-3 2-10 5-14 7"/>
<path class="l k11" style="stroke-width:2" d="M1055 380c-5 3-11 9-14 6-3-3-3-17-4-21"/>
<path class="l k10" style="stroke-width:2" d="M1072 179c1-2 5-10 9-11 4-1 10 4 15 8 4 3 9 7 12 12 3 5 6 11 6 17 0 6-5 15-7 20"/>
<path class="l k9" style="stroke-width:2" d="M1107 225c-2 5-7 6-7 10 0 5 2 14 6 16"/>
<path class="l k10" style="stroke-width:2" d="M1106 251c3 2 11 2 15-1"/>
<path class="l k9" style="stroke-width:2" d="M1121 250c5-3 13-12 14-17 1-5-4-10-7-13"/>
<path class="l k8" style="stroke-width:2" d="M1128 220c-4-2-9-4-13-3"/>
<path class="l k9" style="stroke-width:2" d="M1115 217c-5 1-12 8-14 9"/>
<path class="l k8" style="stroke-width:2" d="M1086 203c2-2 8-9 13-11"/>
<path class="l k7" style="stroke-width:2" d="M1099 192c6-1 15-2 19 1 4 2 7 8 6 13"/>
<path class="l k6" style="stroke-width:2" d="M1124 206c0 4-7 10-9 15-2 5-5 12-3 13"/>
<path class="l k5" style="stroke-width:2" d="M1112 234c1 1 11-4 13-5"/>
<path class="l k4" style="stroke-width:2" d="M1029 130c2 2 10 10 13 17"/>
<path class="l k7" style="stroke-width:2" d="M1042 147c2 6 3 17 4 23"/>
<path class="l k9" style="stroke-width:2" d="M1046 170c1 6 1 10 2 12"/>
<path class="s f3" d="M908 223l4 6 6 8 11-8-6-8-5-6z"/>
<path class="s f4" d="M918 237l7 9 6 11 5 12 12-4-6-14-6-11-7-11z"/>
<path class="s f5" d="M936 269l6 16 3 9-4 1 6 4 13-5 1-6-4 1-3-9-6-15z"/>
<path class="s f6" d="M947 299l10 8 3-13z"/>
<path class="s f4" d="M931 241l5 4 7 5 8-10-7-6-5-4z"/>
<path class="s f5" d="M943 250l8 7 7 6 8-11-7-5-8-7z"/>
<path class="s f6" d="M958 263l5 4 9-10-6-5z"/>
<path class="s f7" d="M963 267l5 4 9-10-5-4z"/>
<path class="s f8" d="M968 271l4 3 10-8-5-5z"/>
<path class="s f9" d="M972 274l3 4 2 7 12-4-2-8-5-7z"/>
<path class="s f10" d="M977 285l1 6 13-2-2-8z"/>
<path class="s f11" d="M974 291l1 2 7 8 7-1 5-9 1-3z"/>
<path class="s f12" d="M982 301l4 5 3-6z"/>
<path class="l k3" style="stroke-width:2" d="M887 231c2-1 8-6 13-8 4-2 11-4 14-4"/>
<path class="s f5" d="M1015 237l-5-7-11 8 5 7z"/>
<path class="s f4" d="M1010 230l-7-9-8-11-10 8 8 10 6 10z"/>
<path class="s f3" d="M995 210l-8-11-10 9 8 10z"/>
<path class="s f2" d="M987 199l-10-10-10-11-5-4 3-3-8-2-11-2 3 11 1 8 3-3 5 5 10 10 9 10z"/>
<path class="s f2" d="M980 181l4 7 6 9 10-6-5-9-4-7z"/>
<path class="s f3" d="M990 197l6 10 5 9 10-7-5-9-6-9z"/>
<path class="s f4" d="M1001 216l6 7 5 6-3 2 2 1 9 2 6-5-2-9 0-2-3 3-4-5-6-7z"/>
<path class="s f5" d="M1020 234l6 2 0-7z"/>
<path class="s f1" d="M954 133l2 5 3 8 12-5-3-8-2-5z"/>
<path class="s f2" d="M959 146l4 8 2 7 2 8 2 6 13-3-2-6-2-8-3-9-4-8z"/>
<path class="s f3" d="M965 176l2 2 7 7 5 5 2-7 4-9 1-3z"/>
<path class="l k1" style="stroke-width:2" d="M959 131c-3-1-13-7-18-7-5 0-8 2-9 7-2 4-1 15 1 21 2 7 10 14 12 17"/>
<path class="l k2" style="stroke-width:2" d="M988 112c0 2 6 10 5 15-1 5-8 9-10 14-2 5-2 9-3 16-1 7-4 16-5 27 0 11 2 33 2 40"/>
<path class="l k3" style="stroke-width:2" d="M1021 126c1 1 6 3 6 8 1 4-2 13-5 20-3 6-10 15-12 18"/>
<path class="s f16" d="M1021 328l3-7 5-12-11-5-6 11-3 8z"/>
<path class="s f15" d="M1029 309l6-13 5-12-12-5-5 12-5 13z"/>
<path class="s f14" d="M1040 284l5-13-12-5-5 13z"/>
<path class="s f13" d="M1045 271l5-15-13-4-4 14z"/>
<path class="s f12" d="M1050 256l4-12-12-4-5 12z"/>
<path class="s f11" d="M1054 244l3-9-13-4-2 9z"/>
<path class="s f9" d="M1086 202l-7 3 2 4 7-4z"/>
<path class="s f8" d="M1079 205l-11 4-12 6 4 7 11-7 10-6z"/>
<path class="s f7" d="M1056 215l-11 7-9 9-9 11 11 7 6-11 8-9 8-7z"/>
<path class="s f8" d="M1027 242l-7 11-7 10 11 8 7-11 7-11z"/>
<path class="s f9" d="M1013 263l-8 11 11 8 8-11z"/>
<path class="s f10" d="M1005 274l-7 12 11 7 7-11z"/>
<path class="s f11" d="M998 286l-2 3-4-2 0 9 9 6 9-4-4-2 3-3z"/>
<path class="s f12" d="M992 296l0 10 9-4z"/>
<path class="l k12" style="stroke-width:2" d="M1053 237c2 2 10 7 10 13 0 5-7 13-8 18-1 5-3 10 1 13"/>
<path class="l k13" style="stroke-width:2" d="M1056 281c5 2 19-1 24 1"/>
<path class="l k14" style="stroke-width:2" d="M1080 282c5 3 4 10 7 15"/>
<path class="l k15" style="stroke-width:2" d="M1087 297c3 4 9 5 11 10"/>
<path class="l k16" style="stroke-width:2" d="M1098 307c1 5 2 13 0 19"/>
<path class="l k17" style="stroke-width:2" d="M1098 326c-1 6-7 13-12 16-4 4-8 4-13 5-4 1-12 2-14 3"/>
<path class="l k17" style="stroke-width:2" d="M1018 328c-1 3-8 12-8 17 0 5 3 11 6 14 3 4 7 5 12 6 5 0 15 0 18-4 3-4 2-13 3-20 0-7-2-18-2-21"/>
<path class="l k10" style="stroke-width:2" d="M974 303c-1 4 0 12-1 19"/>
<path class="l k11" style="stroke-width:2" d="M973 322c-1 7-4 15-5 22"/>
<path class="l k12" style="stroke-width:2" d="M968 344c-1 8-2 14-2 22"/>
<path class="l k11" style="stroke-width:2" d="M966 366c-1 8-2 19-1 26 2 8 6 13 9 18"/>
<path class="l k10" style="stroke-width:2" d="M974 410c3 5 8 13 10 14"/>
<path class="l k8" style="stroke-width:2" d="M984 424c2 0 2-7 3-12 0-4-3-11-1-16"/>
<path class="l k10" style="stroke-width:2" d="M986 396c2-5 12-9 14-11"/>
<path class="l k16" style="stroke-width:2" d="M991 319c-2 2-10 11-16 15"/>
<path class="l k15" style="stroke-width:2" d="M975 334c-6 4-14 4-18 8"/>
<path class="l k14" style="stroke-width:2" d="M957 342c-3 4-4 12-2 17"/>
<path class="l k13" style="stroke-width:2" d="M955 359c2 5 10 10 14 13"/>
<path class="l k12" style="stroke-width:2" d="M969 372c5 4 8 7 14 6"/>
<path class="l k11" style="stroke-width:2" d="M983 378c5 0 15-7 18-9"/>
<path class="l k15" style="stroke-width:2" d="M1008 312c-2 3-9 14-11 20"/>
<path class="l k16" style="stroke-width:2" d="M997 332c-2 6-2 10-1 16 2 5 7 13 9 18"/>
<path class="l k15" style="stroke-width:2" d="M1005 366c1 5 2 9-1 13"/>
<path class="l k14" style="stroke-width:2" d="M1004 379c-3 4-14 9-17 11"/>
<path class="l k17" style="stroke-width:2" d="M1056 345c2 2 11 5 13 11"/>
<path class="l k16" style="stroke-width:2" d="M1069 356c2 6 0 19 0 24"/>
<path class="l k15" style="stroke-width:2" d="M1069 380c-1 5 0 4-3 5"/>
<path class="l k14" style="stroke-width:2" d="M1066 385c-4 2-13 5-18 6"/>
<path class="l k13" style="stroke-width:2" d="M1048 391c-5 1-7 4-9 1-3-4-4-19-5-22"/>
<path class="l k12" style="stroke-width:2" d="M1101 190c2 0 9 1 13 1 3 0 6-2 9 1 2 3 6 9 9 15 2 5 5 13 5 19-1 6-6 12-9 16"/>
<path class="l k11" style="stroke-width:2" d="M1128 242c-3 5-9 7-9 11-1 4 5 11 9 14"/>
<path class="l k12" style="stroke-width:2" d="M1128 267c3 2 7 5 11 3"/>
<path class="l k11" style="stroke-width:2" d="M1139 270c5-2 16-8 18-13 1-5-6-12-9-15"/>
<path class="l k10" style="stroke-width:2" d="M1148 242c-3-3-6-4-11-4"/>
<path class="l k11" style="stroke-width:2" d="M1137 238c-4 0-13 3-15 4"/>
<path class="l k10" style="stroke-width:2" d="M1104 220c4-1 14-5 20-6"/>
<path class="l k9" style="stroke-width:2" d="M1124 214c7-1 16-3 20 0 4 2 4 8 3 13"/>
<path class="l k8" style="stroke-width:2" d="M1147 227c0 5-4 11-6 16-2 4-6 10-6 11"/>
<path class="l k7" style="stroke-width:2" d="M1135 254c1 2 7-3 9-4"/>
<path class="l k6" style="stroke-width:2" d="M1067 133c2 3 6 8 7 16"/>
<path class="l k9" style="stroke-width:2" d="M1074 149c2 8-1 25 0 33"/>
<path class="l k11" style="stroke-width:2" d="M1074 182c1 7 6 11 7 13"/>
<path class="s f5" d="M935 200l2 7 3 10 13-3-3-10-3-8z"/>
<path class="s f6" d="M940 217l3 12 3 13 3 14 13-2-3-15-3-13-3-12z"/>
<path class="s f7" d="M949 256l3 17 2 10-4 1 4 5 14-3 3-6-4 1-2-10-3-17z"/>
<path class="s f8" d="M954 289l9 9 5-12z"/>
<path class="s f6" d="M950 226l4 4 4 5 10-8-4-5-3-4z"/>
<path class="s f7" d="M958 235l5 7 4 7 11-8-5-7-5-7z"/>
<path class="s f8" d="M967 249l5 7 11-7-5-8z"/>
<path class="s f9" d="M972 256l6 9 11-7-6-9z"/>
<path class="s f10" d="M978 265l4 8 12-6-5-9z"/>
<path class="s f11" d="M982 273l4 8 2 7 13-4-3-8-4-9z"/>
<path class="s f12" d="M988 288l1 2-4 1 3 4 16-2 2-5-4 0-1-4z"/>
<path class="s f13" d="M988 295l6 6 6-1 4-7z"/>
<path class="s f14" d="M994 301l4 4 2-5z"/>
<path class="l k5" style="stroke-width:2" d="M906 207c2 0 11 0 15-1 5 0 9-2 11-3"/>
<path class="s f7" d="M1033 240l-4-7-12 7 5 7z"/>
<path class="s f6" d="M1029 233l-7-11-7-12-11 7 7 12 6 11z"/>
<path class="s f5" d="M1015 210l-7-11-11 7 7 11z"/>
<path class="s f4" d="M1008 199l-6-11-7-11-2-3 4-2-9-5-8-4-1 10-1 9 4-2 2 3 6 12 7 11z"/>
<path class="s f4" d="M1013 178l2 6 3 9 12-4-3-9-2-6z"/>
<path class="s f5" d="M1018 193l4 9 3 10 11-5-3-9-3-9z"/>
<path class="s f6" d="M1025 212l4 8 3 9-3 1 0 1 9 5 7-3 2-10 0-1-4 2-3-8-4-9z"/>
<path class="s f7" d="M1038 236l6 4 1-7z"/>
<path class="s f3" d="M991 126l1 6 2 8 12-3-1-8-1-5z"/>
<path class="s f4" d="M994 140l1 9 2 8 0 8 1 5 13 0-1-6-1-9-1-9-2-9z"/>
<path class="s f5" d="M993 170l2 3 6 8 4 5 3-5 5-8 2-3z"/>
<path class="l k3" style="stroke-width:2" d="M1000 123c-3-3-12-14-16-16-5-1-9 4-12 9-3 6-8 19-7 25 0 7 10 12 12 14"/>
<path class="l k4" style="stroke-width:2" d="M1032 108c0 2 2 9 0 14-2 5-7 12-11 17-3 5-8 7-10 13-2 7 1 16-1 27-2 11-8 34-9 41"/>
<path class="l k5" style="stroke-width:2" d="M1063 131c0 1 4 2 3 6-1 4-5 12-10 18-5 6-15 15-18 18"/>
<path class="s f18" d="M1025 334l3-8 5-11-11-5-6 11-3 8z"/>
<path class="s f17" d="M1033 315l6-12 6-12-11-6-6 12-6 13z"/>
<path class="s f16" d="M1045 291l8-12-11-7-8 13z"/>
<path class="s f15" d="M1053 279l8-13-11-7-8 13z"/>
<path class="s f14" d="M1061 266l8-13-11-7-8 13z"/>
<path class="s f13" d="M1069 253l5-8-11-7-5 8z"/>
<path class="s f11" d="M1109 217l-7 2 1 4 7-3z"/>
<path class="s f10" d="M1102 219l-11 3-12 4 3 7 11-5 10-5z"/>
<path class="s f9" d="M1079 226l-12 5-10 8-11 8 10 9 8-9 8-8 10-6z"/>
<path class="s f10" d="M1046 247l-9 10-8 9 9 9 9-9 9-10z"/>
<path class="s f11" d="M1029 266l-9 9 9 9 9-9z"/>
<path class="s f12" d="M1020 275l-9 10 9 9 9-10z"/>
<path class="s f13" d="M1011 285l-3 3-3-3-1 9 8 8 9-3-3-3 2-2z"/>
<path class="s f14" d="M1004 294l-2 10 10-2z"/>
<path class="l k14" style="stroke-width:2" d="M1074 245c1 3 7 11 5 16-2 6-15 12-17 16-1 5 4 9 8 12"/>
<path class="l k15" style="stroke-width:2" d="M1070 289c5 3 15 3 18 7"/>
<path class="l k16" style="stroke-width:2" d="M1088 296c4 4 3 15 5 20"/>
<path class="l k17" style="stroke-width:2" d="M1093 316c3 4 10 3 11 7"/>
<path class="l k18" style="stroke-width:2" d="M1104 323c1 4-1 10-4 16"/>
<path class="l k19" style="stroke-width:2" d="M1100 339c-4 6-10 17-15 21-5 4-10 6-15 6-4 1-11-3-13-3"/>
<path class="l k19" style="stroke-width:2" d="M1020 331c-2 2-6 9-7 13-2 5-4 11-2 15 3 4 9 9 14 10 6 1 14-2 19-5 4-2 5-5 7-11 2-5 3-18 3-22"/>
<path class="l k9" style="stroke-width:2" d="M968 310c1 3 4 10 4 17"/>
<path class="l k10" style="stroke-width:2" d="M972 327c-1 6-7 15-7 22"/>
<path class="l k11" style="stroke-width:2" d="M965 349c0 7 4 12 7 20"/>
<path class="l k10" style="stroke-width:2" d="M972 369c2 7 6 19 8 26 2 6 1 8 4 14"/>
<path class="l k8" style="stroke-width:2" d="M984 409c2 5 9 17 12 17"/>
<path class="l k6" style="stroke-width:2" d="M996 426c3 0 3-12 4-18"/>
<path class="l k7" style="stroke-width:2" d="M1000 408c1-6 0-12 2-16"/>
<path class="l k9" style="stroke-width:2" d="M1002 392c2-5 9-10 10-12"/>
<path class="l k15" style="stroke-width:2" d="M985 326c-2 2-7 7-11 12"/>
<path class="l k14" style="stroke-width:2" d="M974 338c-3 5-10 14-12 18"/>
<path class="l k13" style="stroke-width:2" d="M962 356c-2 5-2 7 1 10"/>
<path class="l k12" style="stroke-width:2" d="M963 366c3 4 12 10 17 12"/>
<path class="l k11" style="stroke-width:2" d="M980 378c4 3 8 4 12 3"/>
<path class="l k10" style="stroke-width:2" d="M992 381c4-2 9-11 10-13"/>
<path class="l k15" style="stroke-width:2" d="M1004 314c-1 3-5 16-7 21"/>
<path class="l k16" style="stroke-width:2" d="M997 335c-1 6-3 6-1 11"/>
<path class="l k15" style="stroke-width:2" d="M996 346c2 4 12 11 14 16"/>
<path class="l k14" style="stroke-width:2" d="M1010 362c2 5 1 9-1 14"/>
<path class="l k13" style="stroke-width:2" d="M1009 376c-2 5-8 12-10 14"/>
<path class="l k17" style="stroke-width:2" d="M1056 333c2 1 6 5 10 9"/>
<path class="l k15" style="stroke-width:2" d="M1066 342c4 4 12 12 13 16"/>
<path class="l k14" style="stroke-width:2" d="M1079 358c1 5-2 10-6 13"/>
<path class="l k13" style="stroke-width:2" d="M1073 371c-4 3-13 5-18 7"/>
<path class="l k12" style="stroke-width:2" d="M1055 378c-5 3-7 9-11 6-4-2-10-18-12-22"/>
<path class="l k11" style="stroke-width:2" d="M1064 177c1-1 4-5 7-6 4-1 10-3 14-1 4 3 7 13 10 17"/>
<path class="l k12" style="stroke-width:2" d="M1095 187c3 5 7 6 7 11"/>
<path class="l k11" style="stroke-width:2" d="M1102 198c1 6 0 15-2 21"/>
<path class="l k10" style="stroke-width:2" d="M1100 219c-2 5-8 10-8 14 0 4 3 6 8 8"/>
<path class="l k11" style="stroke-width:2" d="M1100 241c5 2 16 5 20 3"/>
<path class="l k10" style="stroke-width:2" d="M1120 244c4-3 5-11 5-16 0-5-1-14-5-16"/>
<path class="l k9" style="stroke-width:2" d="M1120 212c-4-2-12 2-17 4"/>
<path class="l k10" style="stroke-width:2" d="M1103 216c-5 1-10 5-12 6"/>
<path class="l k9" style="stroke-width:2" d="M1078 204c2-1 10-8 15-10"/>
<path class="l k8" style="stroke-width:2" d="M1093 194c5-2 13-5 16-4 4 1 4 4 4 9"/>
<path class="l k7" style="stroke-width:2" d="M1113 199c1 5-1 16-2 21"/>
<path class="l k6" style="stroke-width:2" d="M1111 220c-2 4-6 5-5 7 1 2 9 2 10 2"/>
<path class="l k5" style="stroke-width:2" d="M1017 131c2 2 10 8 14 15"/>
<path class="l k7" style="stroke-width:2" d="M1031 146c3 6 6 18 8 24"/>
<path class="l k10" style="stroke-width:2" d="M1039 170c1 6 1 11 1 13"/>
<path class="s f3" d="M903 228l4 6 10-9-4-5z"/>
<path class="s f4" d="M907 234l7 7 6 9 7 9 11-6-7-11-7-9-7-8z"/>
<path class="s f5" d="M927 259l7 13 7 14 12-5-8-15-7-13z"/>
<path class="s f6" d="M941 286l4 9-3 2 5 4 11 6 2-13 1-6-4 2-4-9z"/>
<path class="s f4" d="M926 244l4 4 9-11-5-3z"/>
<path class="s f5" d="M930 248l7 5 8 6 8-10-7-6-7-6z"/>
<path class="s f6" d="M945 259l6 6 9-10-7-6z"/>
<path class="s f7" d="M951 265l6 5 9-9-6-6z"/>
<path class="s f8" d="M957 270l5 6 10-9-6-6z"/>
<path class="s f9" d="M962 276l5 5 10-7-5-7z"/>
<path class="s f10" d="M967 281l4 6 2 6 13-5-4-8-5-6z"/>
<path class="s f11" d="M973 293l1 2 13-4-1-3z"/>
<path class="s f12" d="M970 296l4 4 6 5 6-2 3-7 2-6z"/>
<path class="s f13" d="M980 305l4 4 2-6z"/>
<path class="l k4" style="stroke-width:2" d="M878 238c3-2 12-9 18-11 5-3 13-3 15-4"/>
<path class="s f6" d="M1008 240l-4-6-11 7 5 6z"/>
<path class="s f5" d="M1004 234l-6-9-11 7 6 9z"/>
<path class="s f4" d="M998 225l-8-11-10 8 7 10z"/>
<path class="s f3" d="M990 214l-8-10-10-9-9 10 10 8 7 9z"/>
<path class="s f2" d="M972 195l-11-9-5-4 3-3-9-1-11-1 4 11 3 8 2-4 5 4 10 9z"/>
<path class="s f2" d="M970 185l6 6 9-8-6-6z"/>
<path class="s f3" d="M976 191l7 9 8 9 7 8 10-7-7-9-9-9-7-9z"/>
<path class="s f4" d="M998 217l6 7 2 4 10-7-3-4-5-7z"/>
<path class="s f5" d="M1003 230l4 2 7 3 6 2 0-6 0-8-1-4z"/>
<path class="s f1" d="M942 139l3 3 3 5 11-7-4-5-2-4z"/>
<path class="s f2" d="M948 147l4 6 3 6 4 9 12-5-4-9-4-8-4-6z"/>
<path class="s f3" d="M959 168l4 11 1 2-4 2 8 6 7 5 2-8 3-11-4 2-1-2-4-12z"/>
<path class="l k1" style="stroke-width:2" d="M943 136c-2-1-6-7-10-7-3 1-9 5-10 10-2 4 0 10 2 15 1 6 7 15 8 18"/>
<path class="l k2" style="stroke-width:2" d="M978 113c1 2 4 9 4 14 0 5-4 10-6 16-2 5-4 10-5 18-1 7-1 14-1 26 0 11 2 36 2 43"/>
<path class="l k3" style="stroke-width:2" d="M1012 130c0 1 4 1 4 6 0 5-1 16-3 22-2 7-8 16-9 19"/>
<path class="s f18" d="M1020 334l3-9 4-13-12-4-5 13-2 9z"/>
<path class="s f17" d="M1027 312l5-14 4-14-13-4-4 14-4 14z"/>
<path class="s f16" d="M1036 284l4-14-12-4-5 14z"/>
<path class="s f15" d="M1040 270l4-15-12-4-4 15z"/>
<path class="s f13" d="M1044 255l4-13-12-4-4 13z"/>
<path class="s f12" d="M1048 242l3-10-13-3-2 9z"/>
<path class="s f10" d="M1072 203l-6 4 3 3 5-5z"/>
<path class="s f9" d="M1066 207l-7 6-8 7 5 5 7-9 6-6z"/>
<path class="s f8" d="M1051 220l-9 7-8 8-10 8 9 9 8-10 8-9 7-8z"/>
<path class="s f9" d="M1024 243l-9 10-8 11 11 7 7-10 8-9z"/>
<path class="s f10" d="M1007 264l-6 11 11 6 6-10z"/>
<path class="s f11" d="M1001 275l-6 12 11 6 6-12z"/>
<path class="s f12" d="M995 287l-2 4-4-2 2 10 10 4 8-5-4-2 1-3z"/>
<path class="s f13" d="M991 299l1 9 9-5z"/>
<path class="l k13" style="stroke-width:2" d="M1045 233c2 2 9 7 10 13 1 5-5 14-5 20"/>
<path class="l k14" style="stroke-width:2" d="M1050 266c-1 5-2 13 2 15 4 1 16-8 21-5"/>
<path class="l k15" style="stroke-width:2" d="M1073 276c4 3 4 17 7 21"/>
<path class="l k17" style="stroke-width:2" d="M1080 297c4 5 11 0 13 4"/>
<path class="l k18" style="stroke-width:2" d="M1093 301c3 5 3 16 1 23"/>
<path class="l k19" style="stroke-width:2" d="M1094 324c-2 7-8 14-12 18-4 4-8 5-12 6-4 1-11-1-14-1"/>
<path class="l k19" style="stroke-width:2" d="M1019 330c-1 2-10 12-11 16-1 5 3 8 6 11 4 3 9 6 15 6 6-1 15-4 18-8 4-4 3-11 3-17 0-6-2-17-2-21"/>
</g>
<g filter="url(#rim)">
<path class="l k12" style="stroke-width:2" d="M951 561c1-2 3-11 7-14"/>
<path class="l k13" style="stroke-width:2" d="M958 547c3-4 9-6 14-6 4 1 9 6 12 9"/>
<path class="l k15" style="stroke-width:2" d="M984 550c3 3 0 8 4 10"/>
<path class="l k16" style="stroke-width:2" d="M988 560c5 2 17 0 21 2"/>
<path class="l k17" style="stroke-width:2" d="M1009 562c3 2 2 7 2 11 0 5-4 11-2 17"/>
<path class="l k18" style="stroke-width:2" d="M1009 590c1 5 11 10 13 15 2 6 0 15 1 18"/>
<path class="l k14" style="stroke-width:2" d="M1027 639c2 1 7 3 9 4 3 2 5 4 6 5"/>
<path class="s f18" d="M973 589l4 7 5 11 6 12 7 12 10-7-6-10-6-12-5-11-4-8z"/>
<path class="s f17" d="M995 631l7 10 7 9 9-8-7-9-6-9z"/>
<path class="s f16" d="M1009 650l7 9 7 9 10-6-7-11-8-9z"/>
<path class="s f15" d="M1023 668l7 12 10-6-7-12z"/>
<path class="s f14" d="M1030 680l7 13 10-5-7-14z"/>
<path class="s f13" d="M1037 693l3 8-3 1 5 4 12-6 0-7-3 2-4-7z"/>
<path class="s f12" d="M1042 706l10 5 2-11z"/>
<path class="s f12" d="M958 615l4 10 5 14 6 15 10-4-5-15-6-14-3-10z"/>
<path class="s f13" d="M973 654l5 12 5 8 4 5 8-8-3-3-4-6-5-12z"/>
<path class="s f14" d="M987 679l3 3 4 5 5 7 9-6-5-8-5-5-3-4z"/>
<path class="s f13" d="M999 694l6 9 9-6-6-9z"/>
<path class="s f12" d="M1005 703l2 3-3 2 8 3 7-5 0-9-3 2-2-2z"/>
<path class="s f11" d="M1012 711l8 3-1-8z"/>
<path class="s f18" d="M1081 667l1 6 2 8 2 9 2 8 1 9 1 9 1 8 0 5 8 0 0-6-1-8-1-9-1-9-2-9-2-9-2-8-1-6z"/>
<path class="s f16" d="M1110 576l-5 8 10 7 5-8z"/>
<path class="s f17" d="M1105 584l-7 11-8 13 11 6 7-13 7-10z"/>
<path class="s f18" d="M1090 608l-6 13-6 12-5 14-4 13-4 13 12 3 4-13 4-13 4-12 5-12 7-12z"/>
<path class="s f17" d="M1065 673l-4 14 12 3 4-14z"/>
<path class="s f16" d="M1061 687l-3 16 12 2 3-15z"/>
<path class="s f14" d="M1058 703l-2 8-4-1 3 6 12 3 5-5-4-1 2-8z"/>
<path class="s f13" d="M1055 716l4 11 8-8z"/>
<path class="s f17" d="M1070 643l0 8 0 11 0 13 0 12 13-1 0-12 0-12 0-11 0-8z"/>
<path class="s f16" d="M1070 687l2 13 13-2-2-12z"/>
<path class="s f15" d="M1072 700l2 14 13-2-2-14z"/>
<path class="s f14" d="M1074 714l0 4-4 1 6 7 11-2 4-8-4 0 0-4z"/>
<path class="s f13" d="M1076 726l7 7 4-9z"/>
<path class="s f11" d="M1083 638l-3-8-4-12-12 3 4 12 3 9z"/>
<path class="s f10" d="M1076 618l-4-14-3-14-12 3 3 14 4 14z"/>
<path class="s f9" d="M1069 590l-3-15-12 2 3 16z"/>
<path class="s f8" d="M1066 575l-2-17-1-11 4-1-3-3-14 1-3 4 4 0 1 12 2 17z"/>
<path class="s f7" d="M1064 543l-8-11-6 12z"/>
<path class="s f3" d="M1085 533l-1 4 12 2 1-5z"/>
<path class="s f4" d="M1084 537l0 7-1 8 12 1 0-7 1-7z"/>
<path class="s f5" d="M1083 552l-1 8 12 1 1-8z"/>
<path class="s f6" d="M1082 560l0 7 12 1 0-7z"/>
<path class="s f7" d="M1082 567l0 8 12 0 0-7z"/>
<path class="s f8" d="M1082 575l0 7 12 0 0-7z"/>
<path class="s f9" d="M1082 582l0 5 12 0 0-5z"/>
<path class="l k13" style="stroke-width:2" d="M1051 671c1 0 2 3 4 5 3 1 9 3 11 3"/>
<path class="s f11" d="M1129 584l-8 2 4 11 8-3z"/>
<path class="s f12" d="M1121 586l-11 4-13 5 4 10 13-4 11-4z"/>
<path class="s f13" d="M1097 595l-12 6-9 7-9 8-8 8 8 8 8-8 8-7 8-6 10-6z"/>
<path class="s f12" d="M1059 624l-7 8-7 10 9 6 7-9 6-7z"/>
<path class="s f11" d="M1045 642l-7 10-5 9 9 6 6-9 6-10z"/>
<path class="s f10" d="M1033 661l-4 6 9 6 4-6z"/>
<path class="l k15" style="stroke-width:2" d="M1112 580c0-3 2-13 2-18"/>
<path class="l k14" style="stroke-width:2" d="M1114 562c0-4-3-7-1-10 2-2 8-6 11-6 4-1 10-2 11 2"/>
<path class="l k13" style="stroke-width:2" d="M1135 548c1 3-2 14-2 19-1 5-2 8-1 12 0 5 1 13 4 14 3 1 8-6 12-8"/>
<path class="l k14" style="stroke-width:2" d="M1148 585c3-3 9-6 11-5 2 1 4 7 2 9-3 2-14 3-16 4"/>
<path class="s f3" d="M938 553l4 8 5 12 5 13 9-3-6-14-5-12-4-8z"/>
<path class="s f4" d="M952 586l4 13 9-2-4-14z"/>
<path class="s f5" d="M956 599l2 13 9-1-2-14z"/>
<path class="s f6" d="M958 612l0 14 9-1 0-14z"/>
<path class="s f7" d="M958 626l1 14 9-1-1-14z"/>
<path class="s f8" d="M959 640l0 13 2 14 9-2-2-13 0-13z"/>
<path class="s f7" d="M961 667l2 13 9-2-2-13z"/>
<path class="s f6" d="M963 680l2 11 9-1-2-12z"/>
<path class="s f5" d="M965 691l1 8 9-1-1-8z"/>
<path class="s f4" d="M1037 560l0 7 13 1 0-8z"/>
<path class="s f5" d="M1037 567l0 11-1 11-2 11-5 12-6 12-7 13-9 14-11 17 10 8 12-18 9-15 8-13 6-13 5-13 3-13 1-13 0-10z"/>
<path class="s f4" d="M996 668l-14 20 10 8 14-20z"/>
<path class="s f3" d="M982 688l-14 18 11 8 13-18z"/>
<path class="s f2" d="M968 706l-9 13 11 8 9-13z"/>
<path class="s f2" d="M1041 524l-4 9-7 13 11 6 7-14 4-9z"/>
<path class="s f3" d="M1030 546l-7 16-8 15-9 15-10 16-10 16 11 6 10-16 9-16 9-15 8-16 8-15z"/>
<path class="s f2" d="M986 624l-9 17-11 20-11 21-10 19-4-2 2 18 16-8-4-2 10-19 12-22 10-19 10-17z"/>
<path class="l k0" style="stroke-width:2" d="M1089 528c-2-1-10-3-13-6-3-3-5-8-5-13 0-4 7-10 6-13 0-3-4-4-8-5-4-1-11-3-16-1-4 1-10 6-12 11-1 4 1 14 2 18 2 4 6 5 8 6"/>
<path class="l k0" style="stroke-width:2" d="M1034 515c1-2 2-8 5-12 4-4 9-9 15-13 7-4 17-7 24-11 7-4 13-10 18-13 5-4 9-8 13-8 3 0 7 6 7 10 0 5-5 15-8 17-4 1-9-5-12-6-3-2-7-2-8-2"/>
<path class="l k2" style="stroke-width:2" d="M943 550c0-3-1-12 0-18 1-6 2-15 6-19 4-4 12-3 18-3 5 0 11 2 15 5 3 3 6 9 5 13-1 5-6 8-9 14-3 6-8 17-10 23-2 6-3 11-3 13"/>
<path class="l k5" style="stroke-width:2" d="M962 724c2 0 9 4 15 4"/>
<path class="l k6" style="stroke-width:2" d="M977 728c5 0 12-4 17-5 5 0 10 1 12 1"/>
<path class="l k10" style="stroke-width:2" d="M1021 729c3-2 10-13 15-15 4-2 10 2 12 3"/>
<path class="l k10" style="stroke-width:2" d="M1084 738c0 3 1 10 3 14 2 4 8 8 9 10"/>
<path class="l k10" style="stroke-width:2" d="M1093 732c-3 2-11 7-13 11-2 5 4 12 1 17"/>
<path class="l k8" style="stroke-width:2" d="M1081 760c-2 6-10 12-16 17"/>
<path class="l k7" style="stroke-width:2" d="M1065 777c-6 4-14 9-19 10"/>
<path class="l k6" style="stroke-width:2" d="M1046 787c-4 0-7-2-10-7"/>
<path class="l k5" style="stroke-width:2" d="M1036 780c-4-4-8-12-9-18"/>
<path class="l k6" style="stroke-width:2" d="M1027 762c-1-6 4-15 4-18"/>
<path class="l k9" style="stroke-width:2" d="M1052 721c-1 2-3 9-6 13"/>
<path class="l k8" style="stroke-width:2" d="M1046 734c-3 5-7 12-12 16"/>
<path class="l k6" style="stroke-width:2" d="M1034 750c-4 4-11 4-17 8"/>
<path class="l k5" style="stroke-width:2" d="M1017 758c-5 3-13 9-18 13"/>
<path class="l k4" style="stroke-width:2" d="M999 771c-5 4-11 9-14 11"/>
<path class="l k6" style="stroke-width:9" d="M1003 750c1 2 3 9 6 9 3 0 10-4 12-8"/>
<path class="l k7" style="stroke-width:9" d="M1021 751c2-4 1-14-1-18"/>
<path class="l k6" style="stroke-width:9" d="M1020 733c-2-5-10-9-12-10"/>
<path class="l k1" style="stroke-width:2" d="M942 713c0 1 1 10-1 11-2 2-7-3-10-2-3 1-8 5-9 7-1 3 3 7 3 8"/>
<path class="l k1" style="stroke-width:2" d="M956 750c1-2 5-10 7-14 1-5-1-10-1-12"/>
<path class="l k0" style="stroke-width:10" d="M915 742c2 3 5 12 9 15 4 2 12 3 17 2 5-1 12-6 15-8"/>
<path class="l k13" style="stroke-width:2" d="M956 558c1-2 3-8 6-10"/>
<path class="l k14" style="stroke-width:2" d="M962 548c4-2 9-2 13-2"/>
<path class="l k15" style="stroke-width:2" d="M975 546c4 0 9-1 12 1"/>
<path class="l k16" style="stroke-width:2" d="M987 547c3 2-1 11 4 13"/>
<path class="l k18" style="stroke-width:2" d="M991 560c4 3 19 0 23 2 4 2 2 5 1 10"/>
<path class="l k19" style="stroke-width:2" d="M1015 572c0 4-4 11-2 17"/>
<path class="l k20" style="stroke-width:2" d="M1013 589c2 5 10 11 12 16 2 5 2 12 2 15"/>
<path class="l k16" style="stroke-width:2" d="M1030 641c1 1 7 5 9 6 3 2 5 3 6 3"/>
<path class="s f20" d="M974 586l5 8 6 12 7 13 7 11 10-5-6-12-7-13-7-12-4-8z"/>
<path class="s f19" d="M999 630l5 11 5 10 10-6-4-10-6-10z"/>
<path class="s f18" d="M1009 651l5 10 6 10 10-6-6-10-5-10z"/>
<path class="s f17" d="M1020 671l8 12 10-7-8-11z"/>
<path class="s f16" d="M1028 683l10 12 9-7-9-12z"/>
<path class="s f15" d="M1038 695l5 7 10-7-6-7z"/>
<path class="s f14" d="M1040 705l6 1 10-8 0-6z"/>
<path class="s f13" d="M1046 706l12 4-2-12z"/>
<path class="s f13" d="M965 615l2 9 3 14 11-2-3-14-2-9z"/>
<path class="s f14" d="M970 638l4 15 4 12 10-4-4-11-3-14z"/>
<path class="s f15" d="M978 665l5 8 5 6 4 5 5 5 4 8 10-5-5-9-5-6-5-5-4-5-4-6z"/>
<path class="s f14" d="M1001 697l5 9 9-5-4-9z"/>
<path class="s f13" d="M1006 706l0 2-3 1 8 5 7-4 2-9-4 2-1-2z"/>
<path class="s f12" d="M1011 714l6 4 1-8z"/>
<path class="s f20" d="M1085 670l1 6 2 8 3 8 1 9 1 9 1 10 0 8 1 7 8-1-1-6 0-9-1-10-1-9-2-9-2-10-2-7-2-6z"/>
<path class="s f18" d="M1118 579l-6 7 10 7 5-7z"/>
<path class="s f19" d="M1112 586l-7 9-9 12 10 7 8-11 8-10z"/>
<path class="s f20" d="M1096 607l-7 13-6 14-6 16-5 15-4 15 11 3 4-14 5-15 6-15 5-13 7-12z"/>
<path class="s f19" d="M1068 680l-4 14 12 3 3-14z"/>
<path class="s f17" d="M1064 694l-3 13 12 3 3-13z"/>
<path class="s f16" d="M1061 707l-1 5 12 3 1-5z"/>
<path class="s f15" d="M1056 712l3 7 11 2 6-5z"/>
<path class="s f14" d="M1059 719l4 9 7-7z"/>
<path class="s f19" d="M1073 646l-1 8 0 11 0 12 1 13 12-1 0-12 0-12 0-11 1-7z"/>
<path class="s f18" d="M1073 690l1 14 13-1-2-14z"/>
<path class="s f17" d="M1074 704l3 16 13-2-3-15z"/>
<path class="s f16" d="M1077 720l1 7 13-2-1-7z"/>
<path class="s f15" d="M1074 728l5 5 8 9 5-11 3-7z"/>
<path class="s f12" d="M1085 640l-2-8-2-12-12 3 3 11 1 8z"/>
<path class="s f11" d="M1081 620l-3-13-3-14-12 2 3 14 3 14z"/>
<path class="s f10" d="M1075 593l-2-16-12 2 2 16z"/>
<path class="s f9" d="M1073 577l-2-19-1-14-12 1 1 15 2 19z"/>
<path class="s f8" d="M1073 544l-2-3-9-11-7 13-1 3z"/>
<path class="s f4" d="M1093 531l0 5 1 7 12-1-1-7 0-4z"/>
<path class="s f5" d="M1094 543l0 7-1 7 12 2 1-8 0-9z"/>
<path class="s f6" d="M1093 557l-1 8 11 3 2-9z"/>
<path class="s f7" d="M1092 565l-3 9 12 3 2-9z"/>
<path class="s f9" d="M1089 574l-2 8 11 3 3-8z"/>
<path class="s f10" d="M1087 582l-2 5 12 4 1-6z"/>
<path class="l k14" style="stroke-width:2" d="M1056 671c1 1 1 3 3 4 1 2 7 4 8 5"/>
<path class="s f12" d="M1135 592l-8 1 2 11 8-2z"/>
<path class="s f13" d="M1127 593l-12 3 2 10 12-2z"/>
<path class="s f14" d="M1115 596l-13 3 3 11 12-4z"/>
<path class="s f15" d="M1102 599l-13 5-10 6 7 9 8-5 11-4z"/>
<path class="s f14" d="M1079 610l-9 7-8 9-8 8 9 7 7-8 7-7 9-7z"/>
<path class="s f13" d="M1054 634l-6 10 9 6 6-9z"/>
<path class="s f12" d="M1048 644l-6 11-5 9 10 5 5-9 5-10z"/>
<path class="s f11" d="M1037 664l-3 7 10 5 3-7z"/>
<path class="l k16" style="stroke-width:2" d="M1121 580c0-3 2-11 1-16 0-5-6-9-4-12 1-3 9-7 14-6"/>
<path class="l k15" style="stroke-width:2" d="M1132 546c4 0 10 4 11 8 1 3-4 9-5 13"/>
<path class="l k14" style="stroke-width:2" d="M1138 567c-1 5-1 9 0 14"/>
<path class="l k15" style="stroke-width:2" d="M1138 581c2 5 4 13 8 15 3 1 9-3 12-6 3-2 5-8 6-8 1 0 2 5-1 8-2 2-11 6-13 7"/>
<path class="s f3" d="M941 554l4 9 5 12 8-4-5-12-4-8z"/>
<path class="s f4" d="M950 575l5 13 4 13 9-2-5-14-5-14z"/>
<path class="s f5" d="M959 601l2 14 9-1-2-15z"/>
<path class="s f6" d="M961 615l1 14 9 0-1-15z"/>
<path class="s f8" d="M962 629l0 15 9-1 0-14z"/>
<path class="s f9" d="M962 644l1 13 1 12 9 0-1-13-1-13z"/>
<path class="s f8" d="M964 669l1 12 9-1-1-11z"/>
<path class="s f7" d="M965 681l1 10 9-1-1-10z"/>
<path class="s f6" d="M966 691l0 7 9-1 0-7z"/>
<path class="s f5" d="M1041 556l0 9 2 11 0 13 13 1 0-14-2-12 0-9z"/>
<path class="s f6" d="M1043 589l-2 12-5 12-8 12-9 13-10 15 10 7 11-14 9-14 8-13 6-14 3-15z"/>
<path class="s f5" d="M1009 653l-13 17 11 8 12-18z"/>
<path class="s f4" d="M996 670l-15 20 11 8 15-20z"/>
<path class="s f3" d="M981 690l-14 18 11 8 14-18z"/>
<path class="s f2" d="M967 708l-9 12 10 8 10-12z"/>
<path class="s f2" d="M1051 521l-6 11 11 5 5-10z"/>
<path class="s f3" d="M1045 532l-8 14-9 17-9 16-9 15-9 16-9 15-10 17 11 6 9-16 10-16 9-16 8-15 10-16 9-17 8-15z"/>
<path class="s f2" d="M982 642l-10 19-12 21-10 18-4-2 2 18 15-8-3-2 10-19 12-20 11-19z"/>
<path class="l k0" style="stroke-width:2" d="M1096 528c-2-1-10-2-12-6-3-3-5-10-5-14 0-4 6-8 5-11 0-4-4-9-8-9-4-1-11 2-16 4-5 2-11 4-12 8-2 5 0 14 2 17 2 4 7 4 8 4"/>
<path class="l k0" style="stroke-width:2" d="M1040 515c2-3 4-13 8-17 3-5 6-5 12-9 6-3 17-8 24-13 7-4 14-10 20-13 6-3 12-7 16-6 3 1 8 7 7 12 0 4-6 12-10 14-5 2-13 0-17-2-3-2-3-7-4-8"/>
<path class="l k2" style="stroke-width:2" d="M944 550c0-3-2-13 0-19 1-7 5-15 9-19 5-5 12-8 18-7 5 0 10 5 14 10 4 4 9 10 8 15 0 5-7 7-10 13-3 7-6 17-8 23-3 7-7 13-9 15"/>
<path class="l k6" style="stroke-width:2" d="M963 725c2 1 7 7 12 7 6 1 16-4 21-5"/>
<path class="l k7" style="stroke-width:2" d="M996 727c6-1 11 1 13 1"/>
<path class="l k10" style="stroke-width:2" d="M1023 729c2-2 11-10 16-11 4-2 10 2 13 3"/>
<path class="l k12" style="stroke-width:2" d="M1083 745c1 2 4 8 6 12 3 3 7 8 8 10"/>
<path class="l k11" style="stroke-width:2" d="M1097 733c-2 3-10 13-13 17-2 4 1 4-2 9"/>
<path class="l k9" style="stroke-width:2" d="M1082 759c-4 5-12 16-17 21"/>
<path class="l k8" style="stroke-width:2" d="M1065 780c-6 5-12 9-17 10"/>
<path class="l k6" style="stroke-width:2" d="M1048 790c-4 0-7-2-10-6-4-4-8-12-10-18-1-7 1-16 1-19"/>
<path class="l k10" style="stroke-width:2" d="M1054 724c0 3 1 11-2 16"/>
<path class="l k9" style="stroke-width:2" d="M1052 740c-3 5-9 10-15 14"/>
<path class="l k7" style="stroke-width:2" d="M1037 754c-5 3-12 5-19 9"/>
<path class="l k5" style="stroke-width:2" d="M1018 763c-6 3-12 7-18 11-5 4-11 11-14 13"/>
<path class="l k6" style="stroke-width:9" d="M1001 756c1 1 6 7 10 7"/>
<path class="l k7" style="stroke-width:9" d="M1011 763c5 0 14-3 16-8 1-4-2-14-6-19-3-4-11-8-13-9"/>
<path class="l k1" style="stroke-width:2" d="M946 717c-1 1 0 8-2 9-2 1-7-6-11-5-4 1-11 6-12 9-2 3 3 8 3 10"/>
<path class="l k2" style="stroke-width:2" d="M955 753c1-2 4-8 5-13 1-6 3-16 3-19"/>
<path class="l k0" style="stroke-width:10" d="M913 745c2 2 7 9 12 11 4 3 10 5 15 4 6 0 16-4 19-5"/>
<path class="l k12" style="stroke-width:2" d="M949 562c1-2 1-9 4-12"/>
<path class="l k13" style="stroke-width:2" d="M953 550c3-3 10-5 14-5"/>
<path class="l k14" style="stroke-width:2" d="M967 545c4 0 7 3 10 5"/>
<path class="l k15" style="stroke-width:2" d="M977 550c2 3 1 9 6 11"/>
<path class="l k16" style="stroke-width:2" d="M983 561c4 1 17-2 21 0"/>
<path class="l k17" style="stroke-width:2" d="M1004 561c4 3 5 8 5 12 0 5-4 12-3 17"/>
<path class="l k18" style="stroke-width:2" d="M1006 590c2 5 8 10 11 15 2 5 3 11 3 13"/>
<path class="l k14" style="stroke-width:2" d="M1026 637c1 1 6 2 7 4 2 2 4 6 5 7"/>
<path class="s f18" d="M966 586l4 8 7 10 7 12 7 11 10-6-7-11-7-12-7-11-4-7z"/>
<path class="s f17" d="M991 627l7 11 6 11 7 10 10-6-6-11-7-10-7-11z"/>
<path class="s f16" d="M1011 659l7 11 10-7-7-10z"/>
<path class="s f15" d="M1018 670l7 11 10-6-7-12z"/>
<path class="s f14" d="M1025 681l9 12 4 5 9-7-3-5-9-11z"/>
<path class="s f13" d="M1034 701l7 2 10-6-1-8z"/>
<path class="s f12" d="M1041 703l10 4 0-10z"/>
<path class="s f12" d="M958 616l3 9 4 14 11-4-5-13-3-9z"/>
<path class="s f13" d="M965 639l5 14 5 12 10-5-5-11-4-14z"/>
<path class="s f14" d="M975 665l5 8 4 7 5 5 4 5 6 7 8-7-5-7-5-5-4-5-4-6-4-7z"/>
<path class="s f13" d="M999 697l5 7 1 1 8-7 0-1-6-7z"/>
<path class="s f12" d="M1002 707l9 3 6-5-1-9z"/>
<path class="s f11" d="M1011 710l7 2-1-7z"/>
<path class="s f18" d="M1080 664l1 6 2 9 2 10 2 8 2 8 1 7 2 7 1 5 8-2-1-5-2-6-2-8-1-8-2-8-2-10-2-8-2-6z"/>
<path class="s f16" d="M1103 574l-4 7 11 6 4-8z"/>
<path class="s f17" d="M1099 581l-6 12 10 5 7-11z"/>
<path class="s f18" d="M1093 593l-7 12-6 14-5 13-5 14-4 14-4 13 12 3 4-13 4-14 4-13 5-13 6-12 6-13z"/>
<path class="s f17" d="M1062 673l-3 14 11 2 4-13z"/>
<path class="s f16" d="M1059 687l-4 13 12 3 3-14z"/>
<path class="s f15" d="M1055 700l-1 7 12 2 1-6z"/>
<path class="s f14" d="M1050 706l3 7 11 2 5-5z"/>
<path class="s f13" d="M1053 713l3 10 8-8z"/>
<path class="s f18" d="M1068 641l-1 8 13 0 1-7z"/>
<path class="s f17" d="M1067 649l0 11 0 13 1 12 13-1-1-12 0-12 0-11z"/>
<path class="s f16" d="M1068 685l1 13 13-1-1-13z"/>
<path class="s f15" d="M1069 698l3 15 0 5 13-2-1-6-2-13z"/>
<path class="s f14" d="M1068 719l6 6 12-2 3-8z"/>
<path class="s f13" d="M1074 725l8 8 4-10z"/>
<path class="s f11" d="M1080 635l-3-8-3-12-4-13-11 3 3 14 4 11 2 9z"/>
<path class="s f10" d="M1070 602l-3-14-3-15-12 2 3 16 4 14z"/>
<path class="s f9" d="M1064 573l-2-17-12 2 2 17z"/>
<path class="s f8" d="M1062 556l-2-12 4 0-3-4-9-10-6 12-2 5 4-1 2 12z"/>
<path class="s f4" d="M1078 529l0 4 12 0 0-4z"/>
<path class="s f5" d="M1078 533l0 6 0 7 12 0 0-7 0-6z"/>
<path class="s f6" d="M1078 546l0 7-1 8 11 1 2-8 0-8z"/>
<path class="s f7" d="M1077 561l-2 9 12 2 1-10z"/>
<path class="s f8" d="M1075 570l-2 8 12 3 2-9z"/>
<path class="s f9" d="M1073 578l-1 6 12 3 1-6z"/>
<path class="l k13" style="stroke-width:2" d="M1049 668c1 1 4 4 7 5 3 2 8 4 9 5"/>
<path class="s f11" d="M1127 584l-9 2 2 11 10-3z"/>
<path class="s f12" d="M1118 586l-14 3 3 11 13-3z"/>
<path class="s f13" d="M1104 589l-15 4-12 6 5 9 11-4 14-4z"/>
<path class="s f14" d="M1077 599l-10 7 7 8 8-6z"/>
<path class="s f13" d="M1067 606l-8 8-6 9-6 9 9 5 6-8 6-8 6-7z"/>
<path class="s f12" d="M1047 632l-6 10-5 11 10 4 5-10 5-10z"/>
<path class="s f11" d="M1036 653l-4 9 10 5 4-10z"/>
<path class="s f10" d="M1032 662l-3 7 10 5 3-7z"/>
<path class="l k15" style="stroke-width:2" d="M1108 575c1-3 3-12 3-16 0-4-4-6-3-9"/>
<path class="l k14" style="stroke-width:2" d="M1108 550c2-3 10-7 14-8 4 0 11 2 12 5 1 4-5 13-6 17"/>
<path class="l k13" style="stroke-width:2" d="M1128 564c-1 5-2 7-1 12"/>
<path class="l k14" style="stroke-width:2" d="M1127 576c1 4 4 12 7 14 3 1 10-4 14-6 3-2 8-8 9-8 1 0 1 6-2 8-3 2-14 3-16 3"/>
<path class="s f3" d="M932 553l4 9 8-4-4-9z"/>
<path class="s f4" d="M936 562l6 13 7 14 8-3-6-15-7-13z"/>
<path class="s f5" d="M949 589l4 13 2 13 9-1-2-14-5-14z"/>
<path class="s f6" d="M955 615l1 14 9-1-1-14z"/>
<path class="s f8" d="M956 629l0 13 9 0 0-14z"/>
<path class="s f9" d="M956 642l1 13 1 13 9-1-1-13-1-12z"/>
<path class="s f8" d="M958 668l3 13 8-2-2-12z"/>
<path class="s f7" d="M961 681l2 11 8-2-2-11z"/>
<path class="s f6" d="M963 692l1 7 9-1-2-8z"/>
<path class="s f5" d="M1032 558l0 7 1 11 13 0-1-11 0-8z"/>
<path class="s f6" d="M1033 576l-1 12-2 11-5 11-7 13-8 13-10 15 11 7 10-15 9-14 7-13 6-13 2-14 1-13z"/>
<path class="s f5" d="M1000 651l-11 18-14 21 11 7 14-21 11-18z"/>
<path class="s f4" d="M975 690l-13 19 11 7 13-19z"/>
<path class="s f3" d="M962 709l-8 13 10 7 9-13z"/>
<path class="s f3" d="M1040 519l-5 10-7 14 11 5 7-14 5-9z"/>
<path class="s f4" d="M1028 543l-8 15-9 16-9 15-10 17-10 17 10 6 11-17 10-16 9-16 8-16 9-16z"/>
<path class="s f3" d="M982 623l-10 17-10 20-9 21-9 19-3-1 3 17 14-9 1 0-4-2 9-19 9-21 10-19 9-17z"/>
<path class="l k2" style="stroke-width:2" d="M1082 525c-2-1-8-2-10-5-3-2-5-8-6-12 0-4 4-9 4-13-1-3-2-7-5-8-4-1-12 1-16 3-5 2-10 7-12 11-1 4 1 10 3 13 2 4 7 7 9 8"/>
<path class="l k2" style="stroke-width:2" d="M1028 514c1-3 3-13 7-17 4-3 9-2 15-5 7-4 15-10 22-16 7-5 14-11 20-15 5-3 10-7 13-6 3 1 7 9 6 13 0 4-6 9-9 11-3 1-7 0-10-1-3-1-7-4-8-5"/>
<path class="l k3" style="stroke-width:2" d="M937 551c0-3-4-13-2-19 1-6 7-15 11-19 4-4 9-4 14-4 5 0 9 0 13 4 4 4 11 14 11 19 0 4-7 4-10 10-3 6-7 20-9 25-2 6-2 9-2 10"/>
<path class="l k6" style="stroke-width:2" d="M962 724c2 1 8 7 14 6"/>
<path class="l k7" style="stroke-width:2" d="M976 730c5 0 12-7 17-8 5-1 11 2 14 2"/>
<path class="l k10" style="stroke-width:2" d="M1021 726c2-2 10-10 14-12 4-2 9 1 11 1"/>
<path class="l k11" style="stroke-width:2" d="M1083 737c0 2 0 7 2 11 2 3 8 8 10 10"/>
<path class="l k11" style="stroke-width:2" d="M1094 730c-2 2-10 5-12 10"/>
<path class="l k10" style="stroke-width:2" d="M1082 740c-3 4 1 12-3 18"/>
<path class="l k9" style="stroke-width:2" d="M1079 758c-3 5-12 10-17 15"/>
<path class="l k7" style="stroke-width:2" d="M1062 773c-6 4-11 12-15 13"/>
<path class="l k6" style="stroke-width:2" d="M1047 786c-5 1-9-5-13-9-3-5-6-10-6-16-1-5 3-14 3-17"/>
<path class="l k9" style="stroke-width:2" d="M1053 721c-1 3 0 11-3 15"/>
<path class="l k8" style="stroke-width:2" d="M1050 736c-4 4-12 8-17 12"/>
<path class="l k7" style="stroke-width:2" d="M1033 748c-6 3-11 5-16 9"/>
<path class="l k6" style="stroke-width:2" d="M1017 757c-5 3-9 7-15 11"/>
<path class="l k5" style="stroke-width:2" d="M1002 768c-5 4-15 10-18 12"/>
<path class="l k6" style="stroke-width:9" d="M999 751c2 1 8 8 12 8"/>
<path class="l k7" style="stroke-width:9" d="M1011 759c3 0 7-3 8-8 1-5 0-17-2-22-2-5-7-5-9-6"/>
<path class="l k2" style="stroke-width:2" d="M941 715c0 1 3 8 1 10-2 1-9-3-14-2-4 1-11 5-12 8-1 2 5 6 6 8"/>
<path class="l k2" style="stroke-width:2" d="M956 749c1-2 3-8 4-12 1-4 1-11 1-14"/>
<path class="l k2" style="stroke-width:10" d="M913 741c1 2 6 13 10 16 4 3 8 2 14 1 5-1 16-7 19-8"/>
<path class="l k11" style="stroke-width:2" d="M956 563c1-2 2-12 5-16"/>
<path class="l k12" style="stroke-width:2" d="M961 547c4-3 12-4 16-3"/>
<path class="l k13" style="stroke-width:2" d="M977 544c4 0 7 4 10 7"/>
<path class="l k14" style="stroke-width:2" d="M987 551c2 2 1 7 5 9"/>
<path class="l k15" style="stroke-width:2" d="M992 560c5 2 18 0 23 2"/>
<path class="l k16" style="stroke-width:2" d="M1015 562c4 2 5 5 5 10"/>
<path class="l k17" style="stroke-width:2" d="M1020 572c0 5-8 15-7 20 2 6 13 9 16 14 2 4 1 12 1 14"/>
<path class="l k14" style="stroke-width:2" d="M1035 639c1 1 7 4 10 6 2 1 3 3 4 4"/>
<path class="s f17" d="M975 589l5 8 7 13 7 13 7 12 7 9 10-6-6-9-7-12-8-13-7-13-5-8z"/>
<path class="s f16" d="M1008 644l6 9 6 9 6 9 10-7-7-9-6-9-5-8z"/>
<path class="s f15" d="M1026 671l9 11 9-7-8-11z"/>
<path class="s f14" d="M1035 682l9 13 10-7-10-13z"/>
<path class="s f13" d="M1044 695l6 8 9-8-5-7z"/>
<path class="s f12" d="M1047 705l5 2 11-8-1-6z"/>
<path class="s f11" d="M1052 707l11 4 0-12z"/>
<path class="s f11" d="M967 616l3 9 4 13 11-3-4-13-3-9z"/>
<path class="s f12" d="M974 638l5 15 4 12 10-4-4-12-4-14z"/>
<path class="s f13" d="M983 665l4 9 4 7 5 7 4 6 6 8 8-7-5-7-4-7-4-6-4-6-4-8z"/>
<path class="s f12" d="M1006 702l6 8 0 1 9-7-1-1-6-8z"/>
<path class="s f11" d="M1010 713l8 3 7-5-1-9z"/>
<path class="s f10" d="M1018 716l7 2 0-7z"/>
<path class="s f18" d="M1093 665l0 6 2 9 1 10 2 9 2 9 2 9 2 8 2 6 7-2-1-6-2-8-3-9-1-9-2-8-1-10-2-9 0-6z"/>
<path class="s f16" d="M1114 576l-4 6-4 10 10 5 5-9 3-7z"/>
<path class="s f17" d="M1106 592l-6 11 11 5 5-11z"/>
<path class="s f18" d="M1100 603l-6 13-6 14-7 17 11 5 7-17 6-14 6-13z"/>
<path class="s f17" d="M1081 647l-7 17-5 15 12 4 5-15 6-16z"/>
<path class="s f16" d="M1069 679l-3 14 12 2 3-12z"/>
<path class="s f15" d="M1066 693l-1 13 12 1 1-12z"/>
<path class="s f14" d="M1065 706l0 3-4 0 4 8 10 0 5-7-3 0 0-3z"/>
<path class="s f12" d="M1065 717l4 7 6-7z"/>
<path class="s f17" d="M1081 645l-2 8-1 11-2 13 13 1 1-12 2-11 2-8z"/>
<path class="s f16" d="M1076 677l0 13 2 14 13-3-2-12 0-11z"/>
<path class="s f15" d="M1078 704l4 15 13-4-4-14z"/>
<path class="s f14" d="M1082 719l2 6 12-4-1-6z"/>
<path class="s f13" d="M1080 726l6 5 9 7 3-10 2-8z"/>
<path class="s f11" d="M1088 638l-2-8-12 2 2 9z"/>
<path class="s f10" d="M1086 630l-4-13-3-15-12 3 4 15 3 12z"/>
<path class="s f9" d="M1079 602l-3-14-3-16-12 2 3 16 3 15z"/>
<path class="s f8" d="M1073 572l-2-17-12 1 2 18z"/>
<path class="s f7" d="M1071 555l-2-12 4-1-3-3-9-10-6 12-2 4 4-1 2 12z"/>
<path class="s f3" d="M1092 528l-1 5 0 7 12 1 0-8 1-5z"/>
<path class="s f4" d="M1091 540l0 8-1 8 12 0 1-7 0-8z"/>
<path class="s f5" d="M1090 556l0 8 12 0 0-8z"/>
<path class="s f6" d="M1090 564l0 8 12 0 0-8z"/>
<path class="s f7" d="M1090 572l0 7 12 0 0-7z"/>
<path class="s f8" d="M1090 579l0 5 12 0 0-5z"/>
<path class="l k13" style="stroke-width:2" d="M1061 671c1 0 5 1 7 3 2 1 3 4 4 5"/>
<path class="s f10" d="M1139 587l-9 1 2 11 9-1z"/>
<path class="s f11" d="M1130 588l-12 3 2 10 12-2z"/>
<path class="s f12" d="M1118 591l-14 3 3 10 13-3z"/>
<path class="s f13" d="M1104 594l-13 5-10 7-8 9 9 7 7-8 8-6 10-4z"/>
<path class="s f12" d="M1073 615l-7 9-7 10 10 6 6-9 7-9z"/>
<path class="s f11" d="M1059 634l-6 10-6 12 10 5 6-11 6-10z"/>
<path class="s f10" d="M1047 656l-5 10 10 5 5-10z"/>
<path class="s f9" d="M1042 666l-3 7 10 5 3-7z"/>
<path class="l k14" style="stroke-width:2" d="M1120 577c1-3 4-11 5-16 1-5-3-10-1-13 1-3 5-6 9-6"/>
<path class="l k13" style="stroke-width:2" d="M1133 542c3 0 10 1 12 5 1 3-3 13-5 18-1 4-5 5-4 9 1 5 7 16 10 18 4 1 9-4 13-7 4-3 10-10 11-10 1 0-2 8-4 10-3 3-9 4-10 5"/>
<path class="s f2" d="M939 554l4 8 6 12 8-3-6-12-4-9z"/>
<path class="s f3" d="M949 574l5 14 5 13 9-2-5-15-6-13z"/>
<path class="s f4" d="M959 601l3 14 9-2-3-14z"/>
<path class="s f5" d="M962 615l3 15 8-2-2-15z"/>
<path class="s f6" d="M965 630l1 14 9-1-2-15z"/>
<path class="s f8" d="M966 644l2 14 2 13 9-1-2-13-2-14z"/>
<path class="s f7" d="M970 671l1 12 9-1-1-12z"/>
<path class="s f6" d="M971 683l1 11 9-1-1-11z"/>
<path class="s f5" d="M972 694l1 8 9-1-1-8z"/>
<path class="s f4" d="M1042 557l0 8 1 11 0 12 13 2 0-14-1-12 0-8z"/>
<path class="s f5" d="M1043 588l-3 12-4 11-8 11-9 13-9 14 11 7 9-14 9-13 8-12 6-13 3-14z"/>
<path class="s f4" d="M1010 649l-12 20 11 6 12-19z"/>
<path class="s f3" d="M998 669l-14 22-12 20 11 7 12-21 14-22z"/>
<path class="s f2" d="M972 711l-9 14 11 7 9-14z"/>
<path class="s f2" d="M1048 517l-3 10-5 15-6 16 11 5 6-17 5-15 3-10z"/>
<path class="s f3" d="M1034 558l-8 16-9 16 10 7 10-17 8-17z"/>
<path class="s f2" d="M1017 590l-11 17-12 18-11 18-11 20-10 21-8 18 11 6 8-19 10-20 10-20 11-17 12-18 11-17z"/>
<path class="s f1" d="M950 701l3 18 15-9 0-1z"/>
<path class="l k0" style="stroke-width:2" d="M1092 525c-2-1-8-4-10-7-3-4-4-10-4-14-1-4 2-8 2-11 0-3 1-6-3-7-4-1-16-1-21 2-4 2-7 8-8 12-1 5 1 11 3 14 1 4 4 6 5 7"/>
<path class="l k0" style="stroke-width:2" d="M1040 514c1-2 2-10 5-15 3-4 9-8 16-13 6-4 16-10 23-14 6-5 11-9 16-13 6-3 13-7 17-7 5 1 9 7 9 11-1 4-6 12-10 14-3 2-10 1-13-1-4-2-6-7-7-9"/>
<path class="l k1" style="stroke-width:2" d="M945 551c0-3-3-15-2-21 1-7 6-15 10-19 4-4 10-6 15-6 5 0 12 2 15 6 4 4 8 12 8 17 0 5-5 7-8 14-3 6-7 19-9 25-2 7-3 11-4 13"/>
<path class="l k5" style="stroke-width:2" d="M968 730c3 0 14 3 19 2 6 0 11-3 16-4"/>
<path class="l k6" style="stroke-width:2" d="M1003 728c5-1 11-2 14-2"/>
<path class="l k9" style="stroke-width:2" d="M1030 730c2-3 10-11 15-13 5-2 11 0 13 0"/>
<path class="l k10" style="stroke-width:2" d="M1095 740c1 2 2 10 4 15 2 5 7 11 8 14"/>
<path class="l k10" style="stroke-width:2" d="M1105 735c-2 2-11 8-14 13"/>
<path class="l k9" style="stroke-width:2" d="M1091 748c-2 4 2 8-1 14"/>
<path class="l k8" style="stroke-width:2" d="M1090 762c-3 5-11 13-16 18"/>
<path class="l k6" style="stroke-width:2" d="M1074 780c-5 5-11 11-16 11"/>
<path class="l k5" style="stroke-width:2" d="M1058 791c-5 1-11-5-15-9-4-5-9-12-9-18-1-5 6-12 8-15"/>
<path class="l k8" style="stroke-width:2" d="M1061 724c0 2 2 9-1 14"/>
<path class="l k7" style="stroke-width:2" d="M1060 738c-3 5-12 12-18 15"/>
<path class="l k6" style="stroke-width:2" d="M1042 753c-5 4-10 4-16 8"/>
<path class="l k4" style="stroke-width:2" d="M1026 761c-5 4-13 10-18 15-5 5-11 12-13 14"/>
<path class="l k5" style="stroke-width:9" d="M1009 755c1 1 5 7 9 7"/>
<path class="l k6" style="stroke-width:9" d="M1018 762c3 0 11-2 13-7 1-5-1-17-3-21-2-5-8-5-10-6"/>
<path class="l k0" style="stroke-width:2" d="M951 717c0 2 4 10 1 12-3 2-13-2-17-2-4 1-8 4-9 7-2 2 1 9 1 10"/>
<path class="l k1" style="stroke-width:2" d="M964 757c1-3 3-13 4-18 1-5 2-10 2-12"/>
<path class="l k0" style="stroke-width:10" d="M919 749c3 2 10 9 14 11 5 2 10 2 15 2 5-1 14-4 17-5"/>
<path class="l k13" style="stroke-width:2" d="M949 562c1-2 0-11 3-14"/>
<path class="l k14" style="stroke-width:2" d="M952 548c4-3 14-2 19-3 5 0 11 0 13 3"/>
<path class="l k16" style="stroke-width:2" d="M984 548c2 2-5 10-2 13"/>
<path class="l k17" style="stroke-width:2" d="M982 561c4 2 18-1 23 1 4 2 2 7 2 12"/>
<path class="l k18" style="stroke-width:2" d="M1007 574c1 5 0 11 1 17 1 5 5 11 6 16 1 4-2 10-2 12"/>
<path class="l k15" style="stroke-width:2" d="M1020 641c0 0 2 2 5 3 2 2 7 6 8 7"/>
<path class="s f19" d="M968 587l4 7 10-5-3-7z"/>
<path class="s f18" d="M972 594l5 11 6 11 6 11 6 10 6 11 10-6-5-10-6-11-6-11-6-11-6-10z"/>
<path class="s f17" d="M1001 648l6 11 6 10 10-6-6-10-6-11z"/>
<path class="s f16" d="M1013 669l7 12 11-7-8-11z"/>
<path class="s f15" d="M1020 681l9 12 10-7-8-12z"/>
<path class="s f14" d="M1029 693l4 6-4 2 7 3 10-7 0-7-3 2-4-6z"/>
<path class="s f13" d="M1036 704l10 4 0-11z"/>
<path class="s f13" d="M951 616l3 8 5 13 10-4-5-12-3-9z"/>
<path class="s f14" d="M959 637l5 13 4 11 5 9 10-5-5-8-4-11-5-13z"/>
<path class="s f15" d="M973 670l4 8 5 7 4 7 5 8 10-6-5-8-5-7-4-7-4-7z"/>
<path class="s f14" d="M991 700l6 8 9-6-5-8z"/>
<path class="s f13" d="M997 708l-3 2 9 4 6-5 0-9-3 2z"/>
<path class="s f12" d="M1003 714l7 2-1-7z"/>
<path class="s f19" d="M1073 666l2 6 1 10 2 10 1 9 1 8 0 7 0 6 1 5 8-1-1-4 0-6 0-8-1-8-1-9-2-10-2-10-1-7z"/>
<path class="s f17" d="M1109 584l-6 7 9 7 6-6z"/>
<path class="s f18" d="M1103 591l-8 9-9 11 10 7 8-10 8-10z"/>
<path class="s f19" d="M1086 611l-8 12-6 13-5 14 12 4 5-13 5-12 7-11z"/>
<path class="s f18" d="M1067 650l-4 14-5 13-5 13 12 4 4-13 5-13 5-14z"/>
<path class="s f16" d="M1053 690l-5 12-1 5 11 5 2-5 5-13z"/>
<path class="s f15" d="M1043 706l2 8 10 4 6-5z"/>
<path class="s f14" d="M1045 714l2 9 8-5z"/>
<path class="s f18" d="M1065 649l-1 7 0 10 0 12 0 12 13 0 0-12 0-11 0-11 1-7z"/>
<path class="s f17" d="M1064 690l0 13 13 0 0-13z"/>
<path class="s f16" d="M1064 703l1 15 13-1-1-14z"/>
<path class="s f15" d="M1065 718l0 6-4 0 5 7 12-1 4-7-4 0 0-6z"/>
<path class="s f14" d="M1066 731l7 8 5-9z"/>
<path class="s f12" d="M1076 642l-1-9-3-12-2-13-12 2 2 14 3 12 2 8z"/>
<path class="s f11" d="M1070 608l-3-14-3-15-12 2 3 15 3 14z"/>
<path class="s f10" d="M1064 579l-3-17-2-11-12 2 2 11 3 17z"/>
<path class="s f9" d="M1063 551l-3-4-9-10-5 12-2 5z"/>
<path class="s f6" d="M1079 533l0 5 1 6 0 7 12 0 0-8-1-7 0-4z"/>
<path class="s f7" d="M1080 551l0 7 12 1 0-8z"/>
<path class="s f8" d="M1080 558l-1 8-2 10 12 3 2-11 1-9z"/>
<path class="s f9" d="M1077 576l-2 9 12 3 2-9z"/>
<path class="s f10" d="M1075 585l-1 7 11 2 2-6z"/>
<path class="l k14" style="stroke-width:2" d="M1045 670c0 1 0 7 2 8 2 2 8 1 10 2"/>
<path class="s f12" d="M1121 588l-8 2 3 11 8-2z"/>
<path class="s f13" d="M1113 590l-12 4 3 10 12-3z"/>
<path class="s f14" d="M1101 594l-13 4-11 5-10 7-8 7-7 8-6 8 9 7 6-8 6-7 7-7 8-5 10-5 12-4z"/>
<path class="s f13" d="M1046 633l-7 9 10 6 6-8z"/>
<path class="s f12" d="M1039 642l-6 10-4 9 9 5 5-8 6-10z"/>
<path class="s f11" d="M1029 661l-4 6 10 6 3-7z"/>
<path class="l k16" style="stroke-width:2" d="M1104 584c1-3 5-14 6-19"/>
<path class="l k15" style="stroke-width:2" d="M1110 565c0-5-3-8-2-11 2-3 7-7 11-6 4 0 12 4 13 8"/>
<path class="l k14" style="stroke-width:2" d="M1132 556c2 4-4 12-5 16-1 4-2 5-1 9 0 4 2 14 5 16 2 2 6-4 10-6"/>
<path class="l k15" style="stroke-width:2" d="M1141 591c4-2 12-5 14-5 3 1 4 5 1 7-3 3-16 7-19 8"/>
<path class="s f5" d="M934 550l3 9 5 13 9-3-5-13-4-9z"/>
<path class="s f6" d="M942 572l5 14 4 14 9-2-4-15-5-14z"/>
<path class="s f7" d="M951 600l2 13 9-1-2-14z"/>
<path class="s f8" d="M953 613l1 14 9-1-1-14z"/>
<path class="s f9" d="M954 627l0 14 9-1 0-14z"/>
<path class="s f10" d="M954 641l0 12 1 12 9 0-1-12 0-13z"/>
<path class="s f9" d="M955 665l0 12 9 0 0-12z"/>
<path class="s f8" d="M955 677l0 10 9-1 0-9z"/>
<path class="s f7" d="M955 687l1 6 9 0-1-7z"/>
<path class="s f6" d="M1032 558l0 8 13 0 0-8z"/>
<path class="s f7" d="M1032 566l-1 11-1 12-3 12-5 11-6 11-9 12-9 14-13 17 11 7 12-17 10-13 9-13 7-12 5-13 4-13 1-14 1-12z"/>
<path class="s f6" d="M985 666l-15 19 11 8 15-20z"/>
<path class="s f5" d="M970 685l-14 17-10 13 11 8 9-12 15-18z"/>
<path class="s f4" d="M1038 527l-5 9 11 5 5-9z"/>
<path class="s f5" d="M1033 536l-5 13-7 15-8 14-9 14-11 15-11 16-10 16-11 18 10 6 11-18 10-16 11-15 11-15 9-15 8-15 8-15 5-13z"/>
<path class="s f4" d="M961 657l-11 21-10 18-4-2 2 18 15-8 1-1-4-2 10-17 11-21z"/>
<path class="l k3" style="stroke-width:2" d="M1084 531c-2-1-10-2-12-5-3-4-4-12-4-16 1-4 6-5 6-8 0-3 0-10-5-12-4-2-15 0-20 2-6 2-10 7-11 11-1 4 3 11 6 15 2 4 7 8 8 9"/>
<path class="l k3" style="stroke-width:2" d="M1033 520c1-3 3-12 7-16 4-4 9-5 15-8 6-3 14-8 21-12 7-5 15-12 21-15 5-3 9-4 12-3 3 1 5 7 6 11 0 3-1 9-4 10-4 1-13-1-17-3-4-1-7-3-8-4"/>
<path class="l k4" style="stroke-width:2" d="M939 551c-1-3-6-12-5-19 2-7 9-19 13-23 5-5 10-5 16-4 5 0 15 3 19 7 3 4 5 12 4 17-1 4-9 6-12 12-3 6-5 17-8 23-2 6-5 13-6 15"/>
<path class="l k7" style="stroke-width:2" d="M954 724c2 0 8 0 14 0"/>
<path class="l k8" style="stroke-width:2" d="M968 724c5 0 11 1 17 0 5-1 12-3 15-3"/>
<path class="l k11" style="stroke-width:2" d="M1014 728c2-2 8-11 12-12 4-2 11 1 13 2"/>
<path class="l k12" style="stroke-width:2" d="M1074 741c0 2 2 8 2 12 1 3 3 7 4 9"/>
<path class="l k12" style="stroke-width:2" d="M1084 732c-2 2-11 9-13 14"/>
<path class="l k11" style="stroke-width:2" d="M1071 746c-2 4 2 7-1 13"/>
<path class="l k10" style="stroke-width:2" d="M1070 759c-3 5-10 15-15 19"/>
<path class="l k9" style="stroke-width:2" d="M1055 778c-6 4-15 5-20 5"/>
<path class="l k8" style="stroke-width:2" d="M1035 783c-5-1-9-3-12-7"/>
<path class="l k7" style="stroke-width:2" d="M1023 776c-3-4-4-11-4-16"/>
<path class="l k8" style="stroke-width:2" d="M1019 760c0-6 1-13 1-16"/>
<path class="l k11" style="stroke-width:2" d="M1042 723c-1 2 1 7-3 12"/>
<path class="l k10" style="stroke-width:2" d="M1039 735c-3 5-12 15-17 19"/>
<path class="l k8" style="stroke-width:2" d="M1022 754c-5 4-8 3-14 6"/>
<path class="l k7" style="stroke-width:2" d="M1008 760c-5 3-13 8-19 11"/>
<path class="l k6" style="stroke-width:2" d="M989 771c-5 4-12 8-14 9"/>
<path class="l k8" style="stroke-width:9" d="M989 747c2 3 5 15 9 15 4 0 11-8 13-13 2-6 0-14-2-19-2-4-9-7-11-8"/>
<path class="l k3" style="stroke-width:2" d="M933 708c0 2 2 10 0 12-2 1-9-4-13-3-3 1-8 6-9 9-2 3 2 9 2 10"/>
<path class="l k4" style="stroke-width:2" d="M950 749c0-2 1-9 2-14 1-5 3-11 4-13"/>
<path class="l k3" style="stroke-width:10" d="M906 737c2 3 7 13 11 15 4 3 9 2 14 2 5-1 13-4 15-5"/>
<path class="l k12" style="stroke-width:2" d="M961 562c1-1 4-6 8-8"/>
<path class="l k13" style="stroke-width:2" d="M969 554c3-3 7-6 10-6"/>
<path class="l k14" style="stroke-width:2" d="M979 548c3 0 5 1 8 3"/>
<path class="l k15" style="stroke-width:2" d="M987 551c3 3 5 8 10 10"/>
<path class="l k16" style="stroke-width:2" d="M997 561c5 2 15 1 20 3"/>
<path class="l k17" style="stroke-width:2" d="M1017 564c4 1 5 2 6 7"/>
<path class="l k18" style="stroke-width:2" d="M1023 571c0 4-6 16-4 21 2 5 12 6 14 10 2 5-1 15-2 18"/>
<path class="l k14" style="stroke-width:2" d="M1038 637c1 1 7 4 9 6 2 2 3 4 4 5"/>
<path class="s f18" d="M980 592l4 6 6 10 7 10 7 11 7 10 10-7-7-10-7-10-7-11-6-9-4-6z"/>
<path class="s f17" d="M1011 639l8 10 7 11 10-7-8-11-7-10z"/>
<path class="s f16" d="M1026 660l8 10 8 11 10-7-8-11-8-10z"/>
<path class="s f15" d="M1042 681l8 11 10-7-8-11z"/>
<path class="s f14" d="M1050 692l3 5 10-7-3-5z"/>
<path class="s f13" d="M1050 699l7 3 10 4 0-11-1-7z"/>
<path class="s f12" d="M973 619l3 8 11-3-3-9z"/>
<path class="s f13" d="M976 627l5 12 5 13 10-4-5-12-4-12z"/>
<path class="s f14" d="M986 652l5 12 5 8 5 7 5 6 5 6 5 8 9-6-5-8-5-7-5-6-5-6-5-7-4-11z"/>
<path class="s f13" d="M1016 699l4 8 1 1 9-6 0-1-5-8z"/>
<path class="s f12" d="M1018 709l8 5 6 3 1-7 0-10z"/>
<path class="s f18" d="M1096 664l1 6 2 8 2 10 1 8 1 8 1 7 1 7 1 4 8-1-1-4-1-7-1-7-1-8-1-8-2-10-2-9-1-6z"/>
<path class="s f16" d="M1120 569l-5 8 10 7 5-8z"/>
<path class="s f17" d="M1115 577l-8 11 10 6 8-10z"/>
<path class="s f18" d="M1107 588l-8 13-7 13-4 15-4 16-3 15-3 14 12 3 3-15 3-15 3-15 4-13 6-12 8-13z"/>
<path class="s f17" d="M1078 674l-3 15 12 2 3-14z"/>
<path class="s f16" d="M1075 689l-3 14 12 3 3-15z"/>
<path class="s f15" d="M1072 703l-2 7 12 2 2-6z"/>
<path class="s f14" d="M1067 709l2 7 4 10 8-8 5-5z"/>
<path class="s f18" d="M1085 643l-1 8 13 2 1-8z"/>
<path class="s f17" d="M1084 651l-2 11-1 12 0 13 13-1 0-11 1-12 2-10z"/>
<path class="s f16" d="M1081 687l3 14 5 13 12-5-4-12-3-11z"/>
<path class="s f15" d="M1089 714l2 5 12-5-2-5z"/>
<path class="s f14" d="M1087 720l7 5 9 6 2-10 2-9z"/>
<path class="s f12" d="M1089 639l-1-9-2-13-12 2 2 12 1 9z"/>
<path class="s f11" d="M1086 617l-3-15-2-15-12 2 2 15 3 15z"/>
<path class="s f10" d="M1081 587l-3-16-4-18-11 3 3 17 3 16z"/>
<path class="s f9" d="M1074 553l-2-12 4-1-3-3-15 3-2 4 4-1 3 13z"/>
<path class="s f8" d="M1073 537l-10-10-5 13z"/>
<path class="s f5" d="M1090 528l0 5 12 0 0-6z"/>
<path class="s f6" d="M1090 533l0 8 1 8 0 8 12 0 0-8-1-9 0-7z"/>
<path class="s f7" d="M1091 557l0 8 12 0 0-8z"/>
<path class="s f8" d="M1091 565l0 7 12 1 0-8z"/>
<path class="s f9" d="M1091 572l0 7 12 1 0-7z"/>
<path class="s f10" d="M1091 579l0 5 12 1 0-5z"/>
<path class="l k14" style="stroke-width:2" d="M1065 671c0 0 1 3 3 4 2 1 6 1 7 1"/>
<path class="s f12" d="M1143 582l-10 2-13 3 3 11 13-3 9-2z"/>
<path class="s f13" d="M1120 587l-15 4 4 10 14-3z"/>
<path class="s f14" d="M1105 591l-13 5-10 8-8 8 8 7 7-7 9-6 11-5z"/>
<path class="s f13" d="M1074 612l-8 9-6 9-7 10 10 6 6-9 6-9 7-9z"/>
<path class="s f12" d="M1053 640l-6 11 10 5 6-10z"/>
<path class="s f11" d="M1047 651l-4 10-3 7 9 5 4-7 4-10z"/>
<path class="l k15" style="stroke-width:2" d="M1123 572c0-2 0-8 0-11 0-3-1-6 1-9 2-3 7-10 10-10"/>
<path class="l k14" style="stroke-width:2" d="M1134 542c4-1 9 4 11 7 1 4-2 9-2 14 0 4 0 7 0 12 1 4 1 14 4 15 3 1 9-7 13-9 4-2 11-2 12-2 1 1-2 4-5 5-3 2-11 3-13 4"/>
<path class="s f4" d="M950 556l4 8 8-4-4-8z"/>
<path class="s f5" d="M954 564l6 12 6 13 8-3-6-14-6-12z"/>
<path class="s f6" d="M966 589l4 13 2 12 9-1-2-13-5-14z"/>
<path class="s f7" d="M972 614l1 14 9-1-1-14z"/>
<path class="s f8" d="M973 628l0 13 9 0 0-14z"/>
<path class="s f9" d="M973 641l0 14 2 13 9-1-2-13 0-13z"/>
<path class="s f8" d="M975 668l2 13 1 12 9-2-1-11-2-13z"/>
<path class="s f7" d="M978 693l2 8 8-2-1-8z"/>
<path class="s f6" d="M1046 557l0 7 0 10 0 10 13 2 0-12 0-10 0-7z"/>
<path class="s f7" d="M1046 584l-2 12-4 12-6 13-7 15-8 15 11 7 8-16 8-15 6-14 4-14 3-13z"/>
<path class="s f6" d="M1019 651l-11 17 11 7 11-17z"/>
<path class="s f5" d="M1008 668l-13 20-12 17 11 8 12-18 13-20z"/>
<path class="s f4" d="M983 705l-8 13 10 7 9-12z"/>
<path class="s f4" d="M1051 519l-4 10-6 14-6 16 11 5 7-17 5-14 4-10z"/>
<path class="s f5" d="M1035 559l-8 16-9 16-10 17 10 6 11-17 9-17 8-16z"/>
<path class="s f4" d="M1008 608l-11 18-10 17-9 20-10 20-7 18-4-2 0 2 3 16 14-9 1-1-3-1 7-18 9-20 10-19 9-17 11-18z"/>
<path class="l k2" style="stroke-width:2" d="M1095 527c-2-1-7-4-10-7-3-3-8-7-8-12 1-4 8-9 9-13 0-4-3-10-8-11-4-1-15 2-20 5-5 3-9 9-10 13-2 4-1 8 1 11 2 3 8 6 10 8"/>
<path class="l k2" style="stroke-width:2" d="M1041 517c1-3 1-14 5-19 3-4 11-5 17-8 7-3 14-7 20-12 6-6 12-16 17-20 6-3 12-3 16-1 4 2 8 10 8 14 1 4-3 10-7 10-4 1-12-5-16-6-4-2-8-3-10-3"/>
<path class="l k4" style="stroke-width:2" d="M948 552c0-3 0-11 1-17 1-6 2-15 6-19 5-4 15-5 20-5 5 0 9 4 11 7 3 3 6 8 6 12 0 5-3 10-6 16-3 6-10 14-12 20-2 6 0 14 0 16"/>
<path class="l k7" style="stroke-width:2" d="M975 727c3 0 12 3 17 2 5 0 8-4 13-5"/>
<path class="l k8" style="stroke-width:2" d="M1005 724c5-1 15 0 18 0"/>
<path class="l k10" style="stroke-width:2" d="M1036 727c2-3 8-12 13-14 4-2 13 2 16 2"/>
<path class="l k11" style="stroke-width:2" d="M1099 737c1 2 3 7 5 10 1 4 5 12 6 14"/>
<path class="l k11" style="stroke-width:2" d="M1108 728c-2 3-10 11-12 15-1 5 5 5 2 10"/>
<path class="l k9" style="stroke-width:2" d="M1098 753c-2 6-12 19-18 24"/>
<path class="l k8" style="stroke-width:2" d="M1080 777c-6 5-12 7-18 7"/>
<path class="l k7" style="stroke-width:2" d="M1062 784c-5-1-10-5-13-9-4-4-8-8-8-14 0-6 6-19 7-23"/>
<path class="l k10" style="stroke-width:2" d="M1067 719c-1 2-3 10-6 15"/>
<path class="l k9" style="stroke-width:2" d="M1061 734c-3 6-8 14-13 18"/>
<path class="l k8" style="stroke-width:2" d="M1048 752c-5 5-12 6-17 9"/>
<path class="l k6" style="stroke-width:2" d="M1031 761c-6 3-13 4-17 7-5 4-7 12-8 14"/>
<path class="l k7" style="stroke-width:9" d="M1014 748c2 2 9 14 12 14"/>
<path class="l k8" style="stroke-width:9" d="M1026 762c4 0 9-7 10-12 1-6 0-16-2-20"/>
<path class="l k7" style="stroke-width:9" d="M1034 730c-3-5-11-6-14-7"/>
<path class="l k3" style="stroke-width:2" d="M958 713c-1 2-4 11-6 13-3 2-6-3-9-2-2 1-5 6-6 8-1 2 0 3-1 4"/>
<path class="l k3" style="stroke-width:2" d="M975 754c0-3-1-13 0-19 0-5 3-12 4-14"/>
<path class="l k2" style="stroke-width:10" d="M931 747c1 2 2 7 7 9 5 2 15 3 21 3 6-1 11-6 14-7"/>
</g>
<g filter="url(#rim)">
<path class="s e0" d="M1063 1236l-1-7-7-9-9-9-8-7-4-1-2-2 1 8 7 8 9 9 7 7 4 2zM1078 1208l-1-8-7-8-9-9-8-7-4-1-3-1 1 7 7 9 9 8 8 7 4 1zM1092 1179l-1-7-7-8-9-9-8-7-4-1-3-1 2 7 7 9 9 8 8 7 4 1zM1107 1150l-2-7-7-8-10-9-8-6-4-1-2-2 1 8 7 8 10 8 8 7 4 1zM1120 1121l-1-7-8-8-9-9-8-6-5-1-2-1 1 7 8 8 9 9 8 6 4 1z"/>
<path class="s f0" d="M1021 1232l1 7 10 3 12 3 12-1 9-7-6-3-1-7-10-4-12-2-12 0-9 8zM1036 1204l1 6 10 4 12 3 12-1 8-7-6-3-1-7-9-4-12-2-12 0-9 8zM1051 1176l1 7 9 3 13 2 11 0 9-8-6-3-1-7-10-3-12-2-12 0-8 8zM1065 1148l1 7 10 3 12 2 12-1 8-8-6-3-1-7-10-3-12-2-12 1-8 8zM1078 1119l1 7 10 3 13 2 11-1 9-8-6-3-2-6-10-4-12-1-12 1-8 8zM1091 1091l2 6 9 4 13 1 11-1 9-8-6-3-2-6-9-3-13-2-11 1-9 8z"/>
<path class="s e0" d="M1076 1238l0-7-7-9-9-9-8-7-4-2-2-1 1 7 6 9 9 9 8 7 4 2zM1092 1210l-1-8-7-8-8-10-8-7-4-1-3-1 1 7 7 9 9 9 7 7 4 1zM1107 1181l-1-8-6-8-9-9-8-7-4-1-3-2 1 8 7 8 9 9 8 7 4 2zM1122 1151l-1-7-7-8-9-9-8-7-4-1-3-1 1 7 8 9 9 8 8 7 4 1zM1137 1122l-2-7-7-9-9-8-8-7-4-1-3-1 1 7 8 8 9 9 8 7 4 1z"/>
<path class="s f0" d="M1034 1234l2 6 9 4 12 3 12 0 9-8-6-3-1-7-9-4-13-2-11 0-9 7zM1050 1205l1 7 10 4 12 2 12 0 9-7-6-4-1-6-10-4-12-3-12 1-9 7zM1066 1177l1 7 9 3 13 3 11-1 9-7-6-3-1-7-9-4-13-2-12 0-8 8zM1080 1149l2 6 9 4 13 2 11-1 9-8-6-3-1-6-10-4-12-2-12 1-9 8zM1095 1120l1 6 10 4 12 2 12-1 8-8-6-3-1-7-10-3-12-2-12 1-9 8zM1109 1091l1 6 10 4 12 1 12 0 8-8-6-3-1-7-10-3-12-2-12 1-9 8z"/>
<path class="s e0" d="M1085 1229l0-7-6-9-8-10-7-8-4-2-2-1 0 7 6 9 8 10 7 8 4 2zM1103 1202l0-8-6-9-8-10-7-7-4-2-2-2 0 8 6 9 8 10 7 8 4 1zM1121 1174l0-7-6-9-9-10-7-7-4-2-3-2 1 8 6 9 9 10 7 7 4 2zM1138 1146l0-8-7-9-8-9-8-8-4-1-2-2 0 8 7 9 9 9 7 8 4 1zM1155 1117l-1-7-6-9-9-10-7-7-4-1-3-2 1 8 6 9 9 9 7 7 4 2z"/>
<path class="s f0" d="M1044 1222l1 6 9 5 12 3 11 1 10-7-6-3 0-7-9-5-12-3-12-1-10 7zM1062 1194l1 7 9 5 12 3 12 1 9-7-6-4 0-6-9-5-12-3-12-1-10 7zM1080 1167l0 7 10 4 12 4 11 0 10-7-6-3 0-7-10-5-12-3-12 0-9 6zM1097 1140l0 7 10 4 12 3 12 0 9-8-6-3-1-7-9-4-12-3-12 0-9 7zM1113 1112l1 7 9 4 13 2 11 0 10-7-6-3-1-7-10-4-12-3-12 0-9 8z"/>
<path class="s e1" d="M1070 1229l-1-7-7-9-9-9-7-7-4-1-3-2 1 8 7 8 9 10 7 7 4 1zM1085 1201l0-8-7-8-9-9-8-7-4-2-2-1 1 7 6 9 9 9 8 7 4 2zM1101 1172l-1-7-7-9-9-9-8-7-4-1-3-1 1 7 7 9 9 9 8 6 4 2zM1116 1143l-1-8-8-8-9-9-8-7-4-1-2-1 1 7 7 9 9 8 8 7 4 1zM1130 1113l-1-7-7-9-10-8-8-7-4-1-2-1 1 7 7 9 9 8 8 7 4 1z"/>
<path class="s f1" d="M1028 1225l1 7 9 3 13 3 11 0 9-8-5-3-2-7-9-3-12-3-12 0-9 8zM1043 1196l2 7 9 4 12 3 12-1 9-7-6-3-1-7-9-4-13-2-11 0-9 7zM1059 1168l1 7 10 4 12 2 12-1 9-7-6-3-2-7-9-4-12-2-12 0-9 8zM1074 1140l1 6 10 4 12 2 12-1 8-8-6-3-1-6-9-4-13-2-12 1-8 8zM1088 1111l1 7 10 3 13 2 11-1 9-8-6-3-2-7-9-3-13-2-12 1-8 8zM1102 1082l1 7 10 3 13 2 11-1 9-8-6-3-2-7-9-3-13-2-12 1-8 8z"/>
<path class="s e3" d="M1044 1134l0-6-6-7-6-7-6-5-3-2-2-1 0 6 6 7 6 7 6 6 3 1z"/>
<path class="s e4" d="M1057 1105l0-6-5-7-7-7-6-6-3-1-2-1 1 6 5 7 6 7 6 5 3 2z"/>
<path class="s f2" d="M1011 1137l2 5 8 1 10 0 9-2 6-6-5-2-2-5-8-1-10 0-9 2-5 6z"/>
<path class="s f4" d="M1024 1108l2 4 8 2 10 0 9-2 5-6-4-2-2-5-8-1-10-1-9 2-6 7z"/>
<path class="s f5" d="M1037 1078l3 5 7 1 10 1 9-2 6-6-5-3-2-4-7-2-10 0-9 1-6 7z"/>
<path class="l k6" style="stroke-width:2" d="M978 1186c-2 3-10 11-13 17-3 5-2 12-5 16-4 3-10 2-16 4-5 1-14 1-18 2-3 2-3 7-3 8"/>
<path class="l k6" style="stroke-width:2" d="M922 1230c1-3 4-11 6-15 2-5 6-10 7-12"/>
<path class="l k6" style="stroke-width:2" d="M972 1202c0 2-1 7 0 10 0 4 1 12 2 14"/>
<path class="l k6" style="stroke-width:2" d="M984 1187c2 2 4 9 7 12 3 2 9 3 12 5 3 3 5 7 8 10"/>
<path class="l k5" style="stroke-width:2" d="M1011 1214c3 3 7 7 10 10"/>
<path class="l k4" style="stroke-width:2" d="M1021 1224c3 2 3 3 8 3"/>
<path class="l k2" style="stroke-width:2" d="M1029 1227c5 0 19-3 23-3"/>
<path class="l k3" style="stroke-width:2" d="M1010 1158c1 0 6 0 8 0 3-1 6-4 8-4"/>
<path class="l k7" style="stroke-width:2" d="M1112 1070c-3 3-17 12-18 17"/>
<path class="l k6" style="stroke-width:2" d="M1094 1087c0 6 10 9 13 14"/>
<path class="l k5" style="stroke-width:2" d="M1107 1101c4 4 7 8 8 12"/>
<path class="l k4" style="stroke-width:2" d="M1115 1113c1 4 0 10-3 12"/>
<path class="l k2" style="stroke-width:2" d="M1112 1125c-2 2-10-1-12-2"/>
<path class="l k18" style="stroke-width:2" d="M1067 1074c1-3 5-11 10-17 4-5 9-15 14-19"/>
<path class="l k17" style="stroke-width:2" d="M1091 1038c5-3 8-2 13 0"/>
<path class="l k16" style="stroke-width:2" d="M1104 1038c6 1 16 6 19 9"/>
<path class="l k14" style="stroke-width:2" d="M1123 1047c4 4 4 7 3 10"/>
<path class="l k13" style="stroke-width:2" d="M1126 1057c0 3-4 6-6 8"/>
<path class="l k11" style="stroke-width:2" d="M1120 1065c-3 3-7 4-8 6"/>
<path class="l k10" style="stroke-width:2" d="M1112 1071c-1 2 2 5 2 6"/>
<path class="s e13" d="M1079 1048l0-7-5-9-6-10-6-7-3-3-2-1 0 7 4 9 7 9 6 8 3 3zM1099 1018l1-7-5-9-6-10-6-8-3-2-2-2 0 7 4 9 7 10 5 8 4 2z"/>
<path class="s f12" d="M1040 1044l1 6 9 3 11 2 11 0 8-6-5-3-1-6-9-3-11-2-11 0-8 6z"/>
<path class="s f14" d="M1060 1013l2 6 9 3 11 3 11 0 8-6-5-4-2-5-8-4-11-2-11 0-8 6z"/>
<path class="l k18" style="stroke-width:2" d="M1034 1064c2-1 9-4 13-8 4-5 11-12 12-19 1-7-3-15-4-21-1-6-5-10-3-15 1-5 6-11 10-14 4-3 10-5 14-5 3 1 5 6 6 7"/>
<path class="s f5" d="M996 1155l-2-6-3-8-10 3 3 8 2 6z"/>
<path class="s f4" d="M991 1141l-3-10-3-8-3-8-3-6 4-2-2-1-7-4-6-3 0 6-2 8 0 2 3-1 3 5 3 7 3 9 3 9z"/>
<path class="s f5" d="M994 1155l1-4-5 0 0 4z"/>
<path class="s f6" d="M995 1151l1-6 1-8-8 0 0 7 1 7z"/>
<path class="s f7" d="M997 1137l1-7-10-1 1 8z"/>
<path class="s f8" d="M998 1130l1-8 1-9-11-1-1 9 0 8z"/>
<path class="s f9" d="M1000 1113l0-8-10-1-1 8z"/>
<path class="s f10" d="M1000 1105l1-6-11-1 0 6z"/>
<path class="l k7" style="stroke-width:2" d="M964 1082c1-2 3-9 5-12"/>
<path class="l k9" style="stroke-width:2" d="M969 1070c2-4 3-9 6-10"/>
<path class="l k11" style="stroke-width:2" d="M975 1060c4-1 9 0 13 1"/>
<path class="l k13" style="stroke-width:2" d="M988 1061c5 1 11 1 13 5"/>
<path class="l k12" style="stroke-width:2" d="M1001 1066c3 3 3 12 2 17"/>
<path class="l k11" style="stroke-width:2" d="M1003 1083c0 5-3 10-4 13"/>
<path class="l k10" style="stroke-width:2" d="M999 1096c-1 3-1 6-1 7"/>
<path class="s f6" d="M991 1189l6-7 8-10-5-4-7 11-5 7z"/>
<path class="s f7" d="M1005 1172l10-11 9-10-8-6-8 11-8 12z"/>
<path class="s f8" d="M1024 1151l8-9-9-8-7 11z"/>
<path class="s f9" d="M1032 1142l9-11-10-8-8 11z"/>
<path class="s f10" d="M1041 1131l8-10 7-9-11-7-6 9-8 9z"/>
<path class="s f12" d="M1056 1112l5-10-12-5-4 8z"/>
<path class="s f13" d="M1061 1102l4-8-12-5-4 8z"/>
<path class="s f15" d="M1065 1094l3-7-13-5-2 7z"/>
<path class="s f16" d="M1068 1087l1-5-12-5-2 5z"/>
<path class="s f6" d="M981 1186l6-8-5-3-4 9z"/>
<path class="s f7" d="M987 1178l8-11-7-4-6 12z"/>
<path class="s f8" d="M995 1167l8-12-8-5-7 13z"/>
<path class="s f9" d="M1003 1155l7-11-10-5-5 11z"/>
<path class="s f10" d="M1010 1144l5-9-11-5-4 9z"/>
<path class="s f11" d="M1015 1135l4-8-12-5-3 8z"/>
<path class="s f12" d="M1019 1127l3-9-12-4-3 8z"/>
<path class="s f13" d="M1022 1118l3-8-12-5-3 9z"/>
<path class="s f14" d="M1025 1110l4-9-12-5-4 9z"/>
<path class="s f15" d="M1029 1101l4-10 4 2 0-1-20-7 4 1-4 10z"/>
<path class="s f16" d="M1037 1092l-3-11-1-7-7 4-9 7z"/>
<path class="s e1" d="M1083 1218l-3-7-9-6-11-5-10-4-4-1-3 0 4 6 9 6 11 6 9 4 5 0zM1089 1189l-2-7-7-8-9-8-8-6-4-1-3-2 1 8 8 8 9 8 8 6 4 1zM1102 1158l-2-7-7-8-10-8-9-6-4-1-2-1 2 7 7 8 10 8 8 6 5 1z"/>
<path class="s f1" d="M1044 1230l3 5 10 0 13-3 10-4 5-10-6-1-4-5-10 0-12 3-11 5-5 9zM1048 1196l3 6 9 1 13-1 11-3 7-9-6-2-3-6-11-1-12 1-11 3-6 10zM1060 1159l3 6 9 3 13 0 11-1 8-9-6-2-2-6-10-2-12-1-12 2-8 8zM1072 1129l2 6 10 1 13 1 11-3 7-8-6-2-2-6-10-2-13 0-11 2-7 9z"/>
<path class="s e3" d="M1051 1135l0-6-5-8-6-8-5-6-3-2-2-1 0 6 5 7 6 8 5 6 3 3z"/>
<path class="s e4" d="M1067 1104l1-6-4-7-6-9-5-6-2-3-2-1-1 6 4 8 6 8 5 7 2 2z"/>
<path class="s f2" d="M1017 1137l2 4 8 2 10 0 9-1 6-7-4-2-3-4-7-2-10-1-9 2-7 7z"/>
<path class="s f4" d="M1033 1105l2 5 8 2 10 1 9-2 7-6-5-2-2-5-8-2-10-1-9 2-6 6z"/>
<path class="s f5" d="M1052 1074l2 5 7 2 10 2 10-1 6-6-4-3-2-4-8-3-9-1-10 1-6 6z"/>
<path class="l k6" style="stroke-width:2" d="M990 1183c-3 2-10 7-14 12-4 4-6 12-11 16-5 4-14 4-20 6-5 2-8 6-12 8-3 1-7 0-8 0"/>
<path class="l k6" style="stroke-width:2" d="M923 1224c1-1 2-5 5-9 3-4 10-13 12-15"/>
<path class="l k6" style="stroke-width:2" d="M976 1197c0 2 0 10 0 14 0 4 1 9 2 11"/>
<path class="l k6" style="stroke-width:2" d="M994 1184c0 2-1 9 2 12 3 3 12 4 16 6 4 2 4 3 6 6"/>
<path class="l k5" style="stroke-width:2" d="M1018 1208c2 4 5 13 8 17"/>
<path class="l k4" style="stroke-width:2" d="M1026 1225c3 4 4 5 10 6"/>
<path class="l k2" style="stroke-width:2" d="M1036 1231c6 1 21-1 25-1"/>
<path class="l k2" style="stroke-width:2" d="M1020 1153c2 1 6 4 9 3 2 0 6-5 7-6"/>
<path class="l k8" style="stroke-width:2" d="M1127 1068c-3 3-18 10-18 15"/>
<path class="l k6" style="stroke-width:2" d="M1109 1083c0 6 13 12 18 17"/>
<path class="l k5" style="stroke-width:2" d="M1127 1100c4 5 8 10 8 14"/>
<path class="l k3" style="stroke-width:2" d="M1135 1114c0 4-4 8-7 9"/>
<path class="l k2" style="stroke-width:2" d="M1128 1123c-3 2-9 2-11 3"/>
<path class="l k20" style="stroke-width:2" d="M1082 1070c2-3 10-12 15-18 5-6 11-15 16-18"/>
<path class="l k19" style="stroke-width:2" d="M1113 1034c5-3 9-1 14 0"/>
<path class="l k17" style="stroke-width:2" d="M1127 1034c4 1 9 5 12 8"/>
<path class="l k15" style="stroke-width:2" d="M1139 1042c3 3 6 5 6 9"/>
<path class="l k14" style="stroke-width:2" d="M1145 1051c0 5-2 13-5 16"/>
<path class="l k12" style="stroke-width:2" d="M1140 1067c-3 3-9 1-12 3"/>
<path class="l k10" style="stroke-width:2" d="M1128 1070c-3 3-4 8-5 10"/>
<path class="s e14" d="M1093 1047l0-7-5-8-6-10-6-7-3-2-2-2 0 7 5 9 6 9 6 7 3 3zM1112 1022l0-7-4-9-6-9-6-8-3-2-2-2 0 7 4 9 6 9 6 8 3 2z"/>
<path class="s f13" d="M1055 1040l1 6 9 4 11 3 10 1 8-6-4-3-1-6-8-4-11-3-11-1-8 6z"/>
<path class="s f15" d="M1074 1014l1 5 8 5 11 3 10 1 9-5-5-4 0-5-8-5-11-3-11-1-8 5z"/>
<path class="s f14" d="M1094 988l1 5 8 5 11 4 10 1 9-5-5-4 0-6-8-4-11-4-10-1-9 5z"/>
<path class="l k20" style="stroke-width:2" d="M1049 1053c3 0 12 2 16-1 5-4 9-13 11-20 3-7 4-16 4-23-1-6-7-10-6-15 0-5 5-13 9-16 5-4 14-5 18-4 4 0 5 5 6 6"/>
<path class="s f4" d="M1000 1147l-1-5-2-6-2-8-2-8-3-9-2-11-1-4 3 0-5-6-7-6-2 8-3 8 3-1 1 3 3 11 2 10 2 8 2 8 2 7 2 4z"/>
<path class="s f5" d="M1005 1153l1-5-5 0 0 5z"/>
<path class="s f6" d="M1006 1148l1-7 1-9-8 0 0 8 1 8z"/>
<path class="s f7" d="M1008 1132l2-8-10-1 0 9z"/>
<path class="s f8" d="M1010 1124l1-8-11-1 0 8z"/>
<path class="s f9" d="M1011 1116l1-9 0-8-11-1 0 8-1 9z"/>
<path class="s f10" d="M1012 1099l1-6-11-1-1 6z"/>
<path class="l k8" style="stroke-width:2" d="M981 1075c-1-3-5-13-3-17"/>
<path class="l k10" style="stroke-width:2" d="M978 1058c1-5 6-7 10-8"/>
<path class="l k12" style="stroke-width:2" d="M988 1050c4-1 9 0 14 1"/>
<path class="l k14" style="stroke-width:2" d="M1002 1051c5 2 12 4 14 7"/>
<path class="l k12" style="stroke-width:2" d="M1016 1058c3 4 2 11 1 16"/>
<path class="l k11" style="stroke-width:2" d="M1017 1074c-1 5-5 11-7 14-1 3-2 3-3 4"/>
<path class="s f6" d="M999 1184l6-8 10-11-6-5-8 13-5 8z"/>
<path class="s f7" d="M1015 1165l10-13 10-10-8-7-9 12-9 13z"/>
<path class="s f8" d="M1035 1142l9-8-8-9-9 10z"/>
<path class="s f9" d="M1044 1134l10-7-8-10-10 8z"/>
<path class="s f10" d="M1054 1127l9-8-9-9-8 7z"/>
<path class="s f11" d="M1063 1119l8-9-10-7-7 7z"/>
<path class="s f12" d="M1071 1110l6-10-12-6-4 9z"/>
<path class="s f14" d="M1077 1100l4-11-12-4-4 9z"/>
<path class="s f16" d="M1081 1089l3-9-12-4-3 9z"/>
<path class="s f18" d="M1084 1080l2-6-12-4-2 6z"/>
<path class="s f6" d="M992 1186l6-7-4-3-5 8z"/>
<path class="s f7" d="M998 1179l9-12-7-3-6 12z"/>
<path class="s f8" d="M1007 1167l9-12-8-5-8 14z"/>
<path class="s f9" d="M1016 1155l7-11-9-6-6 12z"/>
<path class="s f10" d="M1023 1144l7-11-12-5-4 10z"/>
<path class="s f11" d="M1030 1133l4-10-12-5-4 10z"/>
<path class="s f13" d="M1034 1123l4-9-12-5-4 9z"/>
<path class="s f14" d="M1038 1114l4-10-12-5-4 10z"/>
<path class="s f15" d="M1042 1104l3-10-12-4-3 9z"/>
<path class="s f16" d="M1045 1094l3-11 4 1-20-6 4 2-3 10z"/>
<path class="s f17" d="M1052 1084l-3-11-9-2-8 7z"/>
<path class="s f18" d="M1049 1073l-3-7-6 5z"/>
<path class="s e0" d="M1091 1221l-2-7-8-8-11-7-9-5-4-1-2-1 2 7 8 7 11 7 8 6 5 1zM1101 1191l-1-8-7-8-9-9-8-7-4-1-2-1 1 7 7 8 9 9 7 7 4 2zM1116 1156l-2-7-8-7-10-8-9-6-4-1-3 0 3 7 8 7 10 8 8 5 5 1z"/>
<path class="s f0" d="M1050 1229l3 6 10 0 13-1 11-4 6-9-6-1-3-6-10-1-13 2-11 3-6 10zM1059 1193l2 6 10 2 13 1 11-2 7-9-5-2-3-6-10-2-12 0-12 2-7 9zM1074 1159l2 5 10 3 13 0 11-2 8-8-6-2-2-6-10-3-13 0-11 2-8 8zM1085 1128l3 5 10 1 12-1 11-3 7-9-6-2-3-5-10-1-13 1-11 3-6 9z"/>
<path class="s e4" d="M1037 1141l-1-5-5-7-7-7-7-5-3-2-2 0 1 6 6 6 7 7 6 5 3 2z"/>
<path class="s e5" d="M1048 1108l-2-6-7-5-8-5-7-4-4-1-2 0 2 5 7 6 8 5 7 4 4 0z"/>
<path class="s f3" d="M1003 1143l2 5 8 2 10 0 9-1 6-7-5-2-2-4-7-2-10-1-9 2-6 6z"/>
<path class="s f5" d="M1016 1116l3 4 8 0 9-1 9-3 4-8-5-1-2-4-8 0-10 1-8 3-5 7z"/>
<path class="s f6" d="M1022 1087l3 4 8-1 9-2 8-4 4-8-5-1-3-3-8 0-9 2-8 5-4 8z"/>
<path class="l k7" style="stroke-width:2" d="M974 1188c-2 3-9 11-12 17-2 6 2 14-1 18-3 5-12 7-17 8-5 1-12-2-15-2-3 1-3 6-3 7"/>
<path class="l k6" style="stroke-width:2" d="M921 1237c1-2 1-10 3-15 2-5 8-11 10-14"/>
<path class="l k7" style="stroke-width:2" d="M965 1201c0 3-1 13 0 17 1 5 6 8 7 10"/>
<path class="l k7" style="stroke-width:2" d="M984 1189c1 2 0 9 2 12 3 2 9 1 12 4 4 2 6 6 8 10"/>
<path class="l k6" style="stroke-width:2" d="M1006 1215c3 3 7 7 10 10"/>
<path class="l k5" style="stroke-width:2" d="M1016 1225c3 2 6 4 11 4"/>
<path class="l k4" style="stroke-width:2" d="M1027 1229c4 0 14-5 17-6"/>
<path class="l k4" style="stroke-width:2" d="M1002 1160c1 0 6 2 9 1 3-1 8-6 10-7"/>
<path class="l k8" style="stroke-width:2" d="M1089 1069c-2 3-15 11-15 16"/>
<path class="l k7" style="stroke-width:2" d="M1074 1085c1 4 12 8 17 13"/>
<path class="l k6" style="stroke-width:2" d="M1091 1098c6 4 14 9 15 12"/>
<path class="l k5" style="stroke-width:2" d="M1106 1110c1 3-8 5-11 7"/>
<path class="l k3" style="stroke-width:2" d="M1095 1117c-4 1-8 1-10 1"/>
<path class="l k19" style="stroke-width:2" d="M1053 1076c1-3 7-12 11-19 3-6 6-14 10-18"/>
<path class="l k18" style="stroke-width:2" d="M1074 1039c3-3 8-2 12-2"/>
<path class="l k17" style="stroke-width:2" d="M1086 1037c4-1 8-2 12 1"/>
<path class="l k15" style="stroke-width:2" d="M1098 1038c5 4 13 15 13 19"/>
<path class="l k14" style="stroke-width:2" d="M1111 1057c1 4-6 5-9 7"/>
<path class="l k12" style="stroke-width:2" d="M1102 1064c-3 2-7 5-8 6"/>
<path class="l k11" style="stroke-width:2" d="M1094 1070c-2 2 0 1 0 2"/>
<path class="s e14" d="M1063 1048l-1-6-6-9-9-8-7-7-3-2-2-1 1 7 6 8 8 9 7 6 4 3zM1078 1019l0-7-5-9-6-9-6-8-3-2-2-2 0 7 4 9 7 10 6 7 3 3z"/>
<path class="s f13" d="M1024 1055l3 5 9 1 12-1 10-3 7-8-6-2-3-5-9-1-12 1-10 3-6 8z"/>
<path class="s f15" d="M1038 1017l2 6 9 2 12 2 10 0 8-7-5-3-2-5-9-3-11-2-11 1-8 6z"/>
<path class="l k19" style="stroke-width:2" d="M1023 1070c1-2 3-5 5-10 3-5 9-13 11-20 2-7 4-15 3-20-1-6-9-11-9-16 1-4 7-11 11-14 5-3 14-4 17-4 3 1 2 5 2 5"/>
<path class="s f6" d="M988 1160l-3-6-4-7-10 5 5 8 3 5z"/>
<path class="s f5" d="M981 1147l-5-8-3-7-2-7-2-6 4-1-2-1-6-6-4-4-2 5-3 8-1 2 4-1 1 7 3 8 4 8 4 8z"/>
<path class="s f6" d="M985 1162l2-4-5-1-1 4z"/>
<path class="s f7" d="M987 1158l2-7 2-7-9-1 0 7 0 7z"/>
<path class="s f8" d="M991 1144l1-8-10 0 0 7z"/>
<path class="s f9" d="M992 1136l0-9-2-9-11 2 2 9 1 7z"/>
<path class="s f10" d="M990 1118l-2-8-10 2 1 8z"/>
<path class="s f11" d="M988 1110l-1-5-10 2 1 5z"/>
<path class="l k8" style="stroke-width:2" d="M958 1094c0-3-3-12-2-16"/>
<path class="l k10" style="stroke-width:2" d="M956 1078c1-4 3-7 7-9"/>
<path class="l k12" style="stroke-width:2" d="M963 1069c4-2 15-3 19-2"/>
<path class="l k14" style="stroke-width:2" d="M982 1067c3 1 3 3 4 6"/>
<path class="l k13" style="stroke-width:2" d="M986 1073c2 4 6 12 6 16"/>
<path class="l k12" style="stroke-width:2" d="M992 1089c0 4-4 6-5 9"/>
<path class="l k11" style="stroke-width:2" d="M987 1098c0 3 1 8 1 9"/>
<path class="s f7" d="M983 1191l6-7 9-11-6-4-7 11-5 9z"/>
<path class="s f8" d="M998 1173l10-12 8-11-9-6-7 12-8 13z"/>
<path class="s f9" d="M1016 1150l7-10-10-6-6 10z"/>
<path class="s f10" d="M1023 1140l7-10-11-6-6 10z"/>
<path class="s f11" d="M1030 1130l5-9 5-9-12-6-4 9-5 9z"/>
<path class="s f13" d="M1040 1112l3-10-12-4-3 8z"/>
<path class="s f14" d="M1043 1102l3-9-13-3-2 8z"/>
<path class="s f16" d="M1046 1093l1-7-12-3-2 7z"/>
<path class="s f17" d="M1047 1086l1-5-12-3-1 5z"/>
<path class="s f7" d="M978 1190l4-8-5-2-3 8z"/>
<path class="s f8" d="M982 1182l7-11-7-3-5 12z"/>
<path class="s f9" d="M989 1171l7-13-9-4-5 14z"/>
<path class="s f10" d="M996 1158l5-11-10-4-4 11z"/>
<path class="s f11" d="M1001 1147l5-9-12-5-3 10z"/>
<path class="s f12" d="M1006 1138l4-8-12-5-4 8z"/>
<path class="s f13" d="M1010 1130l3-8-12-5-3 8z"/>
<path class="s f14" d="M1013 1122l3-9-12-4-3 8z"/>
<path class="s f15" d="M1016 1113l3-10-13-3-2 9z"/>
<path class="s f16" d="M1019 1103l3-11-13-3-3 11z"/>
<path class="s f17" d="M1026 1093l-4-11-3-7-6 5-8 8z"/>
<path class="s e2" d="M1077 1214l-3-6-9-7-11-6-9-4-4 0-3-1 3 7 9 6 11 6 9 4 4 1zM1083 1186l-2-7-8-8-9-7-9-6-4 0-2-1 1 7 8 7 10 7 9 6 4 1zM1094 1153l-3-7-9-6-11-6-9-5-4 0-3-1 3 7 9 6 11 6 9 5 4 0z"/>
<path class="s f2" d="M1037 1225l3 5 10 0 13-2 10-4 6-10-6-1-4-5-10 0-12 2-11 4-5 10zM1042 1191l3 6 10 2 12-1 11-3 7-9-6-2-3-5-10-2-12 1-11 3-7 9zM1053 1158l3 6 9 1 13 0 11-3 7-9-6-1-3-6-10-2-12 1-11 2-7 9zM1060 1129l3 6 10 0 12-2 11-4 6-9-6-1-4-6-10 0-12 1-11 4-6 10z"/>
<path class="s e4" d="M1052 1123l0-6-5-7-6-8-5-6-3-3-2 0 0 6 5 7 6 8 5 6 3 2z"/>
<path class="s e6" d="M1068 1091l0-6-5-8-6-7-6-6-3-2-2-1 0 6 5 7 7 8 5 6 3 2z"/>
<path class="s f4" d="M1018 1125l2 4 8 2 10 1 9-2 6-6-4-3-3-4-7-2-10 0-9 1-7 7z"/>
<path class="s f5" d="M1034 1094l3 4 7 2 10 0 10-2 5-7-4-2-3-4-7-1-10-1-9 2-6 7z"/>
<path class="l k6" style="stroke-width:2" d="M908 1280c0-4 0-14 0-20-1-6-4-13-4-16"/>
<path class="l k4" style="stroke-width:9" d="M901 1245c3-1 18-11 23-10 5 0 4 7 7 12 3 5 6 17 9 17 4 1 11-10 14-14 2-4 2-10 3-12"/>
<path class="l k1" style="stroke-width:2" d="M956 1240c2-1 9 0 12-4 4-4 8-13 9-20 1-7-3-18-3-21"/>
<path class="l k1" style="stroke-width:2" d="M974 1196c2 2 6 10 8 14 2 4 4 8 4 9"/>
<path class="l k1" style="stroke-width:2" d="M976 1198c3 0 11-4 15-3 4 1 8 3 10 9 3 5 2 18 3 24 2 5 2 7 6 8 3 2 10 1 16 0 5-1 14-6 16-7"/>
<path class="l k6" style="stroke-width:2" d="M979 1132c3 1 12 6 16 7 5 2 10 2 13 2"/>
<path class="l k3" style="stroke-width:2" d="M1005 1149c3 1 11 4 16 4 5 0 10-4 12-5"/>
<path class="l k18" style="stroke-width:2" d="M1076 1083c1-4 6-16 8-22 3-5 3-8 7-11"/>
<path class="l k17" style="stroke-width:2" d="M1091 1050c5-3 14-5 18-5"/>
<path class="l k15" style="stroke-width:2" d="M1109 1045c4 1 6 3 8 6"/>
<path class="l k13" style="stroke-width:2" d="M1117 1051c1 3 4 9 1 11"/>
<path class="l k11" style="stroke-width:2" d="M1118 1062c-3 3-14 1-18 2"/>
<path class="l k9" style="stroke-width:2" d="M1100 1064c-4 2-6 4-8 10"/>
<path class="l k8" style="stroke-width:2" d="M1092 1074c-1 5-3 17-2 22"/>
<path class="l k6" style="stroke-width:2" d="M1090 1096c1 5 7 8 9 9"/>
<path class="s e12" d="M1089 1048l0-6-6-9-7-9-6-7-3-2-2-2 0 7 5 9 7 9 7 7 3 2z"/>
<path class="s e10" d="M1107 1020l0-7-4-9-7-10-5-7-3-3-2-1-1 6 5 10 6 9 6 8 3 2z"/>
<path class="s f13" d="M1050 1049l2 5 9 2 12 2 10-2 8-7-6-2-2-6-9-2-11-1-11 1-7 7z"/>
<path class="s f11" d="M1068 1016l2 5 8 3 12 3 10 0 8-6-4-4-2-5-9-3-11-3-11 0-8 7z"/>
<path class="l k19" style="stroke-width:2" d="M1044 1062c2-4 9-17 12-23 3-6 6-7 5-13"/>
<path class="l k18" style="stroke-width:2" d="M1061 1026c0-6-7-14-7-21 0-7 4-18 8-22"/>
<path class="l k17" style="stroke-width:2" d="M1062 983c4-5 10-4 15-3"/>
<path class="l k16" style="stroke-width:2" d="M1077 980c5 0 10 5 13 6"/>
<path class="s f4" d="M985 1174l0-8 1-10-6 0 1 11 1 7z"/>
<path class="s f5" d="M986 1156l0-13 0-13-2-14-10 2 2 13 2 13 2 12z"/>
<path class="s f6" d="M984 1116l-3-15-2-12-10 2 2 11 3 16z"/>
<path class="s f7" d="M982 1088l-2-2-8-9-5 11-1 3z"/>
<path class="s f3" d="M988 1174l1-8-4 0 1 8z"/>
<path class="s f5" d="M989 1166l1-11-6 0 1 11z"/>
<path class="s f6" d="M990 1155l1-13-8 0 1 13z"/>
<path class="s f8" d="M991 1142l2-11-10 0 0 11z"/>
<path class="s f9" d="M993 1131l1-10-10-1-1 11z"/>
<path class="s f12" d="M994 1121l2-9-10-2-2 10z"/>
<path class="s f14" d="M996 1112l1-9-10-2-1 9z"/>
<path class="s f16" d="M997 1103l1-6-10-2-1 6z"/>
<path class="l k12" style="stroke-width:2" d="M975 1072c1-2 5-11 9-13"/>
<path class="l k15" style="stroke-width:2" d="M984 1059c3-2 8 0 12 1"/>
<path class="l k17" style="stroke-width:2" d="M996 1060c4 2 12 4 14 8"/>
<path class="l k19" style="stroke-width:2" d="M1010 1068c2 3 0 9-2 14"/>
<path class="l k18" style="stroke-width:2" d="M1008 1082c-3 5-12 13-14 15"/>
<path class="s f1" d="M1005 1188l5-8-4-2-4 8z"/>
<path class="s f2" d="M1010 1180l8-11-6-4-6 13z"/>
<path class="s f3" d="M1018 1169l8-12 8-10-8-7-7 12-7 13z"/>
<path class="s f4" d="M1034 1147l8-8-9-8-7 9z"/>
<path class="s f6" d="M1042 1139l7-8-9-9-7 9z"/>
<path class="s f8" d="M1049 1131l7-7-9-9-7 7z"/>
<path class="s f9" d="M1056 1124l7-7-10-9-6 7z"/>
<path class="s f11" d="M1063 1117l6-8-10-8-6 7z"/>
<path class="s f13" d="M1069 1109l6-7-10-8-6 7z"/>
<path class="s f15" d="M1075 1102l5-7-11-8-4 7z"/>
<path class="s f17" d="M1080 1095l3-5-10-7-4 4z"/>
<path class="s f2" d="M977 1194l6-9-3-1-4 9z"/>
<path class="s f3" d="M983 1185l9-12-5-3-7 14z"/>
<path class="s f4" d="M992 1173l9-14-7-4-7 15z"/>
<path class="s f5" d="M1001 1159l9-12-10-5-6 13z"/>
<path class="s f6" d="M1010 1147l6-12-11-5-5 12z"/>
<path class="s f8" d="M1016 1135l6-11-12-5-5 11z"/>
<path class="s f10" d="M1022 1124l5-11-12-5-5 11z"/>
<path class="s f12" d="M1027 1113l5-10-12-6-5 11z"/>
<path class="s f13" d="M1032 1103l5-11-11-6-6 11z"/>
<path class="s f15" d="M1037 1092l7-11-11-6-7 11z"/>
<path class="s f16" d="M1044 1081l1-2-11-7-1 3z"/>
<path class="s f17" d="M1049 1081l-1-10-9-6-9 5z"/>
<path class="s f18" d="M1048 1071l0-10-9 4z"/>
<path class="s e2" d="M1075 1227l-1-7-7-9-9-9-7-6-4-2-3-1 1 7 7 9 9 8 8 7 4 2zM1091 1195l-1-7-7-9-9-9-8-7-4-1-2-2 1 8 7 8 9 9 7 7 4 2zM1106 1162l-1-7-7-9-9-8-8-7-4-1-3-1 1 7 8 8 9 9 8 6 4 2z"/>
<path class="s e3" d="M1120 1128l-1-7-7-8-10-8-8-7-4-1-2-1 1 7 8 8 9 8 8 7 4 1z"/>
<path class="s f2" d="M1033 1227l2 6 10 3 12 1 12-1 8-8-6-3-2-6-10-3-12-1-12 1-8 8zM1048 1195l3 6 9 2 13 2 11-1 8-8-6-3-2-6-9-3-13-1-11 1-8 8zM1064 1162l2 6 10 3 12 1 12-1 8-8-6-3-2-6-10-2-12-2-12 2-8 8z"/>
<path class="s f3" d="M1078 1130l3 6 10 3 12 0 12-2 7-8-6-2-2-6-10-2-12-1-12 2-8 8z"/>
<path class="s e4" d="M1067 1116l-1-6-5-7-6-8-6-6-3-2-2-1 0 6 5 8 7 7 6 7 3 2z"/>
<path class="s e6" d="M1082 1087l0-6-4-8-6-8-4-7-3-2-2-1 0 6 4 8 5 8 5 7 3 2z"/>
<path class="s f3" d="M1033 1123l3 4 8 0 10 0 9-3 5-7-5-2-3-4-8-1-9 1-9 3-6 7z"/>
<path class="s f5" d="M1047 1088l2 4 8 2 10 1 9-1 7-6-5-3-2-4-8-2-9-1-10 1-6 7z"/>
<path class="l k6" style="stroke-width:2" d="M899 1273c1-3 7-16 8-22 0-5-4-10-4-11"/>
<path class="l k4" style="stroke-width:9" d="M904 1241c3-3 12-15 17-14 4 1 8 14 12 19 4 5 7 11 11 10 4 0 10-8 13-12 2-4 2-10 2-11"/>
<path class="l k1" style="stroke-width:2" d="M958 1238c2-1 9-3 13-8 4-4 10-14 11-20 1-5-2-12-3-15"/>
<path class="l k1" style="stroke-width:2" d="M982 1191c1 2 7 8 9 13 2 4 2 11 2 13"/>
<path class="l k1" style="stroke-width:2" d="M982 1194c3-1 13-3 16-2 4 2 3 3 5 8 2 5 5 17 7 22 2 6 1 8 5 11 4 3 12 7 18 6 6-1 14-9 17-11"/>
<path class="l k6" style="stroke-width:2" d="M990 1122c3 2 11 11 15 14 3 2 6 2 7 3"/>
<path class="l k2" style="stroke-width:2" d="M1015 1147c2 1 5 7 10 6 5 0 15-6 18-7"/>
<path class="l k20" style="stroke-width:2" d="M1093 1082c1-4 5-18 8-23 4-6 8-7 12-10"/>
<path class="l k18" style="stroke-width:2" d="M1113 1049c5-3 11-9 15-8"/>
<path class="l k16" style="stroke-width:2" d="M1128 1041c4 1 7 11 8 14"/>
<path class="l k14" style="stroke-width:2" d="M1136 1055c1 3 1 6-1 7"/>
<path class="l k11" style="stroke-width:2" d="M1135 1062c-3 1-8-3-13-2"/>
<path class="l k10" style="stroke-width:2" d="M1122 1060c-6 1-17 4-20 10"/>
<path class="l k8" style="stroke-width:2" d="M1102 1070c-4 6-3 20-1 25"/>
<path class="l k7" style="stroke-width:2" d="M1101 1095c1 5 8 6 10 7"/>
<path class="s e13" d="M1105 1048l1-7-5-9-6-10-5-7-4-3-2-1 0 7 5 9 6 9 5 8 3 3z"/>
<path class="s e11" d="M1127 1016l0-7-5-9-7-9-6-8-3-2-2-2 0 7 5 9 7 10 6 7 3 3z"/>
<path class="s f14" d="M1066 1043l2 5 8 4 12 3 10 0 9-6-5-3-1-6-9-3-11-3-11-1-8 6z"/>
<path class="s f12" d="M1088 1013l2 5 8 3 12 3 11-1 7-6-4-3-2-6-9-3-11-2-11 0-8 7z"/>
<path class="l k20" style="stroke-width:2" d="M1065 1061c1-4 3-16 4-24 2-7 6-14 6-21 1-7-5-12-5-19 1-7 4-18 8-22"/>
<path class="l k19" style="stroke-width:2" d="M1078 975c5-4 13-4 19-3"/>
<path class="l k17" style="stroke-width:2" d="M1097 972c5 0 10 5 12 6"/>
<path class="s f4" d="M996 1170l-1-8 0-10-1-13-7 1 2 12 2 11 2 7z"/>
<path class="s f5" d="M994 1139l-1-13 0-16-10 1 1 16 3 13z"/>
<path class="s f6" d="M993 1110l-2-18-10 1 2 18z"/>
<path class="s f7" d="M991 1092l-1-15 4-1-1-1-9-11-6 12-1 1 3 0 1 16z"/>
<path class="s f3" d="M991 1172l1-9-3 0 0 9z"/>
<path class="s f5" d="M992 1163l3-12-6-1 0 13z"/>
<path class="s f6" d="M995 1151l3-14-8-1-1 14z"/>
<path class="s f8" d="M998 1137l3-12-10-2-1 13z"/>
<path class="s f10" d="M1001 1125l2-10-9-3-3 11z"/>
<path class="s f12" d="M1003 1115l3-9-9-3-3 9z"/>
<path class="s f15" d="M1006 1106l3-8-9-3-3 8z"/>
<path class="s f17" d="M1009 1098l2-6-9-3-2 6z"/>
<path class="l k12" style="stroke-width:2" d="M984 1066c2-3 7-14 11-17"/>
<path class="l k16" style="stroke-width:2" d="M995 1049c3-2 7-1 12 1"/>
<path class="l k18" style="stroke-width:2" d="M1007 1050c5 1 14 4 16 8"/>
<path class="l k20" style="stroke-width:2" d="M1023 1058c2 3-2 10-5 15-4 5-14 13-16 16"/>
<path class="s f1" d="M1009 1185l5-8-4-2-4 8z"/>
<path class="s f2" d="M1014 1177l7-11 9-12-7-4-7 13-6 12z"/>
<path class="s f3" d="M1030 1154l8-10-8-6-7 12z"/>
<path class="s f4" d="M1038 1144l9-9-9-8-8 11z"/>
<path class="s f6" d="M1047 1135l9-9-10-9-8 10z"/>
<path class="s f8" d="M1056 1126l9-9-10-9-9 9z"/>
<path class="s f10" d="M1065 1117l7-8-9-9-8 8z"/>
<path class="s f12" d="M1072 1109l7-7-9-9-7 7z"/>
<path class="s f14" d="M1079 1102l7-6-9-9-7 6z"/>
<path class="s f16" d="M1086 1096l5-5-8-10-6 6z"/>
<path class="s f18" d="M1091 1091l4-4-8-9-4 3z"/>
<path class="s f1" d="M978 1189l8-9-3-2-6 9z"/>
<path class="s f2" d="M986 1180l11-13-5-4-9 15z"/>
<path class="s f4" d="M997 1167l12-14-7-5-10 15z"/>
<path class="s f5" d="M1009 1153l10-13-9-6-8 14z"/>
<path class="s f6" d="M1019 1140l8-11-11-7-6 12z"/>
<path class="s f8" d="M1027 1129l7-10-11-7-7 10z"/>
<path class="s f11" d="M1034 1119l6-10-11-7-6 10z"/>
<path class="s f12" d="M1040 1109l5-10-11-6-5 9z"/>
<path class="s f14" d="M1045 1099l7-10-12-6-6 10z"/>
<path class="s f16" d="M1052 1089l6-10-12-7-6 11z"/>
<path class="s f17" d="M1058 1079l0-1-11-7-1 1z"/>
<path class="s f18" d="M1062 1080l-1-11-8-5-10 5z"/>
<path class="s f19" d="M1061 1069l0-9-8 4z"/>
<path class="s e2" d="M1085 1226l-2-7-7-8-10-9-8-6-4-2-2-1 1 8 8 8 9 8 8 7 4 1zM1097 1195l0-7-5-10-7-10-7-8-3-2-3-2 0 8 5 9 8 10 6 9 4 2zM1119 1165l-1-7-6-9-9-9-8-7-4-2-2-1 1 7 7 9 8 9 8 7 3 2z"/>
<path class="s e3" d="M1135 1128l-1-8-8-8-10-8-8-6-4-1-3-1 2 7 8 8 9 8 9 6 4 2z"/>
<path class="s f2" d="M1043 1230l2 6 10 2 13 0 11-2 8-9-6-2-3-6-10-2-13 0-11 3-7 8zM1056 1195l2 6 9 3 13 1 11-1 8-8-6-3-2-6-9-2-13-2-11 2-8 8zM1076 1159l1 6 10 4 12 4 12 0 9-7-5-3-1-6-10-5-12-3-12 0-9 6z"/>
<path class="s f3" d="M1093 1132l3 5 10 2 12 0 12-2 7-9-6-2-3-6-9-1-13-1-12 3-7 8z"/>
<path class="s e4" d="M1048 1125l0-6-5-7-7-8-6-5-3-2-2-1 1 6 5 7 7 7 5 6 3 2z"/>
<path class="s e5" d="M1061 1093l-1-6-5-7-8-6-6-5-3-2-2 0 1 5 6 7 7 7 6 5 4 1z"/>
<path class="s f3" d="M1015 1124l1 5 8 2 10 1 9-1 6-6-4-2-2-5-7-2-10-1-9 1-7 6z"/>
<path class="s f5" d="M1029 1097l2 5 8 1 10-1 8-2 6-7-5-1-2-5-8-1-10 0-9 3-5 6z"/>
<path class="l k5" style="stroke-width:2" d="M910 1283c-1-3-2-12-3-18-2-5-5-13-6-16"/>
<path class="l k4" style="stroke-width:9" d="M903 1250c3-2 14-12 19-12 5 0 6 10 9 15 4 5 9 16 12 15 3 0 5-12 8-16 2-4 6-6 7-8"/>
<path class="l k1" style="stroke-width:2" d="M955 1239c2-1 10 1 13-2 4-4 8-13 8-20 1-6-4-14-5-17"/>
<path class="l k1" style="stroke-width:2" d="M969 1201c1 2 6 6 9 11 3 4 7 12 8 14"/>
<path class="l k1" style="stroke-width:2" d="M971 1199c3 0 14-3 18-1 4 1 5 4 8 9 2 5 6 17 8 22 2 5 0 5 3 7 4 2 12 5 17 4 6-1 13-8 16-9"/>
<path class="l k5" style="stroke-width:2" d="M974 1136c2 1 7 3 11 5 4 1 12 3 14 4"/>
<path class="l k3" style="stroke-width:2" d="M998 1155c3 0 12 3 17 2 5 0 11-3 13-4"/>
<path class="l k17" style="stroke-width:2" d="M1067 1087c1-3 3-15 5-21 3-6 6-11 10-14"/>
<path class="l k16" style="stroke-width:2" d="M1082 1052c4-3 9-6 14-5"/>
<path class="l k14" style="stroke-width:2" d="M1096 1047c4 0 11 7 13 9"/>
<path class="l k12" style="stroke-width:2" d="M1109 1056c1 3 0 5-3 7"/>
<path class="l k10" style="stroke-width:2" d="M1106 1063c-3 1-10 1-14 3"/>
<path class="l k9" style="stroke-width:2" d="M1092 1066c-4 2-9 4-11 9"/>
<path class="l k8" style="stroke-width:2" d="M1081 1075c-1 5 0 15 0 20"/>
<path class="l k6" style="stroke-width:2" d="M1081 1095c1 5 3 9 3 11"/>
<path class="s e11" d="M1076 1052l0-7-6-8-8-9-7-6-3-2-3-1 1 6 6 9 8 8 7 7 3 2z"/>
<path class="s e10" d="M1092 1024l0-7-5-9-6-9-6-8-3-2-2-2-1 7 5 9 7 10 5 7 4 2z"/>
<path class="s f12" d="M1038 1053l2 5 9 2 11 1 11-1 7-8-5-2-3-5-8-2-12-1-11 1-7 7z"/>
<path class="s f10" d="M1053 1021l2 5 8 3 11 2 11 0 8-6-5-4-2-5-8-3-12-2-10 0-8 7z"/>
<path class="l k18" style="stroke-width:2" d="M1037 1065c1-3 4-13 6-19 2-6 8-11 8-17"/>
<path class="l k17" style="stroke-width:2" d="M1051 1029c1-7-4-14-5-21 0-7-1-16 3-20 3-3 12-3 17-3"/>
<path class="l k15" style="stroke-width:2" d="M1066 985c5-1 10 1 12 1"/>
<path class="s f4" d="M981 1179l0-7-1-11-1-12-8 1 3 12 3 10 1 8z"/>
<path class="s f5" d="M979 1149l-1-13-2-13-10 1 2 14 3 12z"/>
<path class="s f6" d="M976 1123l-1-16-2-12 4 0-2-3-14 2-1 3 3-1 2 12 1 16z"/>
<path class="s f7" d="M975 1092l-8-9-6 11z"/>
<path class="s f3" d="M981 1182l2-8-4-1 0 9z"/>
<path class="s f5" d="M983 1174l3-13-6-1-1 13z"/>
<path class="s f6" d="M986 1161l3-14-9-1 0 14z"/>
<path class="s f7" d="M989 1147l2-11-10-1-1 11z"/>
<path class="s f9" d="M991 1136l1-10-10 0-1 9z"/>
<path class="s f11" d="M992 1126l0-9-10 0 0 9z"/>
<path class="s f13" d="M992 1117l0-7-10 0 0 7z"/>
<path class="s f15" d="M992 1110l0-5-10 0 0 5z"/>
<path class="l k11" style="stroke-width:2" d="M964 1081c2-2 7-11 11-14"/>
<path class="l k14" style="stroke-width:2" d="M975 1067c4-3 8-3 12-2"/>
<path class="l k16" style="stroke-width:2" d="M987 1065c4 1 11 4 13 8"/>
<path class="l k18" style="stroke-width:2" d="M1000 1073c2 3 2 8 0 13"/>
<path class="l k17" style="stroke-width:2" d="M1000 1086c-2 5-10 13-12 16"/>
<path class="s f1" d="M1001 1190l5-8-4-2-4 8z"/>
<path class="s f2" d="M1006 1182l6-10-5-3-5 11z"/>
<path class="s f3" d="M1012 1172l8-12 7-10-9-6-5 12-6 13z"/>
<path class="s f4" d="M1027 1150l6-9-9-6-6 9z"/>
<path class="s f6" d="M1033 1141l7-8-10-8-6 10z"/>
<path class="s f7" d="M1040 1133l6-8-10-8-6 8z"/>
<path class="s f9" d="M1046 1125l6-8-10-8-6 8z"/>
<path class="s f10" d="M1052 1117l6-8-11-8-5 8z"/>
<path class="s f12" d="M1058 1109l5-8-10-7-6 7z"/>
<path class="s f14" d="M1063 1101l5-7-11-7-4 7z"/>
<path class="s f16" d="M1068 1094l3-4-11-8-3 5z"/>
<path class="s f2" d="M974 1195l5-8-3-2-4 9z"/>
<path class="s f3" d="M979 1187l8-12-5-3-6 13z"/>
<path class="s f4" d="M987 1175l8-13-7-4-6 14z"/>
<path class="s f5" d="M995 1162l8-13-9-4-6 13z"/>
<path class="s f6" d="M1003 1149l7-11-12-5-4 12z"/>
<path class="s f8" d="M1010 1138l5-11-11-5-6 11z"/>
<path class="s f10" d="M1015 1127l5-11-11-5-5 11z"/>
<path class="s f11" d="M1020 1116l5-10-11-6-5 11z"/>
<path class="s f13" d="M1025 1106l5-11-12-5-4 10z"/>
<path class="s f14" d="M1030 1095l5-10-12-5-5 10z"/>
<path class="s f15" d="M1035 1085l0-1-12-5 0 1z"/>
<path class="s f16" d="M1039 1086l-2-11-9-4-9 7z"/>
<path class="s f17" d="M1037 1075l-2-8-7 4z"/>
<path class="s e2" d="M1075 1225l-2-7-8-7-10-8-8-6-5-1-2-1 2 7 8 8 10 7 8 6 4 1zM1086 1193l-2-7-8-8-9-8-8-6-4-1-3-1 2 7 7 8 10 8 8 6 4 1zM1098 1162l-1-7-8-8-9-9-8-6-4-1-3-1 2 7 7 8 9 8 8 7 4 1z"/>
<path class="s e3" d="M1111 1131l-1-7-7-8-9-9-8-6-4-2-2-1 1 7 7 8 9 9 8 7 4 1z"/>
<path class="s f2" d="M1033 1229l3 6 10 2 12 0 11-3 8-8-6-2-3-6-10-2-12 0-12 3-7 8zM1044 1197l3 6 9 2 13 0 11-2 8-9-6-2-3-6-10-2-12 0-12 2-7 9zM1056 1164l2 6 10 2 13 1 11-2 8-8-6-3-3-6-9-2-13-1-11 2-8 9z"/>
<path class="s f3" d="M1069 1131l2 7 10 2 13 1 11-1 8-8-6-3-2-6-10-2-12-1-12 1-7 8z"/>
<path class="s e5" d="M1062 1128l1-5-3-9-5-8-4-8-3-2-1-2-1 6 3 9 5 8 4 8 2 2z"/>
<path class="s e7" d="M1084 1095l0-6-5-7-6-8-6-6-3-3-2-1 1 6 4 8 7 8 5 6 3 2z"/>
<path class="s f5" d="M1027 1125l2 4 7 3 10 3 10 0 7-6-4-3-2-4-7-3-10-3-9 0-7 5z"/>
<path class="s f6" d="M1049 1096l3 5 8 2 10 1 9-2 6-6-4-2-2-5-8-2-10-1-9 2-7 6z"/>
<path class="l k6" style="stroke-width:2" d="M900 1266c1-2 3-11 3-16 1-5 1-13 1-15"/>
<path class="l k5" style="stroke-width:9" d="M905 1236c3-2 12-12 16-12 4 1 6 10 9 16 3 6 5 18 9 19 3 0 11-13 14-17 2-4 0-6 0-8"/>
<path class="l k2" style="stroke-width:2" d="M955 1234c3-1 10-2 15-6 4-4 9-10 10-16 2-6-1-17-1-20"/>
<path class="l k2" style="stroke-width:2" d="M979 1188c0 3 2 14 3 19 1 5 3 10 4 12"/>
<path class="l k2" style="stroke-width:2" d="M982 1191c2 0 11-1 15 2 3 2 7 9 8 14 2 5 0 12 1 17 1 5 3 11 7 14 3 3 10 4 15 2 4-1 11-8 13-10"/>
<path class="l k6" style="stroke-width:2" d="M992 1127c2 1 7 7 11 9 4 3 10 4 12 4"/>
<path class="l k4" style="stroke-width:2" d="M1015 1150c3 1 14 4 19 5 5 0 9-1 11-2"/>
<path class="l k19" style="stroke-width:2" d="M1096 1086c1-2 0-10 4-13 3-4 10-8 15-10"/>
<path class="l k18" style="stroke-width:2" d="M1115 1063c5-3 9-7 14-6"/>
<path class="l k16" style="stroke-width:2" d="M1129 1057c4 1 11 8 12 11"/>
<path class="l k14" style="stroke-width:2" d="M1141 1068c2 3 0 6-4 6"/>
<path class="l k12" style="stroke-width:2" d="M1137 1074c-3 1-11-4-15-4"/>
<path class="l k10" style="stroke-width:2" d="M1122 1070c-4 1-8 4-11 10"/>
<path class="l k9" style="stroke-width:2" d="M1111 1080c-3 6-5 22-5 28"/>
<path class="l k7" style="stroke-width:2" d="M1106 1108c0 6 4 5 4 6"/>
<path class="s e13" d="M1111 1056l0-7-5-9-6-10-6-7-3-3-2-1 0 7 4 9 7 9 5 8 4 2z"/>
<path class="s e11" d="M1131 1030l1-7-4-10-5-10-5-8-3-3-2-1-1 7 4 9 5 10 5 8 3 3z"/>
<path class="s f14" d="M1072 1052l2 6 8 3 12 2 10 0 8-6-5-3-1-6-9-3-11-2-11 0-8 6z"/>
<path class="s f12" d="M1092 1021l1 6 9 4 11 4 10 1 9-5-5-4-1-6-8-4-11-4-10-1-9 6z"/>
<path class="l k20" style="stroke-width:2" d="M1065 1071c2-4 11-18 14-25 3-7 5-10 6-17"/>
<path class="l k19" style="stroke-width:2" d="M1085 1029c1-7-2-17-1-24 1-7 3-15 6-18"/>
<path class="l k18" style="stroke-width:2" d="M1090 987c3-3 8-1 13 0"/>
<path class="l k17" style="stroke-width:2" d="M1103 987c5 1 14 4 16 5"/>
<path class="s f5" d="M991 1174l1-8 1-11-6 0 1 11 0 8z"/>
<path class="s f6" d="M993 1155l1-13 1-13 1-14-10-1 0 14 0 13 1 14z"/>
<path class="s f7" d="M996 1115l1-16 1-12-10 0-1 11-1 16z"/>
<path class="s f8" d="M1001 1087l-1-2-6-11-7 10-2 2z"/>
<path class="s f4" d="M991 1177l3-8-3-1-2 9z"/>
<path class="s f6" d="M994 1169l4-12-5-1-2 12z"/>
<path class="s f7" d="M998 1157l5-13-8-2-2 14z"/>
<path class="s f9" d="M1003 1144l3-12-9-2-2 12z"/>
<path class="s f10" d="M1006 1132l3-11-10-2-2 11z"/>
<path class="s f13" d="M1009 1121l1-10-10-2-1 10z"/>
<path class="s f15" d="M1010 1111l1-9-9-2-2 9z"/>
<path class="s f17" d="M1011 1102l1-7-10-1 0 6z"/>
<path class="l k13" style="stroke-width:2" d="M986 1073c3-3 13-14 17-18"/>
<path class="l k16" style="stroke-width:2" d="M1003 1055c5-3 6-2 10 0"/>
<path class="l k18" style="stroke-width:2" d="M1013 1055c4 1 14 6 15 10"/>
<path class="l k20" style="stroke-width:2" d="M1028 1065c2 4-1 11-4 16"/>
<path class="l k19" style="stroke-width:2" d="M1024 1081c-3 4-13 10-16 12"/>
<path class="s f2" d="M1010 1184l6-6-3-3-5 7z"/>
<path class="s f3" d="M1016 1178l9-9-5-4-7 10z"/>
<path class="s f4" d="M1025 1169l9-10 9-9-7-7-8 10-8 12z"/>
<path class="s f5" d="M1043 1150l9-7-9-9-7 9z"/>
<path class="s f7" d="M1052 1143l8-8-8-9-9 8z"/>
<path class="s f9" d="M1060 1135l9-7-9-10-8 8z"/>
<path class="s f10" d="M1069 1128l7-7-10-9-6 6z"/>
<path class="s f12" d="M1076 1121l6-7-10-9-6 7z"/>
<path class="s f14" d="M1082 1114l6-7-11-8-5 6z"/>
<path class="s f16" d="M1088 1107l4-6-11-8-4 6z"/>
<path class="s f18" d="M1092 1101l3-4-11-8-3 4z"/>
<path class="s f3" d="M982 1195l7-9-3-2-6 10z"/>
<path class="s f4" d="M989 1186l11-13-5-4-9 15z"/>
<path class="s f5" d="M1000 1173l12-15-8-5-9 16z"/>
<path class="s f6" d="M1012 1158l10-13-10-6-8 14z"/>
<path class="s f7" d="M1022 1145l7-11-11-6-6 11z"/>
<path class="s f9" d="M1029 1134l6-11-11-6-6 11z"/>
<path class="s f11" d="M1035 1123l6-10-12-6-5 10z"/>
<path class="s f13" d="M1041 1113l5-10-11-6-6 10z"/>
<path class="s f14" d="M1046 1103l6-9-11-7-6 10z"/>
<path class="s f16" d="M1052 1094l6-9-11-7-6 9z"/>
<path class="s f17" d="M1061 1088l0-12-7-5-10 4 0 1z"/>
<path class="s f19" d="M1061 1076l1-8-8 3z"/>
<path class="s e3" d="M1079 1235l0-7-6-10-7-9-7-8-4-3-2-1 0 8 6 9 8 10 6 8 4 2zM1099 1201l-1-7-6-9-9-9-7-7-4-2-3-1 1 7 7 9 8 9 8 7 4 2zM1116 1169l-1-8-6-9-7-10-7-8-4-2-2-1 0 7 6 10 8 9 7 8 3 2z"/>
<path class="s e4" d="M1135 1139l0-8-6-9-7-11-7-8-3-2-2-2-1 8 6 10 7 10 7 8 3 2z"/>
<path class="s f3" d="M1037 1231l2 6 9 4 12 2 12 0 9-7-5-3-2-6-9-4-13-3-11 1-9 7zM1057 1199l2 6 9 4 13 2 11-1 9-8-6-3-2-6-9-3-13-2-11 1-9 7zM1073 1168l2 6 10 3 12 1 12-1 8-7-5-3-2-6-10-3-13-2-11 1-8 8z"/>
<path class="s f4" d="M1092 1133l2 7 9 3 12 3 12 1 9-7-5-4-2-6-9-4-12-3-12 0-9 7z"/>
</g>
<g filter="url(#rim)">
<path class="s e1" d="M970 2014l6 4 12 1 13 0 11-1 4-2 2 0-6-5-11-1-13 0-11 1-5 2zM980 2045l5 5 11 3 13 2 11 1 4-1 3 0-5-6-11-3-13-2-11-1-5 1z"/>
<path class="s f1" d="M1000 1981l-6-2-9 6-10 8-7 10 0 11 6-2 6 2 9-5 10-9 7-10 0-11zM1014 2017l-6-3-9 4-11 7-8 9-2 11 6-1 6 3 10-5 10-7 9-8 1-12zM1023 2055l-6-3-10 3-11 6-9 8-3 11 7-1 5 4 10-3 11-7 10-8 2-11z"/>
<path class="l k2" style="stroke-width:2" d="M1003 1928c0 2-2 9-2 15 0 6 2 17 1 22 0 5-4 7-6 7-2 1-6-4-7-5"/>
<path class="l k6" style="stroke-width:2" d="M1003 1933c2 3 6 16 10 21 5 6 13 5 17 11 5 6 9 20 11 24"/>
<path class="l k4" style="stroke-width:2" d="M939 2077c1 2 5 8 5 13 1 4-3 8-2 12 2 4 8 11 14 12 5 2 14 2 19-1 5-3 7-13 11-17 3-5 9-8 11-9"/>
<path class="l k1" style="stroke-width:2" d="M1013 2087c2 0 8-1 11 2 2 2 5 8 3 12-1 4-11 12-10 11 1 0 13-8 16-12 4-5 4-13 5-16"/>
<path class="l k1" style="stroke-width:2" d="M972 1861c2-2 10-6 14-8 5-1 11-2 14 0 3 1 1 5 2 9 2 4 7 14 8 17"/>
<path class="s e3" d="M1034 1900l7 2 12-4 12-5 10-5 4-3 2-2-8-2-11 4-13 5-10 5-3 3z"/>
<path class="s e2" d="M1059 1928l8 3 11-2 13-4 11-4 4-2 2-2-8-3-11 2-13 4-11 4-4 3zM1080 1958l7 4 11 1 14-1 11-2 4-2 2-1-6-4-12-1-13 2-11 1-5 2z"/>
<path class="s e1" d="M1094 1993l6 5 12 1 13 1 12 0 4-2 3-1-6-5-12-1-14-1-11 0-4 2zM1105 2029l5 6 11 4 13 3 11 2 4 0 3 0-5-6-11-5-13-3-10-2-5 0z"/>
<path class="s f3" d="M1048 1857l-6 0-6 9-6 12-3 12 5 11 5-4 7-1 6-9 6-12 2-12-5-11z"/>
<path class="s f2" d="M1077 1887l-6-1-7 9-7 11-3 12 4 12 5-5 7 0 6-8 7-12 4-12-5-11zM1104 1920l-7-2-8 8-8 10-5 12 2 11 6-3 7 1 8-7 8-11 5-11-3-12z"/>
<path class="s f1" d="M1125 1959l-6-2-10 5-10 9-7 10 0 12 7-2 6 2 9-5 10-9 7-11 0-12zM1139 1999l-6-3-10 4-10 8-9 9-1 12 7-1 6 3 9-5 11-8 9-9 1-12z"/>
<path class="l k16" style="stroke-width:2" d="M1059 1936c2-3 3-14 8-15"/>
<path class="l k15" style="stroke-width:2" d="M1067 1921c5-1 17 9 23 10 6 1 9-1 14-3 4-2 13-7 14-9 2-2-1-1-4 0-2 0-9 1-12 3-4 2-7 5-7 9"/>
<path class="l k14" style="stroke-width:2" d="M1095 1931c0 4 4 9 8 13"/>
<path class="l k13" style="stroke-width:2" d="M1103 1944c4 4 10 11 16 13"/>
<path class="l k12" style="stroke-width:2" d="M1119 1957c6 3 16 1 20 4"/>
<path class="l k11" style="stroke-width:2" d="M1139 1961c5 2 6 8 6 13"/>
<path class="l k10" style="stroke-width:2" d="M1145 1974c0 5-3 10-5 14"/>
<path class="l k9" style="stroke-width:2" d="M1140 1988c-3 5-4 9-9 12-5 4-14 5-21 8"/>
<path class="l k8" style="stroke-width:2" d="M1110 2008c-8 3-20 8-25 11"/>
<path class="l k7" style="stroke-width:2" d="M1085 2019c-5 3-6 5-5 9"/>
<path class="l k6" style="stroke-width:2" d="M1080 2028c0 4 6 11 7 16 1 5 0 11-2 16"/>
<path class="l k5" style="stroke-width:2" d="M1085 2060c-2 5-10 11-12 15-3 5-5 8-5 12"/>
<path class="l k4" style="stroke-width:2" d="M1068 2087c0 5 0 11 4 15"/>
<path class="l k3" style="stroke-width:2" d="M1072 2102c4 5 15 11 19 12 5 0 8-6 10-9"/>
<path class="l k2" style="stroke-width:2" d="M1101 2105c1-3-5-6-1-9 4-3 17-5 25-8"/>
<path class="l k1" style="stroke-width:2" d="M1125 2088c7-3 16-7 19-11 3-4 1-9-2-13-4-4-16-8-19-9"/>
<path class="s f5" d="M1011 2028l-2 5-2 8-2 7-2 8-2 6-2 5-2-1 1 3 1 8 1 5 4-4 5-5 2-2-2-1 2-4 2-7 2-7 3-8 2-7 1-5z"/>
<path class="s f3" d="M1041 2081l1-9 1-14 2-15 1-13 2-12 2-11 2-11 2-7-12-2-1 7-2 10-3 12-2 12-1 14-2 15-1 14-1 9z"/>
<path class="s f2" d="M1070 2074l-1-8-2-11-2-13-2-14-5-16-5-18-4-14 3-2-2-2-12-9-4 14-1 3 4-1 4 14 6 19 4 15 3 13 2 13 1 11 1 7z"/>
<path class="l k10" style="stroke-width:2" d="M953 1929c3 0 10 2 15 1 6-1 13-5 19-6 6 0 16 4 18 3"/>
<path class="l k8" style="stroke-width:2" d="M1005 1927c1-1-7-9-10-10"/>
<path class="l k6" style="stroke-width:2" d="M995 1917c-3-2-6-1-8-1"/>
<path class="s e4" d="M954 2052l-3-8-9-7-11-8-9-5-5-1-2-1 2 7 9 8 11 7 10 6 4 1z"/>
<path class="s e5" d="M964 2016l-2-7-8-9-11-8-9-7-4-1-3-1 2 8 8 8 11 8 9 7 4 1zM977 1982l-2-8-7-9-10-9-8-7-4-2-3-1 1 8 8 9 9 9 9 7 4 2z"/>
<path class="s f4" d="M910 2061l3 5 11 1 13-1 12-4 7-10-7-1-3-6-11-1-13 1-12 4-7 10zM919 2023l3 6 11 1 13 0 12-4 8-9-7-2-3-6-11-1-13 0-12 4-7 9z"/>
<path class="s f5" d="M932 1985l2 6 11 2 13 1 12-2 9-9-7-3-2-6-11-2-13-1-13 2-8 9zM947 1948l3 6 10 3 13 1 13-1 8-8-6-3-2-6-11-3-13-2-12 2-9 8z"/>
<path class="l k14" style="stroke-width:2" d="M1004 1874c-2 0-7 0-11 2"/>
<path class="l k13" style="stroke-width:2" d="M993 1876c-5 1-11 1-15 5"/>
<path class="l k12" style="stroke-width:2" d="M978 1881c-3 3-7 12-6 16 2 4 12 4 16 8 5 4 8 12 11 16"/>
<path class="l k13" style="stroke-width:2" d="M999 1921c3 3 4 4 5 5"/>
<path class="l k17" style="stroke-width:2.8" d="M1010 1876c2 2 8 8 12 11"/>
<path class="l k18" style="stroke-width:2.8" d="M1022 1887c5 3 8 8 13 8 4 0 8-6 13-8 5-2 12-5 18-5 5 0 15 4 16 6"/>
<path class="l k16" style="stroke-width:2.8" d="M1082 1888c2 2-4 6-8 8"/>
<path class="l k15" style="stroke-width:2.8" d="M1074 1896c-3 2-8 1-11 3"/>
<path class="l k13" style="stroke-width:2.8" d="M1063 1899c-3 2-5 6-5 9"/>
<path class="l k11" style="stroke-width:2.8" d="M1058 1908c-1 2 4 4 3 8"/>
<path class="l k10" style="stroke-width:2.8" d="M1061 1916c-1 4-8 11-11 16-3 4-6 5-6 9"/>
<path class="l k11" style="stroke-width:2.8" d="M1044 1941c0 4 6 11 7 15"/>
<path class="l k13" style="stroke-width:2.8" d="M1051 1956c2 5 2 8 2 12"/>
<path class="l k12" style="stroke-width:2.8" d="M1053 1968c0 3-1 8-4 11"/>
<path class="l k10" style="stroke-width:2.8" d="M1049 1979c-3 3-8 6-12 8"/>
<path class="l k9" style="stroke-width:2.8" d="M1037 1987c-5 2-11 2-15 6"/>
<path class="l k7" style="stroke-width:2.8" d="M1022 1993c-4 3-6 12-7 17-2 4-1 4 0 9"/>
<path class="l k6" style="stroke-width:2.8" d="M1015 2019c1 6 6 20 7 24"/>
<path class="s e2" d="M964 2009l6 5 11 3 13 2 11 1 5-1 2 0-5-6-11-3-14-2-11-1-4 1zM970 2044l5 6 11 5 12 3 11 3 5 0 2 0-4-7-11-4-13-4-10-2-5 0z"/>
<path class="s f2" d="M998 1980l-6-3-9 5-11 7-8 9-2 11 7-1 5 3 10-5 11-8 8-8 1-12zM1008 2019l-5-3-10 3-12 6-10 8-2 11 6-1 5 4 10-3 12-7 10-7 2-12zM1012 2061l-5-4-11 2-12 6-10 7-3 11 6-1 5 4 10-2 13-5 10-7 3-11z"/>
<path class="l k3" style="stroke-width:2" d="M1006 1922c0 3-2 16-2 22 0 6 3 12 1 16-2 4-10 8-13 8-3 0-3-5-3-6"/>
<path class="l k7" style="stroke-width:2" d="M1001 1928c3 3 12 14 17 19 5 6 9 8 12 14 4 7 8 22 9 26"/>
<path class="l k5" style="stroke-width:2" d="M924 2078c2 2 8 8 10 12 1 3-5 5-3 10 2 5 11 17 16 20 5 3 8 4 13 1 4-4 11-18 15-22 5-5 9-4 11-5"/>
<path class="l k2" style="stroke-width:2" d="M1005 2092c3 0 13 2 14 5 2 3-3 8-4 11-2 3-5 6-4 6 1 0 7-1 10-5 3-5 7-18 8-22"/>
<path class="l k2" style="stroke-width:2" d="M970 1855c4-2 18-7 23-8 6-2 10-3 12-2 2 2 1 7 2 11 1 5 3 12 3 14"/>
<path class="s e4" d="M1038 1892l7 3 12-1 13-4 11-3 3-3 3-2-8-3-11 2-13 4-11 3-3 3z"/>
<path class="s e3" d="M1062 1925l7 3 12-3 13-3 10-4 4-3 2-1-7-3-12 2-13 4-10 3-4 3zM1082 1954l7 4 12 0 14-3 10-2 4-2 3-1-7-4-12 0-13 2-11 3-4 2z"/>
<path class="s e2" d="M1099 1986l6 5 12 2 13 0 11 0 4-1 3-1-6-5-12-2-13 0-11 0-5 1zM1106 2017l5 7 11 5 12 5 11 3 5 0 2 0-4-7-10-5-13-5-11-3-5 0z"/>
<path class="s f4" d="M1061 1853l-7-1-8 8-7 11-5 11 3 11 5-3 7 1 7-8 8-11 5-11-3-12z"/>
<path class="s f3" d="M1083 1885l-7-1-7 8-8 11-4 12 3 11 5-4 7 1 7-8 8-11 5-11-4-12zM1106 1916l-6-1-8 7-8 11-6 11 3 11 6-3 6 1 8-7 8-11 5-11-2-12zM1128 1952l-7-3-8 7-10 9-7 10 1 12 6-2 6 2 9-7 10-9 7-10-1-12z"/>
<path class="s f2" d="M1143 1992l-5-4-10 4-12 6-9 8-3 12 7-1 5 4 11-4 11-6 10-8 2-12zM1148 2037l-4-6-11 0-14 3-11 5-6 11 7 1 4 5 11 0 13-3 12-5 5-11z"/>
<path class="l k17" style="stroke-width:2" d="M1065 1933c1-1 3-4 8-4"/>
<path class="l k16" style="stroke-width:2" d="M1073 1929c4-1 14 1 20 0 6 0 12 0 18-1 6-1 15-4 17-5 2-2-3-5-6-5-3 1-11 5-14 7-4 2-6-1-6 3"/>
<path class="l k15" style="stroke-width:2" d="M1102 1928c0 4 2 13 6 19"/>
<path class="l k14" style="stroke-width:2" d="M1108 1947c3 6 9 11 15 15"/>
<path class="l k13" style="stroke-width:2" d="M1123 1962c5 4 12 4 17 7"/>
<path class="l k12" style="stroke-width:2" d="M1140 1969c4 3 10 8 11 12"/>
<path class="l k11" style="stroke-width:2" d="M1151 1981c1 5-2 10-5 14"/>
<path class="l k10" style="stroke-width:2" d="M1146 1995c-3 4-7 9-13 12-6 4-15 7-22 10"/>
<path class="l k9" style="stroke-width:2" d="M1111 2017c-7 4-15 7-20 11"/>
<path class="l k8" style="stroke-width:2" d="M1091 2028c-6 3-15 5-16 9"/>
<path class="l k7" style="stroke-width:2" d="M1075 2037c0 4 10 9 11 14 1 6 0 13-4 18"/>
<path class="l k6" style="stroke-width:2" d="M1082 2069c-3 5-13 9-17 13-3 5-3 9-3 14"/>
<path class="l k5" style="stroke-width:2" d="M1062 2096c0 5 2 11 5 15"/>
<path class="l k4" style="stroke-width:2" d="M1067 2111c4 4 11 9 16 10 5 1 12-1 14-3"/>
<path class="l k3" style="stroke-width:2" d="M1097 2118c2-1-5-4-1-8 5-3 21-9 28-12"/>
<path class="l k2" style="stroke-width:2" d="M1124 2098c8-4 14-7 18-11 3-3 5-5 3-9-3-4-15-13-18-15"/>
<path class="s f6" d="M1008 2033l-2 5-3 7-3 7-4 7-3 7-2 4-1-1 0 3 0 7 0 5 4-3 6-4 2-1-1-1 2-4 3-7 4-7 3-8 3-7 2-4z"/>
<path class="s f4" d="M1033 2085l2-9 3-14 3-15 3-13 2-12 3-13 1-11 2-7-12-2-1 7-2 11-3 12-2 13-3 13-3 15-3 13-2 10z"/>
<path class="s f3" d="M1067 2078l-1-8-2-12-3-15-3-14-4-16-5-19-3-13 4-1-3-3-11-9-4 13-1 4 3-1 4 13 4 18 4 16 3 15 3 14 2 12 2 9z"/>
<path class="l k11" style="stroke-width:2" d="M950 1923c2-1 7-2 13-2 6 0 16 3 22 4 6 0 14 0 15-1"/>
<path class="l k9" style="stroke-width:2" d="M1000 1924c1-2-7-6-10-8"/>
<path class="l k7" style="stroke-width:2" d="M990 1916c-3-2-7-4-8-4"/>
<path class="s e5" d="M948 2058l-1-8-8-9-9-10-9-7-4-2-2-1 1 8 7 9 10 10 8 7 4 2z"/>
<path class="s e6" d="M964 2016l-2-7-10-8-11-7-10-6-4-1-3-1 3 8 9 7 11 8 10 5 4 1zM973 1979l-2-8-8-9-10-9-8-7-5-2-2-1 1 8 8 9 10 9 9 7 4 2z"/>
<path class="s f5" d="M902 2059l2 6 11 3 13 1 13-1 8-9-6-3-2-6-11-3-13-1-13 1-8 9zM919 2023l3 5 11 2 14-1 12-3 7-9-6-2-3-6-11-2-14 1-12 3-7 9z"/>
<path class="s f6" d="M929 1987l3 6 11 1 13-1 12-4 6-9-6-3-4-5-10-1-14 1-11 4-7 10zM942 1945l3 6 10 3 14 1 12-2 9-8-6-3-3-6-11-3-13-1-13 2-8 8z"/>
<path class="l k15" style="stroke-width:2" d="M1011 1870c-2 0-10 0-16 1"/>
<path class="l k14" style="stroke-width:2" d="M995 1871c-5 0-12-2-16 2"/>
<path class="l k13" style="stroke-width:2" d="M979 1873c-4 4-7 16-5 20 1 4 10 1 14 4 4 3 6 11 9 16"/>
<path class="l k14" style="stroke-width:2" d="M997 1913c3 4 8 10 9 12"/>
<path class="l k18" style="stroke-width:2.8" d="M1008 1875c2 2 6 10 13 12"/>
<path class="l k19" style="stroke-width:2.8" d="M1021 1887c6 3 19 4 25 4 6-1 9-4 12-6 3-1 2-3 7-4 4-1 17-3 20-2"/>
<path class="l k17" style="stroke-width:2.8" d="M1085 1879c3 2 1 10-2 12"/>
<path class="l k16" style="stroke-width:2.8" d="M1083 1891c-4 3-13 3-17 4"/>
<path class="l k14" style="stroke-width:2.8" d="M1066 1895c-4 2-5 1-5 4"/>
<path class="l k12" style="stroke-width:2.8" d="M1061 1899c-1 4 4 12 2 17"/>
<path class="l k11" style="stroke-width:2.8" d="M1063 1916c-2 4-10 5-12 9-3 5-3 13-4 18"/>
<path class="l k12" style="stroke-width:2.8" d="M1047 1943c0 5 1 10 2 15"/>
<path class="l k14" style="stroke-width:2.8" d="M1049 1958c2 5 7 10 7 14"/>
<path class="l k13" style="stroke-width:2.8" d="M1056 1972c0 4-5 6-9 10"/>
<path class="l k11" style="stroke-width:2.8" d="M1047 1982c-4 3-10 7-15 10"/>
<path class="l k10" style="stroke-width:2.8" d="M1032 1992c-5 3-10 5-13 8"/>
<path class="l k8" style="stroke-width:2.8" d="M1019 2000c-4 2-6 3-8 8-1 5-1 16-1 22"/>
<path class="l k7" style="stroke-width:2.8" d="M1010 2030c1 7 3 14 3 17"/>
<path class="s e1" d="M974 2030l6 4 11 1 13 0 11-1 4-2 3-1-6-4-12-1-13 0-11 1-4 2zM984 2060l5 5 11 3 13 2 11 1 4-1 3 0-6-6-11-2-13-2-10-1-5 1zM993 2101l7 2 11-2 12-5 10-5 4-3 2-2-8-1-11 3-12 4-10 5-3 3z"/>
<path class="s f1" d="M1004 1999l-5-3-10 5-10 9-7 9 0 12 6-3 6 3 9-5 10-9 7-9 0-12zM1018 2033l-6-4-9 4-11 8-9 8-1 11 6-1 6 3 9-4 11-7 9-9 1-12zM1026 2071l-6-3-9 5-11 8-9 9 0 12 6-3 5 3 10-4 11-8 8-9 2-11z"/>
<path class="l k1" style="stroke-width:2" d="M999 1942c3 0 14 1 18 3 4 2 5 3 7 7 1 4 0 11 0 17 0 6 2 16 0 20-2 4-10 5-13 4-4-1-7-7-8-8"/>
<path class="l k5" style="stroke-width:2" d="M1008 1954c4 2 17 9 22 12 5 4 5 5 7 11 2 5 4 18 5 21"/>
<path class="l k3" style="stroke-width:2" d="M1045 2008c2 2 9 7 13 9 5 3 11 3 14 8 2 4 1 11 1 19"/>
<path class="l k2" style="stroke-width:2" d="M1073 2044c1 7-1 17 1 25 1 8 6 16 8 22 2 6 0 9 3 13 3 3 9 6 12 9 4 3 5 8 9 10 5 2 13 4 18 2 5-2 11-8 13-13 2-5 1-13-1-17-2-4-10-5-9-7 0-2 11-5 14-6"/>
<path class="l k2" style="stroke-width:2" d="M950 2078c1 2 8 7 9 10 0 2-7 2-5 6 2 5 12 15 17 18 5 3 8 1 13 1 5 0 11 2 16-1 6-2 13-12 16-15"/>
<path class="l k1" style="stroke-width:2" d="M1028 2102c-1 3-5 17-4 19 2 1 8-6 11-9 3-3 5-10 7-10 2 0 5 13 5 11 1-2 0-18-1-22"/>
<path class="l k4" style="stroke-width:2" d="M1018 1895c-1 2-6 11-5 13"/>
<path class="l k3" style="stroke-width:2" d="M1013 1908c1 3 7 5 11 4 4-1 10-7 15-8 4-1 8 0 10 2 2 2-1 7 1 9 3 2 9 4 13 3"/>
<path class="l k2" style="stroke-width:2" d="M1063 1918c5 0 8-5 12-6 5-1 11-2 15-2 3 1 6 4 7 5"/>
<path class="l k5" style="stroke-width:2" d="M1146 1845c-3 0-14-1-20 1"/>
<path class="l k6" style="stroke-width:2" d="M1126 1846c-6 2-12 8-16 11-3 3-5 5-6 5"/>
<path class="s e2" d="M1072 1943l5 6 10 5 13 5 11 3 4 0 3-1-4-6-11-5-13-4-10-4-5 1zM1077 1988l6 5 12 2 13 0 11 0 5-2 2-1-6-4-12-2-13-1-11 1-4 1zM1093 2029l8 3 11-1 13-3 11-3 4-2 2-2-7-3-12 1-13 3-10 3-4 3zM1116 2063l8 2 11-2 13-5 10-4 4-3 2-2-8-3-11 3-13 5-10 4-3 3z"/>
<path class="s f2" d="M1115 1926l-4-5-11 1-13 4-11 6-5 10 6 1 5 5 10-1 14-4 11-5 5-11zM1113 1962l-5-4-10 4-12 6-9 8-2 12 6-1 6 4 10-4 11-6 10-8 2-12zM1122 1994l-7-2-8 6-10 10-7 10 2 12 6-3 6 2 9-6 9-9 7-11-1-11zM1138 2024l-6-1-8 7-8 11-4 12 3 11 5-4 7 1 7-7 8-11 5-12-3-11z"/>
<path class="s f1" d="M1160 2052l-6 0-7 8-6 12-3 12 4 11 5-5 7 1 6-9 7-12 3-12-5-11z"/>
<path class="l k7" style="stroke-width:12" d="M1110 1864c3 0 12-1 17 2 5 3 13 11 13 16 1 4-7 6-11 11-4 5-9 13-13 18-4 4-8 7-9 8"/>
<path class="l k10" style="stroke-width:2" d="M1100 1914c3-1 10-5 14-5 5 1 10 6 14 9 4 3 8 6 12 9"/>
<path class="l k9" style="stroke-width:2" d="M1140 1927c4 3 12 6 15 8"/>
<path class="l k7" style="stroke-width:2" d="M1155 1935c2 2 0 3-2 4-2 1-8 2-12 2"/>
<path class="l k6" style="stroke-width:2" d="M1141 1941c-3 0-8-2-10-3"/>
<path class="l k11" style="stroke-width:2" d="M1097 1912c-1 4-1 14-4 21"/>
<path class="l k13" style="stroke-width:2" d="M1093 1933c-3 6-9 12-13 17"/>
<path class="l k14" style="stroke-width:2" d="M1080 1950c-4 5-9 9-13 13-4 4-10 9-13 12-2 4-2 8-3 10"/>
<path class="l k14" style="stroke-width:2" d="M1059 1913c1 2 2 10 3 15"/>
<path class="l k12" style="stroke-width:2" d="M1062 1928c1 4 4 9 3 13"/>
<path class="l k11" style="stroke-width:2" d="M1065 1941c-2 4-10 5-11 9"/>
<path class="l k13" style="stroke-width:2" d="M1054 1950c-2 4-1 10 0 15"/>
<path class="l k12" style="stroke-width:2" d="M1054 1965c2 5 8 10 8 14"/>
<path class="l k9" style="stroke-width:2" d="M1062 1979c0 4-4 8-7 12"/>
<path class="l k10" style="stroke-width:2" d="M1055 1991c-3 5-7 12-11 14"/>
<path class="l k8" style="stroke-width:2" d="M1044 2005c-4 3-10-1-13 1"/>
<path class="l k6" style="stroke-width:2" d="M1031 2006c-3 2-6 9-7 11"/>
<path class="s f2" d="M1018 2092l2-6-11-3-2 6z"/>
<path class="s f3" d="M1020 2086l3-9 3-10 2-10-12-1-2 8-3 10-2 9z"/>
<path class="s f4" d="M1028 2057l1-9-1-10 4 0-6-9-4-5-4 6-5 8-1 1 4 0 1 8-1 9z"/>
<path class="s f1" d="M1054 2089l0-8-1-12-1-12-1-11 0-10 0-8 4 0-1-2-6-9-4-6-4 6-5 9-1 2 4 0 0 8 0 11 1 11 1 12 1 12 0 8z"/>
<path class="s e15" d="M955 1912l1 8 8 8 10 9 8 7 5 2 3 0-2-7-8-9-10-9-8-6-4-1z"/>
<path class="s e8" d="M942 1959l4 7 10 6 13 5 10 5 4 0 3 0-3-7-10-6-13-6-10-4-5 0z"/>
<path class="s e6" d="M938 1990l2 8 8 8 11 8 9 6 4 1 3 1-2-7-9-8-10-9-9-6-5-1z"/>
<path class="s e3" d="M926 2028l3 8 10 6 11 7 10 5 5 0 3 1-4-7-9-7-12-7-10-5-4 0z"/>
<path class="s f17" d="M1000 1919l-1-7-10-4-13-4-13 0-9 7 5 4 2 6 10 5 13 3 12 0 10-7z"/>
<path class="s f12" d="M985 1945l-4-5-11 0-13 3-11 5-6 11 7 0 4 6 11-1 12-2 12-5 5-10z"/>
<path class="s f7" d="M982 1982l-4-6-10-1-14 1-12 4-6 10 6 2 4 5 11 1 13-1 12-4 6-10z"/>
<path class="s f5" d="M970 2021l-3-6-11-1-13 1-12 3-7 10 6 1 4 6 10 1 14 0 11-4 8-9z"/>
<path class="s f2" d="M963 2054l-4-5-11 0-13 2-11 5-6 11 7 1 4 5 10 0 14-3 11-5 6-10z"/>
<path class="l k19" style="stroke-width:3" d="M985 1894c3 1 14 3 19 5 5 2 6 4 9 7 4 3 9 8 11 11 2 4-3 7 1 9"/>
<path class="l k18" style="stroke-width:3" d="M1025 1926c3 2 16 3 21 2 6-1 7-5 12-8"/>
<path class="l k17" style="stroke-width:3" d="M1058 1920c4-3 11-7 15-9"/>
<path class="l k16" style="stroke-width:3" d="M1073 1911c4-3 8-6 7-7"/>
<path class="l k15" style="stroke-width:3" d="M1080 1904c0-1-7 1-9 2-2 1-2 4-3 4"/>
<path class="s e1" d="M964 2030l6 4 11 2 13 0 11-1 5-1 2-1-6-5-11-1-14 0-11 0-4 2zM974 2064l6 5 11 3 13 2 11 1 4-1 3-1-6-5-11-3-13-2-11-1-4 1zM988 2108l7 2 11-5 12-6 10-6 4-4 1-2-8-1-11 5-12 7-9 5-3 4z"/>
<path class="s f1" d="M994 1997l-6-2-9 5-10 9-7 10 0 11 6-2 6 2 9-5 10-9 7-10 0-11zM1008 2035l-6-3-9 4-11 8-9 9-1 11 6-1 6 3 10-5 11-8 8-9 1-11zM1017 2074l-6-2-9 6-10 9-7 10 1 12 6-3 6 2 8-5 10-9 7-10 1-11z"/>
<path class="l k1" style="stroke-width:2" d="M987 1934c2 0 7 2 12 3 4 2 13 4 16 8 3 4 0 9 0 16 0 7 3 21 1 25-2 4-8 1-11 0-3-1-6-4-7-5"/>
<path class="l k5" style="stroke-width:2" d="M998 1947c4 1 19 6 25 9 7 4 9 7 11 12 3 5 5 16 6 19"/>
<path class="l k3" style="stroke-width:2" d="M1040 2000c2 1 10 6 14 8 4 2 9-1 11 4 2 6 2 21 3 30"/>
<path class="l k2" style="stroke-width:2" d="M1068 2042c2 8 3 14 5 22 2 8 6 19 7 25 2 6 1 7 4 11 4 3 12 7 16 11 5 4 8 10 13 12 5 3 13 3 18 1 5-2 10-9 11-15 2-6-1-16-2-21-2-5-7-5-7-8 1-2 9-4 11-5"/>
<path class="l k2" style="stroke-width:2" d="M943 2077c1 2 8 9 9 13 1 4-6 6-3 11 2 4 13 12 17 15 5 3 6 2 11 2 5-1 13-2 19-6 6-3 13-12 15-14"/>
<path class="l k1" style="stroke-width:2" d="M1027 2105c-1 3-6 13-5 15 2 1 12-5 16-8 3-2 4-8 5-8 2 1 4 14 5 10 1-4 2-28 3-34"/>
<path class="l k4" style="stroke-width:2" d="M1005 1882c0 1-1 6 1 10"/>
<path class="l k3" style="stroke-width:2" d="M1006 1892c2 3 5 11 8 11 3 0 7-8 11-9 4-2 10-2 13 0 2 1 2 9 5 10 2 1 6-1 10-3"/>
<path class="l k2" style="stroke-width:2" d="M1053 1901c4-1 9-4 14-5 4-2 10-2 14-1 4 0 8 3 10 4"/>
<path class="l k5" style="stroke-width:2" d="M1142 1821c-5 1-18 4-26 6"/>
<path class="l k6" style="stroke-width:2" d="M1116 1827c-7 2-16 3-20 6-3 2 0 9-1 11"/>
<path class="s e2" d="M1065 1929l4 6 11 5 13 4 11 3 4 0 3 0-5-7-10-5-13-4-11-2-4 0zM1072 1977l6 4 12 1 14 0 11-1 4-1 3-1-7-5-11-1-14 0-11 1-4 2zM1090 2016l6 4 12 0 14-3 11-2 4-2 2-2-7-3-12 0-13 2-11 3-4 2zM1114 2054l7 2 11-4 12-6 10-5 3-4 2-2-8-1-11 4-12 6-9 5-3 4z"/>
<path class="s f2" d="M1107 1910l-5-5-11 2-13 4-11 7-4 11 7 0 4 5 11-2 13-4 11-7 5-11zM1106 1947l-5-3-10 5-11 7-9 9-1 12 7-2 5 4 10-5 11-7 9-9 1-12zM1118 1981l-7-2-9 6-9 10-7 10 2 12 6-3 6 2 9-6 9-10 7-10-1-12zM1135 2014l-7-1-7 8-8 11-4 12 3 12 5-5 7 1 7-8 8-11 5-12-3-11z"/>
<path class="s f1" d="M1156 2039l-6 2-4 9-3 14 0 12 7 9 3-5 7-2 4-10 3-13 0-12-7-10z"/>
<path class="l k7" style="stroke-width:12" d="M1099 1845c2 0 8-3 14-1 6 3 18 12 20 17 3 5-4 10-7 14-3 4-8 7-11 11-4 5-9 13-11 16"/>
<path class="l k10" style="stroke-width:2" d="M1090 1896c3-1 13-6 18-5 6 1 9 6 14 9 5 3 11 8 17 11"/>
<path class="l k9" style="stroke-width:2" d="M1139 1911c5 2 14 1 17 4"/>
<path class="l k7" style="stroke-width:2" d="M1156 1915c2 3 0 10-3 11-3 2-9-2-14-2"/>
<path class="l k6" style="stroke-width:2" d="M1139 1924c-4-1-9-2-11-3"/>
<path class="l k11" style="stroke-width:2" d="M1086 1895c-1 4-1 16-2 23"/>
<path class="l k13" style="stroke-width:2" d="M1084 1918c-2 7-6 15-10 21"/>
<path class="l k14" style="stroke-width:2" d="M1074 1939c-3 6-7 11-11 15-4 4-12 7-15 10-2 4-1 8-2 10"/>
<path class="l k14" style="stroke-width:2" d="M1055 1900c1 2 5 12 4 16"/>
<path class="l k12" style="stroke-width:2" d="M1059 1916c-1 4-6 6-8 10"/>
<path class="l k11" style="stroke-width:2" d="M1051 1926c-3 4-7 10-7 15"/>
<path class="l k13" style="stroke-width:2" d="M1044 1941c0 5 4 11 6 15"/>
<path class="l k12" style="stroke-width:2" d="M1050 1956c1 5 4 9 4 13"/>
<path class="l k9" style="stroke-width:2" d="M1054 1969c0 5-2 10-5 14"/>
<path class="l k10" style="stroke-width:2" d="M1049 1983c-3 4-10 8-14 10"/>
<path class="l k8" style="stroke-width:2" d="M1035 1993c-4 3-7 0-9 3"/>
<path class="l k6" style="stroke-width:2" d="M1026 1996c-3 4-6 16-7 20"/>
<path class="s f2" d="M1020 2090l0-6-12 0 0 6z"/>
<path class="s f3" d="M1020 2084l0-9 0-9 0-10-12-1 0 10 0 10 0 9z"/>
<path class="s f4" d="M1020 2056l1-9 2-10 0-1 4 1-4-10-3-7-6 6-7 7 4 1 0 1-2 10-1 10z"/>
<path class="s f1" d="M1052 2083l0-7 0-10-1-12 0-11-2-10-1-10 4-1-1 0-7-8-6-6-3 7-4 11 4-1 1 10 2 10 0 10 1 11 0 10 0 7z"/>
<path class="s e15" d="M945 1903l1 8 7 9 10 9 8 7 4 2 3 1-2-8-7-9-10-9-8-7-4-1z"/>
<path class="s e9" d="M931 1948l4 7 10 5 13 5 11 3 4 0 3 0-4-7-11-5-12-5-11-3-4 0z"/>
<path class="s e7" d="M929 1980l2 7 9 8 12 7 9 5 4 1 3 1-2-7-9-8-12-7-9-6-5-1z"/>
<path class="s e4" d="M919 2013l3 7 9 8 11 7 10 5 4 1 3 0-3-7-9-7-11-7-10-5-4-1z"/>
<path class="s e2" d="M911 2052l4 7 10 6 12 6 10 4 5 0 3 1-4-7-10-6-12-6-10-4-5-1z"/>
<path class="s f17" d="M989 1909l-1-7-10-4-13-3-13 0-9 7 6 4 1 6 10 4 13 3 13 1 9-7z"/>
<path class="s f13" d="M973 1937l-3-5-11-1-13 2-11 4-6 11 7 0 3 6 10 1 13-2 11-4 7-10z"/>
<path class="s f7" d="M971 1968l-4-6-10 0-13 3-11 4-6 10 6 2 4 5 11 0 13-2 11-5 6-11z"/>
<path class="s f6" d="M964 2008l-3-7-11-1-13 0-12 3-8 10 7 1 3 7 10 1 14 0 12-3 7-10z"/>
<path class="s f3" d="M954 2041l-3-6-11 0-13 2-12 4-6 11 7 1 4 5 10 1 14-3 11-4 6-10z"/>
<path class="l k19" style="stroke-width:3" d="M970 1883c3 1 10 4 16 5 5 2 13 3 17 6 4 3 4 7 6 11 2 4 3 9 7 11"/>
<path class="l k18" style="stroke-width:3" d="M1016 1916c5 2 13 1 19-1 5-1 10-5 15-8"/>
<path class="l k17" style="stroke-width:3" d="M1050 1907c5-4 9-10 13-14"/>
<path class="l k16" style="stroke-width:3" d="M1063 1893c4-3 12-4 12-5"/>
<path class="l k15" style="stroke-width:3" d="M1075 1888c-1-1-11-1-15 0-4 2-8 8-10 9"/>
<path class="s e5" d="M975 2000l5 6 10 3 13 3 11 2 5 0 2-1-5-5-11-4-13-3-10-2-5 1zM980 2038l5 6 11 4 13 2 10 2 5-1 3 0-6-6-11-3-13-3-10-2-5 1z"/>
<path class="s f5" d="M1012 1976l-5-3-10 3-12 5-9 8-3 11 6-1 5 4 10-3 12-6 10-7 3-11zM1017 2014l-6-4-10 4-11 6-10 8-2 11 6-1 5 3 10-3 12-6 9-8 3-11zM1022 2051l-5-3-10 3-12 7-9 7-3 12 7-1 5 3 10-3 12-6 9-8 2-12z"/>
<path class="l k5" style="stroke-width:2" d="M1010 1920c0 4-2 17-3 25-1 8-2 17-1 22 1 5 7 6 8 7"/>
<path class="l k7" style="stroke-width:2" d="M1010 1917c2 2 10 9 14 12 5 4 10 5 13 10 2 5 1 13 4 21 3 7 10 17 13 24 4 7 7 10 8 16"/>
<path class="l k6" style="stroke-width:2" d="M1062 2000c0 7-7 18-5 25 1 6 9 9 13 15 4 6 6 13 8 21"/>
<path class="l k5" style="stroke-width:2" d="M1078 2061c1 8-2 17 1 25 2 8 9 18 13 21"/>
<path class="l k4" style="stroke-width:2" d="M1092 2107c5 4 11 3 15 1"/>
<path class="l k3" style="stroke-width:2" d="M1107 2108c4-2 7-10 10-14 3-5 3-8 6-12"/>
<path class="l k2" style="stroke-width:2" d="M1123 2082c3-4 10-10 13-13 4-3 8-6 10-7"/>
<path class="l k6" style="stroke-width:2" d="M949 2062c0 3 3 13 2 18-1 5-10 5-10 10 1 5 6 15 11 19 5 4 13 6 18 5 5-1 9-7 13-11 5-4 13-11 15-13"/>
<path class="l k4" style="stroke-width:2" d="M1017 2086c-1 3-7 13-6 17 0 3 7 7 10 5 3-1 9-11 8-12 0-2-11 3-10 4 1 1 12 4 16 3 5 0 7-5 9-6"/>
<path class="l k8" style="stroke-width:2" d="M970 1892c2 1 6 6 11 6 5 1 14-2 17-3"/>
<path class="l k12" style="stroke-width:2" d="M1004 1896c4-3 17-12 23-16"/>
<path class="l k11" style="stroke-width:2" d="M1027 1880c7-4 12-6 18-8"/>
<path class="l k10" style="stroke-width:2" d="M1045 1872c6-2 14-5 19-4"/>
<path class="l k8" style="stroke-width:2" d="M1064 1868c4 1 7 9 9 11"/>
<path class="l k7" style="stroke-width:2" d="M1073 1879c3 3 5 3 6 3"/>
<path class="s e8" d="M1060 1897l4 7 10 5 12 5 11 3 5 1 2-1-4-6-11-6-12-4-10-3-4 0z"/>
<path class="s e6" d="M1067 1950l7 5 12 1 14 0 11-1 4-2 3-1-7-4-12-2-13 1-11 1-5 1z"/>
<path class="s e3" d="M1080 1986l6 5 11 2 14 2 11 0 5-1 2-1-6-5-11-3-14-1-11 0-4 1z"/>
<path class="s e2" d="M1096 2029l7 4 12 0 13-2 11-2 4-2 3-2-7-4-12 1-14 2-10 2-5 2z"/>
<path class="s f7" d="M1105 1884l-5-5-11 0-13 3-12 5-6 10 7 1 4 5 11 0 13-2 12-5 6-10z"/>
<path class="s f8" d="M1100 1918l-6-2-10 5-11 8-7 10 0 12 6-3 6 3 9-5 11-8 8-10 0-11z"/>
<path class="s f4" d="M1113 1954l-6-3-9 5-11 9-8 9-1 12 7-1 6 2 9-5 11-9 8-9 0-12z"/>
<path class="s f2" d="M1125 1994l-6-1-9 6-10 9-7 10 1 12 6-3 6 3 9-6 10-10 7-10-1-12zM1142 2028l-7-2-8 7-9 11-5 11 2 12 6-4 6 2 8-7 9-11 6-11-3-12z"/>
<path class="l k5" style="stroke-width:6" d="M1115 1957c2-1 9-7 15-7 6 1 17 4 21 9 3 4 5 14 2 20-2 6-12 15-18 18-6 2-15 1-19-3-5-4-8-15-9-21 0-6 4-15 5-17"/>
<path class="l k12" style="stroke-width:2" d="M1098 1906c1 2 6 11 6 16"/>
<path class="l k11" style="stroke-width:2" d="M1104 1922c-1 5-8 9-8 14"/>
<path class="l k10" style="stroke-width:2" d="M1096 1936c0 6 2 15 5 19"/>
<path class="l k9" style="stroke-width:2" d="M1101 1955c4 5 10 9 15 10"/>
<path class="l k8" style="stroke-width:2" d="M1116 1965c5 1 13-2 15-2"/>
<path class="l k15" style="stroke-width:2" d="M1056 1932c0 1 1 4 0 7"/>
<path class="l k13" style="stroke-width:2" d="M1056 1939c-1 4-5 11-7 15"/>
<path class="l k12" style="stroke-width:2" d="M1049 1954c-3 3-9 2-9 6"/>
<path class="l k11" style="stroke-width:2" d="M1040 1960c1 4 8 12 11 17 3 4 6 5 5 9"/>
<path class="l k10" style="stroke-width:2" d="M1056 1986c0 3-4 7-7 10"/>
<path class="l k9" style="stroke-width:2" d="M1049 1996c-4 4-9 8-13 11"/>
<path class="l k7" style="stroke-width:2" d="M1036 2007c-4 3-10 6-12 7"/>
<path class="s f5" d="M1010 2094l3-7 3-9 5-11 2-12 2-11 0-12 0-2 4 0-6-9-5-7-5 7-6 9 5 0 0 2 0 11-1 10-3 10-4 10-3 9-3 7z"/>
<path class="s f4" d="M1048 2093l0-7-1-9 0-11 0-11-1-12-13 0 1 13 0 11 0 11 1 9 0 7z"/>
<path class="s f5" d="M1046 2043l0-14 0-5 5 0-5-7-6-9-6 9-5 7 4 0 0 5 0 14z"/>
<path class="s e14" d="M965 1892l0 8 6 10 9 10 7 8 4 2 3 1-1-8-6-9-9-10-7-8-4-2z"/>
<path class="s e9" d="M945 1934l2 8 9 7 12 7 9 6 5 0 3 1-3-7-9-8-12-7-9-5-5-1z"/>
<path class="s e7" d="M937 1975l4 7 10 6 12 6 11 4 4 0 3 0-4-6-10-6-12-6-10-4-5 0z"/>
<path class="s e6" d="M932 2008l3 7 8 8 11 8 9 7 4 1 3 1-2-8-9-8-10-8-9-6-5-1z"/>
<path class="s f18" d="M1009 1903l-1-7-10-5-12-5-13-1-10 6 5 4 1 7 10 5 12 4 13 2 10-6z"/>
<path class="s f11" d="M989 1929l-3-6-10-1-14 0-12 2-7 10 6 1 3 7 10 1 14 0 12-2 8-9z"/>
<path class="s f8" d="M980 1962l-4-5-11 0-13 3-11 5-6 10 7 1 4 5 10 0 14-2 11-5 6-11z"/>
<path class="s f7" d="M976 1998l-3-6-11 0-13 1-12 4-6 10 6 2 4 6 11 0 13-2 12-4 6-10z"/>
<path class="s f6" d="M966 2038l-3-6-11-2-13 0-13 3-7 9 6 2 3 7 11 1 13 0 12-2 8-10z"/>
<path class="l k20" style="stroke-width:3" d="M1007 1897c2 1 8 5 14 4 5-1 13-6 17-9"/>
<path class="l k19" style="stroke-width:3" d="M1038 1892c4-3 4-7 6-9 3-3 6-9 8-8 3 1 7 7 7 12"/>
<path class="l k18" style="stroke-width:3" d="M1059 1887c0 4-7 12-8 17-2 5-4 8-3 12"/>
<path class="l k17" style="stroke-width:3" d="M1048 1916c1 4 6 11 9 13 4 1 8-3 13-6"/>
<path class="l k16" style="stroke-width:3" d="M1070 1923c6-3 14-8 19-11"/>
<path class="l k15" style="stroke-width:3" d="M1089 1912c5-3 11-6 13-8"/>
<path class="s e5" d="M975 2001l5 6 11 5 12 4 11 2 4 0 3 0-4-6-11-5-13-4-11-2-4 0zM977 2040l4 6 11 6 12 5 10 4 5 0 3 0-4-7-11-5-12-5-10-4-5 0z"/>
<path class="s f5" d="M1013 1977l-5-3-10 3-12 5-10 8-3 11 7 0 5 3 10-3 12-6 10-7 3-11zM1017 2018l-5-4-11 3-12 5-10 7-4 11 7 0 5 4 10-3 13-5 10-7 3-11zM1017 2061l-5-4-10 2-13 4-10 7-4 10 6 1 5 4 10-2 13-5 10-6 5-11z"/>
<path class="l k5" style="stroke-width:2" d="M1009 1920c-1 3-2 13-3 20-1 8-4 17-3 23 0 5 6 10 8 12"/>
<path class="l k6" style="stroke-width:2" d="M1008 1910c3 4 12 15 17 20 5 5 11 4 13 9 3 5-2 15 1 23 3 7 13 14 16 21 3 7 1 14 2 21 0 8-2 16-1 23 1 7 3 12 6 18 3 6 9 10 12 18"/>
<path class="l k5" style="stroke-width:2" d="M1074 2063c2 8 1 21 3 29"/>
<path class="l k4" style="stroke-width:2" d="M1077 2092c3 9 8 18 12 22"/>
<path class="l k3" style="stroke-width:2" d="M1089 2114c4 4 7 4 12 2 4-1 11-4 15-8"/>
<path class="l k2" style="stroke-width:2" d="M1116 2108c3-4 3-11 6-16 3-6 7-13 11-16 5-4 15-4 17-5"/>
<path class="l k6" style="stroke-width:2" d="M943 2065c-1 4-2 16-4 21-3 5-10 2-9 7 1 6 9 21 14 26 5 4 10 2 14-1 5-3 8-15 13-18 5-3 16 0 19 0"/>
<path class="l k4" style="stroke-width:2" d="M1012 2090c-2 3-12 12-11 16 0 5 8 11 13 11 4 0 12-10 12-10 1-1-11 5-12 6 0 0 5-1 9-3 4-2 14-7 16-9"/>
<path class="l k7" style="stroke-width:2" d="M964 1886c3 1 12 6 18 6 5 1 11-2 14-3"/>
<path class="l k12" style="stroke-width:2" d="M1007 1895c3-3 12-11 18-16"/>
<path class="l k11" style="stroke-width:2" d="M1025 1879c7-5 16-11 23-14"/>
<path class="l k9" style="stroke-width:2" d="M1048 1865c6-2 10-3 15-1"/>
<path class="l k7" style="stroke-width:2" d="M1063 1864c5 2 10 11 14 14"/>
<path class="l k6" style="stroke-width:2" d="M1077 1878c3 3 8 3 9 4"/>
<path class="s e7" d="M1066 1890l4 7 10 6 12 6 10 4 5 0 3 0-4-7-10-6-13-5-10-4-4 0z"/>
<path class="s e6" d="M1068 1938l6 6 12 1 13 1 12 0 4-1 3-1-6-5-12-2-14-1-11 0-4 2z"/>
<path class="s e3" d="M1080 1976l6 5 12 2 13 1 12 1 4-2 3 0-6-6-12-2-13-1-11 0-5 1z"/>
<path class="s e1" d="M1092 2014l6 5 11 2 14 0 11 0 4-2 3-1-6-4-12-2-13 0-11 0-5 1zM1105 2052l6 5 12 1 13 0 11 0 5-2 2-1-6-5-12-1-13 0-11 0-5 2z"/>
<path class="s f7" d="M1110 1879l-3-6-11 0-14 2-12 5-6 10 7 1 4 6 11 0 13-2 12-5 6-10z"/>
<path class="s f8" d="M1105 1913l-6-3-10 3-11 6-10 8-2 12 7-2 5 4 10-3 12-6 9-8 3-11z"/>
<path class="s f5" d="M1113 1946l-6-4-9 5-11 8-8 10 0 12 6-2 6 3 10-5 10-8 8-10 1-12z"/>
<path class="s f2" d="M1125 1984l-6-3-10 5-10 8-9 9 0 12 6-2 6 3 10-5 11-8 8-9 1-12z"/>
<path class="s f1" d="M1137 2020l-6-3-10 6-10 8-8 10 0 12 6-3 6 3 10-5 10-9 8-9 0-12z"/>
<path class="l k5" style="stroke-width:6" d="M1115 1961c3-2 13-9 20-8 7 0 18 5 21 11 4 5 2 16-1 22-3 6-12 9-18 12-7 3-16 8-21 5-4-4-8-18-9-25 0-7 7-15 8-18"/>
<path class="l k11" style="stroke-width:2" d="M1106 1911c0 2 1 5 0 9-1 5-6 11-7 17"/>
<path class="l k10" style="stroke-width:2" d="M1099 1937c0 7 1 16 4 22"/>
<path class="l k9" style="stroke-width:2" d="M1103 1959c3 6 10 11 15 13"/>
<path class="l k8" style="stroke-width:2" d="M1118 1972c5 2 14-1 16-1"/>
<path class="l k15" style="stroke-width:2" d="M1062 1928c0 3 1 12-1 17"/>
<path class="l k13" style="stroke-width:2" d="M1061 1945c-2 4-9 4-13 8"/>
<path class="l k12" style="stroke-width:2" d="M1048 1953c-4 4-12 12-12 16"/>
<path class="l k11" style="stroke-width:2" d="M1036 1969c0 4 10 5 12 7"/>
<path class="l k10" style="stroke-width:2" d="M1048 1976c3 3 3 4 3 8"/>
<path class="l k9" style="stroke-width:2" d="M1051 1984c1 4 3 14 0 19"/>
<path class="l k8" style="stroke-width:2" d="M1051 2003c-4 4-15 7-20 9"/>
<path class="l k7" style="stroke-width:2" d="M1031 2012c-5 3-10 4-12 5"/>
<path class="s f5" d="M1000 2097l2-6 3-9 3-10 3-10 3-12 4-13 1-4 4 1-3-9-3-10-8 7-7 6 4 2-1 4-3 13-4 11-3 10-3 10-3 8-2 6z"/>
<path class="s f4" d="M1044 2103l0-9 0-13 1-14 0-13 0-12 1-12 0-1 4 0-6-9-4-7-5 7-6 9 4 0 0 1-1 12 0 11 0 13-1 15 0 13 0 9z"/>
<path class="s e14" d="M968 1881l-1 7 5 10 7 12 6 9 4 2 2 2 0-8-5-10-6-11-7-9-3-2z"/>
<path class="s e9" d="M943 1925l4 7 9 6 13 6 10 4 4 1 3 0-3-7-10-6-13-6-10-4-4-1z"/>
<path class="s e7" d="M938 1960l3 7 9 7 12 7 9 6 5 1 2 0-2-7-10-7-11-7-10-6-4-1z"/>
<path class="s e6" d="M930 1994l2 7 8 9 10 8 9 7 4 1 3 1-2-7-8-9-10-8-9-7-5-2zM917 2025l1 7 7 9 9 10 9 7 4 2 2 1-1-7-7-10-10-9-8-7-4-2z"/>
<path class="s f17" d="M1010 1898l0-7-8-7-12-6-12-3-11 4 4 5 0 7 8 6 12 7 12 3 12-4z"/>
<path class="s f12" d="M987 1920l-3-5-11-2-13-1-12 3-7 10 7 1 2 6 10 2 13 0 12-2 8-8z"/>
<path class="s f8" d="M981 1948l-3-5-11 0-13 2-12 4-6 10 7 2 4 5 10 0 14-2 11-4 6-11z"/>
<path class="s f6" d="M974 1987l-3-6-11-1-13 0-12 4-7 9 6 2 4 6 10 1 13 0 12-4 7-9zM961 2025l-2-6-10-3-13-2-13 2-8 8 6 3 2 6 10 3 14 2 12-2 9-8z"/>
<path class="l k19" style="stroke-width:3" d="M1008 1893c2 0 4 3 9 3 5-1 16-1 21-4 5-4 6-11 9-15 3-3 6-6 9-6"/>
<path class="l k18" style="stroke-width:3" d="M1056 1871c3 1 9 7 8 12 0 5-8 11-10 17"/>
<path class="l k17" style="stroke-width:3" d="M1054 1900c-2 6-2 13-1 17 1 4 6 6 9 7"/>
<path class="l k16" style="stroke-width:3" d="M1062 1924c3 1 3 2 8 0 5-2 16-10 22-13"/>
<path class="l k15" style="stroke-width:3" d="M1092 1911c5-3 7-2 9-3"/>
<path class="s e1" d="M977 2014l6 4 12 1 13 0 11-1 4-1 2-1-6-4-11-2-13 1-11 0-5 2zM987 2045l5 5 11 3 13 2 11 2 4-1 3 0-5-6-11-3-13-2-11-2-5 1z"/>
<path class="s f1" d="M1007 1982l-6-3-9 6-10 9-7 9 0 12 6-3 6 3 9-6 10-9 7-9 0-12zM1021 2017l-5-3-10 4-11 7-8 9-2 11 6-1 6 3 10-4 10-8 9-8 1-12zM1029 2056l-5-3-10 3-12 6-9 7-3 12 7-1 5 4 10-4 12-6 9-7 3-12z"/>
<path class="l k2" style="stroke-width:2" d="M1006 1946c0 2 4 9 4 13-1 3-5 4-6 8-2 3-3 10-4 13"/>
<path class="l k2" style="stroke-width:2" d="M1024 1960c1 3 6 14 7 17 2 4-2 6 1 6 3 0 11-2 16-5 5-2 12-8 14-10"/>
<path class="l k1" style="stroke-width:2" d="M1056 1986c1 3 2 11 4 16 2 6 4 13 7 18 3 6 9 9 13 16 3 6 3 18 7 24 3 7 7 12 13 15 6 3 20 6 24 5 5-2 5-8 6-12 0-5-5-12-2-16 2-5 12-6 17-10 5-5 11-11 12-15 2-4 2-8-1-9-4-1-14 1-20 3-5 1-9 4-11 5"/>
<path class="l k4" style="stroke-width:2" d="M936 2074c3 1 13 7 17 10"/>
<path class="l k3" style="stroke-width:2" d="M953 2084c5 3 9 6 10 9 2 3-4 3-2 7 3 4 11 13 16 14 5 2 12 0 16-4"/>
<path class="l k2" style="stroke-width:2" d="M993 2110c4-3 6-13 10-17 4-5 9-7 14-8 6-2 15-3 19-2 5 1 8 4 8 8"/>
<path class="l k1" style="stroke-width:2" d="M1044 2091c1 4-5 16-4 16 1 0 8-14 10-16 3-1 4 10 5 7 0-3 0-20 0-24"/>
<path class="l k5" style="stroke-width:2" d="M1148 1856c-4 2-17 8-23 12"/>
<path class="l k6" style="stroke-width:2" d="M1125 1868c-7 3-11 4-13 7-3 4-4 9-2 14"/>
<path class="l k7" style="stroke-width:2" d="M1110 1889c3 4 13 12 15 15"/>
<path class="l k2" style="stroke-width:2" d="M1007 1873c3-1 10-6 15-6 5 1 10 4 14 7 4 4 10 11 12 13"/>
<path class="l k5" style="stroke-width:2" d="M978 1910c2-2 8-6 13-13 5-7 15-22 18-26"/>
<path class="s e1" d="M1039 1910l7 5 12 1 14-1 11-1 4-1 3-2-7-4-12-1-13 1-12 1-4 1zM1063 1954l7 3 12-3 13-5 10-5 4-3 2-2-8-2-12 3-12 5-11 4-3 3zM1089 1985l8 3 12-1 13-3 11-2 4-3 2-1-7-4-12 1-13 3-11 3-4 2z"/>
<path class="s f1" d="M1069 1875l-6-2-9 6-10 10-7 10 1 12 6-3 6 2 9-6 10-9 7-11-1-12zM1085 1913l-6 0-8 8-8 11-5 12 3 12 5-5 7 1 8-7 8-11 5-12-2-12zM1107 1942l-6 0-7 9-6 12-4 12 4 11 5-4 7 0 7-9 6-12 4-12-5-11zM1135 1980l-7 0-7 7-9 11-5 11 3 12 5-3 7 0 8-7 8-11 5-11-2-12z"/>
<path class="l k11" style="stroke-width:13" d="M1026 1942c4 4 16 19 24 21 8 1 19-6 24-11"/>
<path class="l k12" style="stroke-width:13" d="M1074 1952c6-5 9-11 10-17"/>
<path class="l k11" style="stroke-width:13" d="M1084 1935c0-6-8-15-7-19"/>
<path class="l k10" style="stroke-width:13" d="M1077 1916c1-4 7-6 13-6"/>
<path class="l k8" style="stroke-width:13" d="M1090 1910c5 0 15 6 21 6 6-1 13-8 16-9"/>
<path class="l k17" style="stroke-width:2" d="M1059 1901c-1 2-2 9-5 14"/>
<path class="l k15" style="stroke-width:2" d="M1054 1915c-2 5-9 10-9 16"/>
<path class="l k14" style="stroke-width:2" d="M1045 1931c0 5 5 12 9 17 4 5 12 8 15 12 2 5 2 10 0 13"/>
<path class="l k13" style="stroke-width:2" d="M1069 1973c-2 4-10 5-14 8-4 2-7 7-8 8"/>
<path class="s f5" d="M1026 2075l1-7 1-10 2-12 2-11-11-2-2 11-2 12-1 11-1 7z"/>
<path class="s f6" d="M1032 2035l3-11-10-3-4 12z"/>
<path class="s f7" d="M1035 2024l4-13 3-7 1 1 0-6-9-3-4 4 1 1-2 7-4 13z"/>
<path class="s f8" d="M1043 1999l-2-9-7 6z"/>
<path class="s f1" d="M1059 2067l-1-6 0-9 0-10 0-10 0-12 0-12 0-4 4 1-5-9-5-8-5 8-6 8 4 0 0 3 0 13 0 12 0 10 0 11 0 9 1 6z"/>
<path class="s e15" d="M971 1907l1 8 7 10 9 9 8 8 5 2 2 1-1-8-7-9-9-10-8-7-4-2z"/>
<path class="s e8" d="M953 1945l2 7 8 9 10 9 8 7 5 2 2 1-1-8-8-9-10-9-9-7-4-1z"/>
<path class="s e6" d="M939 1983l1 7 9 9 10 8 9 7 5 1 2 1-2-7-8-9-10-8-9-7-5-1z"/>
<path class="s e5" d="M926 2022l2 7 9 8 11 7 10 6 5 1 2 1-2-7-9-8-12-8-9-5-4-2z"/>
<path class="s f17" d="M1017 1909l-2-6-11-3-13-2-12 0-9 8 6 4 2 6 10 3 13 2 13 0 9-8z"/>
<path class="s f12" d="M999 1943l-3-6-10-3-14-1-12 2-8 9 6 2 2 7 11 2 13 1 13-1 8-9z"/>
<path class="s f7" d="M984 1978l-3-6-11-2-13 0-12 3-8 9 6 2 3 6 11 2 13 0 12-2 8-9z"/>
<path class="s f6" d="M971 2015l-4-6-10-1-14 0-12 4-7 9 6 2 4 6 10 1 14 0 12-4 7-9z"/>
<path class="s f5" d="M961 2051l-4-6-11 0-13 2-12 4-6 10 6 1 4 6 11 0 13-1 12-5 6-10z"/>
<path class="l k19" style="stroke-width:3" d="M990 1887c2-1 8-4 12-4 4 0 10 0 13 4 3 4 1 17 5 20 4 4 14 1 19 1 5-1 6-1 9-4 3-2 7-11 12-13 4-1 13 5 16 6"/>
<path class="s e2" d="M984 2007l6 5 11 2 13 1 11 0 5-1 2-1-6-5-11-2-13-1-11 0-5 2zM995 2045l6 5 11 3 13 1 11 1 5-1 2-1-5-5-12-2-13-2-11-1-4 1z"/>
<path class="s f2" d="M1016 1976l-6-3-10 6-10 8-8 9 0 12 6-2 6 2 9-5 10-8 8-10 1-11zM1028 2014l-6-2-9 5-11 8-8 9-1 11 6-1 6 2 10-5 10-8 8-9 1-12zM1039 2054l-6-2-9 4-11 8-9 9-1 11 6-1 6 2 9-4 11-8 9-9 1-11z"/>
<path class="l k3" style="stroke-width:2" d="M1016 1935c1 3 8 13 7 18-1 4-12 5-14 9-2 3 1 11 1 13"/>
<path class="l k3" style="stroke-width:2" d="M1039 1957c-1 3-4 14-3 18 1 3 4 5 8 5 3 0 7-5 13-8 5-2 16-5 19-5"/>
<path class="l k2" style="stroke-width:2" d="M1067 1987c0 2 0 11 3 16 3 5 11 9 14 15 3 7 2 14 5 22 2 9 5 20 9 28 4 7 9 12 14 15 5 2 14 0 19-1 4-1 9-2 10-7 2-4-5-15-2-19 3-5 16-3 22-7 6-4 12-13 14-17 1-5-1-12-6-12-4-1-16 6-22 8-6 1-10 3-12 3"/>
<path class="l k5" style="stroke-width:2" d="M936 2074c2 1 11 3 15 7"/>
<path class="l k4" style="stroke-width:2" d="M951 2081c4 3 7 10 10 14 2 3 0 2 3 6 3 3 8 12 13 14 5 2 11 1 15-3"/>
<path class="l k3" style="stroke-width:2" d="M992 2112c5-4 8-18 13-22 5-4 9 0 15 0 6-1 18-4 23-3 5 1 8 5 8 9"/>
<path class="l k2" style="stroke-width:2" d="M1051 2096c0 3-8 11-7 10 1 0 9-11 11-13 2-1 2 10 2 6 1-3 2-22 2-26"/>
<path class="l k6" style="stroke-width:2" d="M1171 1848c-4 2-17 7-23 11"/>
<path class="l k7" style="stroke-width:2" d="M1148 1859c-7 3-14 6-17 11-3 4-1 13 1 17"/>
<path class="l k8" style="stroke-width:2" d="M1132 1887c1 5 7 8 9 10"/>
<path class="l k3" style="stroke-width:2" d="M1023 1863c2-1 10-6 15-6 4 0 9 2 13 6 3 4 7 15 9 18"/>
<path class="l k6" style="stroke-width:2" d="M991 1897c3-2 13-7 19-13 5-5 12-18 15-21"/>
<path class="s e2" d="M1054 1899l6 5 11 2 13 0 12 0 4-1 3-1-6-5-12-2-13-1-11 0-5 2zM1068 1939l7 4 12-2 13-3 11-4 4-2 2-2-8-3-12 2-13 3-10 4-3 2zM1098 1974l7 3 12-2 13-4 10-3 4-3 2-2-7-3-12 2-13 4-10 4-4 3zM1118 2005l7 3 12-1 13-2 11-3 4-2 2-2-7-3-12 1-13 2-11 3-4 2z"/>
<path class="s f2" d="M1087 1868l-6-3-9 5-11 8-9 9 0 12 6-2 6 3 10-5 11-8 8-9 1-12zM1098 1905l-6-2-9 6-10 9-7 10 0 12 6-3 7 3 9-6 10-9 7-10 0-12zM1114 1933l-7 0-6 8-6 12-3 12 4 11 5-5 7 0 6-8 6-12 3-12-5-11zM1142 1966l-6-1-8 7-9 11-5 11 2 12 6-4 7 1 8-7 8-11 5-11-2-12z"/>
<path class="l k12" style="stroke-width:13" d="M1038 1940c4 2 15 10 23 11 8 2 17 0 24-2"/>
<path class="l k13" style="stroke-width:13" d="M1085 1949c7-3 15-6 17-13"/>
<path class="l k12" style="stroke-width:13" d="M1102 1936c2-6-7-21-7-26"/>
<path class="l k11" style="stroke-width:13" d="M1095 1910c1-6 3-8 9-7"/>
<path class="l k9" style="stroke-width:13" d="M1104 1903c5 1 17 11 24 12 8 0 18-9 22-11"/>
<path class="l k18" style="stroke-width:2" d="M1077 1893c-2 3-9 10-12 15"/>
<path class="l k16" style="stroke-width:2" d="M1065 1908c-2 6-3 13-3 19"/>
<path class="l k15" style="stroke-width:2" d="M1062 1927c1 6 5 13 8 18 3 5 11 7 12 13 2 5-1 13-3 17"/>
<path class="l k14" style="stroke-width:2" d="M1079 1975c-2 4-6 3-10 5-4 1-13 4-15 5"/>
<path class="s f6" d="M1034 2075l2-8 3-11 3-13 3-12-11-3-3 12-3 13-3 11-1 8z"/>
<path class="s f7" d="M1045 2031l3-11-11-3-3 11z"/>
<path class="s f8" d="M1048 2020l3-13 1-5 2 1-2-7-7-2-5 5 2 0-2 6-3 12z"/>
<path class="s f9" d="M1052 1996l-2-8-5 6z"/>
<path class="s f2" d="M1067 2075l0-7 0-10-1-11 0-12-1-13 0-15 0-7 4 0-4-7-7-9-6 9-4 7 4 0 0 7 0 15 1 14 0 11 1 12 0 10 0 7z"/>
<path class="s e17" d="M988 1893l0 8 5 10 7 11 7 9 4 2 2 2 0-8-5-10-7-11-7-9-4-2z"/>
<path class="s e10" d="M964 1932l3 8 9 7 11 8 9 6 5 1 3 1-3-7-9-8-11-8-9-6-5-1z"/>
<path class="s e8" d="M954 1966l2 8 8 8 10 9 8 7 4 2 3 1-1-8-8-9-10-8-9-7-4-2z"/>
<path class="s e7" d="M940 2000l1 8 8 8 11 9 8 7 5 1 2 1-1-7-8-9-11-9-8-6-5-2z"/>
<path class="s e6" d="M926 2035l2 8 8 8 10 9 9 6 5 2 2 1-2-8-8-8-10-9-9-6-4-2z"/>
<path class="s f19" d="M1031 1906l0-7-9-6-13-5-12-2-10 6 5 4 0 7 9 6 13 5 12 2 10-6z"/>
<path class="s f14" d="M1009 1932l-2-6-11-3-13-1-12 1-8 8 6 3 2 6 10 3 13 2 12-1 9-8z"/>
<path class="s f8" d="M999 1962l-3-6-10-2-14 0-12 2-8 9 6 3 3 6 11 2 14 0 12-3 7-9z"/>
<path class="s f7" d="M985 1999l-3-6-10-3-14-1-12 2-8 8 6 3 3 6 10 3 13 1 13-2 8-9z"/>
<path class="s f6" d="M971 2033l-3-7-10-2-14 0-12 2-8 9 7 2 2 6 11 3 13 0 12-2 8-9z"/>
<path class="l k20" style="stroke-width:3" d="M1003 1880c2-1 7-5 12-4 4 0 10 2 14 6 4 3 7 11 10 15 3 4 5 9 9 9 5 0 12-7 17-10 4-4 5-9 10-10 5 0 15 5 18 6"/>
<path class="s e2" d="M968 2005l6 6 11 3 13 2 11 2 4-1 3-1-5-5-12-3-13-3-11-1-4 1zM976 2045l5 5 11 4 13 2 11 1 5 0 2-1-5-5-11-4-13-2-11-2-5 1z"/>
<path class="s f2" d="M1004 1978l-6-3-10 4-11 7-9 8-2 12 7-2 5 3 10-4 11-7 9-8 2-12zM1011 2017l-5-3-10 4-11 7-9 9-2 11 6-1 6 3 10-4 11-7 9-9 2-11zM1019 2057l-6-3-10 4-11 7-9 8-2 12 6-2 6 4 10-4 11-7 9-9 2-11z"/>
<path class="l k2" style="stroke-width:2" d="M991 1948c0 2 2 7 2 11-1 4-4 9-4 11"/>
<path class="l k3" style="stroke-width:2" d="M1012 1941c2 4 8 18 13 24 4 5 10 7 15 10 6 3 14 6 17 7"/>
<path class="l k1" style="stroke-width:2" d="M1053 1982c2 5 5 17 9 28 3 10 9 24 13 33 4 9 4 15 10 20 5 5 18 11 22 12 3 0-3-7-1-8 3-1 10 4 15 2 4-2 8-11 10-16 2-6-1-13 3-17 3-4 15-5 19-6"/>
<path class="l k4" style="stroke-width:2" d="M946 2079c2 1 9 5 12 10 3 4 0 14 4 18 3 4 10 7 16 7 6 0 15-2 21-5 5-4 9-13 10-15"/>
<path class="l k2" style="stroke-width:2" d="M1012 2087c1 4 6 19 9 21 3 1 4-11 7-12 4 0 9 9 12 9 4 0 9-6 10-10 1-3-4-10-5-12"/>
<path class="l k6" style="stroke-width:2" d="M999 1857c0 1 0 7 2 9 2 3 7 6 9 7"/>
<path class="l k6" style="stroke-width:2" d="M1000 1857c3-1 14-6 19-7"/>
<path class="l k5" style="stroke-width:2" d="M1019 1850c5-1 8-1 9 1"/>
<path class="l k4" style="stroke-width:2" d="M1028 1851c2 2 3 8 1 12"/>
<path class="l k3" style="stroke-width:2" d="M1029 1863c-1 4-7 10-8 13"/>
<path class="s e7" d="M1099 1895l6 3 12-1 13-3 10-2 5-2 2-2-7-3-12 1-13 3-10 2-4 2z"/>
<path class="s e5" d="M1127 1933l8 2 11-3 12-5 10-4 4-3 2-1-7-2-12 2-12 5-10 4-4 3z"/>
<path class="s f8" d="M1123 1857l-6-1-8 7-8 11-6 10 2 11 5-3 6 1 8-7 9-10 5-11-2-11z"/>
<path class="s f7" d="M1143 1891l-6 1-6 8-6 12-3 11 4 11 4-4 6-1 6-8 6-12 4-12-4-10z"/>
<path class="s e2" d="M1036 1907l7 4 12-1 13-3 11-3 4-2 2-2-7-3-12 1-13 3-11 2-4 3zM1056 1941l7 4 12 0 14-2 11-2 4-2 2-1-7-4-12 0-13 2-11 2-4 2zM1077 1978l7 4 12-1 13-3 11-3 4-2 3-2-8-3-12 1-13 3-11 3-4 2zM1101 2014l8 3 11-3 13-5 10-4 4-3 2-2-8-2-11 3-13 5-10 4-4 3z"/>
<path class="s f2" d="M1059 1868l-7-1-8 7-8 11-5 12 3 11 6-3 6 1 8-8 8-11 5-11-2-12zM1081 1903l-6-1-8 7-9 10-6 12 3 11 5-3 7 1 8-7 9-11 5-11-2-12zM1102 1940l-6-1-9 7-8 10-6 12 2 11 6-3 6 1 9-7 8-10 6-12-2-11zM1123 1974l-7-1-8 8-7 11-5 12 4 12 5-4 7 0 7-7 8-12 4-11-3-12zM1146 2003l-7 2-4 10-3 13 0 12 7 9 4-6 6-1 4-9 3-13 1-12-7-9z"/>
<path class="l k14" style="stroke-width:12" d="M1088 1921c3-2 12-12 16-14"/>
<path class="l k13" style="stroke-width:12" d="M1104 1907c4-1 6 2 8 6"/>
<path class="l k12" style="stroke-width:12" d="M1112 1913c2 3 7 12 6 15"/>
<path class="l k11" style="stroke-width:12" d="M1118 1928c-1 3-10 2-12 2"/>
<path class="l k14" style="stroke-width:2" d="M1086 1930c-3 0-14-2-17 3"/>
<path class="l k13" style="stroke-width:2" d="M1069 1933c-4 4-5 17-6 23"/>
<path class="l k11" style="stroke-width:2" d="M1063 1956c0 6 3 9 2 14"/>
<path class="l k10" style="stroke-width:2" d="M1065 1970c-1 6-4 15-7 19"/>
<path class="l k9" style="stroke-width:2" d="M1058 1989c-4 4-12 5-14 6"/>
<path class="l k16" style="stroke-width:2" d="M1076 1888c-2 1-10 2-13 7"/>
<path class="l k14" style="stroke-width:2" d="M1063 1895c-2 4 0 14-2 19"/>
<path class="l k12" style="stroke-width:2" d="M1061 1914c-2 5-9 6-10 11"/>
<path class="l k11" style="stroke-width:2" d="M1051 1925c-2 5-2 14-2 20"/>
<path class="l k10" style="stroke-width:2" d="M1049 1945c1 6 3 11 4 17"/>
<path class="l k9" style="stroke-width:2" d="M1053 1962c0 6 0 12-1 16"/>
<path class="l k8" style="stroke-width:2" d="M1052 1978c-2 4-5 4-8 7"/>
<path class="l k7" style="stroke-width:2" d="M1044 1985c-2 3-4 9-5 10"/>
<path class="s f6" d="M1021 2079l1-6 0-9 2-9 1-10 3-10 4-12 2-4 1 0-1-7-1-9-7 6-5 5 1 1-1 4-4 13-4 11-1 10-1 10-1 9-1 6z"/>
<path class="s f2" d="M1052 2081l0-6 0-10 0-11 0-10 0-11 0-12 0-2 4 0-5-9-5-7-5 7-6 9 4 0 0 2 0 12 0 11 0 10 0 11 0 10 0 7z"/>
<path class="s e17" d="M971 1899l-1 8 6 10 7 11 6 9 4 3 3 1 0-8-5-10-8-11-6-9-4-2z"/>
<path class="s e12" d="M947 1936l1 8 8 9 9 9 9 7 4 2 3 1-2-8-7-9-10-9-9-7-4-2z"/>
<path class="s e8" d="M932 1978l3 7 10 6 12 6 10 5 5 0 3 0-4-7-10-6-12-6-10-4-4-1z"/>
<path class="s e6" d="M927 2015l3 8 10 7 11 6 10 5 4 1 3 1-3-8-9-7-12-6-9-5-5-1z"/>
<path class="s e5" d="M919 2050l3 8 9 7 11 7 10 6 4 1 3 1-3-8-9-7-11-8-9-5-5-1z"/>
<path class="s f18" d="M1014 1914l0-7-9-6-12-6-12-3-11 5 5 5-1 7 9 6 13 6 12 3 11-5z"/>
<path class="s f15" d="M992 1939l-2-7-11-3-13-2-12 0-9 8 6 3 2 7 10 3 13 2 12 0 9-8z"/>
<path class="s f10" d="M976 1970l-3-6-11-1-13 1-12 4-7 10 7 1 3 6 10 1 14-1 12-3 7-10z"/>
<path class="s f7" d="M970 2002l-4-6-11 1-13 3-11 5-6 10 7 1 4 5 11 0 13-3 11-5 6-10z"/>
<path class="s f6" d="M964 2042l-4-6-11-1-13 1-12 4-6 10 6 1 3 6 11 1 14-1 11-4 7-10z"/>
<path class="l k19" style="stroke-width:3" d="M991 1890c2-1 6-5 10-4 4 0 10 7 13 9 4 2 4 3 8 4 4 1 10 3 15 1 6-1 12-7 18-9 7-2 18-2 21-3"/>
<path class="s e2" d="M962 2009l5 6 12 2 13 2 11 1 4-1 3-1-6-5-11-3-13-1-11-1-5 1zM971 2048l6 6 11 3 13 2 11 1 5-1 2 0-5-6-12-3-13-2-11-1-4 1z"/>
<path class="s f2" d="M995 1979l-6-2-10 4-10 8-8 9-1 12 6-2 6 3 9-5 11-8 8-9 1-12zM1006 2019l-6-3-10 5-11 7-8 9-2 12 7-2 5 3 10-5 11-7 9-9 1-11zM1015 2060l-6-3-10 4-11 8-9 8-1 12 6-2 6 3 10-4 11-7 8-9 2-12z"/>
<path class="l k2" style="stroke-width:2" d="M982 1943c0 3 0 13 0 17-1 5-2 7-2 9"/>
<path class="l k3" style="stroke-width:2" d="M1000 1938c2 3 9 15 14 20 5 6 9 10 14 14 6 3 17 6 20 7"/>
<path class="l k1" style="stroke-width:2" d="M1049 1982c1 4 1 15 5 25 3 10 12 26 16 35 5 9 7 12 12 17 6 6 18 17 22 17 4 0 2-14 5-16 3-1 9 10 13 8 4-2 10-14 12-21 2-7-4-14 0-19 3-4 18-7 21-8"/>
<path class="l k4" style="stroke-width:2" d="M940 2083c2 2 11 7 14 12 3 5-2 14 2 20 3 5 13 12 20 13 6 0 13-5 18-10 5-5 12-17 14-21"/>
<path class="l k2" style="stroke-width:2" d="M1011 2092c2 3 8 17 11 18 2 2 0-9 3-9 3 0 12 9 16 8 4 0 7-5 8-9 1-5-1-15-2-18"/>
<path class="l k7" style="stroke-width:2" d="M983 1845c0 2 2 8 4 11 1 4 4 8 4 10"/>
<path class="l k6" style="stroke-width:2" d="M980 1849c4-2 17-8 23-9"/>
<path class="l k5" style="stroke-width:2" d="M1003 1840c6-1 10-1 12 1"/>
<path class="l k4" style="stroke-width:2" d="M1015 1841c3 2 2 7 1 12"/>
<path class="l k3" style="stroke-width:2" d="M1016 1853c-1 5-5 13-6 15"/>
<path class="s e8" d="M1091 1872l6 4 11 0 13-1 11-1 4-2 2-1-6-3-12-1-12 1-11 1-4 2z"/>
<path class="s e7" d="M1111 1910l7 1 11-4 11-6 9-5 3-3 2-2-7-1-11 4-11 6-9 5-3 3z"/>
<path class="s f8" d="M1122 1842l-6-2-9 5-10 8-7 9-1 11 6-2 6 2 9-5 10-8 7-9 0-11zM1134 1873l-6-1-8 7-8 10-5 11 3 11 4-4 6 1 8-6 8-10 5-11-2-10z"/>
<path class="s f5" d="M1151 1894l-6 1-6 8-5 12-3 11 4 10 5-4 6-1 6-8 5-12 3-11-5-10z"/>
<path class="s e2" d="M1023 1893l7 4 12 0 13-1 11-2 4-2 3-1-7-4-12 0-13 1-11 2-5 2zM1042 1930l7 4 12-2 13-2 11-3 4-3 3-1-8-4-12 2-13 2-11 3-3 3zM1067 1966l8 3 11-3 13-4 11-3 3-3 3-2-8-3-12 3-12 4-11 3-4 3zM1091 1998l8 2 11-2 13-4 11-4 3-3 3-2-8-2-12 2-12 4-11 4-3 3zM1124 2033l8 0 10-7 10-9 8-8 3-4 1-2-8 0-10 7-10 9-9 7-2 4z"/>
<path class="s f2" d="M1051 1857l-7-2-8 6-10 10-6 11 1 12 6-3 7 2 8-7 10-10 6-10-1-12zM1068 1893l-6-2-8 7-9 10-7 11 2 12 6-3 7 1 8-6 9-10 6-11-2-12zM1088 1925l-7 0-7 8-8 11-4 12 4 11 5-4 6 1 8-8 7-11 5-12-4-11zM1112 1957l-7-1-7 8-7 12-5 11 4 12 5-4 7 0 7-8 7-11 5-12-4-11zM1136 1988l-7 1-6 10-5 12-2 13 6 10 4-5 7 0 6-10 5-12 2-13-5-10z"/>
<path class="l k14" style="stroke-width:12" d="M1077 1913c2-2 8-11 13-13 5-2 13-3 17 0"/>
<path class="l k13" style="stroke-width:12" d="M1107 1900c5 3 11 13 9 17"/>
<path class="l k11" style="stroke-width:12" d="M1116 1917c-2 4-16 5-20 6"/>
<path class="l k15" style="stroke-width:2" d="M1075 1919c-2 0-8-1-11 4"/>
<path class="l k14" style="stroke-width:2" d="M1064 1923c-4 4-8 14-9 21"/>
<path class="l k12" style="stroke-width:2" d="M1055 1944c-2 7 2 14 1 21"/>
<path class="l k10" style="stroke-width:2" d="M1056 1965c-1 6-2 15-5 18-3 4-11 3-13 3"/>
<path class="l k17" style="stroke-width:2" d="M1070 1878c-2 1-12 2-15 7"/>
<path class="l k15" style="stroke-width:2" d="M1055 1885c-2 4 2 13 0 19"/>
<path class="l k13" style="stroke-width:2" d="M1055 1904c-3 7-11 13-15 18"/>
<path class="l k11" style="stroke-width:2" d="M1040 1922c-3 5-6 7-5 12 1 6 10 15 12 22"/>
<path class="l k10" style="stroke-width:2" d="M1047 1956c3 6 5 12 4 16"/>
<path class="l k8" style="stroke-width:2" d="M1051 1972c-1 5-6 7-10 11"/>
<path class="l k7" style="stroke-width:2" d="M1041 1983c-3 4-9 11-11 13"/>
<path class="s f6" d="M1021 2085l-1-7-1-11 0-12 1-10 3-11 4-11 2-4-11-5-2 4-5 13-3 12-1 12 0 13 1 11 1 7z"/>
<path class="s f7" d="M1031 2020l-1-8 0-9-7 6-7 4z"/>
<path class="s f2" d="M1053 2081l-1-5 0-7-1-9-1-9-2-13-2-15-1-7 4-1-5-6-8-8-5 10-3 7 4 0 1 7 2 15 2 12 1 10 1 8 0 7 1 5z"/>
<path class="s e18" d="M954 1895l0 8 5 10 7 11 7 9 4 3 2 1 1-7-6-11-7-11-7-9-4-2z"/>
<path class="s e13" d="M931 1940l3 8 10 7 11 6 10 6 5 0 3 1-3-7-10-7-12-7-9-5-5-1z"/>
<path class="s e9" d="M924 1977l2 8 9 8 11 7 9 6 5 1 3 1-3-7-9-8-11-8-9-6-4-1z"/>
<path class="s e7" d="M914 2017l3 8 10 6 13 6 10 4 5 1 3 0-4-7-10-6-13-6-10-5-4 0z"/>
<path class="s e5" d="M912 2060l4 7 10 5 13 5 11 3 4 0 3 0-4-6-11-6-12-4-11-4-5 0z"/>
<path class="s f19" d="M998 1909l0-7-10-6-12-5-13-3-10 6 5 4 0 7 9 6 13 5 12 3 11-6z"/>
<path class="s f16" d="M975 1935l-3-6-10-1-14-1-11 3-8 10 7 1 2 7 11 1 13 0 11-2 8-9z"/>
<path class="s f11" d="M968 1967l-4-6-10 0-14 2-12 4-6 10 6 2 4 5 11 0 14-1 11-5 7-10z"/>
<path class="s f7" d="M958 2007l-4-6-11 0-13 2-12 4-6 10 7 1 3 6 11 0 13-1 12-5 6-9z"/>
<path class="s f6" d="M953 2042l-5-5-11 2-12 4-11 6-4 11 6 0 5 5 11-1 12-5 11-6 4-11z"/>
<path class="l k20" style="stroke-width:3" d="M976 1885c2 0 8 0 11 0 4 0 6-1 10 1 4 1 11 8 15 9 4 1 4 0 10-3 6-3 18-13 25-15 7-2 15 2 17 2"/>
</g>
</g>
</svg>
</body></html>
